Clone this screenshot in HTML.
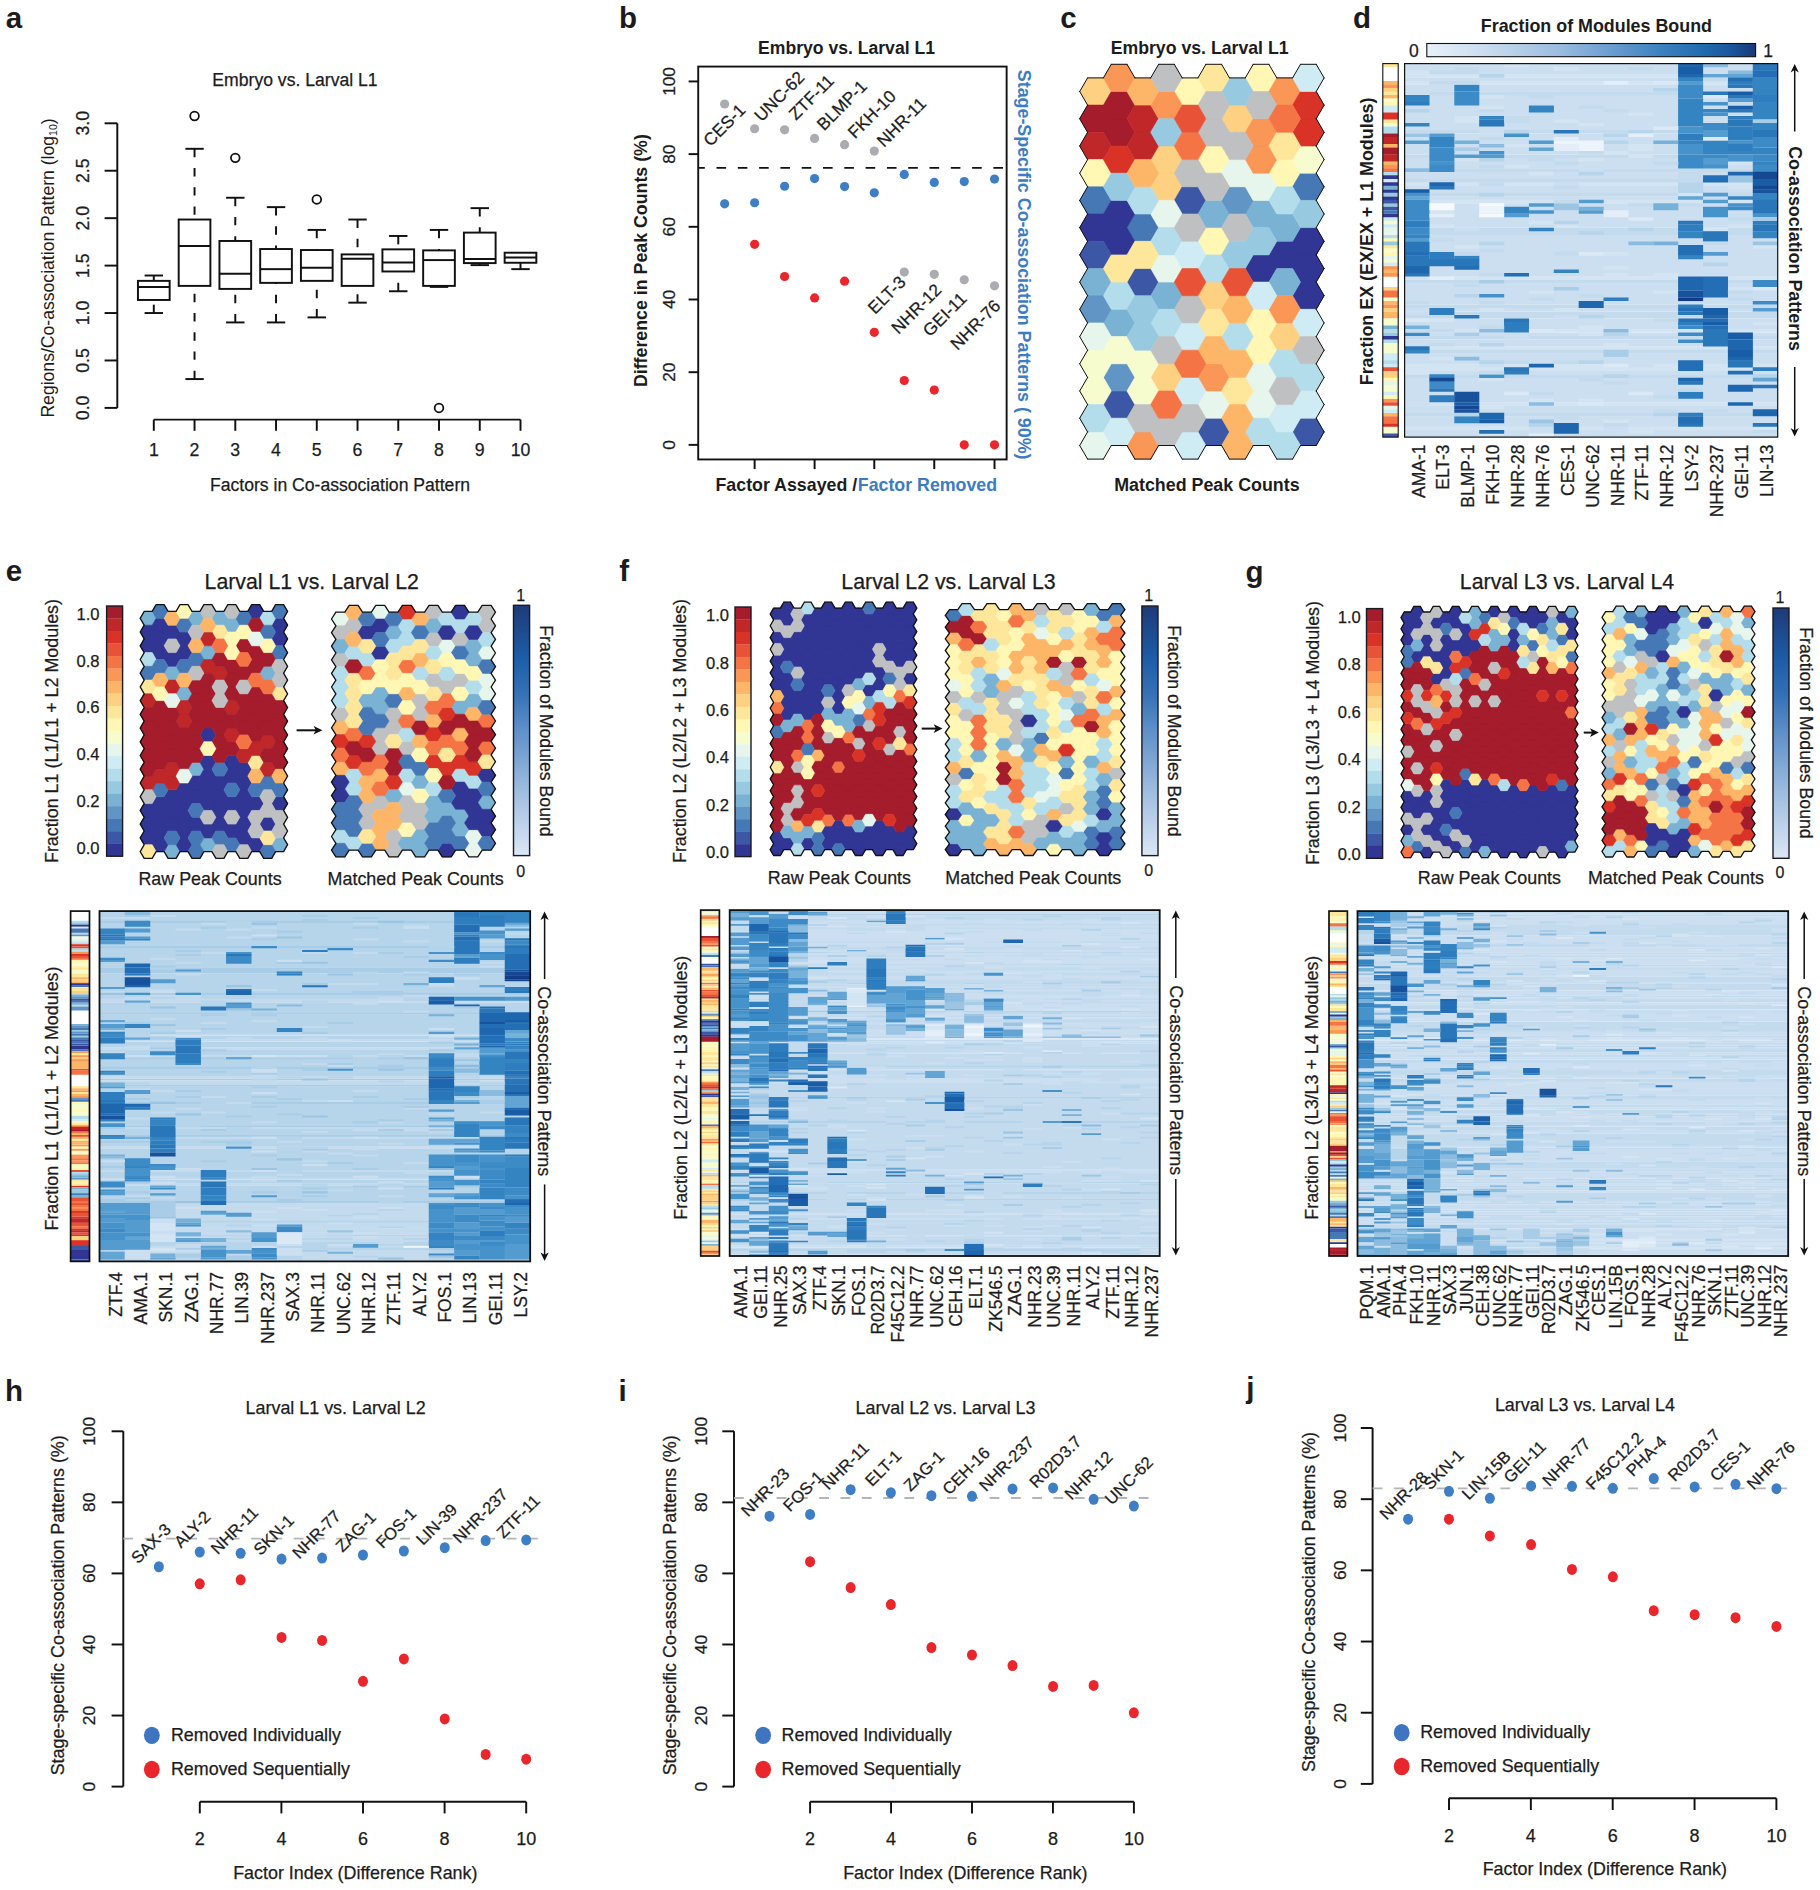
<!DOCTYPE html>
<html lang="en"><head><meta charset="utf-8"><title>Figure</title>
<style>html,body{margin:0;padding:0;background:#fff;}body{width:1820px;height:1890px;overflow:hidden;font-family:'Liberation Sans',Arial,Helvetica,sans-serif;}svg{display:block;}</style></head>
<body>
<svg width="1820" height="1890" viewBox="0 0 1820 1890" font-family="'Liberation Sans', Arial, Helvetica, sans-serif">
<rect x="0" y="0" width="1820" height="1890" fill="#ffffff"/>
<text x="5.80" y="28.00" font-size="29.5" text-anchor="start" font-weight="bold" fill="#1c1c1c">a</text>
<text x="295.00" y="85.50" font-size="17.6" text-anchor="middle" stroke="#1c1c1c" stroke-width="0.25" fill="#1c1c1c">Embryo vs. Larval L1</text>
<line x1="117.30" y1="123.30" x2="117.30" y2="407.90" stroke="#111" stroke-width="1.95"/>
<line x1="117.30" y1="407.90" x2="104.60" y2="407.90" stroke="#111" stroke-width="1.95"/>
<text x="88.80" y="407.90" font-size="17.7" text-anchor="middle" stroke="#1c1c1c" stroke-width="0.25" fill="#1c1c1c" transform="rotate(-90 88.80 407.90)">0.0</text>
<line x1="117.30" y1="360.47" x2="104.60" y2="360.47" stroke="#111" stroke-width="1.95"/>
<text x="88.80" y="360.47" font-size="17.7" text-anchor="middle" stroke="#1c1c1c" stroke-width="0.25" fill="#1c1c1c" transform="rotate(-90 88.80 360.47)">0.5</text>
<line x1="117.30" y1="313.03" x2="104.60" y2="313.03" stroke="#111" stroke-width="1.95"/>
<text x="88.80" y="313.03" font-size="17.7" text-anchor="middle" stroke="#1c1c1c" stroke-width="0.25" fill="#1c1c1c" transform="rotate(-90 88.80 313.03)">1.0</text>
<line x1="117.30" y1="265.60" x2="104.60" y2="265.60" stroke="#111" stroke-width="1.95"/>
<text x="88.80" y="265.60" font-size="17.7" text-anchor="middle" stroke="#1c1c1c" stroke-width="0.25" fill="#1c1c1c" transform="rotate(-90 88.80 265.60)">1.5</text>
<line x1="117.30" y1="218.17" x2="104.60" y2="218.17" stroke="#111" stroke-width="1.95"/>
<text x="88.80" y="218.17" font-size="17.7" text-anchor="middle" stroke="#1c1c1c" stroke-width="0.25" fill="#1c1c1c" transform="rotate(-90 88.80 218.17)">2.0</text>
<line x1="117.30" y1="170.73" x2="104.60" y2="170.73" stroke="#111" stroke-width="1.95"/>
<text x="88.80" y="170.73" font-size="17.7" text-anchor="middle" stroke="#1c1c1c" stroke-width="0.25" fill="#1c1c1c" transform="rotate(-90 88.80 170.73)">2.5</text>
<line x1="117.30" y1="123.30" x2="104.60" y2="123.30" stroke="#111" stroke-width="1.95"/>
<text x="88.80" y="123.30" font-size="17.7" text-anchor="middle" stroke="#1c1c1c" stroke-width="0.25" fill="#1c1c1c" transform="rotate(-90 88.80 123.30)">3.0</text>
<text x="53.6" y="268" font-size="17.6" text-anchor="middle" fill="#1c1c1c" transform="rotate(-90 53.6 268)">Regions/Co-association Pattern (log<tspan font-size="10.5" dy="3.5">10</tspan><tspan dy="-3.5">)</tspan></text>
<line x1="153.80" y1="419.60" x2="520.50" y2="419.60" stroke="#111" stroke-width="1.95"/>
<line x1="153.80" y1="419.60" x2="153.80" y2="430.80" stroke="#111" stroke-width="1.95"/>
<text x="153.80" y="455.80" font-size="17.7" text-anchor="middle" stroke="#1c1c1c" stroke-width="0.25" fill="#1c1c1c">1</text>
<line x1="194.54" y1="419.60" x2="194.54" y2="430.80" stroke="#111" stroke-width="1.95"/>
<text x="194.54" y="455.80" font-size="17.7" text-anchor="middle" stroke="#1c1c1c" stroke-width="0.25" fill="#1c1c1c">2</text>
<line x1="235.29" y1="419.60" x2="235.29" y2="430.80" stroke="#111" stroke-width="1.95"/>
<text x="235.29" y="455.80" font-size="17.7" text-anchor="middle" stroke="#1c1c1c" stroke-width="0.25" fill="#1c1c1c">3</text>
<line x1="276.03" y1="419.60" x2="276.03" y2="430.80" stroke="#111" stroke-width="1.95"/>
<text x="276.03" y="455.80" font-size="17.7" text-anchor="middle" stroke="#1c1c1c" stroke-width="0.25" fill="#1c1c1c">4</text>
<line x1="316.78" y1="419.60" x2="316.78" y2="430.80" stroke="#111" stroke-width="1.95"/>
<text x="316.78" y="455.80" font-size="17.7" text-anchor="middle" stroke="#1c1c1c" stroke-width="0.25" fill="#1c1c1c">5</text>
<line x1="357.52" y1="419.60" x2="357.52" y2="430.80" stroke="#111" stroke-width="1.95"/>
<text x="357.52" y="455.80" font-size="17.7" text-anchor="middle" stroke="#1c1c1c" stroke-width="0.25" fill="#1c1c1c">6</text>
<line x1="398.27" y1="419.60" x2="398.27" y2="430.80" stroke="#111" stroke-width="1.95"/>
<text x="398.27" y="455.80" font-size="17.7" text-anchor="middle" stroke="#1c1c1c" stroke-width="0.25" fill="#1c1c1c">7</text>
<line x1="439.01" y1="419.60" x2="439.01" y2="430.80" stroke="#111" stroke-width="1.95"/>
<text x="439.01" y="455.80" font-size="17.7" text-anchor="middle" stroke="#1c1c1c" stroke-width="0.25" fill="#1c1c1c">8</text>
<line x1="479.76" y1="419.60" x2="479.76" y2="430.80" stroke="#111" stroke-width="1.95"/>
<text x="479.76" y="455.80" font-size="17.7" text-anchor="middle" stroke="#1c1c1c" stroke-width="0.25" fill="#1c1c1c">9</text>
<line x1="520.50" y1="419.60" x2="520.50" y2="430.80" stroke="#111" stroke-width="1.95"/>
<text x="520.50" y="455.80" font-size="17.7" text-anchor="middle" stroke="#1c1c1c" stroke-width="0.25" fill="#1c1c1c">10</text>
<text x="340.00" y="491.00" font-size="17.6" text-anchor="middle" stroke="#1c1c1c" stroke-width="0.25" fill="#1c1c1c">Factors in Co-association Pattern</text>
<line x1="153.80" y1="275.51" x2="153.80" y2="280.87" stroke="#111" stroke-width="1.95" stroke-dasharray="8.4 10.8"/>
<line x1="153.80" y1="313.04" x2="153.80" y2="299.97" stroke="#111" stroke-width="1.95" stroke-dasharray="8.4 10.8"/>
<line x1="144.60" y1="275.51" x2="163.00" y2="275.51" stroke="#111" stroke-width="1.95"/>
<line x1="144.60" y1="313.04" x2="163.00" y2="313.04" stroke="#111" stroke-width="1.95"/>
<rect x="137.95" y="280.87" width="31.70" height="19.10" fill="#fff" stroke="#111" stroke-width="1.95"/>
<line x1="137.95" y1="286.90" x2="169.65" y2="286.90" stroke="#111" stroke-width="1.95"/>
<line x1="194.54" y1="148.81" x2="194.54" y2="219.53" stroke="#111" stroke-width="1.95" stroke-dasharray="8.4 10.8"/>
<line x1="194.54" y1="379.07" x2="194.54" y2="285.90" stroke="#111" stroke-width="1.95" stroke-dasharray="8.4 10.8"/>
<line x1="185.34" y1="148.81" x2="203.74" y2="148.81" stroke="#111" stroke-width="1.95"/>
<line x1="185.34" y1="379.07" x2="203.74" y2="379.07" stroke="#111" stroke-width="1.95"/>
<rect x="178.69" y="219.53" width="31.70" height="66.36" fill="#fff" stroke="#111" stroke-width="1.95"/>
<line x1="178.69" y1="246.01" x2="210.39" y2="246.01" stroke="#111" stroke-width="1.95"/>
<circle cx="194.54" cy="115.97" r="4.35" fill="none" stroke="#111" stroke-width="1.75"/>
<line x1="235.29" y1="197.75" x2="235.29" y2="240.98" stroke="#111" stroke-width="1.95" stroke-dasharray="8.4 10.8"/>
<line x1="235.29" y1="322.43" x2="235.29" y2="288.91" stroke="#111" stroke-width="1.95" stroke-dasharray="8.4 10.8"/>
<line x1="226.09" y1="197.75" x2="244.49" y2="197.75" stroke="#111" stroke-width="1.95"/>
<line x1="226.09" y1="322.43" x2="244.49" y2="322.43" stroke="#111" stroke-width="1.95"/>
<rect x="219.44" y="240.98" width="31.70" height="47.93" fill="#fff" stroke="#111" stroke-width="1.95"/>
<line x1="219.44" y1="273.83" x2="251.14" y2="273.83" stroke="#111" stroke-width="1.95"/>
<circle cx="235.29" cy="157.86" r="4.35" fill="none" stroke="#111" stroke-width="1.75"/>
<line x1="276.03" y1="207.13" x2="276.03" y2="249.03" stroke="#111" stroke-width="1.95" stroke-dasharray="8.4 10.8"/>
<line x1="276.03" y1="322.43" x2="276.03" y2="282.88" stroke="#111" stroke-width="1.95" stroke-dasharray="8.4 10.8"/>
<line x1="266.83" y1="207.13" x2="285.23" y2="207.13" stroke="#111" stroke-width="1.95"/>
<line x1="266.83" y1="322.43" x2="285.23" y2="322.43" stroke="#111" stroke-width="1.95"/>
<rect x="260.18" y="249.03" width="31.70" height="33.85" fill="#fff" stroke="#111" stroke-width="1.95"/>
<line x1="260.18" y1="269.14" x2="291.88" y2="269.14" stroke="#111" stroke-width="1.95"/>
<line x1="316.78" y1="229.92" x2="316.78" y2="250.03" stroke="#111" stroke-width="1.95" stroke-dasharray="8.4 10.8"/>
<line x1="316.78" y1="317.40" x2="316.78" y2="280.87" stroke="#111" stroke-width="1.95" stroke-dasharray="8.4 10.8"/>
<line x1="307.58" y1="229.92" x2="325.98" y2="229.92" stroke="#111" stroke-width="1.95"/>
<line x1="307.58" y1="317.40" x2="325.98" y2="317.40" stroke="#111" stroke-width="1.95"/>
<rect x="300.93" y="250.03" width="31.70" height="30.84" fill="#fff" stroke="#111" stroke-width="1.95"/>
<line x1="300.93" y1="267.80" x2="332.63" y2="267.80" stroke="#111" stroke-width="1.95"/>
<circle cx="316.78" cy="199.42" r="4.35" fill="none" stroke="#111" stroke-width="1.75"/>
<line x1="357.52" y1="219.53" x2="357.52" y2="254.39" stroke="#111" stroke-width="1.95" stroke-dasharray="8.4 10.8"/>
<line x1="357.52" y1="302.65" x2="357.52" y2="285.90" stroke="#111" stroke-width="1.95" stroke-dasharray="8.4 10.8"/>
<line x1="348.32" y1="219.53" x2="366.72" y2="219.53" stroke="#111" stroke-width="1.95"/>
<line x1="348.32" y1="302.65" x2="366.72" y2="302.65" stroke="#111" stroke-width="1.95"/>
<rect x="341.67" y="254.39" width="31.70" height="31.51" fill="#fff" stroke="#111" stroke-width="1.95"/>
<line x1="341.67" y1="258.75" x2="373.37" y2="258.75" stroke="#111" stroke-width="1.95"/>
<line x1="398.27" y1="235.96" x2="398.27" y2="249.36" stroke="#111" stroke-width="1.95" stroke-dasharray="8.4 10.8"/>
<line x1="398.27" y1="291.26" x2="398.27" y2="271.48" stroke="#111" stroke-width="1.95" stroke-dasharray="8.4 10.8"/>
<line x1="389.07" y1="235.96" x2="407.47" y2="235.96" stroke="#111" stroke-width="1.95"/>
<line x1="389.07" y1="291.26" x2="407.47" y2="291.26" stroke="#111" stroke-width="1.95"/>
<rect x="382.42" y="249.36" width="31.70" height="22.12" fill="#fff" stroke="#111" stroke-width="1.95"/>
<line x1="382.42" y1="262.43" x2="414.12" y2="262.43" stroke="#111" stroke-width="1.95"/>
<line x1="439.01" y1="229.92" x2="439.01" y2="250.37" stroke="#111" stroke-width="1.95" stroke-dasharray="8.4 10.8"/>
<line x1="439.01" y1="286.90" x2="439.01" y2="285.90" stroke="#111" stroke-width="1.95" stroke-dasharray="8.4 10.8"/>
<line x1="429.81" y1="229.92" x2="448.21" y2="229.92" stroke="#111" stroke-width="1.95"/>
<line x1="429.81" y1="286.90" x2="448.21" y2="286.90" stroke="#111" stroke-width="1.95"/>
<rect x="423.16" y="250.37" width="31.70" height="35.53" fill="#fff" stroke="#111" stroke-width="1.95"/>
<line x1="423.16" y1="260.09" x2="454.86" y2="260.09" stroke="#111" stroke-width="1.95"/>
<circle cx="439.01" cy="407.90" r="4.35" fill="none" stroke="#111" stroke-width="1.75"/>
<line x1="479.76" y1="208.14" x2="479.76" y2="232.60" stroke="#111" stroke-width="1.95" stroke-dasharray="8.4 10.8"/>
<line x1="479.76" y1="265.12" x2="479.76" y2="263.10" stroke="#111" stroke-width="1.95" stroke-dasharray="8.4 10.8"/>
<line x1="470.56" y1="208.14" x2="488.96" y2="208.14" stroke="#111" stroke-width="1.95"/>
<line x1="470.56" y1="265.12" x2="488.96" y2="265.12" stroke="#111" stroke-width="1.95"/>
<rect x="463.91" y="232.60" width="31.70" height="30.50" fill="#fff" stroke="#111" stroke-width="1.95"/>
<line x1="463.91" y1="259.08" x2="495.61" y2="259.08" stroke="#111" stroke-width="1.95"/>
<line x1="520.50" y1="269.14" x2="520.50" y2="262.77" stroke="#111" stroke-width="1.95" stroke-dasharray="8.4 10.8"/>
<line x1="511.30" y1="269.14" x2="529.70" y2="269.14" stroke="#111" stroke-width="1.95"/>
<rect x="504.65" y="252.71" width="31.70" height="10.05" fill="#fff" stroke="#111" stroke-width="1.95"/>
<line x1="504.65" y1="257.41" x2="536.35" y2="257.41" stroke="#111" stroke-width="1.95"/>
<text x="619.00" y="28.00" font-size="29.5" text-anchor="start" font-weight="bold" fill="#1c1c1c">b</text>
<text x="846.50" y="53.60" font-size="17.6" text-anchor="middle" font-weight="bold" fill="#1c1c1c">Embryo vs. Larval L1</text>
<line x1="698.22" y1="444.87" x2="688.60" y2="444.87" stroke="#111" stroke-width="1.95"/>
<text x="675.30" y="444.87" font-size="17.3" text-anchor="middle" stroke="#1c1c1c" stroke-width="0.25" fill="#1c1c1c" transform="rotate(-90 675.30 444.87)">0</text>
<line x1="698.22" y1="372.18" x2="688.60" y2="372.18" stroke="#111" stroke-width="1.95"/>
<text x="675.30" y="372.18" font-size="17.3" text-anchor="middle" stroke="#1c1c1c" stroke-width="0.25" fill="#1c1c1c" transform="rotate(-90 675.30 372.18)">20</text>
<line x1="698.22" y1="299.49" x2="688.60" y2="299.49" stroke="#111" stroke-width="1.95"/>
<text x="675.30" y="299.49" font-size="17.3" text-anchor="middle" stroke="#1c1c1c" stroke-width="0.25" fill="#1c1c1c" transform="rotate(-90 675.30 299.49)">40</text>
<line x1="698.22" y1="226.81" x2="688.60" y2="226.81" stroke="#111" stroke-width="1.95"/>
<text x="675.30" y="226.81" font-size="17.3" text-anchor="middle" stroke="#1c1c1c" stroke-width="0.25" fill="#1c1c1c" transform="rotate(-90 675.30 226.81)">60</text>
<line x1="698.22" y1="154.12" x2="688.60" y2="154.12" stroke="#111" stroke-width="1.95"/>
<text x="675.30" y="154.12" font-size="17.3" text-anchor="middle" stroke="#1c1c1c" stroke-width="0.25" fill="#1c1c1c" transform="rotate(-90 675.30 154.12)">80</text>
<line x1="698.22" y1="81.44" x2="688.60" y2="81.44" stroke="#111" stroke-width="1.95"/>
<text x="675.30" y="81.44" font-size="17.3" text-anchor="middle" stroke="#1c1c1c" stroke-width="0.25" fill="#1c1c1c" transform="rotate(-90 675.30 81.44)">100</text>
<line x1="754.62" y1="459.45" x2="754.62" y2="469.08" stroke="#111" stroke-width="1.95"/>
<line x1="814.59" y1="459.45" x2="814.59" y2="469.08" stroke="#111" stroke-width="1.95"/>
<line x1="874.29" y1="459.45" x2="874.29" y2="469.08" stroke="#111" stroke-width="1.95"/>
<line x1="934.27" y1="459.45" x2="934.27" y2="469.08" stroke="#111" stroke-width="1.95"/>
<line x1="994.52" y1="459.45" x2="994.52" y2="469.08" stroke="#111" stroke-width="1.95"/>
<line x1="698.22" y1="167.82" x2="1006.62" y2="167.82" stroke="#111" stroke-width="1.8" stroke-dasharray="9.6 11.7" stroke-dashoffset="3"/>
<rect x="698.22" y="66.58" width="308.41" height="392.87" fill="none" stroke="#111" stroke-width="1.9"/>
<text x="646.80" y="260.60" font-size="17.8" text-anchor="middle" font-weight="bold" fill="#1c1c1c" transform="rotate(-90 646.80 260.60)">Difference in Peak Counts (%)</text>
<text x="1017.60" y="264.70" font-size="17.85" text-anchor="middle" font-weight="bold" fill="#3b7cc2" transform="rotate(90 1017.60 264.70)">Stage-Specific Co-association Patterns ( 90%)</text>
<text x="715.50" y="491.00" font-size="17.8" text-anchor="start" font-weight="bold" fill="#1c1c1c">Factor Assayed /</text>
<text x="857.80" y="491.00" font-size="17.8" text-anchor="start" font-weight="bold" fill="#3b7cc2">Factor Removed</text>
<circle cx="724.63" cy="103.99" r="4.6" fill="#abacaf" stroke="none" stroke-width="1"/>
<circle cx="754.62" cy="128.76" r="4.6" fill="#abacaf" stroke="none" stroke-width="1"/>
<circle cx="784.60" cy="129.86" r="4.6" fill="#abacaf" stroke="none" stroke-width="1"/>
<circle cx="814.59" cy="138.38" r="4.6" fill="#abacaf" stroke="none" stroke-width="1"/>
<circle cx="844.58" cy="144.71" r="4.6" fill="#abacaf" stroke="none" stroke-width="1"/>
<circle cx="874.29" cy="151.04" r="4.6" fill="#abacaf" stroke="none" stroke-width="1"/>
<circle cx="904.28" cy="272.09" r="4.6" fill="#abacaf" stroke="none" stroke-width="1"/>
<circle cx="934.27" cy="274.29" r="4.6" fill="#abacaf" stroke="none" stroke-width="1"/>
<circle cx="964.26" cy="279.80" r="4.6" fill="#abacaf" stroke="none" stroke-width="1"/>
<circle cx="994.52" cy="285.85" r="4.6" fill="#abacaf" stroke="none" stroke-width="1"/>
<circle cx="724.63" cy="203.86" r="4.6" fill="#3e7ec4" stroke="none" stroke-width="1"/>
<circle cx="754.62" cy="202.76" r="4.6" fill="#3e7ec4" stroke="none" stroke-width="1"/>
<circle cx="784.60" cy="186.26" r="4.6" fill="#3e7ec4" stroke="none" stroke-width="1"/>
<circle cx="814.59" cy="178.55" r="4.6" fill="#3e7ec4" stroke="none" stroke-width="1"/>
<circle cx="844.58" cy="186.53" r="4.6" fill="#3e7ec4" stroke="none" stroke-width="1"/>
<circle cx="874.29" cy="192.86" r="4.6" fill="#3e7ec4" stroke="none" stroke-width="1"/>
<circle cx="904.28" cy="174.43" r="4.6" fill="#3e7ec4" stroke="none" stroke-width="1"/>
<circle cx="934.27" cy="182.40" r="4.6" fill="#3e7ec4" stroke="none" stroke-width="1"/>
<circle cx="964.26" cy="181.58" r="4.6" fill="#3e7ec4" stroke="none" stroke-width="1"/>
<circle cx="994.52" cy="179.10" r="4.6" fill="#3e7ec4" stroke="none" stroke-width="1"/>
<circle cx="754.62" cy="244.31" r="4.6" fill="#e8262c" stroke="none" stroke-width="1"/>
<circle cx="784.60" cy="276.49" r="4.6" fill="#e8262c" stroke="none" stroke-width="1"/>
<circle cx="814.59" cy="297.95" r="4.6" fill="#e8262c" stroke="none" stroke-width="1"/>
<circle cx="844.58" cy="281.17" r="4.6" fill="#e8262c" stroke="none" stroke-width="1"/>
<circle cx="874.29" cy="332.34" r="4.6" fill="#e8262c" stroke="none" stroke-width="1"/>
<circle cx="904.28" cy="380.49" r="4.6" fill="#e8262c" stroke="none" stroke-width="1"/>
<circle cx="934.27" cy="390.12" r="4.6" fill="#e8262c" stroke="none" stroke-width="1"/>
<circle cx="964.26" cy="444.87" r="4.6" fill="#e8262c" stroke="none" stroke-width="1"/>
<circle cx="994.52" cy="444.87" r="4.6" fill="#e8262c" stroke="none" stroke-width="1"/>
<text x="710.50" y="147.20" font-size="17.3" text-anchor="start" stroke="#1c1c1c" stroke-width="0.25" fill="#1c1c1c" transform="rotate(-45 710.50 147.20)">CES-1</text>
<text x="761.50" y="122.50" font-size="17.3" text-anchor="start" stroke="#1c1c1c" stroke-width="0.25" fill="#1c1c1c" transform="rotate(-45 761.50 122.50)">UNC-62</text>
<text x="796.00" y="121.00" font-size="17.3" text-anchor="start" stroke="#1c1c1c" stroke-width="0.25" fill="#1c1c1c" transform="rotate(-45 796.00 121.00)">ZTF-11</text>
<text x="824.00" y="131.50" font-size="17.3" text-anchor="start" stroke="#1c1c1c" stroke-width="0.25" fill="#1c1c1c" transform="rotate(-45 824.00 131.50)">BLMP-1</text>
<text x="855.00" y="139.50" font-size="17.3" text-anchor="start" stroke="#1c1c1c" stroke-width="0.25" fill="#1c1c1c" transform="rotate(-45 855.00 139.50)">FKH-10</text>
<text x="884.00" y="148.00" font-size="17.3" text-anchor="start" stroke="#1c1c1c" stroke-width="0.25" fill="#1c1c1c" transform="rotate(-45 884.00 148.00)">NHR-11</text>
<text x="875.00" y="315.00" font-size="17.3" text-anchor="start" stroke="#1c1c1c" stroke-width="0.25" fill="#1c1c1c" transform="rotate(-45 875.00 315.00)">ELT-3</text>
<text x="898.50" y="335.00" font-size="17.3" text-anchor="start" stroke="#1c1c1c" stroke-width="0.25" fill="#1c1c1c" transform="rotate(-45 898.50 335.00)">NHR-12</text>
<text x="930.00" y="337.50" font-size="17.3" text-anchor="start" stroke="#1c1c1c" stroke-width="0.25" fill="#1c1c1c" transform="rotate(-45 930.00 337.50)">GEI-11</text>
<text x="957.50" y="351.00" font-size="17.3" text-anchor="start" stroke="#1c1c1c" stroke-width="0.25" fill="#1c1c1c" transform="rotate(-45 957.50 351.00)">NHR-76</text>
<text x="1060.20" y="27.50" font-size="29.5" text-anchor="start" font-weight="bold" fill="#1c1c1c">c</text>
<text x="1199.60" y="53.70" font-size="17.7" text-anchor="middle" font-weight="bold" fill="#1c1c1c">Embryo vs. Larval L1</text>
<text x="1206.90" y="490.80" font-size="17.85" text-anchor="middle" font-weight="bold" fill="#1c1c1c">Matched Peak Counts</text>
<path d="M1079.7 91.5L1087.6 77.9L1103.4 77.9L1111.3 91.5L1103.4 105.1L1087.6 105.1ZM1150.7 159.6L1158.6 146.0L1174.3 146.0L1182.2 159.6L1174.3 173.2L1158.6 173.2ZM1150.7 186.8L1158.6 173.2L1174.3 173.2L1182.2 186.8L1174.3 200.4L1158.6 200.4ZM1150.7 377.4L1158.6 363.8L1174.3 363.8L1182.2 377.4L1174.3 391.0L1158.6 391.0ZM1198.0 295.7L1205.9 282.1L1221.6 282.1L1229.5 295.7L1221.6 309.3L1205.9 309.3ZM1221.6 118.7L1229.5 105.1L1245.3 105.1L1253.2 118.7L1245.3 132.3L1229.5 132.3ZM1268.9 336.6L1276.8 322.9L1292.6 322.9L1300.5 336.6L1292.6 350.2L1276.8 350.2Z" fill="#fed081" stroke="#fed081" stroke-width="0.6"/>
<path d="M1079.7 118.7L1087.6 105.1L1103.4 105.1L1111.3 118.7L1103.4 132.3L1087.6 132.3ZM1103.4 105.1L1111.3 91.5L1127.0 91.5L1134.9 105.1L1127.0 118.7L1111.3 118.7ZM1103.4 132.3L1111.3 118.7L1127.0 118.7L1134.9 132.3L1127.0 146.0L1111.3 146.0Z" fill="#a51c2c" stroke="#a51c2c" stroke-width="0.6"/>
<path d="M1079.7 146.0L1087.6 132.3L1103.4 132.3L1111.3 146.0L1103.4 159.6L1087.6 159.6ZM1127.0 118.7L1134.9 105.1L1150.7 105.1L1158.6 118.7L1150.7 132.3L1134.9 132.3ZM1127.0 146.0L1134.9 132.3L1150.7 132.3L1158.6 146.0L1150.7 159.6L1134.9 159.6Z" fill="#bf2729" stroke="#bf2729" stroke-width="0.6"/>
<path d="M1079.7 173.2L1087.6 159.6L1103.4 159.6L1111.3 173.2L1103.4 186.8L1087.6 186.8ZM1174.3 91.5L1182.2 77.9L1198.0 77.9L1205.9 91.5L1198.0 105.1L1182.2 105.1ZM1198.0 159.6L1205.9 146.0L1221.6 146.0L1229.5 159.6L1221.6 173.2L1205.9 173.2ZM1198.0 241.3L1205.9 227.6L1221.6 227.6L1229.5 241.3L1221.6 254.9L1205.9 254.9ZM1245.3 77.9L1253.2 64.3L1268.9 64.3L1276.8 77.9L1268.9 91.5L1253.2 91.5ZM1245.3 322.9L1253.2 309.3L1268.9 309.3L1276.8 322.9L1268.9 336.6L1253.2 336.6ZM1245.3 350.2L1253.2 336.6L1268.9 336.6L1276.8 350.2L1268.9 363.8L1253.2 363.8ZM1268.9 173.2L1276.8 159.6L1292.6 159.6L1300.5 173.2L1292.6 186.8L1276.8 186.8Z" fill="#fff7b3" stroke="#fff7b3" stroke-width="0.6"/>
<path d="M1079.7 200.4L1087.6 186.8L1103.4 186.8L1111.3 200.4L1103.4 214.0L1087.6 214.0ZM1127.0 227.6L1134.9 214.0L1150.7 214.0L1158.6 227.6L1150.7 241.3L1134.9 241.3ZM1292.6 186.8L1300.5 173.2L1316.2 173.2L1324.1 186.8L1316.2 200.4L1300.5 200.4Z" fill="#4778b6" stroke="#4778b6" stroke-width="0.6"/>
<path d="M1079.7 227.6L1087.6 214.0L1103.4 214.0L1111.3 227.6L1103.4 241.3L1087.6 241.3ZM1103.4 214.0L1111.3 200.4L1127.0 200.4L1134.9 214.0L1127.0 227.6L1111.3 227.6ZM1103.4 241.3L1111.3 227.6L1127.0 227.6L1134.9 241.3L1127.0 254.9L1111.3 254.9ZM1245.3 268.5L1253.2 254.9L1268.9 254.9L1276.8 268.5L1268.9 282.1L1253.2 282.1ZM1268.9 254.9L1276.8 241.3L1292.6 241.3L1300.5 254.9L1292.6 268.5L1276.8 268.5ZM1292.6 241.3L1300.5 227.6L1316.2 227.6L1324.1 241.3L1316.2 254.9L1300.5 254.9ZM1292.6 268.5L1300.5 254.9L1316.2 254.9L1324.1 268.5L1316.2 282.1L1300.5 282.1ZM1292.6 295.7L1300.5 282.1L1316.2 282.1L1324.1 295.7L1316.2 309.3L1300.5 309.3Z" fill="#313695" stroke="#313695" stroke-width="0.6"/>
<path d="M1079.7 254.9L1087.6 241.3L1103.4 241.3L1111.3 254.9L1103.4 268.5L1087.6 268.5ZM1103.4 404.6L1111.3 391.0L1127.0 391.0L1134.9 404.6L1127.0 418.2L1111.3 418.2ZM1127.0 282.1L1134.9 268.5L1150.7 268.5L1158.6 282.1L1150.7 295.7L1134.9 295.7ZM1174.3 200.4L1182.2 186.8L1198.0 186.8L1205.9 200.4L1198.0 214.0L1182.2 214.0ZM1198.0 431.9L1205.9 418.2L1221.6 418.2L1229.5 431.9L1221.6 445.5L1205.9 445.5ZM1292.6 431.9L1300.5 418.2L1316.2 418.2L1324.1 431.9L1316.2 445.5L1300.5 445.5Z" fill="#3c57a5" stroke="#3c57a5" stroke-width="0.6"/>
<path d="M1079.7 282.1L1087.6 268.5L1103.4 268.5L1111.3 282.1L1103.4 295.7L1087.6 295.7ZM1103.4 322.9L1111.3 309.3L1127.0 309.3L1134.9 322.9L1127.0 336.6L1111.3 336.6ZM1150.7 295.7L1158.6 282.1L1174.3 282.1L1182.2 295.7L1174.3 309.3L1158.6 309.3ZM1198.0 214.0L1205.9 200.4L1221.6 200.4L1229.5 214.0L1221.6 227.6L1205.9 227.6ZM1245.3 214.0L1253.2 200.4L1268.9 200.4L1276.8 214.0L1268.9 227.6L1253.2 227.6ZM1268.9 227.6L1276.8 214.0L1292.6 214.0L1300.5 227.6L1292.6 241.3L1276.8 241.3ZM1268.9 282.1L1276.8 268.5L1292.6 268.5L1300.5 282.1L1292.6 295.7L1276.8 295.7Z" fill="#7ab2d4" stroke="#7ab2d4" stroke-width="0.6"/>
<path d="M1079.7 309.3L1087.6 295.7L1103.4 295.7L1111.3 309.3L1103.4 322.9L1087.6 322.9ZM1103.4 377.4L1111.3 363.8L1127.0 363.8L1134.9 377.4L1127.0 391.0L1111.3 391.0ZM1221.6 200.4L1229.5 186.8L1245.3 186.8L1253.2 200.4L1245.3 214.0L1229.5 214.0Z" fill="#6095c5" stroke="#6095c5" stroke-width="0.6"/>
<path d="M1079.7 336.6L1087.6 322.9L1103.4 322.9L1111.3 336.6L1103.4 350.2L1087.6 350.2ZM1079.7 445.5L1087.6 431.9L1103.4 431.9L1111.3 445.5L1103.4 459.1L1087.6 459.1ZM1150.7 214.0L1158.6 200.4L1174.3 200.4L1182.2 214.0L1174.3 227.6L1158.6 227.6ZM1150.7 268.5L1158.6 254.9L1174.3 254.9L1182.2 268.5L1174.3 282.1L1158.6 282.1ZM1198.0 404.6L1205.9 391.0L1221.6 391.0L1229.5 404.6L1221.6 418.2L1205.9 418.2ZM1221.6 173.2L1229.5 159.6L1245.3 159.6L1253.2 173.2L1245.3 186.8L1229.5 186.8ZM1245.3 186.8L1253.2 173.2L1268.9 173.2L1276.8 186.8L1268.9 200.4L1253.2 200.4ZM1245.3 377.4L1253.2 363.8L1268.9 363.8L1276.8 377.4L1268.9 391.0L1253.2 391.0ZM1245.3 404.6L1253.2 391.0L1268.9 391.0L1276.8 404.6L1268.9 418.2L1253.2 418.2Z" fill="#e7f6ec" stroke="#e7f6ec" stroke-width="0.6"/>
<path d="M1079.7 363.8L1087.6 350.2L1103.4 350.2L1111.3 363.8L1103.4 377.4L1087.6 377.4ZM1079.7 391.0L1087.6 377.4L1103.4 377.4L1111.3 391.0L1103.4 404.6L1087.6 404.6ZM1103.4 350.2L1111.3 336.6L1127.0 336.6L1134.9 350.2L1127.0 363.8L1111.3 363.8ZM1127.0 363.8L1134.9 350.2L1150.7 350.2L1158.6 363.8L1150.7 377.4L1134.9 377.4ZM1127.0 391.0L1134.9 377.4L1150.7 377.4L1158.6 391.0L1150.7 404.6L1134.9 404.6ZM1292.6 159.6L1300.5 146.0L1316.2 146.0L1324.1 159.6L1316.2 173.2L1300.5 173.2Z" fill="#f7fcce" stroke="#f7fcce" stroke-width="0.6"/>
<path d="M1079.7 418.2L1087.6 404.6L1103.4 404.6L1111.3 418.2L1103.4 431.9L1087.6 431.9ZM1103.4 295.7L1111.3 282.1L1127.0 282.1L1134.9 295.7L1127.0 309.3L1111.3 309.3ZM1127.0 200.4L1134.9 186.8L1150.7 186.8L1158.6 200.4L1150.7 214.0L1134.9 214.0ZM1150.7 241.3L1158.6 227.6L1174.3 227.6L1182.2 241.3L1174.3 254.9L1158.6 254.9ZM1150.7 322.9L1158.6 309.3L1174.3 309.3L1182.2 322.9L1174.3 336.6L1158.6 336.6ZM1198.0 268.5L1205.9 254.9L1221.6 254.9L1229.5 268.5L1221.6 282.1L1205.9 282.1ZM1221.6 336.6L1229.5 322.9L1245.3 322.9L1253.2 336.6L1245.3 350.2L1229.5 350.2ZM1245.3 431.9L1253.2 418.2L1268.9 418.2L1276.8 431.9L1268.9 445.5L1253.2 445.5ZM1268.9 200.4L1276.8 186.8L1292.6 186.8L1300.5 200.4L1292.6 214.0L1276.8 214.0ZM1268.9 363.8L1276.8 350.2L1292.6 350.2L1300.5 363.8L1292.6 377.4L1276.8 377.4ZM1268.9 445.5L1276.8 431.9L1292.6 431.9L1300.5 445.5L1292.6 459.1L1276.8 459.1ZM1292.6 377.4L1300.5 363.8L1316.2 363.8L1324.1 377.4L1316.2 391.0L1300.5 391.0Z" fill="#b3ddeb" stroke="#b3ddeb" stroke-width="0.6"/>
<path d="M1103.4 77.9L1111.3 64.3L1127.0 64.3L1134.9 77.9L1127.0 91.5L1111.3 91.5ZM1127.0 445.5L1134.9 431.9L1150.7 431.9L1158.6 445.5L1150.7 459.1L1134.9 459.1ZM1150.7 105.1L1158.6 91.5L1174.3 91.5L1182.2 105.1L1174.3 118.7L1158.6 118.7ZM1198.0 377.4L1205.9 363.8L1221.6 363.8L1229.5 377.4L1221.6 391.0L1205.9 391.0ZM1245.3 132.3L1253.2 118.7L1268.9 118.7L1276.8 132.3L1268.9 146.0L1253.2 146.0ZM1245.3 159.6L1253.2 146.0L1268.9 146.0L1276.8 159.6L1268.9 173.2L1253.2 173.2ZM1268.9 91.5L1276.8 77.9L1292.6 77.9L1300.5 91.5L1292.6 105.1L1276.8 105.1ZM1268.9 309.3L1276.8 295.7L1292.6 295.7L1300.5 309.3L1292.6 322.9L1276.8 322.9Z" fill="#fa9656" stroke="#fa9656" stroke-width="0.6"/>
<path d="M1103.4 159.6L1111.3 146.0L1127.0 146.0L1134.9 159.6L1127.0 173.2L1111.3 173.2ZM1292.6 105.1L1300.5 91.5L1316.2 91.5L1324.1 105.1L1316.2 118.7L1300.5 118.7ZM1292.6 132.3L1300.5 118.7L1316.2 118.7L1324.1 132.3L1316.2 146.0L1300.5 146.0Z" fill="#d93328" stroke="#d93328" stroke-width="0.6"/>
<path d="M1103.4 186.8L1111.3 173.2L1127.0 173.2L1134.9 186.8L1127.0 200.4L1111.3 200.4ZM1127.0 309.3L1134.9 295.7L1150.7 295.7L1158.6 309.3L1150.7 322.9L1134.9 322.9ZM1127.0 336.6L1134.9 322.9L1150.7 322.9L1158.6 336.6L1150.7 350.2L1134.9 350.2ZM1150.7 132.3L1158.6 118.7L1174.3 118.7L1182.2 132.3L1174.3 146.0L1158.6 146.0ZM1221.6 91.5L1229.5 77.9L1245.3 77.9L1253.2 91.5L1245.3 105.1L1229.5 105.1ZM1221.6 254.9L1229.5 241.3L1245.3 241.3L1253.2 254.9L1245.3 268.5L1229.5 268.5ZM1245.3 241.3L1253.2 227.6L1268.9 227.6L1276.8 241.3L1268.9 254.9L1253.2 254.9ZM1292.6 214.0L1300.5 200.4L1316.2 200.4L1324.1 214.0L1316.2 227.6L1300.5 227.6Z" fill="#97c9e0" stroke="#97c9e0" stroke-width="0.6"/>
<path d="M1103.4 268.5L1111.3 254.9L1127.0 254.9L1134.9 268.5L1127.0 282.1L1111.3 282.1ZM1127.0 254.9L1134.9 241.3L1150.7 241.3L1158.6 254.9L1150.7 268.5L1134.9 268.5ZM1198.0 77.9L1205.9 64.3L1221.6 64.3L1229.5 77.9L1221.6 91.5L1205.9 91.5ZM1198.0 322.9L1205.9 309.3L1221.6 309.3L1229.5 322.9L1221.6 336.6L1205.9 336.6ZM1221.6 391.0L1229.5 377.4L1245.3 377.4L1253.2 391.0L1245.3 404.6L1229.5 404.6ZM1268.9 146.0L1276.8 132.3L1292.6 132.3L1300.5 146.0L1292.6 159.6L1276.8 159.6Z" fill="#fee79a" stroke="#fee79a" stroke-width="0.6"/>
<path d="M1103.4 431.9L1111.3 418.2L1127.0 418.2L1134.9 431.9L1127.0 445.5L1111.3 445.5ZM1174.3 254.9L1182.2 241.3L1198.0 241.3L1205.9 254.9L1198.0 268.5L1182.2 268.5ZM1174.3 336.6L1182.2 322.9L1198.0 322.9L1205.9 336.6L1198.0 350.2L1182.2 350.2ZM1174.3 391.0L1182.2 377.4L1198.0 377.4L1205.9 391.0L1198.0 404.6L1182.2 404.6ZM1174.3 445.5L1182.2 431.9L1198.0 431.9L1205.9 445.5L1198.0 459.1L1182.2 459.1ZM1245.3 295.7L1253.2 282.1L1268.9 282.1L1276.8 295.7L1268.9 309.3L1253.2 309.3ZM1268.9 418.2L1276.8 404.6L1292.6 404.6L1300.5 418.2L1292.6 431.9L1276.8 431.9ZM1292.6 77.9L1300.5 64.3L1316.2 64.3L1324.1 77.9L1316.2 91.5L1300.5 91.5ZM1292.6 322.9L1300.5 309.3L1316.2 309.3L1324.1 322.9L1316.2 336.6L1300.5 336.6ZM1292.6 404.6L1300.5 391.0L1316.2 391.0L1324.1 404.6L1316.2 418.2L1300.5 418.2Z" fill="#cfebf3" stroke="#cfebf3" stroke-width="0.6"/>
<path d="M1127.0 91.5L1134.9 77.9L1150.7 77.9L1158.6 91.5L1150.7 105.1L1134.9 105.1ZM1127.0 173.2L1134.9 159.6L1150.7 159.6L1158.6 173.2L1150.7 186.8L1134.9 186.8ZM1198.0 350.2L1205.9 336.6L1221.6 336.6L1229.5 350.2L1221.6 363.8L1205.9 363.8ZM1221.6 309.3L1229.5 295.7L1245.3 295.7L1253.2 309.3L1245.3 322.9L1229.5 322.9ZM1221.6 363.8L1229.5 350.2L1245.3 350.2L1253.2 363.8L1245.3 377.4L1229.5 377.4ZM1221.6 418.2L1229.5 404.6L1245.3 404.6L1253.2 418.2L1245.3 431.9L1229.5 431.9ZM1221.6 445.5L1229.5 431.9L1245.3 431.9L1253.2 445.5L1245.3 459.1L1229.5 459.1Z" fill="#fdb668" stroke="#fdb668" stroke-width="0.6"/>
<path d="M1127.0 418.2L1134.9 404.6L1150.7 404.6L1158.6 418.2L1150.7 431.9L1134.9 431.9ZM1150.7 77.9L1158.6 64.3L1174.3 64.3L1182.2 77.9L1174.3 91.5L1158.6 91.5ZM1150.7 350.2L1158.6 336.6L1174.3 336.6L1182.2 350.2L1174.3 363.8L1158.6 363.8ZM1150.7 431.9L1158.6 418.2L1174.3 418.2L1182.2 431.9L1174.3 445.5L1158.6 445.5ZM1174.3 173.2L1182.2 159.6L1198.0 159.6L1205.9 173.2L1198.0 186.8L1182.2 186.8ZM1174.3 227.6L1182.2 214.0L1198.0 214.0L1205.9 227.6L1198.0 241.3L1182.2 241.3ZM1174.3 309.3L1182.2 295.7L1198.0 295.7L1205.9 309.3L1198.0 322.9L1182.2 322.9ZM1174.3 418.2L1182.2 404.6L1198.0 404.6L1205.9 418.2L1198.0 431.9L1182.2 431.9ZM1198.0 105.1L1205.9 91.5L1221.6 91.5L1229.5 105.1L1221.6 118.7L1205.9 118.7ZM1198.0 132.3L1205.9 118.7L1221.6 118.7L1229.5 132.3L1221.6 146.0L1205.9 146.0ZM1198.0 186.8L1205.9 173.2L1221.6 173.2L1229.5 186.8L1221.6 200.4L1205.9 200.4ZM1221.6 146.0L1229.5 132.3L1245.3 132.3L1253.2 146.0L1245.3 159.6L1229.5 159.6ZM1221.6 227.6L1229.5 214.0L1245.3 214.0L1253.2 227.6L1245.3 241.3L1229.5 241.3ZM1245.3 105.1L1253.2 91.5L1268.9 91.5L1276.8 105.1L1268.9 118.7L1253.2 118.7ZM1268.9 391.0L1276.8 377.4L1292.6 377.4L1300.5 391.0L1292.6 404.6L1276.8 404.6ZM1292.6 350.2L1300.5 336.6L1316.2 336.6L1324.1 350.2L1316.2 363.8L1300.5 363.8Z" fill="#bfc0c2" stroke="#bfc0c2" stroke-width="0.6"/>
<path d="M1150.7 404.6L1158.6 391.0L1174.3 391.0L1182.2 404.6L1174.3 418.2L1158.6 418.2ZM1174.3 146.0L1182.2 132.3L1198.0 132.3L1205.9 146.0L1198.0 159.6L1182.2 159.6ZM1174.3 363.8L1182.2 350.2L1198.0 350.2L1205.9 363.8L1198.0 377.4L1182.2 377.4ZM1268.9 118.7L1276.8 105.1L1292.6 105.1L1300.5 118.7L1292.6 132.3L1276.8 132.3Z" fill="#f57446" stroke="#f57446" stroke-width="0.6"/>
<path d="M1174.3 118.7L1182.2 105.1L1198.0 105.1L1205.9 118.7L1198.0 132.3L1182.2 132.3ZM1174.3 282.1L1182.2 268.5L1198.0 268.5L1205.9 282.1L1198.0 295.7L1182.2 295.7ZM1221.6 282.1L1229.5 268.5L1245.3 268.5L1253.2 282.1L1245.3 295.7L1229.5 295.7Z" fill="#e85337" stroke="#e85337" stroke-width="0.6"/>
<path d="M1079.7 91.5L1087.6 77.9M1087.6 77.9L1103.4 77.9M1079.7 91.5L1087.6 105.1M1079.7 118.7L1087.6 105.1M1079.7 118.7L1087.6 132.3M1079.7 146.0L1087.6 132.3M1079.7 146.0L1087.6 159.6M1079.7 173.2L1087.6 159.6M1079.7 173.2L1087.6 186.8M1079.7 200.4L1087.6 186.8M1079.7 200.4L1087.6 214.0M1079.7 227.6L1087.6 214.0M1079.7 227.6L1087.6 241.3M1079.7 254.9L1087.6 241.3M1079.7 254.9L1087.6 268.5M1079.7 282.1L1087.6 268.5M1079.7 282.1L1087.6 295.7M1079.7 309.3L1087.6 295.7M1079.7 309.3L1087.6 322.9M1079.7 336.6L1087.6 322.9M1079.7 336.6L1087.6 350.2M1079.7 363.8L1087.6 350.2M1079.7 363.8L1087.6 377.4M1079.7 391.0L1087.6 377.4M1079.7 391.0L1087.6 404.6M1079.7 418.2L1087.6 404.6M1079.7 418.2L1087.6 431.9M1079.7 445.5L1087.6 431.9M1103.4 459.1L1111.3 445.5M1087.6 459.1L1103.4 459.1M1079.7 445.5L1087.6 459.1M1103.4 77.9L1111.3 64.3M1111.3 64.3L1127.0 64.3M1127.0 64.3L1134.9 77.9M1111.3 445.5L1127.0 445.5M1134.9 77.9L1150.7 77.9M1150.7 459.1L1158.6 445.5M1134.9 459.1L1150.7 459.1M1127.0 445.5L1134.9 459.1M1150.7 77.9L1158.6 64.3M1158.6 64.3L1174.3 64.3M1174.3 64.3L1182.2 77.9M1158.6 445.5L1174.3 445.5M1182.2 77.9L1198.0 77.9M1198.0 459.1L1205.9 445.5M1182.2 459.1L1198.0 459.1M1174.3 445.5L1182.2 459.1M1198.0 77.9L1205.9 64.3M1205.9 64.3L1221.6 64.3M1221.6 64.3L1229.5 77.9M1205.9 445.5L1221.6 445.5M1229.5 77.9L1245.3 77.9M1245.3 459.1L1253.2 445.5M1229.5 459.1L1245.3 459.1M1221.6 445.5L1229.5 459.1M1245.3 77.9L1253.2 64.3M1253.2 64.3L1268.9 64.3M1268.9 64.3L1276.8 77.9M1253.2 445.5L1268.9 445.5M1276.8 77.9L1292.6 77.9M1292.6 459.1L1300.5 445.5M1276.8 459.1L1292.6 459.1M1268.9 445.5L1276.8 459.1M1292.6 77.9L1300.5 64.3M1300.5 64.3L1316.2 64.3M1316.2 64.3L1324.1 77.9M1316.2 91.5L1324.1 77.9M1316.2 91.5L1324.1 105.1M1316.2 118.7L1324.1 105.1M1316.2 118.7L1324.1 132.3M1316.2 146.0L1324.1 132.3M1316.2 146.0L1324.1 159.6M1316.2 173.2L1324.1 159.6M1316.2 173.2L1324.1 186.8M1316.2 200.4L1324.1 186.8M1316.2 200.4L1324.1 214.0M1316.2 227.6L1324.1 214.0M1316.2 227.6L1324.1 241.3M1316.2 254.9L1324.1 241.3M1316.2 254.9L1324.1 268.5M1316.2 282.1L1324.1 268.5M1316.2 282.1L1324.1 295.7M1316.2 309.3L1324.1 295.7M1316.2 309.3L1324.1 322.9M1316.2 336.6L1324.1 322.9M1316.2 336.6L1324.1 350.2M1316.2 363.8L1324.1 350.2M1316.2 363.8L1324.1 377.4M1316.2 391.0L1324.1 377.4M1316.2 391.0L1324.1 404.6M1316.2 418.2L1324.1 404.6M1316.2 418.2L1324.1 431.9M1316.2 445.5L1324.1 431.9M1300.5 445.5L1316.2 445.5" fill="none" stroke="#111" stroke-width="1.0" stroke-linecap="round"/>
<text x="1353.00" y="28.00" font-size="29.5" text-anchor="start" font-weight="bold" fill="#1c1c1c">d</text>
<text x="1596.40" y="32.30" font-size="17.87" text-anchor="middle" font-weight="bold" fill="#1c1c1c">Fraction of Modules Bound</text>
<defs><linearGradient id="gb" x1="0" x2="1" y1="0" y2="0"><stop offset="0.0" stop-color="#e8f1fa"/><stop offset="0.2" stop-color="#c6daee"/><stop offset="0.4" stop-color="#9bbde0"/><stop offset="0.55" stop-color="#6e9fd1"/><stop offset="0.7" stop-color="#3f84c1"/><stop offset="0.85" stop-color="#1e69ae"/><stop offset="0.93" stop-color="#1a559c"/><stop offset="1.0" stop-color="#1b3877"/></linearGradient><linearGradient id="gbv" x1="0" x2="0" y1="1" y2="0"><stop offset="0.0" stop-color="#dbe7f5"/><stop offset="0.25" stop-color="#a1bee0"/><stop offset="0.5" stop-color="#5f90c9"/><stop offset="0.65" stop-color="#3471b6"/><stop offset="0.8" stop-color="#1c5ba6"/><stop offset="1.0" stop-color="#1f3a78"/></linearGradient></defs>
<rect x="1426.80" y="43.50" width="328.80" height="13.20" fill="url(#gb)" stroke="#111" stroke-width="1.1"/>
<text x="1413.80" y="56.60" font-size="17.5" text-anchor="middle" stroke="#1c1c1c" stroke-width="0.25" fill="#1c1c1c">0</text>
<text x="1768.00" y="56.60" font-size="17.5" text-anchor="middle" stroke="#1c1c1c" stroke-width="0.25" fill="#1c1c1c">1</text>
<path d="M1382.80 63.60h15.40v3.64h-15.40zM1382.80 91.53h15.40v3.64h-15.40zM1382.80 119.45h15.40v3.64h-15.40zM1382.80 245.11h15.40v3.64h-15.40z" fill="#fee79a"/>
<path d="M1382.80 67.09h15.40v3.64h-15.40zM1382.80 70.58h15.40v3.64h-15.40zM1382.80 74.07h15.40v3.64h-15.40zM1382.80 77.56h15.40v3.64h-15.40zM1382.80 276.53h15.40v3.64h-15.40zM1382.80 280.02h15.40v3.64h-15.40zM1382.80 283.51h15.40v3.64h-15.40z" fill="#ffffff"/>
<path d="M1382.80 81.05h15.40v3.64h-15.40zM1382.80 95.02h15.40v3.64h-15.40zM1382.80 143.89h15.40v3.64h-15.40zM1382.80 161.34h15.40v3.64h-15.40zM1382.80 269.55h15.40v3.64h-15.40zM1382.80 300.96h15.40v3.64h-15.40zM1382.80 311.44h15.40v3.64h-15.40zM1382.80 314.93h15.40v3.64h-15.40zM1382.80 412.67h15.40v3.64h-15.40z" fill="#fdb668"/>
<path d="M1382.80 84.54h15.40v3.64h-15.40zM1382.80 164.83h15.40v3.64h-15.40zM1382.80 266.06h15.40v3.64h-15.40zM1382.80 273.04h15.40v3.64h-15.40zM1382.80 304.46h15.40v3.64h-15.40zM1382.80 398.70h15.40v3.64h-15.40z" fill="#fa9656"/>
<path d="M1382.80 88.03h15.40v3.64h-15.40zM1382.80 287.00h15.40v3.64h-15.40zM1382.80 307.95h15.40v3.64h-15.40zM1382.80 370.78h15.40v3.64h-15.40zM1382.80 374.27h15.40v3.64h-15.40z" fill="#fed081"/>
<path d="M1382.80 98.51h15.40v3.64h-15.40zM1382.80 122.94h15.40v3.64h-15.40zM1382.80 220.68h15.40v3.64h-15.40zM1382.80 248.60h15.40v3.64h-15.40zM1382.80 259.08h15.40v3.64h-15.40zM1382.80 297.47h15.40v3.64h-15.40zM1382.80 318.42h15.40v3.64h-15.40zM1382.80 321.91h15.40v3.64h-15.40zM1382.80 342.85h15.40v3.64h-15.40zM1382.80 346.34h15.40v3.64h-15.40zM1382.80 349.83h15.40v3.64h-15.40zM1382.80 384.74h15.40v3.64h-15.40zM1382.80 388.23h15.40v3.64h-15.40zM1382.80 426.63h15.40v3.64h-15.40zM1382.80 430.12h15.40v3.64h-15.40z" fill="#f7fcce"/>
<path d="M1382.80 102.00h15.40v3.64h-15.40zM1382.80 238.13h15.40v3.64h-15.40zM1382.80 252.10h15.40v3.64h-15.40zM1382.80 377.76h15.40v3.64h-15.40zM1382.80 395.21h15.40v3.64h-15.40z" fill="#fff7b3"/>
<path d="M1382.80 105.49h15.40v3.64h-15.40zM1382.80 108.98h15.40v3.64h-15.40zM1382.80 178.79h15.40v3.64h-15.40zM1382.80 217.19h15.40v3.64h-15.40zM1382.80 224.17h15.40v3.64h-15.40zM1382.80 262.57h15.40v3.64h-15.40zM1382.80 353.32h15.40v3.64h-15.40zM1382.80 356.81h15.40v3.64h-15.40zM1382.80 363.80h15.40v3.64h-15.40zM1382.80 391.72h15.40v3.64h-15.40zM1382.80 409.17h15.40v3.64h-15.40z" fill="#cfebf3"/>
<path d="M1382.80 112.47h15.40v3.64h-15.40zM1382.80 115.96h15.40v3.64h-15.40zM1382.80 423.14h15.40v3.64h-15.40z" fill="#d93328"/>
<path d="M1382.80 126.43h15.40v3.64h-15.40zM1382.80 129.92h15.40v3.64h-15.40zM1382.80 171.81h15.40v3.64h-15.40zM1382.80 234.64h15.40v3.64h-15.40zM1382.80 328.89h15.40v3.64h-15.40zM1382.80 339.36h15.40v3.64h-15.40zM1382.80 360.31h15.40v3.64h-15.40z" fill="#b3ddeb"/>
<path d="M1382.80 133.41h15.40v3.64h-15.40zM1382.80 147.38h15.40v3.64h-15.40zM1382.80 150.87h15.40v3.64h-15.40z" fill="#a51c2c"/>
<path d="M1382.80 136.90h15.40v3.64h-15.40zM1382.80 140.39h15.40v3.64h-15.40zM1382.80 154.36h15.40v3.64h-15.40zM1382.80 157.85h15.40v3.64h-15.40z" fill="#bf2729"/>
<path d="M1382.80 168.32h15.40v3.64h-15.40zM1382.80 290.49h15.40v3.64h-15.40zM1382.80 293.98h15.40v3.64h-15.40zM1382.80 416.16h15.40v3.64h-15.40zM1382.80 419.65h15.40v3.64h-15.40z" fill="#f57446"/>
<path d="M1382.80 175.30h15.40v3.64h-15.40zM1382.80 182.28h15.40v3.64h-15.40zM1382.80 189.26h15.40v3.64h-15.40zM1382.80 196.24h15.40v3.64h-15.40zM1382.80 213.70h15.40v3.64h-15.40zM1382.80 335.87h15.40v3.64h-15.40z" fill="#313695"/>
<path d="M1382.80 185.77h15.40v3.64h-15.40zM1382.80 325.40h15.40v3.64h-15.40z" fill="#7ab2d4"/>
<path d="M1382.80 192.75h15.40v3.64h-15.40zM1382.80 203.23h15.40v3.64h-15.40zM1382.80 241.62h15.40v3.64h-15.40zM1382.80 332.38h15.40v3.64h-15.40z" fill="#97c9e0"/>
<path d="M1382.80 199.74h15.40v3.64h-15.40zM1382.80 206.72h15.40v3.64h-15.40zM1382.80 433.61h15.40v3.64h-15.40z" fill="#3c57a5"/>
<path d="M1382.80 210.21h15.40v3.64h-15.40z" fill="#4778b6"/>
<path d="M1382.80 227.66h15.40v3.64h-15.40zM1382.80 231.15h15.40v3.64h-15.40zM1382.80 255.59h15.40v3.64h-15.40zM1382.80 381.25h15.40v3.64h-15.40zM1382.80 405.68h15.40v3.64h-15.40z" fill="#e7f6ec"/>
<path d="M1382.80 367.29h15.40v3.64h-15.40zM1382.80 402.19h15.40v3.64h-15.40z" fill="#e85337"/>
<rect x="1382.80" y="63.60" width="15.40" height="373.50" fill="none" stroke="#111" stroke-width="1.1"/>
<path d="M1404.6 63.6h373.1v10.7h-373.1zM1404.6 77.6h373.1v3.7h-373.1zM1404.6 84.5h373.1v7.2h-373.1zM1404.6 95.0h373.1v35.1h-373.1zM1404.6 133.4h373.1v21.1h-373.1zM1404.6 157.8h373.1v10.7h-373.1zM1404.6 171.8h373.1v7.2h-373.1zM1404.6 185.8h373.1v7.2h-373.1zM1404.6 196.2h373.1v3.7h-373.1zM1404.6 203.2h373.1v24.6h-373.1zM1404.6 234.6h373.1v42.1h-373.1zM1404.6 283.5h373.1v21.1h-373.1zM1404.6 307.9h373.1v3.7h-373.1zM1404.6 318.4h373.1v10.7h-373.1zM1404.6 332.4h373.1v3.7h-373.1zM1404.6 339.4h373.1v7.2h-373.1zM1404.6 353.3h373.1v10.7h-373.1zM1404.6 370.8h373.1v3.7h-373.1zM1404.6 377.8h373.1v24.6h-373.1zM1404.6 405.7h373.1v7.2h-373.1zM1404.6 416.2h373.1v10.7h-373.1zM1404.6 430.1h373.1v7.2h-373.1z" fill="#ccdff1"/>
<path d="M1404.6 74.1h373.1v3.7h-373.1zM1404.6 81.1h373.1v3.7h-373.1zM1404.6 182.3h373.1v3.7h-373.1zM1404.6 199.7h373.1v3.7h-373.1zM1404.6 276.5h373.1v3.7h-373.1zM1404.6 328.9h373.1v3.7h-373.1zM1404.6 346.3h373.1v3.7h-373.1zM1404.6 363.8h373.1v7.2h-373.1zM1404.6 402.2h373.1v3.7h-373.1zM1404.6 426.6h373.1v3.7h-373.1z" fill="#d3e4f3"/>
<path d="M1404.6 91.5h373.1v3.7h-373.1zM1404.6 129.9h373.1v3.7h-373.1zM1404.6 154.4h373.1v3.7h-373.1zM1404.6 168.3h373.1v3.7h-373.1zM1404.6 178.8h373.1v3.7h-373.1zM1404.6 192.8h373.1v3.7h-373.1zM1404.6 227.7h373.1v7.2h-373.1zM1404.6 280.0h373.1v3.7h-373.1zM1404.6 304.5h373.1v3.7h-373.1zM1404.6 311.4h373.1v7.2h-373.1zM1404.6 335.9h373.1v3.7h-373.1zM1404.6 349.8h373.1v3.7h-373.1zM1404.6 374.3h373.1v3.7h-373.1zM1404.6 412.7h373.1v3.7h-373.1z" fill="#c4dbee"/>
<path d="M1417.0 70.6v3.6M1417.0 370.8v3.6M1441.9 210.2v3.6M1441.9 224.2v3.6M1441.9 318.4v3.6M1441.9 356.8v3.6M1466.8 116.0v7.1M1466.8 157.8v3.6M1466.8 245.1v3.6M1491.7 95.0v3.6M1491.7 105.5v3.6M1491.7 307.9v3.6M1491.7 377.8v3.6M1491.7 405.7v3.6M1491.7 433.6v3.6M1516.5 63.6v3.6M1516.5 143.9v3.6M1516.5 164.8v3.6M1541.4 171.8v3.6M1541.4 220.7v3.6M1541.4 290.5v3.6M1541.4 398.7v3.6M1566.3 67.1v3.6M1566.3 119.5v3.6M1566.3 224.2v3.6M1566.3 307.9v3.6M1591.2 122.9v3.6M1591.2 157.8v3.6M1591.2 325.4v3.6M1591.2 332.4v3.6M1591.2 398.7v3.6M1616.0 150.9v3.6M1616.0 252.1v3.6M1616.0 266.1v3.6M1616.0 273.0v3.6M1616.0 342.9v3.6M1616.0 419.6v3.6M1640.9 112.5v3.6M1640.9 143.9v7.1M1640.9 154.4v3.6M1640.9 430.1v3.6M1665.8 273.0v3.6M1665.8 290.5v3.6M1690.6 192.8v3.6M1715.5 227.7v3.6M1740.4 161.3v3.6M1740.4 185.8v3.6M1740.4 224.2v3.6M1740.4 287.0v3.6M1765.3 245.1v3.6M1765.3 321.9v3.6" stroke="#d3e4f3" stroke-width="25.02" fill="none"/>
<path d="M1417.0 91.5v3.6M1417.0 311.4v3.6M1417.0 402.2v3.6M1466.8 227.7v3.6M1491.7 129.9v3.6M1491.7 363.8v3.6M1516.5 335.9v3.6M1541.4 426.6v3.6M1566.3 182.3v3.6M1566.3 314.9v3.6M1591.2 168.3v3.6M1616.0 426.6v3.6M1640.9 363.8v3.6" stroke="#ccdff1" stroke-width="25.02" fill="none"/>
<path d="M1417.0 95.0v7.1M1417.0 122.9v3.6M1417.0 234.6v3.6M1417.0 349.8v3.6M1441.9 136.9v10.6M1441.9 374.3v3.6M1466.8 84.5v7.1M1466.8 255.6v3.6M1466.8 416.2v7.1M1491.7 116.0v3.6M1516.5 206.7v7.1M1541.4 105.5v7.1M1541.4 227.7v3.6M1566.3 269.5v3.6M1690.6 77.6v3.6M1690.6 98.5v28.1M1690.6 140.4v3.6M1690.6 231.2v7.1M1690.6 255.6v3.6M1715.5 109.0v3.6M1715.5 140.4v14.1M1740.4 150.9v3.6M1740.4 196.2v3.6M1765.3 77.6v17.6M1765.3 102.0v17.6M1765.3 122.9v7.1M1765.3 147.4v7.1M1765.3 161.3v3.6M1765.3 192.8v7.1M1765.3 231.2v7.1" stroke="#3584c2" stroke-width="25.02" fill="none"/>
<path d="M1417.0 102.0v3.6M1417.0 220.7v7.1M1441.9 252.1v7.1M1441.9 307.9v7.1M1441.9 395.2v7.1M1516.5 321.9v10.6M1516.5 370.8v3.6M1616.0 297.5v3.6M1690.6 133.4v7.1M1690.6 224.2v7.1M1690.6 304.5v3.6M1690.6 321.9v3.6M1690.6 391.7v7.1M1690.6 412.7v3.6M1740.4 81.1v3.6M1740.4 116.0v3.6M1740.4 126.4v14.1M1740.4 143.9v7.1M1765.3 95.0v7.1M1765.3 220.7v3.6M1765.3 367.3v3.6" stroke="#2e7dbe" stroke-width="25.02" fill="none"/>
<path d="M1417.0 109.0v3.6M1466.8 294.0v3.6M1466.8 412.7v3.6M1491.7 74.1v3.6M1491.7 157.8v3.6M1491.7 192.8v3.6M1491.7 241.6v3.6M1491.7 342.9v3.6M1491.7 360.3v3.6M1516.5 129.9v3.6M1541.4 423.1v3.6M1566.3 220.7v3.6M1591.2 171.8v3.6M1591.2 231.2v3.6M1591.2 314.9v3.6M1591.2 360.3v3.6M1616.0 133.4v3.6M1616.0 140.4v3.6M1616.0 332.4v3.6M1616.0 374.3v3.6M1640.9 129.9v3.6M1640.9 227.7v3.6M1665.8 88.0v3.6M1665.8 412.7v3.6M1690.6 182.3v10.6M1715.5 262.6v3.6M1765.3 374.3v3.6" stroke="#b6d4ea" stroke-width="25.02" fill="none"/>
<path d="M1417.0 133.4v3.6M1541.4 419.6v3.6M1566.3 203.2v7.1M1740.4 175.3v7.1M1765.3 241.6v3.6" stroke="#9bc5e3" stroke-width="25.02" fill="none"/>
<path d="M1417.0 140.4v3.6M1417.0 238.1v3.6M1441.9 133.4v3.6M1466.8 154.4v3.6M1491.7 154.4v3.6M1516.5 213.7v3.6M1541.4 140.4v3.6M1541.4 203.2v3.6M1591.2 199.7v3.6M1591.2 210.2v3.6M1690.6 81.1v3.6M1715.5 129.9v7.1M1715.5 157.8v7.1M1715.5 192.8v3.6M1715.5 199.7v3.6M1715.5 252.1v3.6M1740.4 98.5v3.6M1765.3 307.9v3.6" stroke="#549ccf" stroke-width="25.02" fill="none"/>
<path d="M1417.0 168.3v3.6M1466.8 356.8v3.6M1491.7 143.9v3.6M1491.7 328.9v3.6M1541.4 402.2v3.6M1616.0 328.9v3.6M1640.9 241.6v3.6M1715.5 63.6v3.6M1740.4 70.6v3.6" stroke="#8bbcdf" stroke-width="25.02" fill="none"/>
<path d="M1417.0 189.3v3.6M1466.8 402.2v3.6M1491.7 419.6v3.6M1690.6 67.1v7.1M1715.5 307.9v7.1M1715.5 321.9v3.6M1740.4 91.5v3.6M1740.4 105.5v3.6M1740.4 332.4v7.1M1740.4 349.8v7.1M1765.3 178.8v7.1" stroke="#1a5da7" stroke-width="25.02" fill="none"/>
<path d="M1417.0 192.8v3.6M1441.9 161.3v3.6M1491.7 150.9v3.6M1491.7 294.0v3.6M1491.7 374.3v3.6M1516.5 133.4v3.6M1541.4 210.2v3.6M1690.6 126.4v7.1M1690.6 143.9v10.6M1715.5 102.0v3.6M1715.5 112.5v3.6M1715.5 164.8v3.6M1715.5 206.7v10.6M1740.4 140.4v3.6M1740.4 154.4v7.1M1740.4 203.2v3.6M1765.3 213.7v3.6" stroke="#4693cb" stroke-width="25.02" fill="none"/>
<path d="M1417.0 196.2v3.6M1541.4 147.4v3.6M1690.6 196.2v3.6M1715.5 74.1v3.6M1740.4 74.1v3.6M1765.3 377.8v3.6" stroke="#62a5d4" stroke-width="25.02" fill="none"/>
<path d="M1417.0 199.7v21.1M1417.0 227.7v7.1M1417.0 332.4v3.6M1441.9 147.4v14.1M1441.9 164.8v7.1M1441.9 381.2v7.1M1466.8 91.5v14.1M1690.6 84.5v14.1M1690.6 154.4v14.1M1690.6 325.4v3.6M1690.6 332.4v3.6M1690.6 339.4v3.6M1715.5 122.9v7.1M1715.5 154.4v3.6M1740.4 206.7v3.6M1765.3 136.9v10.6M1765.3 154.4v7.1M1765.3 164.8v7.1M1765.3 280.0v7.1M1765.3 301.0v3.6" stroke="#3c8bc6" stroke-width="25.02" fill="none"/>
<path d="M1417.0 241.6v10.6M1417.0 255.6v10.6M1417.0 273.0v3.6M1417.0 346.3v3.6M1441.9 185.8v3.6M1441.9 259.1v7.1M1441.9 388.2v3.6M1466.8 259.1v7.1M1466.8 314.9v3.6M1491.7 119.5v7.1M1516.5 318.4v3.6M1516.5 367.3v3.6M1566.3 129.9v3.6M1690.6 220.7v3.6M1690.6 311.4v3.6M1690.6 381.2v3.6M1690.6 423.1v3.6M1715.5 91.5v3.6M1715.5 231.2v10.6M1715.5 328.9v17.6M1740.4 84.5v3.6M1740.4 95.0v3.6M1740.4 109.0v3.6M1740.4 119.5v7.1M1740.4 360.3v7.1M1765.3 63.6v7.1M1765.3 129.9v7.1M1765.3 199.7v14.1M1765.3 224.2v7.1M1765.3 384.7v3.6M1765.3 423.1v3.6" stroke="#2976b9" stroke-width="25.02" fill="none"/>
<path d="M1417.0 252.1v3.6M1466.8 266.1v3.6M1491.7 430.1v3.6M1516.5 273.0v3.6M1690.6 245.1v10.6M1690.6 307.9v3.6M1690.6 318.4v3.6M1690.6 360.3v10.6M1690.6 416.2v7.1M1715.5 175.3v7.1M1715.5 276.5v21.1M1715.5 318.4v3.6M1715.5 325.4v3.6M1740.4 77.6v3.6M1740.4 370.8v3.6M1765.3 70.6v7.1" stroke="#236eb4" stroke-width="25.02" fill="none"/>
<path d="M1417.0 266.1v7.1M1441.9 182.3v3.6M1491.7 412.7v7.1M1541.4 363.8v3.6M1566.3 423.1v10.6M1591.2 301.0v7.1M1690.6 63.6v3.6M1690.6 74.1v3.6M1690.6 276.5v14.1M1690.6 377.8v3.6M1715.5 314.9v3.6M1740.4 171.8v3.6M1740.4 339.4v10.6M1740.4 356.8v3.6M1740.4 384.7v7.1M1740.4 402.2v3.6M1765.3 409.2v7.1" stroke="#1e67af" stroke-width="25.02" fill="none"/>
<path d="M1417.0 301.0v3.6M1417.0 328.9v3.6M1441.9 70.6v3.6M1441.9 81.1v3.6M1441.9 238.1v3.6M1441.9 328.9v3.6M1441.9 342.9v3.6M1466.8 67.1v7.1M1466.8 81.1v3.6M1466.8 252.1v3.6M1466.8 283.5v3.6M1491.7 109.0v3.6M1491.7 136.9v3.6M1491.7 164.8v3.6M1491.7 182.3v3.6M1491.7 248.6v3.6M1491.7 273.0v3.6M1491.7 301.0v3.6M1491.7 325.4v3.6M1491.7 370.8v3.6M1516.5 116.0v7.1M1516.5 360.3v3.6M1541.4 95.0v3.6M1541.4 157.8v3.6M1541.4 297.5v3.6M1541.4 391.7v3.6M1566.3 161.3v3.6M1566.3 185.8v3.6M1566.3 199.7v3.6M1566.3 252.1v3.6M1566.3 360.3v3.6M1566.3 416.2v3.6M1591.2 105.5v3.6M1591.2 150.9v3.6M1591.2 294.0v3.6M1591.2 377.8v3.6M1616.0 109.0v3.6M1616.0 381.2v3.6M1616.0 423.1v3.6M1640.9 67.1v3.6M1640.9 203.2v3.6M1665.8 161.3v3.6M1665.8 318.4v3.6M1665.8 395.2v3.6M1665.8 409.2v3.6M1690.6 171.8v7.1M1690.6 203.2v3.6M1690.6 388.2v3.6M1715.5 77.6v3.6M1715.5 241.6v3.6M1715.5 409.2v3.6M1740.4 102.0v3.6M1740.4 217.2v3.6M1740.4 290.5v3.6M1740.4 297.5v3.6M1765.3 430.1v3.6" stroke="#c4dbee" stroke-width="25.02" fill="none"/>
<path d="M1417.0 318.4v3.6M1516.5 391.7v3.6M1541.4 328.9v3.6M1591.2 252.1v3.6M1591.2 402.2v3.6M1616.0 363.8v3.6M1640.9 217.2v3.6M1640.9 391.7v3.6M1665.8 81.1v3.6M1665.8 126.4v3.6M1715.5 95.0v3.6M1715.5 136.9v3.6M1765.3 287.0v3.6" stroke="#dbe8f6" stroke-width="25.02" fill="none"/>
<path d="M1417.0 325.4v3.6M1466.8 140.4v3.6M1591.2 206.7v3.6M1665.8 140.4v3.6M1665.8 203.2v7.1M1665.8 241.6v3.6" stroke="#76b1d9" stroke-width="25.02" fill="none"/>
<path d="M1441.9 203.2v7.1M1491.7 203.2v3.6M1491.7 213.7v3.6" stroke="#f6fafe" stroke-width="25.02" fill="none"/>
<path d="M1441.9 213.7v3.6M1441.9 276.5v3.6M1541.4 433.6v3.6M1566.3 136.9v3.6M1566.3 143.9v7.1M1616.0 81.1v3.6M1616.0 210.2v7.1M1640.9 133.4v3.6" stroke="#e4eef8" stroke-width="25.02" fill="none"/>
<path d="M1441.9 377.8v3.6M1466.8 405.7v3.6M1765.3 171.8v7.1M1765.3 185.8v3.6" stroke="#154792" stroke-width="25.02" fill="none"/>
<path d="M1466.8 147.4v3.6M1466.8 332.4v3.6M1491.7 280.0v3.6M1566.3 287.0v3.6M1616.0 349.8v7.1M1765.3 119.5v3.6M1765.3 217.2v3.6" stroke="#a9cde7" stroke-width="25.02" fill="none"/>
<path d="M1466.8 391.7v10.6M1466.8 409.2v3.6M1690.6 290.5v7.1M1765.3 189.3v3.6" stroke="#18529d" stroke-width="25.02" fill="none"/>
<path d="M1491.7 206.7v7.1M1566.3 140.4v3.6M1591.2 140.4v10.6" stroke="#edf4fb" stroke-width="25.02" fill="none"/>
<path d="M1690.6 297.5v3.6" stroke="#123c88" stroke-width="25.02" fill="none"/>
<rect x="1404.60" y="63.60" width="373.10" height="373.50" fill="none" stroke="#111" stroke-width="1.2"/>
<text x="1372.90" y="241.40" font-size="17.9" text-anchor="middle" font-weight="bold" fill="#1c1c1c" transform="rotate(-90 1372.90 241.40)">Fraction EX (EX/EX + L1 Modules)</text>
<line x1="1794.70" y1="67.00" x2="1794.70" y2="131.50" stroke="#111" stroke-width="1.5"/>
<path d="M1790.60 72.40L1794.70 64.00L1798.80 72.40L1794.70 70.05Z" fill="#111"/>
<line x1="1794.70" y1="433.50" x2="1794.70" y2="367.00" stroke="#111" stroke-width="1.5"/>
<path d="M1790.60 428.10L1794.70 436.50L1798.80 428.10L1794.70 430.45Z" fill="#111"/>
<text x="1788.50" y="248.60" font-size="17.9" text-anchor="middle" font-weight="bold" fill="#1c1c1c" transform="rotate(90 1788.50 248.60)">Co-association Patterns</text>
<text x="1424.54" y="444.40" font-size="17.5" text-anchor="end" stroke="#1c1c1c" stroke-width="0.25" fill="#1c1c1c" transform="rotate(-90 1424.54 444.40)">AMA-1</text>
<text x="1449.41" y="444.40" font-size="17.5" text-anchor="end" stroke="#1c1c1c" stroke-width="0.25" fill="#1c1c1c" transform="rotate(-90 1449.41 444.40)">ELT-3</text>
<text x="1474.28" y="444.40" font-size="17.5" text-anchor="end" stroke="#1c1c1c" stroke-width="0.25" fill="#1c1c1c" transform="rotate(-90 1474.28 444.40)">BLMP-1</text>
<text x="1499.16" y="444.40" font-size="17.5" text-anchor="end" stroke="#1c1c1c" stroke-width="0.25" fill="#1c1c1c" transform="rotate(-90 1499.16 444.40)">FKH-10</text>
<text x="1524.03" y="444.40" font-size="17.5" text-anchor="end" stroke="#1c1c1c" stroke-width="0.25" fill="#1c1c1c" transform="rotate(-90 1524.03 444.40)">NHR-28</text>
<text x="1548.90" y="444.40" font-size="17.5" text-anchor="end" stroke="#1c1c1c" stroke-width="0.25" fill="#1c1c1c" transform="rotate(-90 1548.90 444.40)">NHR-76</text>
<text x="1573.78" y="444.40" font-size="17.5" text-anchor="end" stroke="#1c1c1c" stroke-width="0.25" fill="#1c1c1c" transform="rotate(-90 1573.78 444.40)">CES-1</text>
<text x="1598.65" y="444.40" font-size="17.5" text-anchor="end" stroke="#1c1c1c" stroke-width="0.25" fill="#1c1c1c" transform="rotate(-90 1598.65 444.40)">UNC-62</text>
<text x="1623.52" y="444.40" font-size="17.5" text-anchor="end" stroke="#1c1c1c" stroke-width="0.25" fill="#1c1c1c" transform="rotate(-90 1623.52 444.40)">NHR-11</text>
<text x="1648.40" y="444.40" font-size="17.5" text-anchor="end" stroke="#1c1c1c" stroke-width="0.25" fill="#1c1c1c" transform="rotate(-90 1648.40 444.40)">ZTF-11</text>
<text x="1673.27" y="444.40" font-size="17.5" text-anchor="end" stroke="#1c1c1c" stroke-width="0.25" fill="#1c1c1c" transform="rotate(-90 1673.27 444.40)">NHR-12</text>
<text x="1698.14" y="444.40" font-size="17.5" text-anchor="end" stroke="#1c1c1c" stroke-width="0.25" fill="#1c1c1c" transform="rotate(-90 1698.14 444.40)">LSY-2</text>
<text x="1723.02" y="444.40" font-size="17.5" text-anchor="end" stroke="#1c1c1c" stroke-width="0.25" fill="#1c1c1c" transform="rotate(-90 1723.02 444.40)">NHR-237</text>
<text x="1747.89" y="444.40" font-size="17.5" text-anchor="end" stroke="#1c1c1c" stroke-width="0.25" fill="#1c1c1c" transform="rotate(-90 1747.89 444.40)">GEI-11</text>
<text x="1772.76" y="444.40" font-size="17.5" text-anchor="end" stroke="#1c1c1c" stroke-width="0.25" fill="#1c1c1c" transform="rotate(-90 1772.76 444.40)">LIN-13</text>
<text x="5.80" y="581.00" font-size="29.5" text-anchor="start" font-weight="bold" fill="#1c1c1c">e</text>
<text x="311.70" y="588.50" font-size="21.3" text-anchor="middle" stroke="#1c1c1c" stroke-width="0.25" fill="#1c1c1c">Larval L1 vs. Larval L2</text>
<text x="57.60" y="731.00" font-size="17.9" text-anchor="middle" stroke="#1c1c1c" stroke-width="0.25" fill="#1c1c1c" transform="rotate(-90 57.60 731.00)">Fraction L1 (L1/L1 + L2 Modules)</text>
<rect x="106.60" y="606.00" width="16.00" height="12.71" fill="#a51c2c" stroke="none" stroke-width="1"/>
<rect x="106.60" y="618.51" width="16.00" height="12.71" fill="#bf2729" stroke="none" stroke-width="1"/>
<rect x="106.60" y="631.02" width="16.00" height="12.71" fill="#d93328" stroke="none" stroke-width="1"/>
<rect x="106.60" y="643.53" width="16.00" height="12.71" fill="#e85337" stroke="none" stroke-width="1"/>
<rect x="106.60" y="656.04" width="16.00" height="12.71" fill="#f57446" stroke="none" stroke-width="1"/>
<rect x="106.60" y="668.55" width="16.00" height="12.71" fill="#fa9656" stroke="none" stroke-width="1"/>
<rect x="106.60" y="681.06" width="16.00" height="12.71" fill="#fdb668" stroke="none" stroke-width="1"/>
<rect x="106.60" y="693.57" width="16.00" height="12.71" fill="#fed081" stroke="none" stroke-width="1"/>
<rect x="106.60" y="706.08" width="16.00" height="12.71" fill="#fee79a" stroke="none" stroke-width="1"/>
<rect x="106.60" y="718.59" width="16.00" height="12.71" fill="#fff7b3" stroke="none" stroke-width="1"/>
<rect x="106.60" y="731.10" width="16.00" height="12.71" fill="#f7fcce" stroke="none" stroke-width="1"/>
<rect x="106.60" y="743.61" width="16.00" height="12.71" fill="#e7f6ec" stroke="none" stroke-width="1"/>
<rect x="106.60" y="756.12" width="16.00" height="12.71" fill="#cfebf3" stroke="none" stroke-width="1"/>
<rect x="106.60" y="768.63" width="16.00" height="12.71" fill="#b3ddeb" stroke="none" stroke-width="1"/>
<rect x="106.60" y="781.14" width="16.00" height="12.71" fill="#97c9e0" stroke="none" stroke-width="1"/>
<rect x="106.60" y="793.65" width="16.00" height="12.71" fill="#7ab2d4" stroke="none" stroke-width="1"/>
<rect x="106.60" y="806.16" width="16.00" height="12.71" fill="#6095c5" stroke="none" stroke-width="1"/>
<rect x="106.60" y="818.67" width="16.00" height="12.71" fill="#4778b6" stroke="none" stroke-width="1"/>
<rect x="106.60" y="831.18" width="16.00" height="12.71" fill="#3c57a5" stroke="none" stroke-width="1"/>
<rect x="106.60" y="843.69" width="16.00" height="12.71" fill="#313695" stroke="none" stroke-width="1"/>
<rect x="106.60" y="606.00" width="16.00" height="250.20" fill="none" stroke="#1a1a22" stroke-width="1.4"/>
<text x="99.50" y="854.00" font-size="16.6" text-anchor="end" stroke="#1c1c1c" stroke-width="0.25" fill="#1c1c1c">0.0</text>
<text x="99.50" y="807.16" font-size="16.6" text-anchor="end" stroke="#1c1c1c" stroke-width="0.25" fill="#1c1c1c">0.2</text>
<text x="99.50" y="760.32" font-size="16.6" text-anchor="end" stroke="#1c1c1c" stroke-width="0.25" fill="#1c1c1c">0.4</text>
<text x="99.50" y="713.48" font-size="16.6" text-anchor="end" stroke="#1c1c1c" stroke-width="0.25" fill="#1c1c1c">0.6</text>
<text x="99.50" y="666.64" font-size="16.6" text-anchor="end" stroke="#1c1c1c" stroke-width="0.25" fill="#1c1c1c">0.8</text>
<text x="99.50" y="619.80" font-size="16.6" text-anchor="end" stroke="#1c1c1c" stroke-width="0.25" fill="#1c1c1c">1.0</text>
<path d="M140.2 618.3L144.2 611.4L152.2 611.4L156.1 618.3L152.2 625.2L144.2 625.2ZM164.1 673.2L168.1 666.3L176.1 666.3L180.0 673.2L176.1 680.1L168.1 680.1ZM164.1 851.6L168.1 844.7L176.1 844.7L180.0 851.6L176.1 858.4L168.1 858.4ZM176.1 693.8L180.0 686.9L188.0 686.9L192.0 693.8L188.0 700.6L180.0 700.6ZM188.0 618.3L192.0 611.4L200.0 611.4L203.9 618.3L200.0 625.2L192.0 625.2ZM188.0 769.2L192.0 762.4L200.0 762.4L203.9 769.2L200.0 776.1L192.0 776.1ZM200.0 652.6L203.9 645.8L211.9 645.8L215.9 652.6L211.9 659.5L203.9 659.5ZM200.0 844.7L203.9 837.9L211.9 837.9L215.9 844.7L211.9 851.6L203.9 851.6ZM211.9 618.3L215.9 611.4L223.9 611.4L227.8 618.3L223.9 625.2L215.9 625.2ZM223.9 625.2L227.8 618.3L235.8 618.3L239.8 625.2L235.8 632.0L227.8 632.0ZM259.7 673.2L263.7 666.3L271.7 666.3L275.6 673.2L271.7 680.1L263.7 680.1ZM271.7 844.7L275.6 837.9L283.6 837.9L287.6 844.7L283.6 851.6L275.6 851.6Z" fill="#7ab2d4" stroke="#7ab2d4" stroke-width="0.6"/>
<path d="M140.2 632.0L144.2 625.2L152.2 625.2L156.1 632.0L152.2 638.9L144.2 638.9ZM140.2 645.8L144.2 638.9L152.2 638.9L156.1 645.8L152.2 652.6L144.2 652.6ZM140.2 810.4L144.2 803.6L152.2 803.6L156.1 810.4L152.2 817.3L144.2 817.3ZM140.2 824.1L144.2 817.3L152.2 817.3L156.1 824.1L152.2 831.0L144.2 831.0ZM140.2 837.9L144.2 831.0L152.2 831.0L156.1 837.9L152.2 844.7L144.2 844.7ZM152.2 625.2L156.1 618.3L164.1 618.3L168.1 625.2L164.1 632.0L156.1 632.0ZM152.2 638.9L156.1 632.0L164.1 632.0L168.1 638.9L164.1 645.8L156.1 645.8ZM152.2 652.6L156.1 645.8L164.1 645.8L168.1 652.6L164.1 659.5L156.1 659.5ZM152.2 803.6L156.1 796.7L164.1 796.7L168.1 803.6L164.1 810.4L156.1 810.4ZM152.2 817.3L156.1 810.4L164.1 810.4L168.1 817.3L164.1 824.1L156.1 824.1ZM152.2 831.0L156.1 824.1L164.1 824.1L168.1 831.0L164.1 837.9L156.1 837.9ZM152.2 844.7L156.1 837.9L164.1 837.9L168.1 844.7L164.1 851.6L156.1 851.6ZM164.1 632.0L168.1 625.2L176.1 625.2L180.0 632.0L176.1 638.9L168.1 638.9ZM164.1 659.5L168.1 652.6L176.1 652.6L180.0 659.5L176.1 666.3L168.1 666.3ZM164.1 796.7L168.1 789.8L176.1 789.8L180.0 796.7L176.1 803.6L168.1 803.6ZM164.1 810.4L168.1 803.6L176.1 803.6L180.0 810.4L176.1 817.3L168.1 817.3ZM164.1 824.1L168.1 817.3L176.1 817.3L180.0 824.1L176.1 831.0L168.1 831.0ZM176.1 638.9L180.0 632.0L188.0 632.0L192.0 638.9L188.0 645.8L180.0 645.8ZM176.1 652.6L180.0 645.8L188.0 645.8L192.0 652.6L188.0 659.5L180.0 659.5ZM176.1 789.8L180.0 783.0L188.0 783.0L192.0 789.8L188.0 796.7L180.0 796.7ZM176.1 803.6L180.0 796.7L188.0 796.7L192.0 803.6L188.0 810.4L180.0 810.4ZM176.1 817.3L180.0 810.4L188.0 810.4L192.0 817.3L188.0 824.1L180.0 824.1ZM176.1 831.0L180.0 824.1L188.0 824.1L192.0 831.0L188.0 837.9L180.0 837.9ZM176.1 844.7L180.0 837.9L188.0 837.9L192.0 844.7L188.0 851.6L180.0 851.6ZM188.0 783.0L192.0 776.1L200.0 776.1L203.9 783.0L200.0 789.8L192.0 789.8ZM188.0 796.7L192.0 789.8L200.0 789.8L203.9 796.7L200.0 803.6L192.0 803.6ZM188.0 824.1L192.0 817.3L200.0 817.3L203.9 824.1L200.0 831.0L192.0 831.0ZM200.0 734.9L203.9 728.1L211.9 728.1L215.9 734.9L211.9 741.8L203.9 741.8ZM200.0 762.4L203.9 755.5L211.9 755.5L215.9 762.4L211.9 769.2L203.9 769.2ZM200.0 776.1L203.9 769.2L211.9 769.2L215.9 776.1L211.9 783.0L203.9 783.0ZM200.0 789.8L203.9 783.0L211.9 783.0L215.9 789.8L211.9 796.7L203.9 796.7ZM200.0 803.6L203.9 796.7L211.9 796.7L215.9 803.6L211.9 810.4L203.9 810.4ZM200.0 831.0L203.9 824.1L211.9 824.1L215.9 831.0L211.9 837.9L203.9 837.9ZM211.9 783.0L215.9 776.1L223.9 776.1L227.8 783.0L223.9 789.8L215.9 789.8ZM211.9 796.7L215.9 789.8L223.9 789.8L227.8 796.7L223.9 803.6L215.9 803.6ZM211.9 810.4L215.9 803.6L223.9 803.6L227.8 810.4L223.9 817.3L215.9 817.3ZM211.9 824.1L215.9 817.3L223.9 817.3L227.8 824.1L223.9 831.0L215.9 831.0ZM223.9 762.4L227.8 755.5L235.8 755.5L239.8 762.4L235.8 769.2L227.8 769.2ZM223.9 776.1L227.8 769.2L235.8 769.2L239.8 776.1L235.8 783.0L227.8 783.0ZM223.9 803.6L227.8 796.7L235.8 796.7L239.8 803.6L235.8 810.4L227.8 810.4ZM223.9 831.0L227.8 824.1L235.8 824.1L239.8 831.0L235.8 837.9L227.8 837.9ZM235.8 769.2L239.8 762.4L247.8 762.4L251.7 769.2L247.8 776.1L239.8 776.1ZM235.8 783.0L239.8 776.1L247.8 776.1L251.7 783.0L247.8 789.8L239.8 789.8ZM235.8 796.7L239.8 789.8L247.8 789.8L251.7 796.7L247.8 803.6L239.8 803.6ZM235.8 810.4L239.8 803.6L247.8 803.6L251.7 810.4L247.8 817.3L239.8 817.3ZM235.8 824.1L239.8 817.3L247.8 817.3L251.7 824.1L247.8 831.0L239.8 831.0ZM235.8 837.9L239.8 831.0L247.8 831.0L251.7 837.9L247.8 844.7L239.8 844.7ZM247.8 611.4L251.7 604.6L259.7 604.6L263.7 611.4L259.7 618.3L251.7 618.3ZM247.8 803.6L251.7 796.7L259.7 796.7L263.7 803.6L259.7 810.4L251.7 810.4ZM247.8 844.7L251.7 837.9L259.7 837.9L263.7 844.7L259.7 851.6L251.7 851.6ZM259.7 824.1L263.7 817.3L271.7 817.3L275.6 824.1L271.7 831.0L263.7 831.0ZM271.7 625.2L275.6 618.3L283.6 618.3L287.6 625.2L283.6 632.0L275.6 632.0ZM271.7 638.9L275.6 632.0L283.6 632.0L287.6 638.9L283.6 645.8L275.6 645.8ZM271.7 803.6L275.6 796.7L283.6 796.7L287.6 803.6L283.6 810.4L275.6 810.4Z" fill="#313695" stroke="#313695" stroke-width="0.6"/>
<path d="M140.2 659.5L144.2 652.6L152.2 652.6L156.1 659.5L152.2 666.3L144.2 666.3ZM259.7 618.3L263.7 611.4L271.7 611.4L275.6 618.3L271.7 625.2L263.7 625.2Z" fill="#b3ddeb" stroke="#b3ddeb" stroke-width="0.6"/>
<path d="M140.2 673.2L144.2 666.3L152.2 666.3L156.1 673.2L152.2 680.1L144.2 680.1ZM152.2 611.4L156.1 604.6L164.1 604.6L168.1 611.4L164.1 618.3L156.1 618.3ZM152.2 666.3L156.1 659.5L164.1 659.5L168.1 666.3L164.1 673.2L156.1 673.2ZM152.2 789.8L156.1 783.0L164.1 783.0L168.1 789.8L164.1 796.7L156.1 796.7ZM164.1 837.9L168.1 831.0L176.1 831.0L180.0 837.9L176.1 844.7L168.1 844.7ZM176.1 625.2L180.0 618.3L188.0 618.3L192.0 625.2L188.0 632.0L180.0 632.0ZM176.1 666.3L180.0 659.5L188.0 659.5L192.0 666.3L188.0 673.2L180.0 673.2ZM188.0 659.5L192.0 652.6L200.0 652.6L203.9 659.5L200.0 666.3L192.0 666.3ZM188.0 810.4L192.0 803.6L200.0 803.6L203.9 810.4L200.0 817.3L192.0 817.3ZM188.0 837.9L192.0 831.0L200.0 831.0L203.9 837.9L200.0 844.7L192.0 844.7ZM188.0 851.6L192.0 844.7L200.0 844.7L203.9 851.6L200.0 858.4L192.0 858.4ZM211.9 769.2L215.9 762.4L223.9 762.4L227.8 769.2L223.9 776.1L215.9 776.1ZM211.9 837.9L215.9 831.0L223.9 831.0L227.8 837.9L223.9 844.7L215.9 844.7ZM223.9 789.8L227.8 783.0L235.8 783.0L239.8 789.8L235.8 796.7L227.8 796.7ZM223.9 844.7L227.8 837.9L235.8 837.9L239.8 844.7L235.8 851.6L227.8 851.6ZM235.8 618.3L239.8 611.4L247.8 611.4L251.7 618.3L247.8 625.2L239.8 625.2ZM247.8 789.8L251.7 783.0L259.7 783.0L263.7 789.8L259.7 796.7L251.7 796.7ZM259.7 632.0L263.7 625.2L271.7 625.2L275.6 632.0L271.7 638.9L263.7 638.9ZM259.7 783.0L263.7 776.1L271.7 776.1L275.6 783.0L271.7 789.8L263.7 789.8ZM259.7 851.6L263.7 844.7L271.7 844.7L275.6 851.6L271.7 858.4L263.7 858.4ZM271.7 611.4L275.6 604.6L283.6 604.6L287.6 611.4L283.6 618.3L275.6 618.3ZM271.7 652.6L275.6 645.8L283.6 645.8L287.6 652.6L283.6 659.5L275.6 659.5ZM271.7 789.8L275.6 783.0L283.6 783.0L287.6 789.8L283.6 796.7L275.6 796.7Z" fill="#4778b6" stroke="#4778b6" stroke-width="0.6"/>
<path d="M140.2 686.9L144.2 680.1L152.2 680.1L156.1 686.9L152.2 693.8L144.2 693.8ZM140.2 851.6L144.2 844.7L152.2 844.7L156.1 851.6L152.2 858.4L144.2 858.4ZM211.9 632.0L215.9 625.2L223.9 625.2L227.8 632.0L223.9 638.9L215.9 638.9ZM247.8 762.4L251.7 755.5L259.7 755.5L263.7 762.4L259.7 769.2L251.7 769.2ZM259.7 837.9L263.7 831.0L271.7 831.0L275.6 837.9L271.7 844.7L263.7 844.7ZM271.7 693.8L275.6 686.9L283.6 686.9L287.6 693.8L283.6 700.6L275.6 700.6Z" fill="#fee79a" stroke="#fee79a" stroke-width="0.6"/>
<path d="M140.2 700.6L144.2 693.8L152.2 693.8L156.1 700.6L152.2 707.5L144.2 707.5ZM140.2 783.0L144.2 776.1L152.2 776.1L156.1 783.0L152.2 789.8L144.2 789.8ZM152.2 776.1L156.1 769.2L164.1 769.2L168.1 776.1L164.1 783.0L156.1 783.0ZM164.1 686.9L168.1 680.1L176.1 680.1L180.0 686.9L176.1 693.8L168.1 693.8ZM164.1 769.2L168.1 762.4L176.1 762.4L180.0 769.2L176.1 776.1L168.1 776.1ZM164.1 783.0L168.1 776.1L176.1 776.1L180.0 783.0L176.1 789.8L168.1 789.8ZM176.1 707.5L180.0 700.6L188.0 700.6L192.0 707.5L188.0 714.4L180.0 714.4ZM176.1 721.2L180.0 714.4L188.0 714.4L192.0 721.2L188.0 728.1L180.0 728.1ZM200.0 638.9L203.9 632.0L211.9 632.0L215.9 638.9L211.9 645.8L203.9 645.8ZM200.0 666.3L203.9 659.5L211.9 659.5L215.9 666.3L211.9 673.2L203.9 673.2ZM211.9 673.2L215.9 666.3L223.9 666.3L227.8 673.2L223.9 680.1L215.9 680.1ZM223.9 707.5L227.8 700.6L235.8 700.6L239.8 707.5L235.8 714.4L227.8 714.4ZM223.9 734.9L227.8 728.1L235.8 728.1L239.8 734.9L235.8 741.8L227.8 741.8ZM235.8 755.5L239.8 748.7L247.8 748.7L251.7 755.5L247.8 762.4L239.8 762.4ZM247.8 748.7L251.7 741.8L259.7 741.8L263.7 748.7L259.7 755.5L251.7 755.5ZM259.7 741.8L263.7 734.9L271.7 734.9L275.6 741.8L271.7 748.7L263.7 748.7ZM259.7 769.2L263.7 762.4L271.7 762.4L275.6 769.2L271.7 776.1L263.7 776.1Z" fill="#bf2729" stroke="#bf2729" stroke-width="0.6"/>
<path d="M140.2 714.4L144.2 707.5L152.2 707.5L156.1 714.4L152.2 721.2L144.2 721.2ZM140.2 728.1L144.2 721.2L152.2 721.2L156.1 728.1L152.2 734.9L144.2 734.9ZM140.2 741.8L144.2 734.9L152.2 734.9L156.1 741.8L152.2 748.7L144.2 748.7ZM140.2 755.5L144.2 748.7L152.2 748.7L156.1 755.5L152.2 762.4L144.2 762.4ZM140.2 769.2L144.2 762.4L152.2 762.4L156.1 769.2L152.2 776.1L144.2 776.1ZM152.2 707.5L156.1 700.6L164.1 700.6L168.1 707.5L164.1 714.4L156.1 714.4ZM152.2 721.2L156.1 714.4L164.1 714.4L168.1 721.2L164.1 728.1L156.1 728.1ZM152.2 734.9L156.1 728.1L164.1 728.1L168.1 734.9L164.1 741.8L156.1 741.8ZM152.2 748.7L156.1 741.8L164.1 741.8L168.1 748.7L164.1 755.5L156.1 755.5ZM152.2 762.4L156.1 755.5L164.1 755.5L168.1 762.4L164.1 769.2L156.1 769.2ZM164.1 714.4L168.1 707.5L176.1 707.5L180.0 714.4L176.1 721.2L168.1 721.2ZM164.1 728.1L168.1 721.2L176.1 721.2L180.0 728.1L176.1 734.9L168.1 734.9ZM164.1 741.8L168.1 734.9L176.1 734.9L180.0 741.8L176.1 748.7L168.1 748.7ZM164.1 755.5L168.1 748.7L176.1 748.7L180.0 755.5L176.1 762.4L168.1 762.4ZM176.1 734.9L180.0 728.1L188.0 728.1L192.0 734.9L188.0 741.8L180.0 741.8ZM176.1 748.7L180.0 741.8L188.0 741.8L192.0 748.7L188.0 755.5L180.0 755.5ZM176.1 762.4L180.0 755.5L188.0 755.5L192.0 762.4L188.0 769.2L180.0 769.2ZM188.0 686.9L192.0 680.1L200.0 680.1L203.9 686.9L200.0 693.8L192.0 693.8ZM188.0 700.6L192.0 693.8L200.0 693.8L203.9 700.6L200.0 707.5L192.0 707.5ZM188.0 714.4L192.0 707.5L200.0 707.5L203.9 714.4L200.0 721.2L192.0 721.2ZM188.0 728.1L192.0 721.2L200.0 721.2L203.9 728.1L200.0 734.9L192.0 734.9ZM188.0 741.8L192.0 734.9L200.0 734.9L203.9 741.8L200.0 748.7L192.0 748.7ZM188.0 755.5L192.0 748.7L200.0 748.7L203.9 755.5L200.0 762.4L192.0 762.4ZM200.0 680.1L203.9 673.2L211.9 673.2L215.9 680.1L211.9 686.9L203.9 686.9ZM200.0 693.8L203.9 686.9L211.9 686.9L215.9 693.8L211.9 700.6L203.9 700.6ZM200.0 707.5L203.9 700.6L211.9 700.6L215.9 707.5L211.9 714.4L203.9 714.4ZM200.0 721.2L203.9 714.4L211.9 714.4L215.9 721.2L211.9 728.1L203.9 728.1ZM211.9 659.5L215.9 652.6L223.9 652.6L227.8 659.5L223.9 666.3L215.9 666.3ZM211.9 714.4L215.9 707.5L223.9 707.5L227.8 714.4L223.9 721.2L215.9 721.2ZM211.9 728.1L215.9 721.2L223.9 721.2L227.8 728.1L223.9 734.9L215.9 734.9ZM211.9 741.8L215.9 734.9L223.9 734.9L227.8 741.8L223.9 748.7L215.9 748.7ZM211.9 755.5L215.9 748.7L223.9 748.7L227.8 755.5L223.9 762.4L215.9 762.4ZM223.9 666.3L227.8 659.5L235.8 659.5L239.8 666.3L235.8 673.2L227.8 673.2ZM223.9 680.1L227.8 673.2L235.8 673.2L239.8 680.1L235.8 686.9L227.8 686.9ZM223.9 693.8L227.8 686.9L235.8 686.9L239.8 693.8L235.8 700.6L227.8 700.6ZM223.9 721.2L227.8 714.4L235.8 714.4L239.8 721.2L235.8 728.1L227.8 728.1ZM223.9 748.7L227.8 741.8L235.8 741.8L239.8 748.7L235.8 755.5L227.8 755.5ZM235.8 645.8L239.8 638.9L247.8 638.9L251.7 645.8L247.8 652.6L239.8 652.6ZM235.8 673.2L239.8 666.3L247.8 666.3L251.7 673.2L247.8 680.1L239.8 680.1ZM235.8 700.6L239.8 693.8L247.8 693.8L251.7 700.6L247.8 707.5L239.8 707.5ZM235.8 714.4L239.8 707.5L247.8 707.5L251.7 714.4L247.8 721.2L239.8 721.2ZM235.8 728.1L239.8 721.2L247.8 721.2L251.7 728.1L247.8 734.9L239.8 734.9ZM247.8 625.2L251.7 618.3L259.7 618.3L263.7 625.2L259.7 632.0L251.7 632.0ZM247.8 652.6L251.7 645.8L259.7 645.8L263.7 652.6L259.7 659.5L251.7 659.5ZM247.8 666.3L251.7 659.5L259.7 659.5L263.7 666.3L259.7 673.2L251.7 673.2ZM247.8 693.8L251.7 686.9L259.7 686.9L263.7 693.8L259.7 700.6L251.7 700.6ZM247.8 707.5L251.7 700.6L259.7 700.6L263.7 707.5L259.7 714.4L251.7 714.4ZM247.8 721.2L251.7 714.4L259.7 714.4L263.7 721.2L259.7 728.1L251.7 728.1ZM247.8 734.9L251.7 728.1L259.7 728.1L263.7 734.9L259.7 741.8L251.7 741.8ZM259.7 659.5L263.7 652.6L271.7 652.6L275.6 659.5L271.7 666.3L263.7 666.3ZM259.7 700.6L263.7 693.8L271.7 693.8L275.6 700.6L271.7 707.5L263.7 707.5ZM259.7 714.4L263.7 707.5L271.7 707.5L275.6 714.4L271.7 721.2L263.7 721.2ZM259.7 728.1L263.7 721.2L271.7 721.2L275.6 728.1L271.7 734.9L263.7 734.9ZM259.7 755.5L263.7 748.7L271.7 748.7L275.6 755.5L271.7 762.4L263.7 762.4ZM271.7 707.5L275.6 700.6L283.6 700.6L287.6 707.5L283.6 714.4L275.6 714.4ZM271.7 721.2L275.6 714.4L283.6 714.4L287.6 721.2L283.6 728.1L275.6 728.1ZM271.7 734.9L275.6 728.1L283.6 728.1L287.6 734.9L283.6 741.8L275.6 741.8ZM271.7 748.7L275.6 741.8L283.6 741.8L287.6 748.7L283.6 755.5L275.6 755.5ZM271.7 762.4L275.6 755.5L283.6 755.5L287.6 762.4L283.6 769.2L275.6 769.2Z" fill="#a51c2c" stroke="#a51c2c" stroke-width="0.6"/>
<path d="M140.2 796.7L144.2 789.8L152.2 789.8L156.1 796.7L152.2 803.6L144.2 803.6ZM164.1 645.8L168.1 638.9L176.1 638.9L180.0 645.8L176.1 652.6L168.1 652.6ZM188.0 632.0L192.0 625.2L200.0 625.2L203.9 632.0L200.0 638.9L192.0 638.9ZM188.0 673.2L192.0 666.3L200.0 666.3L203.9 673.2L200.0 680.1L192.0 680.1ZM200.0 611.4L203.9 604.6L211.9 604.6L215.9 611.4L211.9 618.3L203.9 618.3ZM200.0 817.3L203.9 810.4L211.9 810.4L215.9 817.3L211.9 824.1L203.9 824.1ZM211.9 686.9L215.9 680.1L223.9 680.1L227.8 686.9L223.9 693.8L215.9 693.8ZM211.9 700.6L215.9 693.8L223.9 693.8L227.8 700.6L223.9 707.5L215.9 707.5ZM211.9 851.6L215.9 844.7L223.9 844.7L227.8 851.6L223.9 858.4L215.9 858.4ZM223.9 611.4L227.8 604.6L235.8 604.6L239.8 611.4L235.8 618.3L227.8 618.3ZM223.9 817.3L227.8 810.4L235.8 810.4L239.8 817.3L235.8 824.1L227.8 824.1ZM235.8 686.9L239.8 680.1L247.8 680.1L251.7 686.9L247.8 693.8L239.8 693.8ZM235.8 851.6L239.8 844.7L247.8 844.7L251.7 851.6L247.8 858.4L239.8 858.4ZM247.8 817.3L251.7 810.4L259.7 810.4L263.7 817.3L259.7 824.1L251.7 824.1ZM247.8 831.0L251.7 824.1L259.7 824.1L263.7 831.0L259.7 837.9L251.7 837.9ZM259.7 796.7L263.7 789.8L271.7 789.8L275.6 796.7L271.7 803.6L263.7 803.6ZM259.7 810.4L263.7 803.6L271.7 803.6L275.6 810.4L271.7 817.3L263.7 817.3ZM271.7 666.3L275.6 659.5L283.6 659.5L287.6 666.3L283.6 673.2L275.6 673.2ZM271.7 680.1L275.6 673.2L283.6 673.2L287.6 680.1L283.6 686.9L275.6 686.9ZM271.7 817.3L275.6 810.4L283.6 810.4L287.6 817.3L283.6 824.1L275.6 824.1ZM271.7 831.0L275.6 824.1L283.6 824.1L287.6 831.0L283.6 837.9L275.6 837.9Z" fill="#bfc0c2" stroke="#bfc0c2" stroke-width="0.6"/>
<path d="M152.2 680.1L156.1 673.2L164.1 673.2L168.1 680.1L164.1 686.9L156.1 686.9ZM164.1 618.3L168.1 611.4L176.1 611.4L180.0 618.3L176.1 625.2L168.1 625.2ZM176.1 680.1L180.0 673.2L188.0 673.2L192.0 680.1L188.0 686.9L180.0 686.9ZM188.0 645.8L192.0 638.9L200.0 638.9L203.9 645.8L200.0 652.6L192.0 652.6ZM200.0 625.2L203.9 618.3L211.9 618.3L215.9 625.2L211.9 632.0L203.9 632.0ZM247.8 776.1L251.7 769.2L259.7 769.2L263.7 776.1L259.7 783.0L251.7 783.0ZM271.7 776.1L275.6 769.2L283.6 769.2L287.6 776.1L283.6 783.0L275.6 783.0Z" fill="#fdb668" stroke="#fdb668" stroke-width="0.6"/>
<path d="M152.2 693.8L156.1 686.9L164.1 686.9L168.1 693.8L164.1 700.6L156.1 700.6ZM176.1 611.4L180.0 604.6L188.0 604.6L192.0 611.4L188.0 618.3L180.0 618.3ZM200.0 748.7L203.9 741.8L211.9 741.8L215.9 748.7L211.9 755.5L203.9 755.5ZM223.9 638.9L227.8 632.0L235.8 632.0L239.8 638.9L235.8 645.8L227.8 645.8ZM223.9 652.6L227.8 645.8L235.8 645.8L239.8 652.6L235.8 659.5L227.8 659.5ZM235.8 632.0L239.8 625.2L247.8 625.2L251.7 632.0L247.8 638.9L239.8 638.9ZM259.7 645.8L263.7 638.9L271.7 638.9L275.6 645.8L271.7 652.6L263.7 652.6Z" fill="#fff7b3" stroke="#fff7b3" stroke-width="0.6"/>
<path d="M164.1 700.6L168.1 693.8L176.1 693.8L180.0 700.6L176.1 707.5L168.1 707.5ZM176.1 776.1L180.0 769.2L188.0 769.2L192.0 776.1L188.0 783.0L180.0 783.0ZM247.8 638.9L251.7 632.0L259.7 632.0L263.7 638.9L259.7 645.8L251.7 645.8Z" fill="#e7f6ec" stroke="#e7f6ec" stroke-width="0.6"/>
<path d="M211.9 645.8L215.9 638.9L223.9 638.9L227.8 645.8L223.9 652.6L215.9 652.6ZM235.8 659.5L239.8 652.6L247.8 652.6L251.7 659.5L247.8 666.3L239.8 666.3ZM235.8 741.8L239.8 734.9L247.8 734.9L251.7 741.8L247.8 748.7L239.8 748.7ZM247.8 680.1L251.7 673.2L259.7 673.2L263.7 680.1L259.7 686.9L251.7 686.9ZM259.7 686.9L263.7 680.1L271.7 680.1L275.6 686.9L271.7 693.8L263.7 693.8Z" fill="#f57446" stroke="#f57446" stroke-width="0.6"/>
<path d="M140.2 618.3L144.2 611.4M144.2 611.4L152.2 611.4M140.2 618.3L144.2 625.2M140.2 632.0L144.2 625.2M140.2 632.0L144.2 638.9M140.2 645.8L144.2 638.9M140.2 645.8L144.2 652.6M140.2 659.5L144.2 652.6M140.2 659.5L144.2 666.3M140.2 673.2L144.2 666.3M140.2 673.2L144.2 680.1M140.2 686.9L144.2 680.1M140.2 686.9L144.2 693.8M140.2 700.6L144.2 693.8M140.2 700.6L144.2 707.5M140.2 714.4L144.2 707.5M140.2 714.4L144.2 721.2M140.2 728.1L144.2 721.2M140.2 728.1L144.2 734.9M140.2 741.8L144.2 734.9M140.2 741.8L144.2 748.7M140.2 755.5L144.2 748.7M140.2 755.5L144.2 762.4M140.2 769.2L144.2 762.4M140.2 769.2L144.2 776.1M140.2 783.0L144.2 776.1M140.2 783.0L144.2 789.8M140.2 796.7L144.2 789.8M140.2 796.7L144.2 803.6M140.2 810.4L144.2 803.6M140.2 810.4L144.2 817.3M140.2 824.1L144.2 817.3M140.2 824.1L144.2 831.0M140.2 837.9L144.2 831.0M140.2 837.9L144.2 844.7M140.2 851.6L144.2 844.7M152.2 858.4L156.1 851.6M144.2 858.4L152.2 858.4M140.2 851.6L144.2 858.4M152.2 611.4L156.1 604.6M156.1 604.6L164.1 604.6M164.1 604.6L168.1 611.4M156.1 851.6L164.1 851.6M168.1 611.4L176.1 611.4M176.1 858.4L180.0 851.6M168.1 858.4L176.1 858.4M164.1 851.6L168.1 858.4M176.1 611.4L180.0 604.6M180.0 604.6L188.0 604.6M188.0 604.6L192.0 611.4M180.0 851.6L188.0 851.6M192.0 611.4L200.0 611.4M200.0 858.4L203.9 851.6M192.0 858.4L200.0 858.4M188.0 851.6L192.0 858.4M200.0 611.4L203.9 604.6M203.9 604.6L211.9 604.6M211.9 604.6L215.9 611.4M203.9 851.6L211.9 851.6M215.9 611.4L223.9 611.4M223.9 858.4L227.8 851.6M215.9 858.4L223.9 858.4M211.9 851.6L215.9 858.4M223.9 611.4L227.8 604.6M227.8 604.6L235.8 604.6M235.8 604.6L239.8 611.4M227.8 851.6L235.8 851.6M239.8 611.4L247.8 611.4M247.8 858.4L251.7 851.6M239.8 858.4L247.8 858.4M235.8 851.6L239.8 858.4M247.8 611.4L251.7 604.6M251.7 604.6L259.7 604.6M259.7 604.6L263.7 611.4M251.7 851.6L259.7 851.6M263.7 611.4L271.7 611.4M271.7 858.4L275.6 851.6M263.7 858.4L271.7 858.4M259.7 851.6L263.7 858.4M271.7 611.4L275.6 604.6M275.6 604.6L283.6 604.6M283.6 604.6L287.6 611.4M283.6 618.3L287.6 611.4M283.6 618.3L287.6 625.2M283.6 632.0L287.6 625.2M283.6 632.0L287.6 638.9M283.6 645.8L287.6 638.9M283.6 645.8L287.6 652.6M283.6 659.5L287.6 652.6M283.6 659.5L287.6 666.3M283.6 673.2L287.6 666.3M283.6 673.2L287.6 680.1M283.6 686.9L287.6 680.1M283.6 686.9L287.6 693.8M283.6 700.6L287.6 693.8M283.6 700.6L287.6 707.5M283.6 714.4L287.6 707.5M283.6 714.4L287.6 721.2M283.6 728.1L287.6 721.2M283.6 728.1L287.6 734.9M283.6 741.8L287.6 734.9M283.6 741.8L287.6 748.7M283.6 755.5L287.6 748.7M283.6 755.5L287.6 762.4M283.6 769.2L287.6 762.4M283.6 769.2L287.6 776.1M283.6 783.0L287.6 776.1M283.6 783.0L287.6 789.8M283.6 796.7L287.6 789.8M283.6 796.7L287.6 803.6M283.6 810.4L287.6 803.6M283.6 810.4L287.6 817.3M283.6 824.1L287.6 817.3M283.6 824.1L287.6 831.0M283.6 837.9L287.6 831.0M283.6 837.9L287.6 844.7M283.6 851.6L287.6 844.7M275.6 851.6L283.6 851.6" fill="none" stroke="#111" stroke-width="1.3" stroke-linecap="round"/>
<path d="M331.5 619.0L335.9 612.2L344.8 612.2L349.2 619.0L344.8 625.8L335.9 625.8ZM371.4 612.2L375.8 605.4L384.7 605.4L389.1 612.2L384.7 619.0L375.8 619.0ZM398.0 788.9L402.4 782.1L411.3 782.1L415.7 788.9L411.3 795.7L402.4 795.7ZM437.9 646.2L442.3 639.4L451.2 639.4L455.6 646.2L451.2 653.0L442.3 653.0ZM464.5 836.5L468.9 829.7L477.8 829.7L482.2 836.5L477.8 843.3L468.9 843.3ZM464.5 850.1L468.9 843.3L477.8 843.3L482.2 850.1L477.8 856.9L468.9 856.9ZM477.8 653.0L482.2 646.2L491.1 646.2L495.5 653.0L491.1 659.8L482.2 659.8ZM477.8 680.2L482.2 673.4L491.1 673.4L495.5 680.2L491.1 687.0L482.2 687.0ZM477.8 693.8L482.2 687.0L491.1 687.0L495.5 693.8L491.1 700.6L482.2 700.6Z" fill="#e7f6ec" stroke="#e7f6ec" stroke-width="0.6"/>
<path d="M331.5 632.6L335.9 625.8L344.8 625.8L349.2 632.6L344.8 639.4L335.9 639.4ZM331.5 659.8L335.9 653.0L344.8 653.0L349.2 659.8L344.8 666.6L335.9 666.6ZM331.5 714.2L335.9 707.4L344.8 707.4L349.2 714.2L344.8 721.0L335.9 721.0ZM344.8 625.8L349.2 619.0L358.1 619.0L362.5 625.8L358.1 632.6L349.2 632.6ZM358.1 809.3L362.5 802.5L371.4 802.5L375.8 809.3L371.4 816.1L362.5 816.1ZM358.1 822.9L362.5 816.1L371.4 816.1L375.8 822.9L371.4 829.7L362.5 829.7ZM371.4 734.6L375.8 727.8L384.7 727.8L389.1 734.6L384.7 741.4L375.8 741.4ZM371.4 748.1L375.8 741.4L384.7 741.4L389.1 748.1L384.7 754.9L375.8 754.9ZM371.4 802.5L375.8 795.7L384.7 795.7L389.1 802.5L384.7 809.3L375.8 809.3ZM384.7 714.2L389.1 707.4L398.0 707.4L402.4 714.2L398.0 721.0L389.1 721.0ZM384.7 727.8L389.1 721.0L398.0 721.0L402.4 727.8L398.0 734.6L389.1 734.6ZM384.7 836.5L389.1 829.7L398.0 829.7L402.4 836.5L398.0 843.3L389.1 843.3ZM384.7 850.1L389.1 843.3L398.0 843.3L402.4 850.1L398.0 856.9L389.1 856.9ZM398.0 748.1L402.4 741.4L411.3 741.4L415.7 748.1L411.3 754.9L402.4 754.9ZM398.0 802.5L402.4 795.7L411.3 795.7L415.7 802.5L411.3 809.3L402.4 809.3ZM398.0 816.1L402.4 809.3L411.3 809.3L415.7 816.1L411.3 822.9L402.4 822.9ZM411.3 700.6L415.7 693.8L424.6 693.8L429.0 700.6L424.6 707.4L415.7 707.4ZM411.3 714.2L415.7 707.4L424.6 707.4L429.0 714.2L424.6 721.0L415.7 721.0ZM411.3 809.3L415.7 802.5L424.6 802.5L429.0 809.3L424.6 816.1L415.7 816.1ZM411.3 822.9L415.7 816.1L424.6 816.1L429.0 822.9L424.6 829.7L415.7 829.7ZM424.6 612.2L429.0 605.4L437.9 605.4L442.3 612.2L437.9 619.0L429.0 619.0ZM424.6 639.4L429.0 632.6L437.9 632.6L442.3 639.4L437.9 646.2L429.0 646.2ZM424.6 680.2L429.0 673.4L437.9 673.4L442.3 680.2L437.9 687.0L429.0 687.0ZM437.9 687.0L442.3 680.2L451.2 680.2L455.6 687.0L451.2 693.8L442.3 693.8ZM451.2 639.4L455.6 632.6L464.5 632.6L468.9 639.4L464.5 646.2L455.6 646.2ZM451.2 680.2L455.6 673.4L464.5 673.4L468.9 680.2L464.5 687.0L455.6 687.0ZM477.8 612.2L482.2 605.4L491.1 605.4L495.5 612.2L491.1 619.0L482.2 619.0ZM477.8 625.8L482.2 619.0L491.1 619.0L495.5 625.8L491.1 632.6L482.2 632.6Z" fill="#bfc0c2" stroke="#bfc0c2" stroke-width="0.6"/>
<path d="M331.5 646.2L335.9 639.4L344.8 639.4L349.2 646.2L344.8 653.0L335.9 653.0ZM358.1 700.6L362.5 693.8L371.4 693.8L375.8 700.6L371.4 707.4L362.5 707.4ZM371.4 693.8L375.8 687.0L384.7 687.0L389.1 693.8L384.7 700.6L375.8 700.6ZM371.4 707.4L375.8 700.6L384.7 700.6L389.1 707.4L384.7 714.2L375.8 714.2ZM384.7 632.6L389.1 625.8L398.0 625.8L402.4 632.6L398.0 639.4L389.1 639.4ZM384.7 795.7L389.1 788.9L398.0 788.9L402.4 795.7L398.0 802.5L389.1 802.5ZM398.0 843.3L402.4 836.5L411.3 836.5L415.7 843.3L411.3 850.1L402.4 850.1ZM411.3 782.1L415.7 775.3L424.6 775.3L429.0 782.1L424.6 788.9L415.7 788.9ZM411.3 836.5L415.7 829.7L424.6 829.7L429.0 836.5L424.6 843.3L415.7 843.3ZM411.3 850.1L415.7 843.3L424.6 843.3L429.0 850.1L424.6 856.9L415.7 856.9ZM424.6 625.8L429.0 619.0L437.9 619.0L442.3 625.8L437.9 632.6L429.0 632.6ZM424.6 802.5L429.0 795.7L437.9 795.7L442.3 802.5L437.9 809.3L429.0 809.3ZM424.6 816.1L429.0 809.3L437.9 809.3L442.3 816.1L437.9 822.9L429.0 822.9ZM437.9 809.3L442.3 802.5L451.2 802.5L455.6 809.3L451.2 816.1L442.3 816.1ZM451.2 707.4L455.6 700.6L464.5 700.6L468.9 707.4L464.5 714.2L455.6 714.2ZM451.2 816.1L455.6 809.3L464.5 809.3L468.9 816.1L464.5 822.9L455.6 822.9ZM451.2 829.7L455.6 822.9L464.5 822.9L468.9 829.7L464.5 836.5L455.6 836.5ZM464.5 646.2L468.9 639.4L477.8 639.4L482.2 646.2L477.8 653.0L468.9 653.0ZM464.5 659.8L468.9 653.0L477.8 653.0L482.2 659.8L477.8 666.6L468.9 666.6ZM464.5 700.6L468.9 693.8L477.8 693.8L482.2 700.6L477.8 707.4L468.9 707.4ZM477.8 802.5L482.2 795.7L491.1 795.7L495.5 802.5L491.1 809.3L482.2 809.3Z" fill="#7ab2d4" stroke="#7ab2d4" stroke-width="0.6"/>
<path d="M331.5 673.4L335.9 666.6L344.8 666.6L349.2 673.4L344.8 680.2L335.9 680.2ZM331.5 687.0L335.9 680.2L344.8 680.2L349.2 687.0L344.8 693.8L335.9 693.8ZM331.5 700.6L335.9 693.8L344.8 693.8L349.2 700.6L344.8 707.4L335.9 707.4ZM331.5 836.5L335.9 829.7L344.8 829.7L349.2 836.5L344.8 843.3L335.9 843.3ZM344.8 653.0L349.2 646.2L358.1 646.2L362.5 653.0L358.1 659.8L349.2 659.8ZM344.8 775.3L349.2 768.5L358.1 768.5L362.5 775.3L358.1 782.1L349.2 782.1ZM344.8 788.9L349.2 782.1L358.1 782.1L362.5 788.9L358.1 795.7L349.2 795.7ZM344.8 843.3L349.2 836.5L358.1 836.5L362.5 843.3L358.1 850.1L349.2 850.1ZM358.1 659.8L362.5 653.0L371.4 653.0L375.8 659.8L371.4 666.6L362.5 666.6ZM384.7 646.2L389.1 639.4L398.0 639.4L402.4 646.2L398.0 653.0L389.1 653.0ZM398.0 625.8L402.4 619.0L411.3 619.0L415.7 625.8L411.3 632.6L402.4 632.6ZM398.0 639.4L402.4 632.6L411.3 632.6L415.7 639.4L411.3 646.2L402.4 646.2ZM398.0 734.6L402.4 727.8L411.3 727.8L415.7 734.6L411.3 741.4L402.4 741.4ZM398.0 775.3L402.4 768.5L411.3 768.5L415.7 775.3L411.3 782.1L402.4 782.1ZM411.3 673.4L415.7 666.6L424.6 666.6L429.0 673.4L424.6 680.2L415.7 680.2ZM424.6 653.0L429.0 646.2L437.9 646.2L442.3 653.0L437.9 659.8L429.0 659.8ZM424.6 788.9L429.0 782.1L437.9 782.1L442.3 788.9L437.9 795.7L429.0 795.7ZM437.9 619.0L442.3 612.2L451.2 612.2L455.6 619.0L451.2 625.8L442.3 625.8ZM437.9 673.4L442.3 666.6L451.2 666.6L455.6 673.4L451.2 680.2L442.3 680.2ZM451.2 625.8L455.6 619.0L464.5 619.0L468.9 625.8L464.5 632.6L455.6 632.6ZM451.2 775.3L455.6 768.5L464.5 768.5L468.9 775.3L464.5 782.1L455.6 782.1ZM464.5 619.0L468.9 612.2L477.8 612.2L482.2 619.0L477.8 625.8L468.9 625.8ZM464.5 687.0L468.9 680.2L477.8 680.2L482.2 687.0L477.8 693.8L468.9 693.8ZM464.5 782.1L468.9 775.3L477.8 775.3L482.2 782.1L477.8 788.9L468.9 788.9ZM477.8 639.4L482.2 632.6L491.1 632.6L495.5 639.4L491.1 646.2L482.2 646.2Z" fill="#b3ddeb" stroke="#b3ddeb" stroke-width="0.6"/>
<path d="M331.5 727.8L335.9 721.0L344.8 721.0L349.2 727.8L344.8 734.6L335.9 734.6ZM331.5 768.5L335.9 761.7L344.8 761.7L349.2 768.5L344.8 775.3L335.9 775.3ZM344.8 612.2L349.2 605.4L358.1 605.4L362.5 612.2L358.1 619.0L349.2 619.0ZM344.8 639.4L349.2 632.6L358.1 632.6L362.5 639.4L358.1 646.2L349.2 646.2ZM358.1 782.1L362.5 775.3L371.4 775.3L375.8 782.1L371.4 788.9L362.5 788.9ZM358.1 795.7L362.5 788.9L371.4 788.9L375.8 795.7L371.4 802.5L362.5 802.5ZM371.4 775.3L375.8 768.5L384.7 768.5L389.1 775.3L384.7 782.1L375.8 782.1ZM371.4 816.1L375.8 809.3L384.7 809.3L389.1 816.1L384.7 822.9L375.8 822.9ZM371.4 829.7L375.8 822.9L384.7 822.9L389.1 829.7L384.7 836.5L375.8 836.5ZM371.4 843.3L375.8 836.5L384.7 836.5L389.1 843.3L384.7 850.1L375.8 850.1ZM384.7 809.3L389.1 802.5L398.0 802.5L402.4 809.3L398.0 816.1L389.1 816.1ZM384.7 822.9L389.1 816.1L398.0 816.1L402.4 822.9L398.0 829.7L389.1 829.7ZM398.0 693.8L402.4 687.0L411.3 687.0L415.7 693.8L411.3 700.6L402.4 700.6ZM411.3 619.0L415.7 612.2L424.6 612.2L429.0 619.0L424.6 625.8L415.7 625.8ZM411.3 659.8L415.7 653.0L424.6 653.0L429.0 659.8L424.6 666.6L415.7 666.6ZM411.3 741.4L415.7 734.6L424.6 734.6L429.0 741.4L424.6 748.1L415.7 748.1ZM424.6 721.0L429.0 714.2L437.9 714.2L442.3 721.0L437.9 727.8L429.0 727.8ZM451.2 734.6L455.6 727.8L464.5 727.8L468.9 734.6L464.5 741.4L455.6 741.4ZM464.5 714.2L468.9 707.4L477.8 707.4L482.2 714.2L477.8 721.0L468.9 721.0Z" fill="#fdb668" stroke="#fdb668" stroke-width="0.6"/>
<path d="M331.5 741.4L335.9 734.6L344.8 734.6L349.2 741.4L344.8 748.1L335.9 748.1ZM344.8 761.7L349.2 754.9L358.1 754.9L362.5 761.7L358.1 768.5L349.2 768.5ZM358.1 741.4L362.5 734.6L371.4 734.6L375.8 741.4L371.4 748.1L362.5 748.1ZM384.7 782.1L389.1 775.3L398.0 775.3L402.4 782.1L398.0 788.9L389.1 788.9ZM398.0 612.2L402.4 605.4L411.3 605.4L415.7 612.2L411.3 619.0L402.4 619.0ZM424.6 734.6L429.0 727.8L437.9 727.8L442.3 734.6L437.9 741.4L429.0 741.4ZM424.6 761.7L429.0 754.9L437.9 754.9L442.3 761.7L437.9 768.5L429.0 768.5ZM437.9 714.2L442.3 707.4L451.2 707.4L455.6 714.2L451.2 721.0L442.3 721.0ZM437.9 768.5L442.3 761.7L451.2 761.7L455.6 768.5L451.2 775.3L442.3 775.3ZM451.2 761.7L455.6 754.9L464.5 754.9L468.9 761.7L464.5 768.5L455.6 768.5ZM464.5 768.5L468.9 761.7L477.8 761.7L482.2 768.5L477.8 775.3L468.9 775.3Z" fill="#d93328" stroke="#d93328" stroke-width="0.6"/>
<path d="M331.5 754.9L335.9 748.1L344.8 748.1L349.2 754.9L344.8 761.7L335.9 761.7ZM344.8 734.6L349.2 727.8L358.1 727.8L362.5 734.6L358.1 741.4L349.2 741.4ZM358.1 673.4L362.5 666.6L371.4 666.6L375.8 673.4L371.4 680.2L362.5 680.2ZM358.1 768.5L362.5 761.7L371.4 761.7L375.8 768.5L371.4 775.3L362.5 775.3ZM371.4 761.7L375.8 754.9L384.7 754.9L389.1 761.7L384.7 768.5L375.8 768.5ZM371.4 788.9L375.8 782.1L384.7 782.1L389.1 788.9L384.7 795.7L375.8 795.7ZM398.0 666.6L402.4 659.8L411.3 659.8L415.7 666.6L411.3 673.4L402.4 673.4ZM398.0 721.0L402.4 714.2L411.3 714.2L415.7 721.0L411.3 727.8L402.4 727.8ZM424.6 707.4L429.0 700.6L437.9 700.6L442.3 707.4L437.9 714.2L429.0 714.2ZM424.6 748.1L429.0 741.4L437.9 741.4L442.3 748.1L437.9 754.9L429.0 754.9ZM437.9 700.6L442.3 693.8L451.2 693.8L455.6 700.6L451.2 707.4L442.3 707.4ZM437.9 741.4L442.3 734.6L451.2 734.6L455.6 741.4L451.2 748.1L442.3 748.1ZM451.2 748.1L455.6 741.4L464.5 741.4L468.9 748.1L464.5 754.9L455.6 754.9ZM477.8 721.0L482.2 714.2L491.1 714.2L495.5 721.0L491.1 727.8L482.2 727.8ZM477.8 748.1L482.2 741.4L491.1 741.4L495.5 748.1L491.1 754.9L482.2 754.9Z" fill="#f57446" stroke="#f57446" stroke-width="0.6"/>
<path d="M331.5 782.1L335.9 775.3L344.8 775.3L349.2 782.1L344.8 788.9L335.9 788.9ZM331.5 795.7L335.9 788.9L344.8 788.9L349.2 795.7L344.8 802.5L335.9 802.5ZM358.1 632.6L362.5 625.8L371.4 625.8L375.8 632.6L371.4 639.4L362.5 639.4ZM371.4 625.8L375.8 619.0L384.7 619.0L389.1 625.8L384.7 632.6L375.8 632.6ZM371.4 653.0L375.8 646.2L384.7 646.2L389.1 653.0L384.7 659.8L375.8 659.8ZM437.9 632.6L442.3 625.8L451.2 625.8L455.6 632.6L451.2 639.4L442.3 639.4ZM437.9 850.1L442.3 843.3L451.2 843.3L455.6 850.1L451.2 856.9L442.3 856.9ZM451.2 612.2L455.6 605.4L464.5 605.4L468.9 612.2L464.5 619.0L455.6 619.0ZM451.2 788.9L455.6 782.1L464.5 782.1L468.9 788.9L464.5 795.7L455.6 795.7ZM451.2 802.5L455.6 795.7L464.5 795.7L468.9 802.5L464.5 809.3L455.6 809.3ZM464.5 632.6L468.9 625.8L477.8 625.8L482.2 632.6L477.8 639.4L468.9 639.4ZM464.5 795.7L468.9 788.9L477.8 788.9L482.2 795.7L477.8 802.5L468.9 802.5ZM464.5 809.3L468.9 802.5L477.8 802.5L482.2 809.3L477.8 816.1L468.9 816.1ZM464.5 822.9L468.9 816.1L477.8 816.1L482.2 822.9L477.8 829.7L468.9 829.7ZM477.8 775.3L482.2 768.5L491.1 768.5L495.5 775.3L491.1 782.1L482.2 782.1ZM477.8 816.1L482.2 809.3L491.1 809.3L495.5 816.1L491.1 822.9L482.2 822.9ZM477.8 829.7L482.2 822.9L491.1 822.9L495.5 829.7L491.1 836.5L482.2 836.5Z" fill="#313695" stroke="#313695" stroke-width="0.6"/>
<path d="M331.5 809.3L335.9 802.5L344.8 802.5L349.2 809.3L344.8 816.1L335.9 816.1ZM331.5 822.9L335.9 816.1L344.8 816.1L349.2 822.9L344.8 829.7L335.9 829.7ZM331.5 850.1L335.9 843.3L344.8 843.3L349.2 850.1L344.8 856.9L335.9 856.9ZM344.8 802.5L349.2 795.7L358.1 795.7L362.5 802.5L358.1 809.3L349.2 809.3ZM344.8 816.1L349.2 809.3L358.1 809.3L362.5 816.1L358.1 822.9L349.2 822.9ZM344.8 829.7L349.2 822.9L358.1 822.9L362.5 829.7L358.1 836.5L349.2 836.5ZM358.1 619.0L362.5 612.2L371.4 612.2L375.8 619.0L371.4 625.8L362.5 625.8ZM358.1 714.2L362.5 707.4L371.4 707.4L375.8 714.2L371.4 721.0L362.5 721.0ZM358.1 727.8L362.5 721.0L371.4 721.0L375.8 727.8L371.4 734.6L362.5 734.6ZM358.1 850.1L362.5 843.3L371.4 843.3L375.8 850.1L371.4 856.9L362.5 856.9ZM371.4 639.4L375.8 632.6L384.7 632.6L389.1 639.4L384.7 646.2L375.8 646.2ZM371.4 721.0L375.8 714.2L384.7 714.2L389.1 721.0L384.7 727.8L375.8 727.8ZM384.7 619.0L389.1 612.2L398.0 612.2L402.4 619.0L398.0 625.8L389.1 625.8ZM384.7 700.6L389.1 693.8L398.0 693.8L402.4 700.6L398.0 707.4L389.1 707.4ZM398.0 761.7L402.4 754.9L411.3 754.9L415.7 761.7L411.3 768.5L402.4 768.5ZM411.3 632.6L415.7 625.8L424.6 625.8L429.0 632.6L424.6 639.4L415.7 639.4ZM411.3 768.5L415.7 761.7L424.6 761.7L429.0 768.5L424.6 775.3L415.7 775.3ZM424.6 829.7L429.0 822.9L437.9 822.9L442.3 829.7L437.9 836.5L429.0 836.5ZM424.6 843.3L429.0 836.5L437.9 836.5L442.3 843.3L437.9 850.1L429.0 850.1ZM437.9 795.7L442.3 788.9L451.2 788.9L455.6 795.7L451.2 802.5L442.3 802.5ZM437.9 822.9L442.3 816.1L451.2 816.1L455.6 822.9L451.2 829.7L442.3 829.7ZM437.9 836.5L442.3 829.7L451.2 829.7L455.6 836.5L451.2 843.3L442.3 843.3ZM451.2 653.0L455.6 646.2L464.5 646.2L468.9 653.0L464.5 659.8L455.6 659.8ZM451.2 843.3L455.6 836.5L464.5 836.5L468.9 843.3L464.5 850.1L455.6 850.1ZM477.8 666.6L482.2 659.8L491.1 659.8L495.5 666.6L491.1 673.4L482.2 673.4ZM477.8 707.4L482.2 700.6L491.1 700.6L495.5 707.4L491.1 714.2L482.2 714.2ZM477.8 788.9L482.2 782.1L491.1 782.1L495.5 788.9L491.1 795.7L482.2 795.7ZM477.8 843.3L482.2 836.5L491.1 836.5L495.5 843.3L491.1 850.1L482.2 850.1Z" fill="#4778b6" stroke="#4778b6" stroke-width="0.6"/>
<path d="M344.8 666.6L349.2 659.8L358.1 659.8L362.5 666.6L358.1 673.4L349.2 673.4ZM344.8 748.1L349.2 741.4L358.1 741.4L362.5 748.1L358.1 754.9L349.2 754.9ZM358.1 754.9L362.5 748.1L371.4 748.1L375.8 754.9L371.4 761.7L362.5 761.7ZM384.7 754.9L389.1 748.1L398.0 748.1L402.4 754.9L398.0 761.7L389.1 761.7ZM384.7 768.5L389.1 761.7L398.0 761.7L402.4 768.5L398.0 775.3L389.1 775.3ZM411.3 727.8L415.7 721.0L424.6 721.0L429.0 727.8L424.6 734.6L415.7 734.6ZM437.9 727.8L442.3 721.0L451.2 721.0L455.6 727.8L451.2 734.6L442.3 734.6ZM437.9 782.1L442.3 775.3L451.2 775.3L455.6 782.1L451.2 788.9L442.3 788.9ZM451.2 721.0L455.6 714.2L464.5 714.2L468.9 721.0L464.5 727.8L455.6 727.8ZM464.5 727.8L468.9 721.0L477.8 721.0L482.2 727.8L477.8 734.6L468.9 734.6ZM464.5 741.4L468.9 734.6L477.8 734.6L482.2 741.4L477.8 748.1L468.9 748.1ZM464.5 754.9L468.9 748.1L477.8 748.1L482.2 754.9L477.8 761.7L468.9 761.7ZM477.8 734.6L482.2 727.8L491.1 727.8L495.5 734.6L491.1 741.4L482.2 741.4Z" fill="#a51c2c" stroke="#a51c2c" stroke-width="0.6"/>
<path d="M344.8 680.2L349.2 673.4L358.1 673.4L362.5 680.2L358.1 687.0L349.2 687.0ZM344.8 693.8L349.2 687.0L358.1 687.0L362.5 693.8L358.1 700.6L349.2 700.6ZM344.8 707.4L349.2 700.6L358.1 700.6L362.5 707.4L358.1 714.2L349.2 714.2ZM344.8 721.0L349.2 714.2L358.1 714.2L362.5 721.0L358.1 727.8L349.2 727.8ZM358.1 646.2L362.5 639.4L371.4 639.4L375.8 646.2L371.4 653.0L362.5 653.0ZM358.1 836.5L362.5 829.7L371.4 829.7L375.8 836.5L371.4 843.3L362.5 843.3ZM384.7 659.8L389.1 653.0L398.0 653.0L402.4 659.8L398.0 666.6L389.1 666.6ZM384.7 673.4L389.1 666.6L398.0 666.6L402.4 673.4L398.0 680.2L389.1 680.2ZM384.7 741.4L389.1 734.6L398.0 734.6L402.4 741.4L398.0 748.1L389.1 748.1ZM398.0 653.0L402.4 646.2L411.3 646.2L415.7 653.0L411.3 659.8L402.4 659.8ZM411.3 646.2L415.7 639.4L424.6 639.4L429.0 646.2L424.6 653.0L415.7 653.0ZM424.6 666.6L429.0 659.8L437.9 659.8L442.3 666.6L437.9 673.4L429.0 673.4ZM424.6 693.8L429.0 687.0L437.9 687.0L442.3 693.8L437.9 700.6L429.0 700.6ZM437.9 754.9L442.3 748.1L451.2 748.1L455.6 754.9L451.2 761.7L442.3 761.7ZM477.8 761.7L482.2 754.9L491.1 754.9L495.5 761.7L491.1 768.5L482.2 768.5Z" fill="#fee79a" stroke="#fee79a" stroke-width="0.6"/>
<path d="M358.1 687.0L362.5 680.2L371.4 680.2L375.8 687.0L371.4 693.8L362.5 693.8ZM371.4 666.6L375.8 659.8L384.7 659.8L389.1 666.6L384.7 673.4L375.8 673.4ZM371.4 680.2L375.8 673.4L384.7 673.4L389.1 680.2L384.7 687.0L375.8 687.0ZM384.7 687.0L389.1 680.2L398.0 680.2L402.4 687.0L398.0 693.8L389.1 693.8ZM398.0 680.2L402.4 673.4L411.3 673.4L415.7 680.2L411.3 687.0L402.4 687.0ZM398.0 707.4L402.4 700.6L411.3 700.6L415.7 707.4L411.3 714.2L402.4 714.2ZM398.0 829.7L402.4 822.9L411.3 822.9L415.7 829.7L411.3 836.5L402.4 836.5ZM411.3 687.0L415.7 680.2L424.6 680.2L429.0 687.0L424.6 693.8L415.7 693.8ZM411.3 754.9L415.7 748.1L424.6 748.1L429.0 754.9L424.6 761.7L415.7 761.7ZM411.3 795.7L415.7 788.9L424.6 788.9L429.0 795.7L424.6 802.5L415.7 802.5ZM424.6 775.3L429.0 768.5L437.9 768.5L442.3 775.3L437.9 782.1L429.0 782.1ZM437.9 659.8L442.3 653.0L451.2 653.0L455.6 659.8L451.2 666.6L442.3 666.6ZM451.2 666.6L455.6 659.8L464.5 659.8L468.9 666.6L464.5 673.4L455.6 673.4ZM451.2 693.8L455.6 687.0L464.5 687.0L468.9 693.8L464.5 700.6L455.6 700.6ZM464.5 673.4L468.9 666.6L477.8 666.6L482.2 673.4L477.8 680.2L468.9 680.2Z" fill="#fff7b3" stroke="#fff7b3" stroke-width="0.6"/>
<path d="M331.5 619.0L335.9 612.2M335.9 612.2L344.8 612.2M331.5 619.0L335.9 625.8M331.5 632.6L335.9 625.8M331.5 632.6L335.9 639.4M331.5 646.2L335.9 639.4M331.5 646.2L335.9 653.0M331.5 659.8L335.9 653.0M331.5 659.8L335.9 666.6M331.5 673.4L335.9 666.6M331.5 673.4L335.9 680.2M331.5 687.0L335.9 680.2M331.5 687.0L335.9 693.8M331.5 700.6L335.9 693.8M331.5 700.6L335.9 707.4M331.5 714.2L335.9 707.4M331.5 714.2L335.9 721.0M331.5 727.8L335.9 721.0M331.5 727.8L335.9 734.6M331.5 741.4L335.9 734.6M331.5 741.4L335.9 748.1M331.5 754.9L335.9 748.1M331.5 754.9L335.9 761.7M331.5 768.5L335.9 761.7M331.5 768.5L335.9 775.3M331.5 782.1L335.9 775.3M331.5 782.1L335.9 788.9M331.5 795.7L335.9 788.9M331.5 795.7L335.9 802.5M331.5 809.3L335.9 802.5M331.5 809.3L335.9 816.1M331.5 822.9L335.9 816.1M331.5 822.9L335.9 829.7M331.5 836.5L335.9 829.7M331.5 836.5L335.9 843.3M331.5 850.1L335.9 843.3M344.8 856.9L349.2 850.1M335.9 856.9L344.8 856.9M331.5 850.1L335.9 856.9M344.8 612.2L349.2 605.4M349.2 605.4L358.1 605.4M358.1 605.4L362.5 612.2M349.2 850.1L358.1 850.1M362.5 612.2L371.4 612.2M371.4 856.9L375.8 850.1M362.5 856.9L371.4 856.9M358.1 850.1L362.5 856.9M371.4 612.2L375.8 605.4M375.8 605.4L384.7 605.4M384.7 605.4L389.1 612.2M375.8 850.1L384.7 850.1M389.1 612.2L398.0 612.2M398.0 856.9L402.4 850.1M389.1 856.9L398.0 856.9M384.7 850.1L389.1 856.9M398.0 612.2L402.4 605.4M402.4 605.4L411.3 605.4M411.3 605.4L415.7 612.2M402.4 850.1L411.3 850.1M415.7 612.2L424.6 612.2M424.6 856.9L429.0 850.1M415.7 856.9L424.6 856.9M411.3 850.1L415.7 856.9M424.6 612.2L429.0 605.4M429.0 605.4L437.9 605.4M437.9 605.4L442.3 612.2M429.0 850.1L437.9 850.1M442.3 612.2L451.2 612.2M451.2 856.9L455.6 850.1M442.3 856.9L451.2 856.9M437.9 850.1L442.3 856.9M451.2 612.2L455.6 605.4M455.6 605.4L464.5 605.4M464.5 605.4L468.9 612.2M455.6 850.1L464.5 850.1M468.9 612.2L477.8 612.2M477.8 856.9L482.2 850.1M468.9 856.9L477.8 856.9M464.5 850.1L468.9 856.9M477.8 612.2L482.2 605.4M482.2 605.4L491.1 605.4M491.1 605.4L495.5 612.2M491.1 619.0L495.5 612.2M491.1 619.0L495.5 625.8M491.1 632.6L495.5 625.8M491.1 632.6L495.5 639.4M491.1 646.2L495.5 639.4M491.1 646.2L495.5 653.0M491.1 659.8L495.5 653.0M491.1 659.8L495.5 666.6M491.1 673.4L495.5 666.6M491.1 673.4L495.5 680.2M491.1 687.0L495.5 680.2M491.1 687.0L495.5 693.8M491.1 700.6L495.5 693.8M491.1 700.6L495.5 707.4M491.1 714.2L495.5 707.4M491.1 714.2L495.5 721.0M491.1 727.8L495.5 721.0M491.1 727.8L495.5 734.6M491.1 741.4L495.5 734.6M491.1 741.4L495.5 748.1M491.1 754.9L495.5 748.1M491.1 754.9L495.5 761.7M491.1 768.5L495.5 761.7M491.1 768.5L495.5 775.3M491.1 782.1L495.5 775.3M491.1 782.1L495.5 788.9M491.1 795.7L495.5 788.9M491.1 795.7L495.5 802.5M491.1 809.3L495.5 802.5M491.1 809.3L495.5 816.1M491.1 822.9L495.5 816.1M491.1 822.9L495.5 829.7M491.1 836.5L495.5 829.7M491.1 836.5L495.5 843.3M491.1 850.1L495.5 843.3M482.2 850.1L491.1 850.1" fill="none" stroke="#111" stroke-width="1.3" stroke-linecap="round"/>
<line x1="296.60" y1="730.30" x2="319.40" y2="730.30" stroke="#111" stroke-width="2.0"/>
<path d="M313.60 726.00L322.40 730.30L313.60 734.60L315.80 730.30Z" fill="#111"/>
<rect x="513.50" y="605.30" width="16.10" height="250.30" fill="url(#gbv)" stroke="#1a1a22" stroke-width="1.4"/>
<text x="520.80" y="600.50" font-size="16" text-anchor="middle" stroke="#1c1c1c" stroke-width="0.25" fill="#1c1c1c">1</text>
<text x="520.80" y="876.80" font-size="16" text-anchor="middle" stroke="#1c1c1c" stroke-width="0.25" fill="#1c1c1c">0</text>
<text x="539.50" y="731.00" font-size="17.7" text-anchor="middle" stroke="#1c1c1c" stroke-width="0.25" fill="#1c1c1c" transform="rotate(90 539.50 731.00)">Fraction of Modules Bound</text>
<text x="210.00" y="885.00" font-size="17.9" text-anchor="middle" stroke="#1c1c1c" stroke-width="0.25" fill="#1c1c1c">Raw Peak Counts</text>
<text x="415.60" y="885.00" font-size="17.9" text-anchor="middle" stroke="#1c1c1c" stroke-width="0.25" fill="#1c1c1c">Matched Peak Counts</text>
<text x="619.20" y="581.00" font-size="29.5" text-anchor="start" font-weight="bold" fill="#1c1c1c">f</text>
<text x="948.50" y="588.50" font-size="21.3" text-anchor="middle" stroke="#1c1c1c" stroke-width="0.25" fill="#1c1c1c">Larval L2 vs. Larval L3</text>
<text x="686.40" y="731.00" font-size="17.9" text-anchor="middle" stroke="#1c1c1c" stroke-width="0.25" fill="#1c1c1c" transform="rotate(-90 686.40 731.00)">Fraction L2 (L2/L2 + L3 Modules)</text>
<rect x="735.00" y="607.00" width="16.00" height="12.68" fill="#a51c2c" stroke="none" stroke-width="1"/>
<rect x="735.00" y="619.48" width="16.00" height="12.68" fill="#bf2729" stroke="none" stroke-width="1"/>
<rect x="735.00" y="631.96" width="16.00" height="12.68" fill="#d93328" stroke="none" stroke-width="1"/>
<rect x="735.00" y="644.44" width="16.00" height="12.68" fill="#e85337" stroke="none" stroke-width="1"/>
<rect x="735.00" y="656.92" width="16.00" height="12.68" fill="#f57446" stroke="none" stroke-width="1"/>
<rect x="735.00" y="669.40" width="16.00" height="12.68" fill="#fa9656" stroke="none" stroke-width="1"/>
<rect x="735.00" y="681.88" width="16.00" height="12.68" fill="#fdb668" stroke="none" stroke-width="1"/>
<rect x="735.00" y="694.36" width="16.00" height="12.68" fill="#fed081" stroke="none" stroke-width="1"/>
<rect x="735.00" y="706.84" width="16.00" height="12.68" fill="#fee79a" stroke="none" stroke-width="1"/>
<rect x="735.00" y="719.32" width="16.00" height="12.68" fill="#fff7b3" stroke="none" stroke-width="1"/>
<rect x="735.00" y="731.80" width="16.00" height="12.68" fill="#f7fcce" stroke="none" stroke-width="1"/>
<rect x="735.00" y="744.28" width="16.00" height="12.68" fill="#e7f6ec" stroke="none" stroke-width="1"/>
<rect x="735.00" y="756.76" width="16.00" height="12.68" fill="#cfebf3" stroke="none" stroke-width="1"/>
<rect x="735.00" y="769.24" width="16.00" height="12.68" fill="#b3ddeb" stroke="none" stroke-width="1"/>
<rect x="735.00" y="781.72" width="16.00" height="12.68" fill="#97c9e0" stroke="none" stroke-width="1"/>
<rect x="735.00" y="794.20" width="16.00" height="12.68" fill="#7ab2d4" stroke="none" stroke-width="1"/>
<rect x="735.00" y="806.68" width="16.00" height="12.68" fill="#6095c5" stroke="none" stroke-width="1"/>
<rect x="735.00" y="819.16" width="16.00" height="12.68" fill="#4778b6" stroke="none" stroke-width="1"/>
<rect x="735.00" y="831.64" width="16.00" height="12.68" fill="#3c57a5" stroke="none" stroke-width="1"/>
<rect x="735.00" y="844.12" width="16.00" height="12.68" fill="#313695" stroke="none" stroke-width="1"/>
<rect x="735.00" y="607.00" width="16.00" height="249.60" fill="none" stroke="#1a1a22" stroke-width="1.4"/>
<text x="729.00" y="858.20" font-size="16.6" text-anchor="end" stroke="#1c1c1c" stroke-width="0.25" fill="#1c1c1c">0.0</text>
<text x="729.00" y="810.80" font-size="16.6" text-anchor="end" stroke="#1c1c1c" stroke-width="0.25" fill="#1c1c1c">0.2</text>
<text x="729.00" y="763.40" font-size="16.6" text-anchor="end" stroke="#1c1c1c" stroke-width="0.25" fill="#1c1c1c">0.4</text>
<text x="729.00" y="716.00" font-size="16.6" text-anchor="end" stroke="#1c1c1c" stroke-width="0.25" fill="#1c1c1c">0.6</text>
<text x="729.00" y="668.60" font-size="16.6" text-anchor="end" stroke="#1c1c1c" stroke-width="0.25" fill="#1c1c1c">0.8</text>
<text x="729.00" y="621.20" font-size="16.6" text-anchor="end" stroke="#1c1c1c" stroke-width="0.25" fill="#1c1c1c">1.0</text>
<path d="M770.2 614.0L773.6 608.1L780.4 608.1L783.8 614.0L780.4 619.9L773.6 619.9ZM770.2 637.6L773.6 631.7L780.4 631.7L783.8 637.6L780.4 643.4L773.6 643.4ZM770.2 661.1L773.6 655.2L780.4 655.2L783.8 661.1L780.4 667.0L773.6 667.0ZM770.2 672.9L773.6 667.0L780.4 667.0L783.8 672.9L780.4 678.8L773.6 678.8ZM770.2 684.7L773.6 678.8L780.4 678.8L783.8 684.7L780.4 690.6L773.6 690.6ZM770.2 837.9L773.6 832.0L780.4 832.0L783.8 837.9L780.4 843.7L773.6 843.7ZM770.2 849.6L773.6 843.7L780.4 843.7L783.8 849.6L780.4 855.5L773.6 855.5ZM780.4 608.1L783.8 602.2L790.6 602.2L794.0 608.1L790.6 614.0L783.8 614.0ZM780.4 619.9L783.8 614.0L790.6 614.0L794.0 619.9L790.6 625.8L783.8 625.8ZM780.4 643.4L783.8 637.6L790.6 637.6L794.0 643.4L790.6 649.3L783.8 649.3ZM780.4 655.2L783.8 649.3L790.6 649.3L794.0 655.2L790.6 661.1L783.8 661.1ZM780.4 678.8L783.8 672.9L790.6 672.9L794.0 678.8L790.6 684.7L783.8 684.7ZM780.4 690.6L783.8 684.7L790.6 684.7L794.0 690.6L790.6 696.5L783.8 696.5ZM780.4 702.4L783.8 696.5L790.6 696.5L794.0 702.4L790.6 708.2L783.8 708.2ZM780.4 714.1L783.8 708.2L790.6 708.2L794.0 714.1L790.6 720.0L783.8 720.0ZM780.4 843.7L783.8 837.9L790.6 837.9L794.0 843.7L790.6 849.6L783.8 849.6ZM790.6 637.6L794.0 631.7L800.9 631.7L804.3 637.6L800.9 643.4L794.0 643.4ZM790.6 649.3L794.0 643.4L800.9 643.4L804.3 649.3L800.9 655.2L794.0 655.2ZM790.6 661.1L794.0 655.2L800.9 655.2L804.3 661.1L800.9 667.0L794.0 667.0ZM790.6 696.5L794.0 690.6L800.9 690.6L804.3 696.5L800.9 702.4L794.0 702.4ZM790.6 708.2L794.0 702.4L800.9 702.4L804.3 708.2L800.9 714.1L794.0 714.1ZM800.9 619.9L804.3 614.0L811.1 614.0L814.5 619.9L811.1 625.8L804.3 625.8ZM800.9 631.7L804.3 625.8L811.1 625.8L814.5 631.7L811.1 637.6L804.3 637.6ZM800.9 643.4L804.3 637.6L811.1 637.6L814.5 643.4L811.1 649.3L804.3 649.3ZM800.9 655.2L804.3 649.3L811.1 649.3L814.5 655.2L811.1 661.1L804.3 661.1ZM800.9 667.0L804.3 661.1L811.1 661.1L814.5 667.0L811.1 672.9L804.3 672.9ZM800.9 678.8L804.3 672.9L811.1 672.9L814.5 678.8L811.1 684.7L804.3 684.7ZM800.9 690.6L804.3 684.7L811.1 684.7L814.5 690.6L811.1 696.5L804.3 696.5ZM800.9 702.4L804.3 696.5L811.1 696.5L814.5 702.4L811.1 708.2L804.3 708.2ZM800.9 714.1L804.3 708.2L811.1 708.2L814.5 714.1L811.1 720.0L804.3 720.0ZM800.9 843.7L804.3 837.9L811.1 837.9L814.5 843.7L811.1 849.6L804.3 849.6ZM811.1 614.0L814.5 608.1L821.3 608.1L824.7 614.0L821.3 619.9L814.5 619.9ZM811.1 625.8L814.5 619.9L821.3 619.9L824.7 625.8L821.3 631.7L814.5 631.7ZM811.1 637.6L814.5 631.7L821.3 631.7L824.7 637.6L821.3 643.4L814.5 643.4ZM811.1 649.3L814.5 643.4L821.3 643.4L824.7 649.3L821.3 655.2L814.5 655.2ZM811.1 661.1L814.5 655.2L821.3 655.2L824.7 661.1L821.3 667.0L814.5 667.0ZM811.1 672.9L814.5 667.0L821.3 667.0L824.7 672.9L821.3 678.8L814.5 678.8ZM811.1 684.7L814.5 678.8L821.3 678.8L824.7 684.7L821.3 690.6L814.5 690.6ZM811.1 696.5L814.5 690.6L821.3 690.6L824.7 696.5L821.3 702.4L814.5 702.4ZM811.1 708.2L814.5 702.4L821.3 702.4L824.7 708.2L821.3 714.1L814.5 714.1ZM821.3 608.1L824.7 602.2L831.5 602.2L835.0 608.1L831.5 614.0L824.7 614.0ZM821.3 619.9L824.7 614.0L831.5 614.0L835.0 619.9L831.5 625.8L824.7 625.8ZM821.3 631.7L824.7 625.8L831.5 625.8L835.0 631.7L831.5 637.6L824.7 637.6ZM821.3 643.4L824.7 637.6L831.5 637.6L835.0 643.4L831.5 649.3L824.7 649.3ZM821.3 655.2L824.7 649.3L831.5 649.3L835.0 655.2L831.5 661.1L824.7 661.1ZM821.3 667.0L824.7 661.1L831.5 661.1L835.0 667.0L831.5 672.9L824.7 672.9ZM821.3 678.8L824.7 672.9L831.5 672.9L835.0 678.8L831.5 684.7L824.7 684.7ZM821.3 832.0L824.7 826.1L831.5 826.1L835.0 832.0L831.5 837.9L824.7 837.9ZM821.3 843.7L824.7 837.9L831.5 837.9L835.0 843.7L831.5 849.6L824.7 849.6ZM831.5 614.0L835.0 608.1L841.8 608.1L845.2 614.0L841.8 619.9L835.0 619.9ZM831.5 625.8L835.0 619.9L841.8 619.9L845.2 625.8L841.8 631.7L835.0 631.7ZM831.5 637.6L835.0 631.7L841.8 631.7L845.2 637.6L841.8 643.4L835.0 643.4ZM831.5 649.3L835.0 643.4L841.8 643.4L845.2 649.3L841.8 655.2L835.0 655.2ZM831.5 661.1L835.0 655.2L841.8 655.2L845.2 661.1L841.8 667.0L835.0 667.0ZM831.5 672.9L835.0 667.0L841.8 667.0L845.2 672.9L841.8 678.8L835.0 678.8ZM831.5 684.7L835.0 678.8L841.8 678.8L845.2 684.7L841.8 690.6L835.0 690.6ZM831.5 696.5L835.0 690.6L841.8 690.6L845.2 696.5L841.8 702.4L835.0 702.4ZM831.5 708.2L835.0 702.4L841.8 702.4L845.2 708.2L841.8 714.1L835.0 714.1ZM831.5 826.1L835.0 820.2L841.8 820.2L845.2 826.1L841.8 832.0L835.0 832.0ZM831.5 837.9L835.0 832.0L841.8 832.0L845.2 837.9L841.8 843.7L835.0 843.7ZM841.8 608.1L845.2 602.2L852.0 602.2L855.4 608.1L852.0 614.0L845.2 614.0ZM841.8 619.9L845.2 614.0L852.0 614.0L855.4 619.9L852.0 625.8L845.2 625.8ZM841.8 631.7L845.2 625.8L852.0 625.8L855.4 631.7L852.0 637.6L845.2 637.6ZM841.8 643.4L845.2 637.6L852.0 637.6L855.4 643.4L852.0 649.3L845.2 649.3ZM841.8 655.2L845.2 649.3L852.0 649.3L855.4 655.2L852.0 661.1L845.2 661.1ZM841.8 667.0L845.2 661.1L852.0 661.1L855.4 667.0L852.0 672.9L845.2 672.9ZM841.8 678.8L845.2 672.9L852.0 672.9L855.4 678.8L852.0 684.7L845.2 684.7ZM841.8 832.0L845.2 826.1L852.0 826.1L855.4 832.0L852.0 837.9L845.2 837.9ZM841.8 843.7L845.2 837.9L852.0 837.9L855.4 843.7L852.0 849.6L845.2 849.6ZM852.0 614.0L855.4 608.1L862.2 608.1L865.6 614.0L862.2 619.9L855.4 619.9ZM852.0 625.8L855.4 619.9L862.2 619.9L865.6 625.8L862.2 631.7L855.4 631.7ZM852.0 637.6L855.4 631.7L862.2 631.7L865.6 637.6L862.2 643.4L855.4 643.4ZM852.0 649.3L855.4 643.4L862.2 643.4L865.6 649.3L862.2 655.2L855.4 655.2ZM852.0 661.1L855.4 655.2L862.2 655.2L865.6 661.1L862.2 667.0L855.4 667.0ZM852.0 672.9L855.4 667.0L862.2 667.0L865.6 672.9L862.2 678.8L855.4 678.8ZM852.0 837.9L855.4 832.0L862.2 832.0L865.6 837.9L862.2 843.7L855.4 843.7ZM852.0 849.6L855.4 843.7L862.2 843.7L865.6 849.6L862.2 855.5L855.4 855.5ZM862.2 619.9L865.6 614.0L872.4 614.0L875.9 619.9L872.4 625.8L865.6 625.8ZM862.2 631.7L865.6 625.8L872.4 625.8L875.9 631.7L872.4 637.6L865.6 637.6ZM862.2 643.4L865.6 637.6L872.4 637.6L875.9 643.4L872.4 649.3L865.6 649.3ZM862.2 655.2L865.6 649.3L872.4 649.3L875.9 655.2L872.4 661.1L865.6 661.1ZM862.2 667.0L865.6 661.1L872.4 661.1L875.9 667.0L872.4 672.9L865.6 672.9ZM862.2 690.6L865.6 684.7L872.4 684.7L875.9 690.6L872.4 696.5L865.6 696.5ZM862.2 832.0L865.6 826.1L872.4 826.1L875.9 832.0L872.4 837.9L865.6 837.9ZM862.2 843.7L865.6 837.9L872.4 837.9L875.9 843.7L872.4 849.6L865.6 849.6ZM872.4 614.0L875.9 608.1L882.7 608.1L886.1 614.0L882.7 619.9L875.9 619.9ZM872.4 625.8L875.9 619.9L882.7 619.9L886.1 625.8L882.7 631.7L875.9 631.7ZM872.4 637.6L875.9 631.7L882.7 631.7L886.1 637.6L882.7 643.4L875.9 643.4ZM872.4 672.9L875.9 667.0L882.7 667.0L886.1 672.9L882.7 678.8L875.9 678.8ZM872.4 684.7L875.9 678.8L882.7 678.8L886.1 684.7L882.7 690.6L875.9 690.6ZM872.4 826.1L875.9 820.2L882.7 820.2L886.1 826.1L882.7 832.0L875.9 832.0ZM872.4 837.9L875.9 832.0L882.7 832.0L886.1 837.9L882.7 843.7L875.9 843.7ZM872.4 849.6L875.9 843.7L882.7 843.7L886.1 849.6L882.7 855.5L875.9 855.5ZM882.7 608.1L886.1 602.2L892.9 602.2L896.3 608.1L892.9 614.0L886.1 614.0ZM882.7 619.9L886.1 614.0L892.9 614.0L896.3 619.9L892.9 625.8L886.1 625.8ZM882.7 631.7L886.1 625.8L892.9 625.8L896.3 631.7L892.9 637.6L886.1 637.6ZM882.7 643.4L886.1 637.6L892.9 637.6L896.3 643.4L892.9 649.3L886.1 649.3ZM882.7 655.2L886.1 649.3L892.9 649.3L896.3 655.2L892.9 661.1L886.1 661.1ZM882.7 832.0L886.1 826.1L892.9 826.1L896.3 832.0L892.9 837.9L886.1 837.9ZM882.7 843.7L886.1 837.9L892.9 837.9L896.3 843.7L892.9 849.6L886.1 849.6ZM892.9 614.0L896.3 608.1L903.1 608.1L906.5 614.0L903.1 619.9L896.3 619.9ZM892.9 625.8L896.3 619.9L903.1 619.9L906.5 625.8L903.1 631.7L896.3 631.7ZM892.9 637.6L896.3 631.7L903.1 631.7L906.5 637.6L903.1 643.4L896.3 643.4ZM892.9 649.3L896.3 643.4L903.1 643.4L906.5 649.3L903.1 655.2L896.3 655.2ZM892.9 661.1L896.3 655.2L903.1 655.2L906.5 661.1L903.1 667.0L896.3 667.0ZM892.9 837.9L896.3 832.0L903.1 832.0L906.5 837.9L903.1 843.7L896.3 843.7ZM892.9 849.6L896.3 843.7L903.1 843.7L906.5 849.6L903.1 855.5L896.3 855.5ZM903.1 608.1L906.5 602.2L913.3 602.2L916.8 608.1L913.3 614.0L906.5 614.0ZM903.1 619.9L906.5 614.0L913.3 614.0L916.8 619.9L913.3 625.8L906.5 625.8ZM903.1 631.7L906.5 625.8L913.3 625.8L916.8 631.7L913.3 637.6L906.5 637.6ZM903.1 643.4L906.5 637.6L913.3 637.6L916.8 643.4L913.3 649.3L906.5 649.3ZM903.1 655.2L906.5 649.3L913.3 649.3L916.8 655.2L913.3 661.1L906.5 661.1ZM903.1 678.8L906.5 672.9L913.3 672.9L916.8 678.8L913.3 684.7L906.5 684.7ZM903.1 832.0L906.5 826.1L913.3 826.1L916.8 832.0L913.3 837.9L906.5 837.9ZM903.1 843.7L906.5 837.9L913.3 837.9L916.8 843.7L913.3 849.6L906.5 849.6Z" fill="#313695" stroke="#313695" stroke-width="0.6"/>
<path d="M770.2 625.8L773.6 619.9L780.4 619.9L783.8 625.8L780.4 631.7L773.6 631.7ZM770.2 649.3L773.6 643.4L780.4 643.4L783.8 649.3L780.4 655.2L773.6 655.2ZM780.4 631.7L783.8 625.8L790.6 625.8L794.0 631.7L790.6 637.6L783.8 637.6ZM780.4 808.4L783.8 802.5L790.6 802.5L794.0 808.4L790.6 814.3L783.8 814.3ZM780.4 820.2L783.8 814.3L790.6 814.3L794.0 820.2L790.6 826.1L783.8 826.1ZM790.6 614.0L794.0 608.1L800.9 608.1L804.3 614.0L800.9 619.9L794.0 619.9ZM790.6 625.8L794.0 619.9L800.9 619.9L804.3 625.8L800.9 631.7L794.0 631.7ZM790.6 672.9L794.0 667.0L800.9 667.0L804.3 672.9L800.9 678.8L794.0 678.8ZM790.6 767.2L794.0 761.3L800.9 761.3L804.3 767.2L800.9 773.1L794.0 773.1ZM790.6 790.7L794.0 784.8L800.9 784.8L804.3 790.7L800.9 796.6L794.0 796.6ZM790.6 802.5L794.0 796.6L800.9 796.6L804.3 802.5L800.9 808.4L794.0 808.4ZM821.3 702.4L824.7 696.5L831.5 696.5L835.0 702.4L831.5 708.2L824.7 708.2ZM821.3 737.7L824.7 731.8L831.5 731.8L835.0 737.7L831.5 743.6L824.7 743.6ZM841.8 690.6L845.2 684.7L852.0 684.7L855.4 690.6L852.0 696.5L845.2 696.5ZM852.0 743.6L855.4 737.7L862.2 737.7L865.6 743.6L862.2 749.5L855.4 749.5ZM862.2 725.9L865.6 720.0L872.4 720.0L875.9 725.9L872.4 731.8L865.6 731.8ZM872.4 649.3L875.9 643.4L882.7 643.4L886.1 649.3L882.7 655.2L875.9 655.2ZM872.4 661.1L875.9 655.2L882.7 655.2L886.1 661.1L882.7 667.0L875.9 667.0ZM882.7 667.0L886.1 661.1L892.9 661.1L896.3 667.0L892.9 672.9L886.1 672.9ZM882.7 749.5L886.1 743.6L892.9 743.6L896.3 749.5L892.9 755.4L886.1 755.4ZM892.9 672.9L896.3 667.0L903.1 667.0L906.5 672.9L903.1 678.8L896.3 678.8ZM892.9 684.7L896.3 678.8L903.1 678.8L906.5 684.7L903.1 690.6L896.3 690.6ZM892.9 731.8L896.3 725.9L903.1 725.9L906.5 731.8L903.1 737.7L896.3 737.7ZM903.1 667.0L906.5 661.1L913.3 661.1L916.8 667.0L913.3 672.9L906.5 672.9Z" fill="#bfc0c2" stroke="#bfc0c2" stroke-width="0.6"/>
<path d="M770.2 696.5L773.6 690.6L780.4 690.6L783.8 696.5L780.4 702.4L773.6 702.4ZM790.6 826.1L794.0 820.2L800.9 820.2L804.3 826.1L800.9 832.0L794.0 832.0ZM811.1 755.4L814.5 749.5L821.3 749.5L824.7 755.4L821.3 761.3L814.5 761.3Z" fill="#fdb668" stroke="#fdb668" stroke-width="0.6"/>
<path d="M770.2 708.2L773.6 702.4L780.4 702.4L783.8 708.2L780.4 714.1L773.6 714.1ZM790.6 755.4L794.0 749.5L800.9 749.5L804.3 755.4L800.9 761.3L794.0 761.3ZM800.9 725.9L804.3 720.0L811.1 720.0L814.5 725.9L811.1 731.8L804.3 731.8ZM800.9 737.7L804.3 731.8L811.1 731.8L814.5 737.7L811.1 743.6L804.3 743.6ZM821.3 820.2L824.7 814.3L831.5 814.3L835.0 820.2L831.5 826.1L824.7 826.1ZM831.5 767.2L835.0 761.3L841.8 761.3L845.2 767.2L841.8 773.1L835.0 773.1ZM841.8 737.7L845.2 731.8L852.0 731.8L855.4 737.7L852.0 743.6L845.2 743.6ZM841.8 820.2L845.2 814.3L852.0 814.3L855.4 820.2L852.0 826.1L845.2 826.1ZM862.2 714.1L865.6 708.2L872.4 708.2L875.9 714.1L872.4 720.0L865.6 720.0ZM892.9 696.5L896.3 690.6L903.1 690.6L906.5 696.5L903.1 702.4L896.3 702.4ZM903.1 749.5L906.5 743.6L913.3 743.6L916.8 749.5L913.3 755.4L906.5 755.4Z" fill="#f57446" stroke="#f57446" stroke-width="0.6"/>
<path d="M770.2 720.0L773.6 714.1L780.4 714.1L783.8 720.0L780.4 725.9L773.6 725.9ZM770.2 743.6L773.6 737.7L780.4 737.7L783.8 743.6L780.4 749.5L773.6 749.5ZM770.2 755.4L773.6 749.5L780.4 749.5L783.8 755.4L780.4 761.3L773.6 761.3ZM770.2 778.9L773.6 773.1L780.4 773.1L783.8 778.9L780.4 784.8L773.6 784.8ZM770.2 790.7L773.6 784.8L780.4 784.8L783.8 790.7L780.4 796.6L773.6 796.6ZM770.2 802.5L773.6 796.6L780.4 796.6L783.8 802.5L780.4 808.4L773.6 808.4ZM770.2 814.3L773.6 808.4L780.4 808.4L783.8 814.3L780.4 820.2L773.6 820.2ZM770.2 826.1L773.6 820.2L780.4 820.2L783.8 826.1L780.4 832.0L773.6 832.0ZM780.4 737.7L783.8 731.8L790.6 731.8L794.0 737.7L790.6 743.6L783.8 743.6ZM780.4 749.5L783.8 743.6L790.6 743.6L794.0 749.5L790.6 755.4L783.8 755.4ZM780.4 761.3L783.8 755.4L790.6 755.4L794.0 761.3L790.6 767.2L783.8 767.2ZM780.4 773.1L783.8 767.2L790.6 767.2L794.0 773.1L790.6 778.9L783.8 778.9ZM780.4 784.8L783.8 778.9L790.6 778.9L794.0 784.8L790.6 790.7L783.8 790.7ZM780.4 796.6L783.8 790.7L790.6 790.7L794.0 796.6L790.6 802.5L783.8 802.5ZM790.6 731.8L794.0 725.9L800.9 725.9L804.3 731.8L800.9 737.7L794.0 737.7ZM790.6 743.6L794.0 737.7L800.9 737.7L804.3 743.6L800.9 749.5L794.0 749.5ZM790.6 778.9L794.0 773.1L800.9 773.1L804.3 778.9L800.9 784.8L794.0 784.8ZM790.6 814.3L794.0 808.4L800.9 808.4L804.3 814.3L800.9 820.2L794.0 820.2ZM800.9 784.8L804.3 778.9L811.1 778.9L814.5 784.8L811.1 790.7L804.3 790.7ZM800.9 796.6L804.3 790.7L811.1 790.7L814.5 796.6L811.1 802.5L804.3 802.5ZM800.9 808.4L804.3 802.5L811.1 802.5L814.5 808.4L811.1 814.3L804.3 814.3ZM811.1 720.0L814.5 714.1L821.3 714.1L824.7 720.0L821.3 725.9L814.5 725.9ZM811.1 731.8L814.5 725.9L821.3 725.9L824.7 731.8L821.3 737.7L814.5 737.7ZM811.1 743.6L814.5 737.7L821.3 737.7L824.7 743.6L821.3 749.5L814.5 749.5ZM811.1 767.2L814.5 761.3L821.3 761.3L824.7 767.2L821.3 773.1L814.5 773.1ZM811.1 778.9L814.5 773.1L821.3 773.1L824.7 778.9L821.3 784.8L814.5 784.8ZM811.1 802.5L814.5 796.6L821.3 796.6L824.7 802.5L821.3 808.4L814.5 808.4ZM821.3 749.5L824.7 743.6L831.5 743.6L835.0 749.5L831.5 755.4L824.7 755.4ZM821.3 761.3L824.7 755.4L831.5 755.4L835.0 761.3L831.5 767.2L824.7 767.2ZM821.3 773.1L824.7 767.2L831.5 767.2L835.0 773.1L831.5 778.9L824.7 778.9ZM821.3 784.8L824.7 778.9L831.5 778.9L835.0 784.8L831.5 790.7L824.7 790.7ZM821.3 796.6L824.7 790.7L831.5 790.7L835.0 796.6L831.5 802.5L824.7 802.5ZM821.3 808.4L824.7 802.5L831.5 802.5L835.0 808.4L831.5 814.3L824.7 814.3ZM831.5 743.6L835.0 737.7L841.8 737.7L845.2 743.6L841.8 749.5L835.0 749.5ZM831.5 755.4L835.0 749.5L841.8 749.5L845.2 755.4L841.8 761.3L835.0 761.3ZM831.5 778.9L835.0 773.1L841.8 773.1L845.2 778.9L841.8 784.8L835.0 784.8ZM831.5 790.7L835.0 784.8L841.8 784.8L845.2 790.7L841.8 796.6L835.0 796.6ZM831.5 802.5L835.0 796.6L841.8 796.6L845.2 802.5L841.8 808.4L835.0 808.4ZM831.5 814.3L835.0 808.4L841.8 808.4L845.2 814.3L841.8 820.2L835.0 820.2ZM841.8 749.5L845.2 743.6L852.0 743.6L855.4 749.5L852.0 755.4L845.2 755.4ZM841.8 761.3L845.2 755.4L852.0 755.4L855.4 761.3L852.0 767.2L845.2 767.2ZM841.8 773.1L845.2 767.2L852.0 767.2L855.4 773.1L852.0 778.9L845.2 778.9ZM841.8 784.8L845.2 778.9L852.0 778.9L855.4 784.8L852.0 790.7L845.2 790.7ZM841.8 796.6L845.2 790.7L852.0 790.7L855.4 796.6L852.0 802.5L845.2 802.5ZM841.8 808.4L845.2 802.5L852.0 802.5L855.4 808.4L852.0 814.3L845.2 814.3ZM852.0 731.8L855.4 725.9L862.2 725.9L865.6 731.8L862.2 737.7L855.4 737.7ZM852.0 767.2L855.4 761.3L862.2 761.3L865.6 767.2L862.2 773.1L855.4 773.1ZM852.0 778.9L855.4 773.1L862.2 773.1L865.6 778.9L862.2 784.8L855.4 784.8ZM852.0 790.7L855.4 784.8L862.2 784.8L865.6 790.7L862.2 796.6L855.4 796.6ZM852.0 802.5L855.4 796.6L862.2 796.6L865.6 802.5L862.2 808.4L855.4 808.4ZM852.0 814.3L855.4 808.4L862.2 808.4L865.6 814.3L862.2 820.2L855.4 820.2ZM862.2 737.7L865.6 731.8L872.4 731.8L875.9 737.7L872.4 743.6L865.6 743.6ZM862.2 749.5L865.6 743.6L872.4 743.6L875.9 749.5L872.4 755.4L865.6 755.4ZM862.2 761.3L865.6 755.4L872.4 755.4L875.9 761.3L872.4 767.2L865.6 767.2ZM862.2 773.1L865.6 767.2L872.4 767.2L875.9 773.1L872.4 778.9L865.6 778.9ZM862.2 784.8L865.6 778.9L872.4 778.9L875.9 784.8L872.4 790.7L865.6 790.7ZM862.2 796.6L865.6 790.7L872.4 790.7L875.9 796.6L872.4 802.5L865.6 802.5ZM862.2 808.4L865.6 802.5L872.4 802.5L875.9 808.4L872.4 814.3L865.6 814.3ZM872.4 731.8L875.9 725.9L882.7 725.9L886.1 731.8L882.7 737.7L875.9 737.7ZM872.4 755.4L875.9 749.5L882.7 749.5L886.1 755.4L882.7 761.3L875.9 761.3ZM872.4 767.2L875.9 761.3L882.7 761.3L886.1 767.2L882.7 773.1L875.9 773.1ZM872.4 778.9L875.9 773.1L882.7 773.1L886.1 778.9L882.7 784.8L875.9 784.8ZM872.4 790.7L875.9 784.8L882.7 784.8L886.1 790.7L882.7 796.6L875.9 796.6ZM872.4 802.5L875.9 796.6L882.7 796.6L886.1 802.5L882.7 808.4L875.9 808.4ZM872.4 814.3L875.9 808.4L882.7 808.4L886.1 814.3L882.7 820.2L875.9 820.2ZM882.7 714.1L886.1 708.2L892.9 708.2L896.3 714.1L892.9 720.0L886.1 720.0ZM882.7 725.9L886.1 720.0L892.9 720.0L896.3 725.9L892.9 731.8L886.1 731.8ZM882.7 737.7L886.1 731.8L892.9 731.8L896.3 737.7L892.9 743.6L886.1 743.6ZM882.7 761.3L886.1 755.4L892.9 755.4L896.3 761.3L892.9 767.2L886.1 767.2ZM882.7 773.1L886.1 767.2L892.9 767.2L896.3 773.1L892.9 778.9L886.1 778.9ZM882.7 784.8L886.1 778.9L892.9 778.9L896.3 784.8L892.9 790.7L886.1 790.7ZM882.7 796.6L886.1 790.7L892.9 790.7L896.3 796.6L892.9 802.5L886.1 802.5ZM882.7 808.4L886.1 802.5L892.9 802.5L896.3 808.4L892.9 814.3L886.1 814.3ZM892.9 708.2L896.3 702.4L903.1 702.4L906.5 708.2L903.1 714.1L896.3 714.1ZM892.9 720.0L896.3 714.1L903.1 714.1L906.5 720.0L903.1 725.9L896.3 725.9ZM892.9 755.4L896.3 749.5L903.1 749.5L906.5 755.4L903.1 761.3L896.3 761.3ZM892.9 767.2L896.3 761.3L903.1 761.3L906.5 767.2L903.1 773.1L896.3 773.1ZM892.9 778.9L896.3 773.1L903.1 773.1L906.5 778.9L903.1 784.8L896.3 784.8ZM892.9 790.7L896.3 784.8L903.1 784.8L906.5 790.7L903.1 796.6L896.3 796.6ZM892.9 802.5L896.3 796.6L903.1 796.6L906.5 802.5L903.1 808.4L896.3 808.4ZM892.9 814.3L896.3 808.4L903.1 808.4L906.5 814.3L903.1 820.2L896.3 820.2ZM892.9 826.1L896.3 820.2L903.1 820.2L906.5 826.1L903.1 832.0L896.3 832.0ZM903.1 714.1L906.5 708.2L913.3 708.2L916.8 714.1L913.3 720.0L906.5 720.0ZM903.1 725.9L906.5 720.0L913.3 720.0L916.8 725.9L913.3 731.8L906.5 731.8ZM903.1 737.7L906.5 731.8L913.3 731.8L916.8 737.7L913.3 743.6L906.5 743.6ZM903.1 761.3L906.5 755.4L913.3 755.4L916.8 761.3L913.3 767.2L906.5 767.2ZM903.1 773.1L906.5 767.2L913.3 767.2L916.8 773.1L913.3 778.9L906.5 778.9ZM903.1 784.8L906.5 778.9L913.3 778.9L916.8 784.8L913.3 790.7L906.5 790.7ZM903.1 796.6L906.5 790.7L913.3 790.7L916.8 796.6L913.3 802.5L906.5 802.5ZM903.1 808.4L906.5 802.5L913.3 802.5L916.8 808.4L913.3 814.3L906.5 814.3ZM903.1 820.2L906.5 814.3L913.3 814.3L916.8 820.2L913.3 826.1L906.5 826.1Z" fill="#a51c2c" stroke="#a51c2c" stroke-width="0.6"/>
<path d="M770.2 731.8L773.6 725.9L780.4 725.9L783.8 731.8L780.4 737.7L773.6 737.7ZM780.4 667.0L783.8 661.1L790.6 661.1L794.0 667.0L790.6 672.9L783.8 672.9ZM790.6 684.7L794.0 678.8L800.9 678.8L804.3 684.7L800.9 690.6L794.0 690.6ZM800.9 749.5L804.3 743.6L811.1 743.6L814.5 749.5L811.1 755.4L804.3 755.4ZM811.1 837.9L814.5 832.0L821.3 832.0L824.7 837.9L821.3 843.7L814.5 843.7ZM811.1 849.6L814.5 843.7L821.3 843.7L824.7 849.6L821.3 855.5L814.5 855.5ZM821.3 690.6L824.7 684.7L831.5 684.7L835.0 690.6L831.5 696.5L824.7 696.5ZM831.5 849.6L835.0 843.7L841.8 843.7L845.2 849.6L841.8 855.5L835.0 855.5ZM852.0 720.0L855.4 714.1L862.2 714.1L865.6 720.0L862.2 725.9L855.4 725.9ZM862.2 608.1L865.6 602.2L872.4 602.2L875.9 608.1L872.4 614.0L865.6 614.0ZM882.7 678.8L886.1 672.9L892.9 672.9L896.3 678.8L892.9 684.7L886.1 684.7Z" fill="#4778b6" stroke="#4778b6" stroke-width="0.6"/>
<path d="M770.2 767.2L773.6 761.3L780.4 761.3L783.8 767.2L780.4 773.1L773.6 773.1ZM811.1 826.1L814.5 820.2L821.3 820.2L824.7 826.1L821.3 832.0L814.5 832.0ZM892.9 743.6L896.3 737.7L903.1 737.7L906.5 743.6L903.1 749.5L896.3 749.5ZM903.1 690.6L906.5 684.7L913.3 684.7L916.8 690.6L913.3 696.5L906.5 696.5Z" fill="#fee79a" stroke="#fee79a" stroke-width="0.6"/>
<path d="M780.4 725.9L783.8 720.0L790.6 720.0L794.0 725.9L790.6 731.8L783.8 731.8ZM780.4 832.0L783.8 826.1L790.6 826.1L794.0 832.0L790.6 837.9L783.8 837.9ZM790.6 720.0L794.0 714.1L800.9 714.1L804.3 720.0L800.9 725.9L794.0 725.9ZM790.6 837.9L794.0 832.0L800.9 832.0L804.3 837.9L800.9 843.7L794.0 843.7ZM800.9 832.0L804.3 826.1L811.1 826.1L814.5 832.0L811.1 837.9L804.3 837.9ZM821.3 714.1L824.7 708.2L831.5 708.2L835.0 714.1L831.5 720.0L824.7 720.0ZM831.5 720.0L835.0 714.1L841.8 714.1L845.2 720.0L841.8 725.9L835.0 725.9ZM841.8 714.1L845.2 708.2L852.0 708.2L855.4 714.1L852.0 720.0L845.2 720.0ZM841.8 725.9L845.2 720.0L852.0 720.0L855.4 725.9L852.0 731.8L845.2 731.8ZM852.0 684.7L855.4 678.8L862.2 678.8L865.6 684.7L862.2 690.6L855.4 690.6ZM852.0 826.1L855.4 820.2L862.2 820.2L865.6 826.1L862.2 832.0L855.4 832.0ZM862.2 702.4L865.6 696.5L872.4 696.5L875.9 702.4L872.4 708.2L865.6 708.2Z" fill="#7ab2d4" stroke="#7ab2d4" stroke-width="0.6"/>
<path d="M790.6 849.6L794.0 843.7L800.9 843.7L804.3 849.6L800.9 855.5L794.0 855.5ZM800.9 608.1L804.3 602.2L811.1 602.2L814.5 608.1L811.1 614.0L804.3 614.0ZM862.2 678.8L865.6 672.9L872.4 672.9L875.9 678.8L872.4 684.7L865.6 684.7ZM872.4 696.5L875.9 690.6L882.7 690.6L886.1 696.5L882.7 702.4L875.9 702.4ZM882.7 702.4L886.1 696.5L892.9 696.5L896.3 702.4L892.9 708.2L886.1 708.2Z" fill="#b3ddeb" stroke="#b3ddeb" stroke-width="0.6"/>
<path d="M800.9 761.3L804.3 755.4L811.1 755.4L814.5 761.3L811.1 767.2L804.3 767.2ZM800.9 773.1L804.3 767.2L811.1 767.2L814.5 773.1L811.1 778.9L804.3 778.9ZM821.3 725.9L824.7 720.0L831.5 720.0L835.0 725.9L831.5 731.8L824.7 731.8ZM831.5 731.8L835.0 725.9L841.8 725.9L845.2 731.8L841.8 737.7L835.0 737.7ZM841.8 702.4L845.2 696.5L852.0 696.5L855.4 702.4L852.0 708.2L845.2 708.2ZM852.0 696.5L855.4 690.6L862.2 690.6L865.6 696.5L862.2 702.4L855.4 702.4ZM882.7 690.6L886.1 684.7L892.9 684.7L896.3 690.6L892.9 696.5L886.1 696.5Z" fill="#fff7b3" stroke="#fff7b3" stroke-width="0.6"/>
<path d="M800.9 820.2L804.3 814.3L811.1 814.3L814.5 820.2L811.1 826.1L804.3 826.1ZM811.1 790.7L814.5 784.8L821.3 784.8L824.7 790.7L821.3 796.6L814.5 796.6ZM811.1 814.3L814.5 808.4L821.3 808.4L824.7 814.3L821.3 820.2L814.5 820.2ZM852.0 755.4L855.4 749.5L862.2 749.5L865.6 755.4L862.2 761.3L855.4 761.3ZM872.4 708.2L875.9 702.4L882.7 702.4L886.1 708.2L882.7 714.1L875.9 714.1ZM872.4 720.0L875.9 714.1L882.7 714.1L886.1 720.0L882.7 725.9L875.9 725.9ZM872.4 743.6L875.9 737.7L882.7 737.7L886.1 743.6L882.7 749.5L875.9 749.5ZM882.7 820.2L886.1 814.3L892.9 814.3L896.3 820.2L892.9 826.1L886.1 826.1ZM903.1 702.4L906.5 696.5L913.3 696.5L916.8 702.4L913.3 708.2L906.5 708.2Z" fill="#d93328" stroke="#d93328" stroke-width="0.6"/>
<path d="M852.0 708.2L855.4 702.4L862.2 702.4L865.6 708.2L862.2 714.1L855.4 714.1ZM862.2 820.2L865.6 814.3L872.4 814.3L875.9 820.2L872.4 826.1L865.6 826.1Z" fill="#e7f6ec" stroke="#e7f6ec" stroke-width="0.6"/>
<path d="M770.2 614.0L773.6 608.1M773.6 608.1L780.4 608.1M770.2 614.0L773.6 619.9M770.2 625.8L773.6 619.9M770.2 625.8L773.6 631.7M770.2 637.6L773.6 631.7M770.2 637.6L773.6 643.4M770.2 649.3L773.6 643.4M770.2 649.3L773.6 655.2M770.2 661.1L773.6 655.2M770.2 661.1L773.6 667.0M770.2 672.9L773.6 667.0M770.2 672.9L773.6 678.8M770.2 684.7L773.6 678.8M770.2 684.7L773.6 690.6M770.2 696.5L773.6 690.6M770.2 696.5L773.6 702.4M770.2 708.2L773.6 702.4M770.2 708.2L773.6 714.1M770.2 720.0L773.6 714.1M770.2 720.0L773.6 725.9M770.2 731.8L773.6 725.9M770.2 731.8L773.6 737.7M770.2 743.6L773.6 737.7M770.2 743.6L773.6 749.5M770.2 755.4L773.6 749.5M770.2 755.4L773.6 761.3M770.2 767.2L773.6 761.3M770.2 767.2L773.6 773.1M770.2 778.9L773.6 773.1M770.2 778.9L773.6 784.8M770.2 790.7L773.6 784.8M770.2 790.7L773.6 796.6M770.2 802.5L773.6 796.6M770.2 802.5L773.6 808.4M770.2 814.3L773.6 808.4M770.2 814.3L773.6 820.2M770.2 826.1L773.6 820.2M770.2 826.1L773.6 832.0M770.2 837.9L773.6 832.0M770.2 837.9L773.6 843.7M770.2 849.6L773.6 843.7M780.4 855.5L783.8 849.6M773.6 855.5L780.4 855.5M770.2 849.6L773.6 855.5M780.4 608.1L783.8 602.2M783.8 602.2L790.6 602.2M790.6 602.2L794.0 608.1M783.8 849.6L790.6 849.6M794.0 608.1L800.9 608.1M800.9 855.5L804.3 849.6M794.0 855.5L800.9 855.5M790.6 849.6L794.0 855.5M800.9 608.1L804.3 602.2M804.3 602.2L811.1 602.2M811.1 602.2L814.5 608.1M804.3 849.6L811.1 849.6M814.5 608.1L821.3 608.1M821.3 855.5L824.7 849.6M814.5 855.5L821.3 855.5M811.1 849.6L814.5 855.5M821.3 608.1L824.7 602.2M824.7 602.2L831.5 602.2M831.5 602.2L835.0 608.1M824.7 849.6L831.5 849.6M835.0 608.1L841.8 608.1M841.8 855.5L845.2 849.6M835.0 855.5L841.8 855.5M831.5 849.6L835.0 855.5M841.8 608.1L845.2 602.2M845.2 602.2L852.0 602.2M852.0 602.2L855.4 608.1M845.2 849.6L852.0 849.6M855.4 608.1L862.2 608.1M862.2 855.5L865.6 849.6M855.4 855.5L862.2 855.5M852.0 849.6L855.4 855.5M862.2 608.1L865.6 602.2M865.6 602.2L872.4 602.2M872.4 602.2L875.9 608.1M865.6 849.6L872.4 849.6M875.9 608.1L882.7 608.1M882.7 855.5L886.1 849.6M875.9 855.5L882.7 855.5M872.4 849.6L875.9 855.5M882.7 608.1L886.1 602.2M886.1 602.2L892.9 602.2M892.9 602.2L896.3 608.1M886.1 849.6L892.9 849.6M896.3 608.1L903.1 608.1M903.1 855.5L906.5 849.6M896.3 855.5L903.1 855.5M892.9 849.6L896.3 855.5M903.1 608.1L906.5 602.2M906.5 602.2L913.3 602.2M913.3 602.2L916.8 608.1M913.3 614.0L916.8 608.1M913.3 614.0L916.8 619.9M913.3 625.8L916.8 619.9M913.3 625.8L916.8 631.7M913.3 637.6L916.8 631.7M913.3 637.6L916.8 643.4M913.3 649.3L916.8 643.4M913.3 649.3L916.8 655.2M913.3 661.1L916.8 655.2M913.3 661.1L916.8 667.0M913.3 672.9L916.8 667.0M913.3 672.9L916.8 678.8M913.3 684.7L916.8 678.8M913.3 684.7L916.8 690.6M913.3 696.5L916.8 690.6M913.3 696.5L916.8 702.4M913.3 708.2L916.8 702.4M913.3 708.2L916.8 714.1M913.3 720.0L916.8 714.1M913.3 720.0L916.8 725.9M913.3 731.8L916.8 725.9M913.3 731.8L916.8 737.7M913.3 743.6L916.8 737.7M913.3 743.6L916.8 749.5M913.3 755.4L916.8 749.5M913.3 755.4L916.8 761.3M913.3 767.2L916.8 761.3M913.3 767.2L916.8 773.1M913.3 778.9L916.8 773.1M913.3 778.9L916.8 784.8M913.3 790.7L916.8 784.8M913.3 790.7L916.8 796.6M913.3 802.5L916.8 796.6M913.3 802.5L916.8 808.4M913.3 814.3L916.8 808.4M913.3 814.3L916.8 820.2M913.3 826.1L916.8 820.2M913.3 826.1L916.8 832.0M913.3 837.9L916.8 832.0M913.3 837.9L916.8 843.7M913.3 849.6L916.8 843.7M906.5 849.6L913.3 849.6" fill="none" stroke="#111" stroke-width="1.3" stroke-linecap="round"/>
<path d="M945.3 615.4L949.5 609.6L957.8 609.6L962.0 615.4L957.8 621.3L949.5 621.3ZM957.8 773.5L962.0 767.7L970.3 767.7L974.5 773.5L970.3 779.4L962.0 779.4ZM1033.0 738.4L1037.2 732.5L1045.5 732.5L1049.7 738.4L1045.5 744.2L1037.2 744.2ZM1058.0 773.5L1062.2 767.7L1070.6 767.7L1074.8 773.5L1070.6 779.4L1062.2 779.4ZM1083.1 832.1L1087.3 826.2L1095.6 826.2L1099.8 832.1L1095.6 837.9L1087.3 837.9ZM1083.1 843.8L1087.3 837.9L1095.6 837.9L1099.8 843.8L1095.6 849.7L1087.3 849.7ZM1095.6 615.4L1099.8 609.6L1108.2 609.6L1112.3 615.4L1108.2 621.3L1099.8 621.3ZM1095.6 791.1L1099.8 785.2L1108.2 785.2L1112.3 791.1L1108.2 797.0L1099.8 797.0ZM1095.6 802.8L1099.8 797.0L1108.2 797.0L1112.3 802.8L1108.2 808.7L1099.8 808.7ZM1108.2 609.6L1112.3 603.7L1120.7 603.7L1124.9 609.6L1120.7 615.4L1112.3 615.4ZM1108.2 832.1L1112.3 826.2L1120.7 826.2L1124.9 832.1L1120.7 837.9L1112.3 837.9ZM1108.2 843.8L1112.3 837.9L1120.7 837.9L1124.9 843.8L1120.7 849.7L1112.3 849.7Z" fill="#4778b6" stroke="#4778b6" stroke-width="0.6"/>
<path d="M945.3 627.1L949.5 621.3L957.8 621.3L962.0 627.1L957.8 633.0L949.5 633.0ZM957.8 621.3L962.0 615.4L970.3 615.4L974.5 621.3L970.3 627.1L962.0 627.1ZM957.8 633.0L962.0 627.1L970.3 627.1L974.5 633.0L970.3 638.8L962.0 638.8ZM970.3 638.8L974.5 633.0L982.9 633.0L987.0 638.8L982.9 644.7L974.5 644.7ZM995.4 767.7L999.6 761.8L1007.9 761.8L1012.1 767.7L1007.9 773.5L999.6 773.5ZM995.4 779.4L999.6 773.5L1007.9 773.5L1012.1 779.4L1007.9 785.2L999.6 785.2ZM1045.5 662.3L1049.7 656.4L1058.0 656.4L1062.2 662.3L1058.0 668.1L1049.7 668.1ZM1070.6 662.3L1074.8 656.4L1083.1 656.4L1087.3 662.3L1083.1 668.1L1074.8 668.1ZM1083.1 726.7L1087.3 720.8L1095.6 720.8L1099.8 726.7L1095.6 732.5L1087.3 732.5Z" fill="#a51c2c" stroke="#a51c2c" stroke-width="0.6"/>
<path d="M945.3 638.8L949.5 633.0L957.8 633.0L962.0 638.8L957.8 644.7L949.5 644.7ZM945.3 767.7L949.5 761.8L957.8 761.8L962.0 767.7L957.8 773.5L949.5 773.5ZM970.3 662.3L974.5 656.4L982.9 656.4L987.0 662.3L982.9 668.1L974.5 668.1ZM982.9 843.8L987.0 837.9L995.4 837.9L999.6 843.8L995.4 849.7L987.0 849.7ZM995.4 685.7L999.6 679.8L1007.9 679.8L1012.1 685.7L1007.9 691.5L999.6 691.5ZM995.4 756.0L999.6 750.1L1007.9 750.1L1012.1 756.0L1007.9 761.8L999.6 761.8ZM995.4 849.7L999.6 843.8L1007.9 843.8L1012.1 849.7L1007.9 855.5L999.6 855.5ZM1007.9 609.6L1012.1 603.7L1020.5 603.7L1024.6 609.6L1020.5 615.4L1012.1 615.4ZM1007.9 656.4L1012.1 650.5L1020.5 650.5L1024.6 656.4L1020.5 662.3L1012.1 662.3ZM1007.9 668.1L1012.1 662.3L1020.5 662.3L1024.6 668.1L1020.5 674.0L1012.1 674.0ZM1007.9 761.8L1012.1 756.0L1020.5 756.0L1024.6 761.8L1020.5 767.7L1012.1 767.7ZM1007.9 773.5L1012.1 767.7L1020.5 767.7L1024.6 773.5L1020.5 779.4L1012.1 779.4ZM1007.9 843.8L1012.1 837.9L1020.5 837.9L1024.6 843.8L1020.5 849.7L1012.1 849.7ZM1020.5 615.4L1024.6 609.6L1033.0 609.6L1037.2 615.4L1033.0 621.3L1024.6 621.3ZM1020.5 638.8L1024.6 633.0L1033.0 633.0L1037.2 638.8L1033.0 644.7L1024.6 644.7ZM1020.5 650.5L1024.6 644.7L1033.0 644.7L1037.2 650.5L1033.0 656.4L1024.6 656.4ZM1020.5 849.7L1024.6 843.8L1033.0 843.8L1037.2 849.7L1033.0 855.5L1024.6 855.5ZM1033.0 644.7L1037.2 638.8L1045.5 638.8L1049.7 644.7L1045.5 650.5L1037.2 650.5ZM1033.0 656.4L1037.2 650.5L1045.5 650.5L1049.7 656.4L1045.5 662.3L1037.2 662.3ZM1033.0 668.1L1037.2 662.3L1045.5 662.3L1049.7 668.1L1045.5 674.0L1037.2 674.0ZM1033.0 750.1L1037.2 744.2L1045.5 744.2L1049.7 750.1L1045.5 756.0L1037.2 756.0ZM1045.5 650.5L1049.7 644.7L1058.0 644.7L1062.2 650.5L1058.0 656.4L1049.7 656.4ZM1045.5 685.7L1049.7 679.8L1058.0 679.8L1062.2 685.7L1058.0 691.5L1049.7 691.5ZM1045.5 756.0L1049.7 750.1L1058.0 750.1L1062.2 756.0L1058.0 761.8L1049.7 761.8ZM1045.5 814.5L1049.7 808.7L1058.0 808.7L1062.2 814.5L1058.0 820.4L1049.7 820.4ZM1058.0 644.7L1062.2 638.8L1070.6 638.8L1074.8 644.7L1070.6 650.5L1062.2 650.5ZM1058.0 691.5L1062.2 685.7L1070.6 685.7L1074.8 691.5L1070.6 697.4L1062.2 697.4ZM1083.1 633.0L1087.3 627.1L1095.6 627.1L1099.8 633.0L1095.6 638.8L1087.3 638.8ZM1083.1 644.7L1087.3 638.8L1095.6 638.8L1099.8 644.7L1095.6 650.5L1087.3 650.5ZM1095.6 650.5L1099.8 644.7L1108.2 644.7L1112.3 650.5L1108.2 656.4L1099.8 656.4ZM1095.6 662.3L1099.8 656.4L1108.2 656.4L1112.3 662.3L1108.2 668.1L1099.8 668.1ZM1095.6 720.8L1099.8 715.0L1108.2 715.0L1112.3 720.8L1108.2 726.7L1099.8 726.7ZM1095.6 732.5L1099.8 726.7L1108.2 726.7L1112.3 732.5L1108.2 738.4L1099.8 738.4ZM1095.6 767.7L1099.8 761.8L1108.2 761.8L1112.3 767.7L1108.2 773.5L1099.8 773.5ZM1108.2 621.3L1112.3 615.4L1120.7 615.4L1124.9 621.3L1120.7 627.1L1112.3 627.1ZM1108.2 691.5L1112.3 685.7L1120.7 685.7L1124.9 691.5L1120.7 697.4L1112.3 697.4ZM1108.2 715.0L1112.3 709.1L1120.7 709.1L1124.9 715.0L1120.7 720.8L1112.3 720.8Z" fill="#fdb668" stroke="#fdb668" stroke-width="0.6"/>
<path d="M945.3 650.5L949.5 644.7L957.8 644.7L962.0 650.5L957.8 656.4L949.5 656.4ZM945.3 662.3L949.5 656.4L957.8 656.4L962.0 662.3L957.8 668.1L949.5 668.1ZM945.3 674.0L949.5 668.1L957.8 668.1L962.0 674.0L957.8 679.8L949.5 679.8ZM945.3 720.8L949.5 715.0L957.8 715.0L962.0 720.8L957.8 726.7L949.5 726.7ZM945.3 732.5L949.5 726.7L957.8 726.7L962.0 732.5L957.8 738.4L949.5 738.4ZM957.8 679.8L962.0 674.0L970.3 674.0L974.5 679.8L970.3 685.7L962.0 685.7ZM957.8 691.5L962.0 685.7L970.3 685.7L974.5 691.5L970.3 697.4L962.0 697.4ZM957.8 726.7L962.0 720.8L970.3 720.8L974.5 726.7L970.3 732.5L962.0 732.5ZM957.8 738.4L962.0 732.5L970.3 732.5L974.5 738.4L970.3 744.2L962.0 744.2ZM957.8 750.1L962.0 744.2L970.3 744.2L974.5 750.1L970.3 756.0L962.0 756.0ZM957.8 785.2L962.0 779.4L970.3 779.4L974.5 785.2L970.3 791.1L962.0 791.1ZM957.8 820.4L962.0 814.5L970.3 814.5L974.5 820.4L970.3 826.2L962.0 826.2ZM970.3 767.7L974.5 761.8L982.9 761.8L987.0 767.7L982.9 773.5L974.5 773.5ZM970.3 802.8L974.5 797.0L982.9 797.0L987.0 802.8L982.9 808.7L974.5 808.7ZM982.9 738.4L987.0 732.5L995.4 732.5L999.6 738.4L995.4 744.2L987.0 744.2ZM982.9 750.1L987.0 744.2L995.4 744.2L999.6 750.1L995.4 756.0L987.0 756.0ZM982.9 761.8L987.0 756.0L995.4 756.0L999.6 761.8L995.4 767.7L987.0 767.7ZM982.9 773.5L987.0 767.7L995.4 767.7L999.6 773.5L995.4 779.4L987.0 779.4ZM982.9 785.2L987.0 779.4L995.4 779.4L999.6 785.2L995.4 791.1L987.0 791.1ZM995.4 615.4L999.6 609.6L1007.9 609.6L1012.1 615.4L1007.9 621.3L999.6 621.3ZM995.4 650.5L999.6 644.7L1007.9 644.7L1012.1 650.5L1007.9 656.4L999.6 656.4ZM995.4 662.3L999.6 656.4L1007.9 656.4L1012.1 662.3L1007.9 668.1L999.6 668.1ZM1007.9 633.0L1012.1 627.1L1020.5 627.1L1024.6 633.0L1020.5 638.8L1012.1 638.8ZM1007.9 644.7L1012.1 638.8L1020.5 638.8L1024.6 644.7L1020.5 650.5L1012.1 650.5ZM1020.5 685.7L1024.6 679.8L1033.0 679.8L1037.2 685.7L1033.0 691.5L1024.6 691.5ZM1020.5 814.5L1024.6 808.7L1033.0 808.7L1037.2 814.5L1033.0 820.4L1024.6 820.4ZM1045.5 638.8L1049.7 633.0L1058.0 633.0L1062.2 638.8L1058.0 644.7L1049.7 644.7ZM1045.5 697.4L1049.7 691.5L1058.0 691.5L1062.2 697.4L1058.0 703.3L1049.7 703.3ZM1045.5 709.1L1049.7 703.3L1058.0 703.3L1062.2 709.1L1058.0 715.0L1049.7 715.0ZM1045.5 720.8L1049.7 715.0L1058.0 715.0L1062.2 720.8L1058.0 726.7L1049.7 726.7ZM1045.5 744.2L1049.7 738.4L1058.0 738.4L1062.2 744.2L1058.0 750.1L1049.7 750.1ZM1045.5 767.7L1049.7 761.8L1058.0 761.8L1062.2 767.7L1058.0 773.5L1049.7 773.5ZM1045.5 849.7L1049.7 843.8L1058.0 843.8L1062.2 849.7L1058.0 855.5L1049.7 855.5ZM1058.0 656.4L1062.2 650.5L1070.6 650.5L1074.8 656.4L1070.6 662.3L1062.2 662.3ZM1058.0 738.4L1062.2 732.5L1070.6 732.5L1074.8 738.4L1070.6 744.2L1062.2 744.2ZM1058.0 785.2L1062.2 779.4L1070.6 779.4L1074.8 785.2L1070.6 791.1L1062.2 791.1ZM1070.6 615.4L1074.8 609.6L1083.1 609.6L1087.3 615.4L1083.1 621.3L1074.8 621.3ZM1070.6 627.1L1074.8 621.3L1083.1 621.3L1087.3 627.1L1083.1 633.0L1074.8 633.0ZM1070.6 685.7L1074.8 679.8L1083.1 679.8L1087.3 685.7L1083.1 691.5L1074.8 691.5ZM1070.6 732.5L1074.8 726.7L1083.1 726.7L1087.3 732.5L1083.1 738.4L1074.8 738.4ZM1070.6 744.2L1074.8 738.4L1083.1 738.4L1087.3 744.2L1083.1 750.1L1074.8 750.1ZM1070.6 756.0L1074.8 750.1L1083.1 750.1L1087.3 756.0L1083.1 761.8L1074.8 761.8ZM1070.6 767.7L1074.8 761.8L1083.1 761.8L1087.3 767.7L1083.1 773.5L1074.8 773.5ZM1070.6 779.4L1074.8 773.5L1083.1 773.5L1087.3 779.4L1083.1 785.2L1074.8 785.2ZM1083.1 621.3L1087.3 615.4L1095.6 615.4L1099.8 621.3L1095.6 627.1L1087.3 627.1ZM1083.1 738.4L1087.3 732.5L1095.6 732.5L1099.8 738.4L1095.6 744.2L1087.3 744.2ZM1083.1 750.1L1087.3 744.2L1095.6 744.2L1099.8 750.1L1095.6 756.0L1087.3 756.0ZM1095.6 674.0L1099.8 668.1L1108.2 668.1L1112.3 674.0L1108.2 679.8L1099.8 679.8ZM1108.2 656.4L1112.3 650.5L1120.7 650.5L1124.9 656.4L1120.7 662.3L1112.3 662.3ZM1108.2 668.1L1112.3 662.3L1120.7 662.3L1124.9 668.1L1120.7 674.0L1112.3 674.0ZM1108.2 679.8L1112.3 674.0L1120.7 674.0L1124.9 679.8L1120.7 685.7L1112.3 685.7ZM1108.2 703.3L1112.3 697.4L1120.7 697.4L1124.9 703.3L1120.7 709.1L1112.3 709.1ZM1108.2 726.7L1112.3 720.8L1120.7 720.8L1124.9 726.7L1120.7 732.5L1112.3 732.5ZM1108.2 738.4L1112.3 732.5L1120.7 732.5L1124.9 738.4L1120.7 744.2L1112.3 744.2ZM1108.2 750.1L1112.3 744.2L1120.7 744.2L1124.9 750.1L1120.7 756.0L1112.3 756.0ZM1108.2 797.0L1112.3 791.1L1120.7 791.1L1124.9 797.0L1120.7 802.8L1112.3 802.8Z" fill="#fff7b3" stroke="#fff7b3" stroke-width="0.6"/>
<path d="M945.3 685.7L949.5 679.8L957.8 679.8L962.0 685.7L957.8 691.5L949.5 691.5ZM995.4 674.0L999.6 668.1L1007.9 668.1L1012.1 674.0L1007.9 679.8L999.6 679.8ZM1007.9 703.3L1012.1 697.4L1020.5 697.4L1024.6 703.3L1020.5 709.1L1012.1 709.1ZM1007.9 750.1L1012.1 744.2L1020.5 744.2L1024.6 750.1L1020.5 756.0L1012.1 756.0ZM1033.0 633.0L1037.2 627.1L1045.5 627.1L1049.7 633.0L1045.5 638.8L1037.2 638.8ZM1033.0 797.0L1037.2 791.1L1045.5 791.1L1049.7 797.0L1045.5 802.8L1037.2 802.8ZM1045.5 779.4L1049.7 773.5L1058.0 773.5L1062.2 779.4L1058.0 785.2L1049.7 785.2ZM1045.5 791.1L1049.7 785.2L1058.0 785.2L1062.2 791.1L1058.0 797.0L1049.7 797.0ZM1058.0 715.0L1062.2 709.1L1070.6 709.1L1074.8 715.0L1070.6 720.8L1062.2 720.8ZM1070.6 826.2L1074.8 820.4L1083.1 820.4L1087.3 826.2L1083.1 832.1L1074.8 832.1ZM1095.6 685.7L1099.8 679.8L1108.2 679.8L1112.3 685.7L1108.2 691.5L1099.8 691.5Z" fill="#e7f6ec" stroke="#e7f6ec" stroke-width="0.6"/>
<path d="M945.3 697.4L949.5 691.5L957.8 691.5L962.0 697.4L957.8 703.3L949.5 703.3ZM945.3 779.4L949.5 773.5L957.8 773.5L962.0 779.4L957.8 785.2L949.5 785.2ZM957.8 715.0L962.0 709.1L970.3 709.1L974.5 715.0L970.3 720.8L962.0 720.8ZM970.3 697.4L974.5 691.5L982.9 691.5L987.0 697.4L982.9 703.3L974.5 703.3ZM995.4 697.4L999.6 691.5L1007.9 691.5L1012.1 697.4L1007.9 703.3L999.6 703.3ZM995.4 709.1L999.6 703.3L1007.9 703.3L1012.1 709.1L1007.9 715.0L999.6 715.0ZM1007.9 691.5L1012.1 685.7L1020.5 685.7L1024.6 691.5L1020.5 697.4L1012.1 697.4ZM1007.9 715.0L1012.1 709.1L1020.5 709.1L1024.6 715.0L1020.5 720.8L1012.1 720.8ZM1007.9 726.7L1012.1 720.8L1020.5 720.8L1024.6 726.7L1020.5 732.5L1012.1 732.5ZM1007.9 738.4L1012.1 732.5L1020.5 732.5L1024.6 738.4L1020.5 744.2L1012.1 744.2ZM1020.5 826.2L1024.6 820.4L1033.0 820.4L1037.2 826.2L1033.0 832.1L1024.6 832.1ZM1020.5 837.9L1024.6 832.1L1033.0 832.1L1037.2 837.9L1033.0 843.8L1024.6 843.8ZM1033.0 609.6L1037.2 603.7L1045.5 603.7L1049.7 609.6L1045.5 615.4L1037.2 615.4ZM1033.0 820.4L1037.2 814.5L1045.5 814.5L1049.7 820.4L1045.5 826.2L1037.2 826.2ZM1033.0 832.1L1037.2 826.2L1045.5 826.2L1049.7 832.1L1045.5 837.9L1037.2 837.9ZM1058.0 609.6L1062.2 603.7L1070.6 603.7L1074.8 609.6L1070.6 615.4L1062.2 615.4ZM1058.0 668.1L1062.2 662.3L1070.6 662.3L1074.8 668.1L1070.6 674.0L1062.2 674.0ZM1058.0 679.8L1062.2 674.0L1070.6 674.0L1074.8 679.8L1070.6 685.7L1062.2 685.7ZM1058.0 808.7L1062.2 802.8L1070.6 802.8L1074.8 808.7L1070.6 814.5L1062.2 814.5ZM1070.6 697.4L1074.8 691.5L1083.1 691.5L1087.3 697.4L1083.1 703.3L1074.8 703.3ZM1108.2 773.5L1112.3 767.7L1120.7 767.7L1124.9 773.5L1120.7 779.4L1112.3 779.4Z" fill="#bfc0c2" stroke="#bfc0c2" stroke-width="0.6"/>
<path d="M945.3 709.1L949.5 703.3L957.8 703.3L962.0 709.1L957.8 715.0L949.5 715.0ZM957.8 656.4L962.0 650.5L970.3 650.5L974.5 656.4L970.3 662.3L962.0 662.3ZM957.8 668.1L962.0 662.3L970.3 662.3L974.5 668.1L970.3 674.0L962.0 674.0ZM957.8 761.8L962.0 756.0L970.3 756.0L974.5 761.8L970.3 767.7L962.0 767.7ZM957.8 797.0L962.0 791.1L970.3 791.1L974.5 797.0L970.3 802.8L962.0 802.8ZM970.3 615.4L974.5 609.6L982.9 609.6L987.0 615.4L982.9 621.3L974.5 621.3ZM970.3 650.5L974.5 644.7L982.9 644.7L987.0 650.5L982.9 656.4L974.5 656.4ZM970.3 779.4L974.5 773.5L982.9 773.5L987.0 779.4L982.9 785.2L974.5 785.2ZM970.3 791.1L974.5 785.2L982.9 785.2L987.0 791.1L982.9 797.0L974.5 797.0ZM982.9 609.6L987.0 603.7L995.4 603.7L999.6 609.6L995.4 615.4L987.0 615.4ZM982.9 621.3L987.0 615.4L995.4 615.4L999.6 621.3L995.4 627.1L987.0 627.1ZM982.9 633.0L987.0 627.1L995.4 627.1L999.6 633.0L995.4 638.8L987.0 638.8ZM982.9 656.4L987.0 650.5L995.4 650.5L999.6 656.4L995.4 662.3L987.0 662.3ZM982.9 668.1L987.0 662.3L995.4 662.3L999.6 668.1L995.4 674.0L987.0 674.0ZM982.9 703.3L987.0 697.4L995.4 697.4L999.6 703.3L995.4 709.1L987.0 709.1ZM982.9 715.0L987.0 709.1L995.4 709.1L999.6 715.0L995.4 720.8L987.0 720.8ZM982.9 726.7L987.0 720.8L995.4 720.8L999.6 726.7L995.4 732.5L987.0 732.5ZM982.9 808.7L987.0 802.8L995.4 802.8L999.6 808.7L995.4 814.5L987.0 814.5ZM982.9 832.1L987.0 826.2L995.4 826.2L999.6 832.1L995.4 837.9L987.0 837.9ZM995.4 627.1L999.6 621.3L1007.9 621.3L1012.1 627.1L1007.9 633.0L999.6 633.0ZM995.4 638.8L999.6 633.0L1007.9 633.0L1012.1 638.8L1007.9 644.7L999.6 644.7ZM995.4 720.8L999.6 715.0L1007.9 715.0L1012.1 720.8L1007.9 726.7L999.6 726.7ZM995.4 732.5L999.6 726.7L1007.9 726.7L1012.1 732.5L1007.9 738.4L999.6 738.4ZM995.4 814.5L999.6 808.7L1007.9 808.7L1012.1 814.5L1007.9 820.4L999.6 820.4ZM995.4 826.2L999.6 820.4L1007.9 820.4L1012.1 826.2L1007.9 832.1L999.6 832.1ZM995.4 837.9L999.6 832.1L1007.9 832.1L1012.1 837.9L1007.9 843.8L999.6 843.8ZM1007.9 679.8L1012.1 674.0L1020.5 674.0L1024.6 679.8L1020.5 685.7L1012.1 685.7ZM1020.5 627.1L1024.6 621.3L1033.0 621.3L1037.2 627.1L1033.0 633.0L1024.6 633.0ZM1020.5 662.3L1024.6 656.4L1033.0 656.4L1037.2 662.3L1033.0 668.1L1024.6 668.1ZM1020.5 674.0L1024.6 668.1L1033.0 668.1L1037.2 674.0L1033.0 679.8L1024.6 679.8ZM1020.5 802.8L1024.6 797.0L1033.0 797.0L1037.2 802.8L1033.0 808.7L1024.6 808.7ZM1033.0 679.8L1037.2 674.0L1045.5 674.0L1049.7 679.8L1045.5 685.7L1037.2 685.7ZM1033.0 691.5L1037.2 685.7L1045.5 685.7L1049.7 691.5L1045.5 697.4L1037.2 697.4ZM1033.0 703.3L1037.2 697.4L1045.5 697.4L1049.7 703.3L1045.5 709.1L1037.2 709.1ZM1033.0 761.8L1037.2 756.0L1045.5 756.0L1049.7 761.8L1045.5 767.7L1037.2 767.7ZM1045.5 615.4L1049.7 609.6L1058.0 609.6L1062.2 615.4L1058.0 621.3L1049.7 621.3ZM1045.5 627.1L1049.7 621.3L1058.0 621.3L1062.2 627.1L1058.0 633.0L1049.7 633.0ZM1045.5 732.5L1049.7 726.7L1058.0 726.7L1062.2 732.5L1058.0 738.4L1049.7 738.4ZM1058.0 621.3L1062.2 615.4L1070.6 615.4L1074.8 621.3L1070.6 627.1L1062.2 627.1ZM1058.0 797.0L1062.2 791.1L1070.6 791.1L1074.8 797.0L1070.6 802.8L1062.2 802.8ZM1058.0 820.4L1062.2 814.5L1070.6 814.5L1074.8 820.4L1070.6 826.2L1062.2 826.2ZM1070.6 638.8L1074.8 633.0L1083.1 633.0L1087.3 638.8L1083.1 644.7L1074.8 644.7ZM1070.6 650.5L1074.8 644.7L1083.1 644.7L1087.3 650.5L1083.1 656.4L1074.8 656.4ZM1070.6 791.1L1074.8 785.2L1083.1 785.2L1087.3 791.1L1083.1 797.0L1074.8 797.0ZM1070.6 802.8L1074.8 797.0L1083.1 797.0L1087.3 802.8L1083.1 808.7L1074.8 808.7ZM1070.6 814.5L1074.8 808.7L1083.1 808.7L1087.3 814.5L1083.1 820.4L1074.8 820.4ZM1083.1 656.4L1087.3 650.5L1095.6 650.5L1099.8 656.4L1095.6 662.3L1087.3 662.3ZM1083.1 668.1L1087.3 662.3L1095.6 662.3L1099.8 668.1L1095.6 674.0L1087.3 674.0ZM1083.1 691.5L1087.3 685.7L1095.6 685.7L1099.8 691.5L1095.6 697.4L1087.3 697.4ZM1083.1 703.3L1087.3 697.4L1095.6 697.4L1099.8 703.3L1095.6 709.1L1087.3 709.1ZM1108.2 761.8L1112.3 756.0L1120.7 756.0L1124.9 761.8L1120.7 767.7L1112.3 767.7ZM1108.2 785.2L1112.3 779.4L1120.7 779.4L1124.9 785.2L1120.7 791.1L1112.3 791.1Z" fill="#fee79a" stroke="#fee79a" stroke-width="0.6"/>
<path d="M945.3 744.2L949.5 738.4L957.8 738.4L962.0 744.2L957.8 750.1L949.5 750.1ZM945.3 756.0L949.5 750.1L957.8 750.1L962.0 756.0L957.8 761.8L949.5 761.8ZM945.3 791.1L949.5 785.2L957.8 785.2L962.0 791.1L957.8 797.0L949.5 797.0ZM945.3 802.8L949.5 797.0L957.8 797.0L962.0 802.8L957.8 808.7L949.5 808.7ZM957.8 609.6L962.0 603.7L970.3 603.7L974.5 609.6L970.3 615.4L962.0 615.4ZM957.8 703.3L962.0 697.4L970.3 697.4L974.5 703.3L970.3 709.1L962.0 709.1ZM970.3 674.0L974.5 668.1L982.9 668.1L987.0 674.0L982.9 679.8L974.5 679.8ZM970.3 685.7L974.5 679.8L982.9 679.8L987.0 685.7L982.9 691.5L974.5 691.5ZM970.3 709.1L974.5 703.3L982.9 703.3L987.0 709.1L982.9 715.0L974.5 715.0ZM982.9 644.7L987.0 638.8L995.4 638.8L999.6 644.7L995.4 650.5L987.0 650.5ZM982.9 797.0L987.0 791.1L995.4 791.1L999.6 797.0L995.4 802.8L987.0 802.8ZM995.4 791.1L999.6 785.2L1007.9 785.2L1012.1 791.1L1007.9 797.0L999.6 797.0ZM995.4 802.8L999.6 797.0L1007.9 797.0L1012.1 802.8L1007.9 808.7L999.6 808.7ZM1007.9 808.7L1012.1 802.8L1020.5 802.8L1024.6 808.7L1020.5 814.5L1012.1 814.5ZM1007.9 820.4L1012.1 814.5L1020.5 814.5L1024.6 820.4L1020.5 826.2L1012.1 826.2ZM1020.5 697.4L1024.6 691.5L1033.0 691.5L1037.2 697.4L1033.0 703.3L1024.6 703.3ZM1020.5 709.1L1024.6 703.3L1033.0 703.3L1037.2 709.1L1033.0 715.0L1024.6 715.0ZM1020.5 732.5L1024.6 726.7L1033.0 726.7L1037.2 732.5L1033.0 738.4L1024.6 738.4ZM1020.5 767.7L1024.6 761.8L1033.0 761.8L1037.2 767.7L1033.0 773.5L1024.6 773.5ZM1020.5 779.4L1024.6 773.5L1033.0 773.5L1037.2 779.4L1033.0 785.2L1024.6 785.2ZM1020.5 791.1L1024.6 785.2L1033.0 785.2L1037.2 791.1L1033.0 797.0L1024.6 797.0ZM1033.0 621.3L1037.2 615.4L1045.5 615.4L1049.7 621.3L1045.5 627.1L1037.2 627.1ZM1033.0 715.0L1037.2 709.1L1045.5 709.1L1049.7 715.0L1045.5 720.8L1037.2 720.8ZM1033.0 726.7L1037.2 720.8L1045.5 720.8L1049.7 726.7L1045.5 732.5L1037.2 732.5ZM1033.0 773.5L1037.2 767.7L1045.5 767.7L1049.7 773.5L1045.5 779.4L1037.2 779.4ZM1033.0 785.2L1037.2 779.4L1045.5 779.4L1049.7 785.2L1045.5 791.1L1037.2 791.1ZM1033.0 808.7L1037.2 802.8L1045.5 802.8L1049.7 808.7L1045.5 814.5L1037.2 814.5ZM1045.5 674.0L1049.7 668.1L1058.0 668.1L1062.2 674.0L1058.0 679.8L1049.7 679.8ZM1045.5 802.8L1049.7 797.0L1058.0 797.0L1062.2 802.8L1058.0 808.7L1049.7 808.7ZM1058.0 633.0L1062.2 627.1L1070.6 627.1L1074.8 633.0L1070.6 638.8L1062.2 638.8ZM1058.0 703.3L1062.2 697.4L1070.6 697.4L1074.8 703.3L1070.6 709.1L1062.2 709.1ZM1058.0 726.7L1062.2 720.8L1070.6 720.8L1074.8 726.7L1070.6 732.5L1062.2 732.5ZM1058.0 832.1L1062.2 826.2L1070.6 826.2L1074.8 832.1L1070.6 837.9L1062.2 837.9ZM1083.1 679.8L1087.3 674.0L1095.6 674.0L1099.8 679.8L1095.6 685.7L1087.3 685.7ZM1083.1 773.5L1087.3 767.7L1095.6 767.7L1099.8 773.5L1095.6 779.4L1087.3 779.4ZM1083.1 785.2L1087.3 779.4L1095.6 779.4L1099.8 785.2L1095.6 791.1L1087.3 791.1ZM1083.1 820.4L1087.3 814.5L1095.6 814.5L1099.8 820.4L1095.6 826.2L1087.3 826.2ZM1095.6 627.1L1099.8 621.3L1108.2 621.3L1112.3 627.1L1108.2 633.0L1099.8 633.0ZM1095.6 709.1L1099.8 703.3L1108.2 703.3L1112.3 709.1L1108.2 715.0L1099.8 715.0ZM1095.6 744.2L1099.8 738.4L1108.2 738.4L1112.3 744.2L1108.2 750.1L1099.8 750.1ZM1095.6 756.0L1099.8 750.1L1108.2 750.1L1112.3 756.0L1108.2 761.8L1099.8 761.8Z" fill="#b3ddeb" stroke="#b3ddeb" stroke-width="0.6"/>
<path d="M945.3 814.5L949.5 808.7L957.8 808.7L962.0 814.5L957.8 820.4L949.5 820.4ZM945.3 849.7L949.5 843.8L957.8 843.8L962.0 849.7L957.8 855.5L949.5 855.5ZM1020.5 720.8L1024.6 715.0L1033.0 715.0L1037.2 720.8L1033.0 726.7L1024.6 726.7ZM1045.5 826.2L1049.7 820.4L1058.0 820.4L1062.2 826.2L1058.0 832.1L1049.7 832.1ZM1095.6 814.5L1099.8 808.7L1108.2 808.7L1112.3 814.5L1108.2 820.4L1099.8 820.4ZM1095.6 837.9L1099.8 832.1L1108.2 832.1L1112.3 837.9L1108.2 843.8L1099.8 843.8ZM1095.6 849.7L1099.8 843.8L1108.2 843.8L1112.3 849.7L1108.2 855.5L1099.8 855.5Z" fill="#313695" stroke="#313695" stroke-width="0.6"/>
<path d="M945.3 826.2L949.5 820.4L957.8 820.4L962.0 826.2L957.8 832.1L949.5 832.1ZM945.3 837.9L949.5 832.1L957.8 832.1L962.0 837.9L957.8 843.8L949.5 843.8ZM957.8 808.7L962.0 802.8L970.3 802.8L974.5 808.7L970.3 814.5L962.0 814.5ZM957.8 832.1L962.0 826.2L970.3 826.2L974.5 832.1L970.3 837.9L962.0 837.9ZM957.8 843.8L962.0 837.9L970.3 837.9L974.5 843.8L970.3 849.7L962.0 849.7ZM970.3 756.0L974.5 750.1L982.9 750.1L987.0 756.0L982.9 761.8L974.5 761.8ZM970.3 814.5L974.5 808.7L982.9 808.7L987.0 814.5L982.9 820.4L974.5 820.4ZM970.3 826.2L974.5 820.4L982.9 820.4L987.0 826.2L982.9 832.1L974.5 832.1ZM970.3 837.9L974.5 832.1L982.9 832.1L987.0 837.9L982.9 843.8L974.5 843.8ZM970.3 849.7L974.5 843.8L982.9 843.8L987.0 849.7L982.9 855.5L974.5 855.5ZM982.9 679.8L987.0 674.0L995.4 674.0L999.6 679.8L995.4 685.7L987.0 685.7ZM982.9 691.5L987.0 685.7L995.4 685.7L999.6 691.5L995.4 697.4L987.0 697.4ZM982.9 820.4L987.0 814.5L995.4 814.5L999.6 820.4L995.4 826.2L987.0 826.2ZM995.4 744.2L999.6 738.4L1007.9 738.4L1012.1 744.2L1007.9 750.1L999.6 750.1ZM1020.5 744.2L1024.6 738.4L1033.0 738.4L1037.2 744.2L1033.0 750.1L1024.6 750.1ZM1020.5 756.0L1024.6 750.1L1033.0 750.1L1037.2 756.0L1033.0 761.8L1024.6 761.8ZM1033.0 843.8L1037.2 837.9L1045.5 837.9L1049.7 843.8L1045.5 849.7L1037.2 849.7ZM1045.5 837.9L1049.7 832.1L1058.0 832.1L1062.2 837.9L1058.0 843.8L1049.7 843.8ZM1058.0 761.8L1062.2 756.0L1070.6 756.0L1074.8 761.8L1070.6 767.7L1062.2 767.7ZM1058.0 843.8L1062.2 837.9L1070.6 837.9L1074.8 843.8L1070.6 849.7L1062.2 849.7ZM1070.6 709.1L1074.8 703.3L1083.1 703.3L1087.3 709.1L1083.1 715.0L1074.8 715.0ZM1070.6 837.9L1074.8 832.1L1083.1 832.1L1087.3 837.9L1083.1 843.8L1074.8 843.8ZM1070.6 849.7L1074.8 843.8L1083.1 843.8L1087.3 849.7L1083.1 855.5L1074.8 855.5ZM1083.1 609.6L1087.3 603.7L1095.6 603.7L1099.8 609.6L1095.6 615.4L1087.3 615.4ZM1083.1 761.8L1087.3 756.0L1095.6 756.0L1099.8 761.8L1095.6 767.7L1087.3 767.7ZM1083.1 797.0L1087.3 791.1L1095.6 791.1L1099.8 797.0L1095.6 802.8L1087.3 802.8ZM1083.1 808.7L1087.3 802.8L1095.6 802.8L1099.8 808.7L1095.6 814.5L1087.3 814.5ZM1095.6 779.4L1099.8 773.5L1108.2 773.5L1112.3 779.4L1108.2 785.2L1099.8 785.2ZM1095.6 826.2L1099.8 820.4L1108.2 820.4L1112.3 826.2L1108.2 832.1L1099.8 832.1ZM1108.2 808.7L1112.3 802.8L1120.7 802.8L1124.9 808.7L1120.7 814.5L1112.3 814.5ZM1108.2 820.4L1112.3 814.5L1120.7 814.5L1124.9 820.4L1120.7 826.2L1112.3 826.2Z" fill="#7ab2d4" stroke="#7ab2d4" stroke-width="0.6"/>
<path d="M957.8 644.7L962.0 638.8L970.3 638.8L974.5 644.7L970.3 650.5L962.0 650.5ZM970.3 627.1L974.5 621.3L982.9 621.3L987.0 627.1L982.9 633.0L974.5 633.0ZM970.3 720.8L974.5 715.0L982.9 715.0L987.0 720.8L982.9 726.7L974.5 726.7ZM970.3 732.5L974.5 726.7L982.9 726.7L987.0 732.5L982.9 738.4L974.5 738.4ZM970.3 744.2L974.5 738.4L982.9 738.4L987.0 744.2L982.9 750.1L974.5 750.1ZM1007.9 621.3L1012.1 615.4L1020.5 615.4L1024.6 621.3L1020.5 627.1L1012.1 627.1ZM1007.9 785.2L1012.1 779.4L1020.5 779.4L1024.6 785.2L1020.5 791.1L1012.1 791.1ZM1007.9 797.0L1012.1 791.1L1020.5 791.1L1024.6 797.0L1020.5 802.8L1012.1 802.8ZM1007.9 832.1L1012.1 826.2L1020.5 826.2L1024.6 832.1L1020.5 837.9L1012.1 837.9ZM1070.6 674.0L1074.8 668.1L1083.1 668.1L1087.3 674.0L1083.1 679.8L1074.8 679.8ZM1070.6 720.8L1074.8 715.0L1083.1 715.0L1087.3 720.8L1083.1 726.7L1074.8 726.7ZM1083.1 715.0L1087.3 709.1L1095.6 709.1L1099.8 715.0L1095.6 720.8L1087.3 720.8ZM1095.6 638.8L1099.8 633.0L1108.2 633.0L1112.3 638.8L1108.2 644.7L1099.8 644.7ZM1095.6 697.4L1099.8 691.5L1108.2 691.5L1112.3 697.4L1108.2 703.3L1099.8 703.3ZM1108.2 633.0L1112.3 627.1L1120.7 627.1L1124.9 633.0L1120.7 638.8L1112.3 638.8ZM1108.2 644.7L1112.3 638.8L1120.7 638.8L1124.9 644.7L1120.7 650.5L1112.3 650.5Z" fill="#f57446" stroke="#f57446" stroke-width="0.6"/>
<path d="M1058.0 750.1L1062.2 744.2L1070.6 744.2L1074.8 750.1L1070.6 756.0L1062.2 756.0Z" fill="#d93328" stroke="#d93328" stroke-width="0.6"/>
<path d="M945.3 615.4L949.5 609.6M949.5 609.6L957.8 609.6M945.3 615.4L949.5 621.3M945.3 627.1L949.5 621.3M945.3 627.1L949.5 633.0M945.3 638.8L949.5 633.0M945.3 638.8L949.5 644.7M945.3 650.5L949.5 644.7M945.3 650.5L949.5 656.4M945.3 662.3L949.5 656.4M945.3 662.3L949.5 668.1M945.3 674.0L949.5 668.1M945.3 674.0L949.5 679.8M945.3 685.7L949.5 679.8M945.3 685.7L949.5 691.5M945.3 697.4L949.5 691.5M945.3 697.4L949.5 703.3M945.3 709.1L949.5 703.3M945.3 709.1L949.5 715.0M945.3 720.8L949.5 715.0M945.3 720.8L949.5 726.7M945.3 732.5L949.5 726.7M945.3 732.5L949.5 738.4M945.3 744.2L949.5 738.4M945.3 744.2L949.5 750.1M945.3 756.0L949.5 750.1M945.3 756.0L949.5 761.8M945.3 767.7L949.5 761.8M945.3 767.7L949.5 773.5M945.3 779.4L949.5 773.5M945.3 779.4L949.5 785.2M945.3 791.1L949.5 785.2M945.3 791.1L949.5 797.0M945.3 802.8L949.5 797.0M945.3 802.8L949.5 808.7M945.3 814.5L949.5 808.7M945.3 814.5L949.5 820.4M945.3 826.2L949.5 820.4M945.3 826.2L949.5 832.1M945.3 837.9L949.5 832.1M945.3 837.9L949.5 843.8M945.3 849.7L949.5 843.8M957.8 855.5L962.0 849.7M949.5 855.5L957.8 855.5M945.3 849.7L949.5 855.5M957.8 609.6L962.0 603.7M962.0 603.7L970.3 603.7M970.3 603.7L974.5 609.6M962.0 849.7L970.3 849.7M974.5 609.6L982.9 609.6M982.9 855.5L987.0 849.7M974.5 855.5L982.9 855.5M970.3 849.7L974.5 855.5M982.9 609.6L987.0 603.7M987.0 603.7L995.4 603.7M995.4 603.7L999.6 609.6M987.0 849.7L995.4 849.7M999.6 609.6L1007.9 609.6M1007.9 855.5L1012.1 849.7M999.6 855.5L1007.9 855.5M995.4 849.7L999.6 855.5M1007.9 609.6L1012.1 603.7M1012.1 603.7L1020.5 603.7M1020.5 603.7L1024.6 609.6M1012.1 849.7L1020.5 849.7M1024.6 609.6L1033.0 609.6M1033.0 855.5L1037.2 849.7M1024.6 855.5L1033.0 855.5M1020.5 849.7L1024.6 855.5M1033.0 609.6L1037.2 603.7M1037.2 603.7L1045.5 603.7M1045.5 603.7L1049.7 609.6M1037.2 849.7L1045.5 849.7M1049.7 609.6L1058.0 609.6M1058.0 855.5L1062.2 849.7M1049.7 855.5L1058.0 855.5M1045.5 849.7L1049.7 855.5M1058.0 609.6L1062.2 603.7M1062.2 603.7L1070.6 603.7M1070.6 603.7L1074.8 609.6M1062.2 849.7L1070.6 849.7M1074.8 609.6L1083.1 609.6M1083.1 855.5L1087.3 849.7M1074.8 855.5L1083.1 855.5M1070.6 849.7L1074.8 855.5M1083.1 609.6L1087.3 603.7M1087.3 603.7L1095.6 603.7M1095.6 603.7L1099.8 609.6M1087.3 849.7L1095.6 849.7M1099.8 609.6L1108.2 609.6M1108.2 855.5L1112.3 849.7M1099.8 855.5L1108.2 855.5M1095.6 849.7L1099.8 855.5M1108.2 609.6L1112.3 603.7M1112.3 603.7L1120.7 603.7M1120.7 603.7L1124.9 609.6M1120.7 615.4L1124.9 609.6M1120.7 615.4L1124.9 621.3M1120.7 627.1L1124.9 621.3M1120.7 627.1L1124.9 633.0M1120.7 638.8L1124.9 633.0M1120.7 638.8L1124.9 644.7M1120.7 650.5L1124.9 644.7M1120.7 650.5L1124.9 656.4M1120.7 662.3L1124.9 656.4M1120.7 662.3L1124.9 668.1M1120.7 674.0L1124.9 668.1M1120.7 674.0L1124.9 679.8M1120.7 685.7L1124.9 679.8M1120.7 685.7L1124.9 691.5M1120.7 697.4L1124.9 691.5M1120.7 697.4L1124.9 703.3M1120.7 709.1L1124.9 703.3M1120.7 709.1L1124.9 715.0M1120.7 720.8L1124.9 715.0M1120.7 720.8L1124.9 726.7M1120.7 732.5L1124.9 726.7M1120.7 732.5L1124.9 738.4M1120.7 744.2L1124.9 738.4M1120.7 744.2L1124.9 750.1M1120.7 756.0L1124.9 750.1M1120.7 756.0L1124.9 761.8M1120.7 767.7L1124.9 761.8M1120.7 767.7L1124.9 773.5M1120.7 779.4L1124.9 773.5M1120.7 779.4L1124.9 785.2M1120.7 791.1L1124.9 785.2M1120.7 791.1L1124.9 797.0M1120.7 802.8L1124.9 797.0M1120.7 802.8L1124.9 808.7M1120.7 814.5L1124.9 808.7M1120.7 814.5L1124.9 820.4M1120.7 826.2L1124.9 820.4M1120.7 826.2L1124.9 832.1M1120.7 837.9L1124.9 832.1M1120.7 837.9L1124.9 843.8M1120.7 849.7L1124.9 843.8M1112.3 849.7L1120.7 849.7" fill="none" stroke="#111" stroke-width="1.3" stroke-linecap="round"/>
<line x1="921.70" y1="728.60" x2="939.50" y2="728.60" stroke="#111" stroke-width="2.0"/>
<path d="M933.70 724.30L942.50 728.60L933.70 732.90L935.90 728.60Z" fill="#111"/>
<rect x="1141.90" y="606.00" width="16.10" height="249.60" fill="url(#gbv)" stroke="#1a1a22" stroke-width="1.4"/>
<text x="1148.80" y="600.70" font-size="16" text-anchor="middle" stroke="#1c1c1c" stroke-width="0.25" fill="#1c1c1c">1</text>
<text x="1148.80" y="876.00" font-size="16" text-anchor="middle" stroke="#1c1c1c" stroke-width="0.25" fill="#1c1c1c">0</text>
<text x="1167.90" y="731.00" font-size="17.7" text-anchor="middle" stroke="#1c1c1c" stroke-width="0.25" fill="#1c1c1c" transform="rotate(90 1167.90 731.00)">Fraction of Modules Bound</text>
<text x="839.40" y="883.50" font-size="17.9" text-anchor="middle" stroke="#1c1c1c" stroke-width="0.25" fill="#1c1c1c">Raw Peak Counts</text>
<text x="1033.30" y="883.50" font-size="17.9" text-anchor="middle" stroke="#1c1c1c" stroke-width="0.25" fill="#1c1c1c">Matched Peak Counts</text>
<text x="1245.60" y="581.50" font-size="29.5" text-anchor="start" font-weight="bold" fill="#1c1c1c">g</text>
<text x="1567.00" y="588.50" font-size="21.3" text-anchor="middle" stroke="#1c1c1c" stroke-width="0.25" fill="#1c1c1c">Larval L3 vs. Larval L4</text>
<text x="1318.90" y="733.00" font-size="17.9" text-anchor="middle" stroke="#1c1c1c" stroke-width="0.25" fill="#1c1c1c" transform="rotate(-90 1318.90 733.00)">Fraction L3 (L3/L3 + L4 Modules)</text>
<rect x="1366.50" y="608.60" width="16.10" height="12.68" fill="#a51c2c" stroke="none" stroke-width="1"/>
<rect x="1366.50" y="621.09" width="16.10" height="12.68" fill="#bf2729" stroke="none" stroke-width="1"/>
<rect x="1366.50" y="633.57" width="16.10" height="12.68" fill="#d93328" stroke="none" stroke-width="1"/>
<rect x="1366.50" y="646.06" width="16.10" height="12.68" fill="#e85337" stroke="none" stroke-width="1"/>
<rect x="1366.50" y="658.54" width="16.10" height="12.68" fill="#f57446" stroke="none" stroke-width="1"/>
<rect x="1366.50" y="671.02" width="16.10" height="12.68" fill="#fa9656" stroke="none" stroke-width="1"/>
<rect x="1366.50" y="683.51" width="16.10" height="12.68" fill="#fdb668" stroke="none" stroke-width="1"/>
<rect x="1366.50" y="696.00" width="16.10" height="12.68" fill="#fed081" stroke="none" stroke-width="1"/>
<rect x="1366.50" y="708.48" width="16.10" height="12.68" fill="#fee79a" stroke="none" stroke-width="1"/>
<rect x="1366.50" y="720.97" width="16.10" height="12.68" fill="#fff7b3" stroke="none" stroke-width="1"/>
<rect x="1366.50" y="733.45" width="16.10" height="12.68" fill="#f7fcce" stroke="none" stroke-width="1"/>
<rect x="1366.50" y="745.93" width="16.10" height="12.68" fill="#e7f6ec" stroke="none" stroke-width="1"/>
<rect x="1366.50" y="758.42" width="16.10" height="12.68" fill="#cfebf3" stroke="none" stroke-width="1"/>
<rect x="1366.50" y="770.90" width="16.10" height="12.68" fill="#b3ddeb" stroke="none" stroke-width="1"/>
<rect x="1366.50" y="783.39" width="16.10" height="12.68" fill="#97c9e0" stroke="none" stroke-width="1"/>
<rect x="1366.50" y="795.88" width="16.10" height="12.68" fill="#7ab2d4" stroke="none" stroke-width="1"/>
<rect x="1366.50" y="808.36" width="16.10" height="12.68" fill="#6095c5" stroke="none" stroke-width="1"/>
<rect x="1366.50" y="820.84" width="16.10" height="12.68" fill="#4778b6" stroke="none" stroke-width="1"/>
<rect x="1366.50" y="833.33" width="16.10" height="12.68" fill="#3c57a5" stroke="none" stroke-width="1"/>
<rect x="1366.50" y="845.81" width="16.10" height="12.68" fill="#313695" stroke="none" stroke-width="1"/>
<rect x="1366.50" y="608.60" width="16.10" height="249.70" fill="none" stroke="#1a1a22" stroke-width="1.4"/>
<text x="1360.80" y="860.20" font-size="16.6" text-anchor="end" stroke="#1c1c1c" stroke-width="0.25" fill="#1c1c1c">0.0</text>
<text x="1360.80" y="812.74" font-size="16.6" text-anchor="end" stroke="#1c1c1c" stroke-width="0.25" fill="#1c1c1c">0.2</text>
<text x="1360.80" y="765.28" font-size="16.6" text-anchor="end" stroke="#1c1c1c" stroke-width="0.25" fill="#1c1c1c">0.4</text>
<text x="1360.80" y="717.82" font-size="16.6" text-anchor="end" stroke="#1c1c1c" stroke-width="0.25" fill="#1c1c1c">0.6</text>
<text x="1360.80" y="670.36" font-size="16.6" text-anchor="end" stroke="#1c1c1c" stroke-width="0.25" fill="#1c1c1c">0.8</text>
<text x="1360.80" y="622.90" font-size="16.6" text-anchor="end" stroke="#1c1c1c" stroke-width="0.25" fill="#1c1c1c">1.0</text>
<path d="M1401.0 617.6L1404.2 612.0L1410.7 612.0L1413.9 617.6L1410.7 623.2L1404.2 623.2ZM1401.0 628.8L1404.2 623.2L1410.7 623.2L1413.9 628.8L1410.7 634.4L1404.2 634.4ZM1401.0 639.9L1404.2 634.4L1410.7 634.4L1413.9 639.9L1410.7 645.5L1404.2 645.5ZM1401.0 796.3L1404.2 790.7L1410.7 790.7L1413.9 796.3L1410.7 801.8L1404.2 801.8ZM1401.0 807.4L1404.2 801.8L1410.7 801.8L1413.9 807.4L1410.7 813.0L1404.2 813.0ZM1401.0 829.7L1404.2 824.2L1410.7 824.2L1413.9 829.7L1410.7 835.3L1404.2 835.3ZM1410.7 612.0L1413.9 606.4L1420.3 606.4L1423.5 612.0L1420.3 617.6L1413.9 617.6ZM1410.7 623.2L1413.9 617.6L1420.3 617.6L1423.5 623.2L1420.3 628.8L1413.9 628.8ZM1410.7 656.7L1413.9 651.1L1420.3 651.1L1423.5 656.7L1420.3 662.3L1413.9 662.3ZM1410.7 801.8L1413.9 796.3L1420.3 796.3L1423.5 801.8L1420.3 807.4L1413.9 807.4ZM1410.7 813.0L1413.9 807.4L1420.3 807.4L1423.5 813.0L1420.3 818.6L1413.9 818.6ZM1420.3 639.9L1423.5 634.4L1430.0 634.4L1433.2 639.9L1430.0 645.5L1423.5 645.5ZM1420.3 651.1L1423.5 645.5L1430.0 645.5L1433.2 651.1L1430.0 656.7L1423.5 656.7ZM1420.3 796.3L1423.5 790.7L1430.0 790.7L1433.2 796.3L1430.0 801.8L1423.5 801.8ZM1420.3 807.4L1423.5 801.8L1430.0 801.8L1433.2 807.4L1430.0 813.0L1423.5 813.0ZM1420.3 829.7L1423.5 824.2L1430.0 824.2L1433.2 829.7L1430.0 835.3L1423.5 835.3ZM1420.3 852.1L1423.5 846.5L1430.0 846.5L1433.2 852.1L1430.0 857.7L1423.5 857.7ZM1430.0 623.2L1433.2 617.6L1439.6 617.6L1442.8 623.2L1439.6 628.8L1433.2 628.8ZM1430.0 656.7L1433.2 651.1L1439.6 651.1L1442.8 656.7L1439.6 662.3L1433.2 662.3ZM1430.0 679.0L1433.2 673.4L1439.6 673.4L1442.8 679.0L1439.6 684.6L1433.2 684.6ZM1430.0 813.0L1433.2 807.4L1439.6 807.4L1442.8 813.0L1439.6 818.6L1433.2 818.6ZM1430.0 824.2L1433.2 818.6L1439.6 818.6L1442.8 824.2L1439.6 829.7L1433.2 829.7ZM1430.0 835.3L1433.2 829.7L1439.6 829.7L1442.8 835.3L1439.6 840.9L1433.2 840.9ZM1439.6 617.6L1442.8 612.0L1449.3 612.0L1452.5 617.6L1449.3 623.2L1442.8 623.2ZM1439.6 639.9L1442.8 634.4L1449.3 634.4L1452.5 639.9L1449.3 645.5L1442.8 645.5ZM1439.6 651.1L1442.8 645.5L1449.3 645.5L1452.5 651.1L1449.3 656.7L1442.8 656.7ZM1439.6 662.3L1442.8 656.7L1449.3 656.7L1452.5 662.3L1449.3 667.9L1442.8 667.9ZM1439.6 673.4L1442.8 667.9L1449.3 667.9L1452.5 673.4L1449.3 679.0L1442.8 679.0ZM1439.6 785.1L1442.8 779.5L1449.3 779.5L1452.5 785.1L1449.3 790.7L1442.8 790.7ZM1439.6 796.3L1442.8 790.7L1449.3 790.7L1452.5 796.3L1449.3 801.8L1442.8 801.8ZM1439.6 807.4L1442.8 801.8L1449.3 801.8L1452.5 807.4L1449.3 813.0L1442.8 813.0ZM1439.6 818.6L1442.8 813.0L1449.3 813.0L1452.5 818.6L1449.3 824.2L1442.8 824.2ZM1439.6 840.9L1442.8 835.3L1449.3 835.3L1452.5 840.9L1449.3 846.5L1442.8 846.5ZM1449.3 612.0L1452.5 606.4L1458.9 606.4L1462.2 612.0L1458.9 617.6L1452.5 617.6ZM1449.3 623.2L1452.5 617.6L1458.9 617.6L1462.2 623.2L1458.9 628.8L1452.5 628.8ZM1449.3 645.5L1452.5 639.9L1458.9 639.9L1462.2 645.5L1458.9 651.1L1452.5 651.1ZM1449.3 790.7L1452.5 785.1L1458.9 785.1L1462.2 790.7L1458.9 796.3L1452.5 796.3ZM1449.3 801.8L1452.5 796.3L1458.9 796.3L1462.2 801.8L1458.9 807.4L1452.5 807.4ZM1449.3 824.2L1452.5 818.6L1458.9 818.6L1462.2 824.2L1458.9 829.7L1452.5 829.7ZM1449.3 846.5L1452.5 840.9L1458.9 840.9L1462.2 846.5L1458.9 852.1L1452.5 852.1ZM1458.9 628.8L1462.2 623.2L1468.6 623.2L1471.8 628.8L1468.6 634.4L1462.2 634.4ZM1458.9 639.9L1462.2 634.4L1468.6 634.4L1471.8 639.9L1468.6 645.5L1462.2 645.5ZM1458.9 651.1L1462.2 645.5L1468.6 645.5L1471.8 651.1L1468.6 656.7L1462.2 656.7ZM1458.9 785.1L1462.2 779.5L1468.6 779.5L1471.8 785.1L1468.6 790.7L1462.2 790.7ZM1458.9 796.3L1462.2 790.7L1468.6 790.7L1471.8 796.3L1468.6 801.8L1462.2 801.8ZM1458.9 807.4L1462.2 801.8L1468.6 801.8L1471.8 807.4L1468.6 813.0L1462.2 813.0ZM1458.9 818.6L1462.2 813.0L1468.6 813.0L1471.8 818.6L1468.6 824.2L1462.2 824.2ZM1458.9 829.7L1462.2 824.2L1468.6 824.2L1471.8 829.7L1468.6 835.3L1462.2 835.3ZM1468.6 645.5L1471.8 639.9L1478.2 639.9L1481.5 645.5L1478.2 651.1L1471.8 651.1ZM1468.6 790.7L1471.8 785.1L1478.2 785.1L1481.5 790.7L1478.2 796.3L1471.8 796.3ZM1468.6 801.8L1471.8 796.3L1478.2 796.3L1481.5 801.8L1478.2 807.4L1471.8 807.4ZM1468.6 813.0L1471.8 807.4L1478.2 807.4L1481.5 813.0L1478.2 818.6L1471.8 818.6ZM1468.6 824.2L1471.8 818.6L1478.2 818.6L1481.5 824.2L1478.2 829.7L1471.8 829.7ZM1468.6 835.3L1471.8 829.7L1478.2 829.7L1481.5 835.3L1478.2 840.9L1471.8 840.9ZM1468.6 846.5L1471.8 840.9L1478.2 840.9L1481.5 846.5L1478.2 852.1L1471.8 852.1ZM1478.2 785.1L1481.5 779.5L1487.9 779.5L1491.1 785.1L1487.9 790.7L1481.5 790.7ZM1478.2 796.3L1481.5 790.7L1487.9 790.7L1491.1 796.3L1487.9 801.8L1481.5 801.8ZM1478.2 807.4L1481.5 801.8L1487.9 801.8L1491.1 807.4L1487.9 813.0L1481.5 813.0ZM1478.2 818.6L1481.5 813.0L1487.9 813.0L1491.1 818.6L1487.9 824.2L1481.5 824.2ZM1478.2 829.7L1481.5 824.2L1487.9 824.2L1491.1 829.7L1487.9 835.3L1481.5 835.3ZM1478.2 840.9L1481.5 835.3L1487.9 835.3L1491.1 840.9L1487.9 846.5L1481.5 846.5ZM1487.9 612.0L1491.1 606.4L1497.5 606.4L1500.8 612.0L1497.5 617.6L1491.1 617.6ZM1487.9 790.7L1491.1 785.1L1497.5 785.1L1500.8 790.7L1497.5 796.3L1491.1 796.3ZM1487.9 801.8L1491.1 796.3L1497.5 796.3L1500.8 801.8L1497.5 807.4L1491.1 807.4ZM1487.9 813.0L1491.1 807.4L1497.5 807.4L1500.8 813.0L1497.5 818.6L1491.1 818.6ZM1487.9 824.2L1491.1 818.6L1497.5 818.6L1500.8 824.2L1497.5 829.7L1491.1 829.7ZM1487.9 835.3L1491.1 829.7L1497.5 829.7L1500.8 835.3L1497.5 840.9L1491.1 840.9ZM1487.9 846.5L1491.1 840.9L1497.5 840.9L1500.8 846.5L1497.5 852.1L1491.1 852.1ZM1497.5 796.3L1500.8 790.7L1507.2 790.7L1510.4 796.3L1507.2 801.8L1500.8 801.8ZM1497.5 807.4L1500.8 801.8L1507.2 801.8L1510.4 807.4L1507.2 813.0L1500.8 813.0ZM1497.5 818.6L1500.8 813.0L1507.2 813.0L1510.4 818.6L1507.2 824.2L1500.8 824.2ZM1497.5 829.7L1500.8 824.2L1507.2 824.2L1510.4 829.7L1507.2 835.3L1500.8 835.3ZM1497.5 840.9L1500.8 835.3L1507.2 835.3L1510.4 840.9L1507.2 846.5L1500.8 846.5ZM1497.5 852.1L1500.8 846.5L1507.2 846.5L1510.4 852.1L1507.2 857.7L1500.8 857.7ZM1507.2 612.0L1510.4 606.4L1516.8 606.4L1520.1 612.0L1516.8 617.6L1510.4 617.6ZM1507.2 634.4L1510.4 628.8L1516.8 628.8L1520.1 634.4L1516.8 639.9L1510.4 639.9ZM1507.2 645.5L1510.4 639.9L1516.8 639.9L1520.1 645.5L1516.8 651.1L1510.4 651.1ZM1507.2 790.7L1510.4 785.1L1516.8 785.1L1520.1 790.7L1516.8 796.3L1510.4 796.3ZM1507.2 801.8L1510.4 796.3L1516.8 796.3L1520.1 801.8L1516.8 807.4L1510.4 807.4ZM1507.2 813.0L1510.4 807.4L1516.8 807.4L1520.1 813.0L1516.8 818.6L1510.4 818.6ZM1507.2 824.2L1510.4 818.6L1516.8 818.6L1520.1 824.2L1516.8 829.7L1510.4 829.7ZM1507.2 835.3L1510.4 829.7L1516.8 829.7L1520.1 835.3L1516.8 840.9L1510.4 840.9ZM1507.2 846.5L1510.4 840.9L1516.8 840.9L1520.1 846.5L1516.8 852.1L1510.4 852.1ZM1516.8 617.6L1520.1 612.0L1526.5 612.0L1529.7 617.6L1526.5 623.2L1520.1 623.2ZM1516.8 796.3L1520.1 790.7L1526.5 790.7L1529.7 796.3L1526.5 801.8L1520.1 801.8ZM1516.8 807.4L1520.1 801.8L1526.5 801.8L1529.7 807.4L1526.5 813.0L1520.1 813.0ZM1516.8 818.6L1520.1 813.0L1526.5 813.0L1529.7 818.6L1526.5 824.2L1520.1 824.2ZM1516.8 829.7L1520.1 824.2L1526.5 824.2L1529.7 829.7L1526.5 835.3L1520.1 835.3ZM1516.8 840.9L1520.1 835.3L1526.5 835.3L1529.7 840.9L1526.5 846.5L1520.1 846.5ZM1516.8 852.1L1520.1 846.5L1526.5 846.5L1529.7 852.1L1526.5 857.7L1520.1 857.7ZM1526.5 612.0L1529.7 606.4L1536.1 606.4L1539.4 612.0L1536.1 617.6L1529.7 617.6ZM1526.5 623.2L1529.7 617.6L1536.1 617.6L1539.4 623.2L1536.1 628.8L1529.7 628.8ZM1526.5 790.7L1529.7 785.1L1536.1 785.1L1539.4 790.7L1536.1 796.3L1529.7 796.3ZM1526.5 801.8L1529.7 796.3L1536.1 796.3L1539.4 801.8L1536.1 807.4L1529.7 807.4ZM1526.5 813.0L1529.7 807.4L1536.1 807.4L1539.4 813.0L1536.1 818.6L1529.7 818.6ZM1526.5 824.2L1529.7 818.6L1536.1 818.6L1539.4 824.2L1536.1 829.7L1529.7 829.7ZM1526.5 835.3L1529.7 829.7L1536.1 829.7L1539.4 835.3L1536.1 840.9L1529.7 840.9ZM1526.5 846.5L1529.7 840.9L1536.1 840.9L1539.4 846.5L1536.1 852.1L1529.7 852.1ZM1536.1 617.6L1539.4 612.0L1545.8 612.0L1549.0 617.6L1545.8 623.2L1539.4 623.2ZM1536.1 796.3L1539.4 790.7L1545.8 790.7L1549.0 796.3L1545.8 801.8L1539.4 801.8ZM1536.1 807.4L1539.4 801.8L1545.8 801.8L1549.0 807.4L1545.8 813.0L1539.4 813.0ZM1536.1 818.6L1539.4 813.0L1545.8 813.0L1549.0 818.6L1545.8 824.2L1539.4 824.2ZM1536.1 829.7L1539.4 824.2L1545.8 824.2L1549.0 829.7L1545.8 835.3L1539.4 835.3ZM1536.1 840.9L1539.4 835.3L1545.8 835.3L1549.0 840.9L1545.8 846.5L1539.4 846.5ZM1545.8 790.7L1549.0 785.1L1555.5 785.1L1558.7 790.7L1555.5 796.3L1549.0 796.3ZM1545.8 801.8L1549.0 796.3L1555.5 796.3L1558.7 801.8L1555.5 807.4L1549.0 807.4ZM1545.8 813.0L1549.0 807.4L1555.5 807.4L1558.7 813.0L1555.5 818.6L1549.0 818.6ZM1545.8 824.2L1549.0 818.6L1555.5 818.6L1558.7 824.2L1555.5 829.7L1549.0 829.7ZM1545.8 835.3L1549.0 829.7L1555.5 829.7L1558.7 835.3L1555.5 840.9L1549.0 840.9ZM1545.8 846.5L1549.0 840.9L1555.5 840.9L1558.7 846.5L1555.5 852.1L1549.0 852.1ZM1555.5 617.6L1558.7 612.0L1565.1 612.0L1568.3 617.6L1565.1 623.2L1558.7 623.2ZM1555.5 796.3L1558.7 790.7L1565.1 790.7L1568.3 796.3L1565.1 801.8L1558.7 801.8ZM1555.5 807.4L1558.7 801.8L1565.1 801.8L1568.3 807.4L1565.1 813.0L1558.7 813.0ZM1555.5 818.6L1558.7 813.0L1565.1 813.0L1568.3 818.6L1565.1 824.2L1558.7 824.2ZM1555.5 829.7L1558.7 824.2L1565.1 824.2L1568.3 829.7L1565.1 835.3L1558.7 835.3ZM1555.5 840.9L1558.7 835.3L1565.1 835.3L1568.3 840.9L1565.1 846.5L1558.7 846.5ZM1555.5 852.1L1558.7 846.5L1565.1 846.5L1568.3 852.1L1565.1 857.7L1558.7 857.7ZM1565.1 623.2L1568.3 617.6L1574.8 617.6L1578.0 623.2L1574.8 628.8L1568.3 628.8ZM1565.1 634.4L1568.3 628.8L1574.8 628.8L1578.0 634.4L1574.8 639.9L1568.3 639.9ZM1565.1 790.7L1568.3 785.1L1574.8 785.1L1578.0 790.7L1574.8 796.3L1568.3 796.3ZM1565.1 801.8L1568.3 796.3L1574.8 796.3L1578.0 801.8L1574.8 807.4L1568.3 807.4ZM1565.1 813.0L1568.3 807.4L1574.8 807.4L1578.0 813.0L1574.8 818.6L1568.3 818.6ZM1565.1 824.2L1568.3 818.6L1574.8 818.6L1578.0 824.2L1574.8 829.7L1568.3 829.7ZM1565.1 835.3L1568.3 829.7L1574.8 829.7L1578.0 835.3L1574.8 840.9L1568.3 840.9Z" fill="#313695" stroke="#313695" stroke-width="0.6"/>
<path d="M1401.0 651.1L1404.2 645.5L1410.7 645.5L1413.9 651.1L1410.7 656.7L1404.2 656.7ZM1401.0 662.3L1404.2 656.7L1410.7 656.7L1413.9 662.3L1410.7 667.9L1404.2 667.9ZM1410.7 846.5L1413.9 840.9L1420.3 840.9L1423.5 846.5L1420.3 852.1L1413.9 852.1ZM1439.6 628.8L1442.8 623.2L1449.3 623.2L1452.5 628.8L1449.3 634.4L1442.8 634.4ZM1439.6 829.7L1442.8 824.2L1449.3 824.2L1452.5 829.7L1449.3 835.3L1442.8 835.3ZM1449.3 813.0L1452.5 807.4L1458.9 807.4L1462.2 813.0L1458.9 818.6L1452.5 818.6ZM1458.9 673.4L1462.2 667.9L1468.6 667.9L1471.8 673.4L1468.6 679.0L1462.2 679.0ZM1458.9 773.9L1462.2 768.3L1468.6 768.3L1471.8 773.9L1468.6 779.5L1462.2 779.5ZM1458.9 852.1L1462.2 846.5L1468.6 846.5L1471.8 852.1L1468.6 857.7L1462.2 857.7ZM1478.2 617.6L1481.5 612.0L1487.9 612.0L1491.1 617.6L1487.9 623.2L1481.5 623.2ZM1507.2 623.2L1510.4 617.6L1516.8 617.6L1520.1 623.2L1516.8 628.8L1510.4 628.8ZM1526.5 645.5L1529.7 639.9L1536.1 639.9L1539.4 645.5L1536.1 651.1L1529.7 651.1ZM1536.1 628.8L1539.4 623.2L1545.8 623.2L1549.0 628.8L1545.8 634.4L1539.4 634.4ZM1555.5 639.9L1558.7 634.4L1565.1 634.4L1568.3 639.9L1565.1 645.5L1558.7 645.5ZM1555.5 785.1L1558.7 779.5L1565.1 779.5L1568.3 785.1L1565.1 790.7L1558.7 790.7ZM1565.1 656.7L1568.3 651.1L1574.8 651.1L1578.0 656.7L1574.8 662.3L1568.3 662.3Z" fill="#4778b6" stroke="#4778b6" stroke-width="0.6"/>
<path d="M1401.0 673.4L1404.2 667.9L1410.7 667.9L1413.9 673.4L1410.7 679.0L1404.2 679.0ZM1401.0 684.6L1404.2 679.0L1410.7 679.0L1413.9 684.6L1410.7 690.2L1404.2 690.2ZM1401.0 706.9L1404.2 701.3L1410.7 701.3L1413.9 706.9L1410.7 712.5L1404.2 712.5ZM1401.0 729.3L1404.2 723.7L1410.7 723.7L1413.9 729.3L1410.7 734.8L1404.2 734.8ZM1401.0 740.4L1404.2 734.8L1410.7 734.8L1413.9 740.4L1410.7 746.0L1404.2 746.0ZM1401.0 762.8L1404.2 757.2L1410.7 757.2L1413.9 762.8L1410.7 768.3L1404.2 768.3ZM1401.0 773.9L1404.2 768.3L1410.7 768.3L1413.9 773.9L1410.7 779.5L1404.2 779.5ZM1410.7 667.9L1413.9 662.3L1420.3 662.3L1423.5 667.9L1420.3 673.4L1413.9 673.4ZM1410.7 679.0L1413.9 673.4L1420.3 673.4L1423.5 679.0L1420.3 684.6L1413.9 684.6ZM1410.7 712.5L1413.9 706.9L1420.3 706.9L1423.5 712.5L1420.3 718.1L1413.9 718.1ZM1410.7 734.8L1413.9 729.3L1420.3 729.3L1423.5 734.8L1420.3 740.4L1413.9 740.4ZM1410.7 746.0L1413.9 740.4L1420.3 740.4L1423.5 746.0L1420.3 751.6L1413.9 751.6ZM1410.7 757.2L1413.9 751.6L1420.3 751.6L1423.5 757.2L1420.3 762.8L1413.9 762.8ZM1410.7 779.5L1413.9 773.9L1420.3 773.9L1423.5 779.5L1420.3 785.1L1413.9 785.1ZM1420.3 673.4L1423.5 667.9L1430.0 667.9L1433.2 673.4L1430.0 679.0L1423.5 679.0ZM1420.3 684.6L1423.5 679.0L1430.0 679.0L1433.2 684.6L1430.0 690.2L1423.5 690.2ZM1420.3 718.1L1423.5 712.5L1430.0 712.5L1433.2 718.1L1430.0 723.7L1423.5 723.7ZM1420.3 740.4L1423.5 734.8L1430.0 734.8L1433.2 740.4L1430.0 746.0L1423.5 746.0ZM1420.3 751.6L1423.5 746.0L1430.0 746.0L1433.2 751.6L1430.0 757.2L1423.5 757.2ZM1420.3 762.8L1423.5 757.2L1430.0 757.2L1433.2 762.8L1430.0 768.3L1423.5 768.3ZM1420.3 773.9L1423.5 768.3L1430.0 768.3L1433.2 773.9L1430.0 779.5L1423.5 779.5ZM1420.3 785.1L1423.5 779.5L1430.0 779.5L1433.2 785.1L1430.0 790.7L1423.5 790.7ZM1430.0 734.8L1433.2 729.3L1439.6 729.3L1442.8 734.8L1439.6 740.4L1433.2 740.4ZM1430.0 757.2L1433.2 751.6L1439.6 751.6L1442.8 757.2L1439.6 762.8L1433.2 762.8ZM1439.6 706.9L1442.8 701.3L1449.3 701.3L1452.5 706.9L1449.3 712.5L1442.8 712.5ZM1439.6 729.3L1442.8 723.7L1449.3 723.7L1452.5 729.3L1449.3 734.8L1442.8 734.8ZM1439.6 740.4L1442.8 734.8L1449.3 734.8L1452.5 740.4L1449.3 746.0L1442.8 746.0ZM1439.6 751.6L1442.8 746.0L1449.3 746.0L1452.5 751.6L1449.3 757.2L1442.8 757.2ZM1439.6 762.8L1442.8 757.2L1449.3 757.2L1452.5 762.8L1449.3 768.3L1442.8 768.3ZM1439.6 773.9L1442.8 768.3L1449.3 768.3L1452.5 773.9L1449.3 779.5L1442.8 779.5ZM1449.3 723.7L1452.5 718.1L1458.9 718.1L1462.2 723.7L1458.9 729.3L1452.5 729.3ZM1449.3 746.0L1452.5 740.4L1458.9 740.4L1462.2 746.0L1458.9 751.6L1452.5 751.6ZM1449.3 757.2L1452.5 751.6L1458.9 751.6L1462.2 757.2L1458.9 762.8L1452.5 762.8ZM1449.3 768.3L1452.5 762.8L1458.9 762.8L1462.2 768.3L1458.9 773.9L1452.5 773.9ZM1449.3 779.5L1452.5 773.9L1458.9 773.9L1462.2 779.5L1458.9 785.1L1452.5 785.1ZM1458.9 684.6L1462.2 679.0L1468.6 679.0L1471.8 684.6L1468.6 690.2L1462.2 690.2ZM1458.9 695.8L1462.2 690.2L1468.6 690.2L1471.8 695.8L1468.6 701.3L1462.2 701.3ZM1458.9 706.9L1462.2 701.3L1468.6 701.3L1471.8 706.9L1468.6 712.5L1462.2 712.5ZM1458.9 718.1L1462.2 712.5L1468.6 712.5L1471.8 718.1L1468.6 723.7L1462.2 723.7ZM1458.9 729.3L1462.2 723.7L1468.6 723.7L1471.8 729.3L1468.6 734.8L1462.2 734.8ZM1458.9 740.4L1462.2 734.8L1468.6 734.8L1471.8 740.4L1468.6 746.0L1462.2 746.0ZM1458.9 751.6L1462.2 746.0L1468.6 746.0L1471.8 751.6L1468.6 757.2L1462.2 757.2ZM1458.9 762.8L1462.2 757.2L1468.6 757.2L1471.8 762.8L1468.6 768.3L1462.2 768.3ZM1468.6 656.7L1471.8 651.1L1478.2 651.1L1481.5 656.7L1478.2 662.3L1471.8 662.3ZM1468.6 667.9L1471.8 662.3L1478.2 662.3L1481.5 667.9L1478.2 673.4L1471.8 673.4ZM1468.6 690.2L1471.8 684.6L1478.2 684.6L1481.5 690.2L1478.2 695.8L1471.8 695.8ZM1468.6 712.5L1471.8 706.9L1478.2 706.9L1481.5 712.5L1478.2 718.1L1471.8 718.1ZM1468.6 723.7L1471.8 718.1L1478.2 718.1L1481.5 723.7L1478.2 729.3L1471.8 729.3ZM1468.6 734.8L1471.8 729.3L1478.2 729.3L1481.5 734.8L1478.2 740.4L1471.8 740.4ZM1468.6 746.0L1471.8 740.4L1478.2 740.4L1481.5 746.0L1478.2 751.6L1471.8 751.6ZM1468.6 757.2L1471.8 751.6L1478.2 751.6L1481.5 757.2L1478.2 762.8L1471.8 762.8ZM1468.6 768.3L1471.8 762.8L1478.2 762.8L1481.5 768.3L1478.2 773.9L1471.8 773.9ZM1478.2 651.1L1481.5 645.5L1487.9 645.5L1491.1 651.1L1487.9 656.7L1481.5 656.7ZM1478.2 662.3L1481.5 656.7L1487.9 656.7L1491.1 662.3L1487.9 667.9L1481.5 667.9ZM1478.2 673.4L1481.5 667.9L1487.9 667.9L1491.1 673.4L1487.9 679.0L1481.5 679.0ZM1478.2 695.8L1481.5 690.2L1487.9 690.2L1491.1 695.8L1487.9 701.3L1481.5 701.3ZM1478.2 706.9L1481.5 701.3L1487.9 701.3L1491.1 706.9L1487.9 712.5L1481.5 712.5ZM1478.2 718.1L1481.5 712.5L1487.9 712.5L1491.1 718.1L1487.9 723.7L1481.5 723.7ZM1478.2 729.3L1481.5 723.7L1487.9 723.7L1491.1 729.3L1487.9 734.8L1481.5 734.8ZM1478.2 740.4L1481.5 734.8L1487.9 734.8L1491.1 740.4L1487.9 746.0L1481.5 746.0ZM1478.2 751.6L1481.5 746.0L1487.9 746.0L1491.1 751.6L1487.9 757.2L1481.5 757.2ZM1478.2 762.8L1481.5 757.2L1487.9 757.2L1491.1 762.8L1487.9 768.3L1481.5 768.3ZM1478.2 773.9L1481.5 768.3L1487.9 768.3L1491.1 773.9L1487.9 779.5L1481.5 779.5ZM1487.9 656.7L1491.1 651.1L1497.5 651.1L1500.8 656.7L1497.5 662.3L1491.1 662.3ZM1487.9 679.0L1491.1 673.4L1497.5 673.4L1500.8 679.0L1497.5 684.6L1491.1 684.6ZM1487.9 690.2L1491.1 684.6L1497.5 684.6L1500.8 690.2L1497.5 695.8L1491.1 695.8ZM1487.9 712.5L1491.1 706.9L1497.5 706.9L1500.8 712.5L1497.5 718.1L1491.1 718.1ZM1487.9 723.7L1491.1 718.1L1497.5 718.1L1500.8 723.7L1497.5 729.3L1491.1 729.3ZM1487.9 734.8L1491.1 729.3L1497.5 729.3L1500.8 734.8L1497.5 740.4L1491.1 740.4ZM1487.9 746.0L1491.1 740.4L1497.5 740.4L1500.8 746.0L1497.5 751.6L1491.1 751.6ZM1487.9 757.2L1491.1 751.6L1497.5 751.6L1500.8 757.2L1497.5 762.8L1491.1 762.8ZM1487.9 768.3L1491.1 762.8L1497.5 762.8L1500.8 768.3L1497.5 773.9L1491.1 773.9ZM1497.5 651.1L1500.8 645.5L1507.2 645.5L1510.4 651.1L1507.2 656.7L1500.8 656.7ZM1497.5 662.3L1500.8 656.7L1507.2 656.7L1510.4 662.3L1507.2 667.9L1500.8 667.9ZM1497.5 684.6L1500.8 679.0L1507.2 679.0L1510.4 684.6L1507.2 690.2L1500.8 690.2ZM1497.5 695.8L1500.8 690.2L1507.2 690.2L1510.4 695.8L1507.2 701.3L1500.8 701.3ZM1497.5 706.9L1500.8 701.3L1507.2 701.3L1510.4 706.9L1507.2 712.5L1500.8 712.5ZM1497.5 718.1L1500.8 712.5L1507.2 712.5L1510.4 718.1L1507.2 723.7L1500.8 723.7ZM1497.5 729.3L1500.8 723.7L1507.2 723.7L1510.4 729.3L1507.2 734.8L1500.8 734.8ZM1497.5 740.4L1500.8 734.8L1507.2 734.8L1510.4 740.4L1507.2 746.0L1500.8 746.0ZM1497.5 751.6L1500.8 746.0L1507.2 746.0L1510.4 751.6L1507.2 757.2L1500.8 757.2ZM1497.5 762.8L1500.8 757.2L1507.2 757.2L1510.4 762.8L1507.2 768.3L1500.8 768.3ZM1497.5 773.9L1500.8 768.3L1507.2 768.3L1510.4 773.9L1507.2 779.5L1500.8 779.5ZM1507.2 656.7L1510.4 651.1L1516.8 651.1L1520.1 656.7L1516.8 662.3L1510.4 662.3ZM1507.2 667.9L1510.4 662.3L1516.8 662.3L1520.1 667.9L1516.8 673.4L1510.4 673.4ZM1507.2 679.0L1510.4 673.4L1516.8 673.4L1520.1 679.0L1516.8 684.6L1510.4 684.6ZM1507.2 690.2L1510.4 684.6L1516.8 684.6L1520.1 690.2L1516.8 695.8L1510.4 695.8ZM1507.2 701.3L1510.4 695.8L1516.8 695.8L1520.1 701.3L1516.8 706.9L1510.4 706.9ZM1507.2 712.5L1510.4 706.9L1516.8 706.9L1520.1 712.5L1516.8 718.1L1510.4 718.1ZM1507.2 723.7L1510.4 718.1L1516.8 718.1L1520.1 723.7L1516.8 729.3L1510.4 729.3ZM1507.2 734.8L1510.4 729.3L1516.8 729.3L1520.1 734.8L1516.8 740.4L1510.4 740.4ZM1507.2 746.0L1510.4 740.4L1516.8 740.4L1520.1 746.0L1516.8 751.6L1510.4 751.6ZM1507.2 757.2L1510.4 751.6L1516.8 751.6L1520.1 757.2L1516.8 762.8L1510.4 762.8ZM1507.2 768.3L1510.4 762.8L1516.8 762.8L1520.1 768.3L1516.8 773.9L1510.4 773.9ZM1507.2 779.5L1510.4 773.9L1516.8 773.9L1520.1 779.5L1516.8 785.1L1510.4 785.1ZM1516.8 673.4L1520.1 667.9L1526.5 667.9L1529.7 673.4L1526.5 679.0L1520.1 679.0ZM1516.8 684.6L1520.1 679.0L1526.5 679.0L1529.7 684.6L1526.5 690.2L1520.1 690.2ZM1516.8 695.8L1520.1 690.2L1526.5 690.2L1529.7 695.8L1526.5 701.3L1520.1 701.3ZM1516.8 706.9L1520.1 701.3L1526.5 701.3L1529.7 706.9L1526.5 712.5L1520.1 712.5ZM1516.8 718.1L1520.1 712.5L1526.5 712.5L1529.7 718.1L1526.5 723.7L1520.1 723.7ZM1516.8 729.3L1520.1 723.7L1526.5 723.7L1529.7 729.3L1526.5 734.8L1520.1 734.8ZM1516.8 740.4L1520.1 734.8L1526.5 734.8L1529.7 740.4L1526.5 746.0L1520.1 746.0ZM1516.8 751.6L1520.1 746.0L1526.5 746.0L1529.7 751.6L1526.5 757.2L1520.1 757.2ZM1516.8 762.8L1520.1 757.2L1526.5 757.2L1529.7 762.8L1526.5 768.3L1520.1 768.3ZM1516.8 773.9L1520.1 768.3L1526.5 768.3L1529.7 773.9L1526.5 779.5L1520.1 779.5ZM1526.5 679.0L1529.7 673.4L1536.1 673.4L1539.4 679.0L1536.1 684.6L1529.7 684.6ZM1526.5 690.2L1529.7 684.6L1536.1 684.6L1539.4 690.2L1536.1 695.8L1529.7 695.8ZM1526.5 701.3L1529.7 695.8L1536.1 695.8L1539.4 701.3L1536.1 706.9L1529.7 706.9ZM1526.5 712.5L1529.7 706.9L1536.1 706.9L1539.4 712.5L1536.1 718.1L1529.7 718.1ZM1526.5 723.7L1529.7 718.1L1536.1 718.1L1539.4 723.7L1536.1 729.3L1529.7 729.3ZM1526.5 734.8L1529.7 729.3L1536.1 729.3L1539.4 734.8L1536.1 740.4L1529.7 740.4ZM1526.5 746.0L1529.7 740.4L1536.1 740.4L1539.4 746.0L1536.1 751.6L1529.7 751.6ZM1526.5 757.2L1529.7 751.6L1536.1 751.6L1539.4 757.2L1536.1 762.8L1529.7 762.8ZM1526.5 768.3L1529.7 762.8L1536.1 762.8L1539.4 768.3L1536.1 773.9L1529.7 773.9ZM1526.5 779.5L1529.7 773.9L1536.1 773.9L1539.4 779.5L1536.1 785.1L1529.7 785.1ZM1536.1 662.3L1539.4 656.7L1545.8 656.7L1549.0 662.3L1545.8 667.9L1539.4 667.9ZM1536.1 673.4L1539.4 667.9L1545.8 667.9L1549.0 673.4L1545.8 679.0L1539.4 679.0ZM1536.1 684.6L1539.4 679.0L1545.8 679.0L1549.0 684.6L1545.8 690.2L1539.4 690.2ZM1536.1 706.9L1539.4 701.3L1545.8 701.3L1549.0 706.9L1545.8 712.5L1539.4 712.5ZM1536.1 718.1L1539.4 712.5L1545.8 712.5L1549.0 718.1L1545.8 723.7L1539.4 723.7ZM1536.1 729.3L1539.4 723.7L1545.8 723.7L1549.0 729.3L1545.8 734.8L1539.4 734.8ZM1536.1 740.4L1539.4 734.8L1545.8 734.8L1549.0 740.4L1545.8 746.0L1539.4 746.0ZM1536.1 751.6L1539.4 746.0L1545.8 746.0L1549.0 751.6L1545.8 757.2L1539.4 757.2ZM1536.1 762.8L1539.4 757.2L1545.8 757.2L1549.0 762.8L1545.8 768.3L1539.4 768.3ZM1536.1 773.9L1539.4 768.3L1545.8 768.3L1549.0 773.9L1545.8 779.5L1539.4 779.5ZM1536.1 785.1L1539.4 779.5L1545.8 779.5L1549.0 785.1L1545.8 790.7L1539.4 790.7ZM1545.8 679.0L1549.0 673.4L1555.5 673.4L1558.7 679.0L1555.5 684.6L1549.0 684.6ZM1545.8 690.2L1549.0 684.6L1555.5 684.6L1558.7 690.2L1555.5 695.8L1549.0 695.8ZM1545.8 701.3L1549.0 695.8L1555.5 695.8L1558.7 701.3L1555.5 706.9L1549.0 706.9ZM1545.8 712.5L1549.0 706.9L1555.5 706.9L1558.7 712.5L1555.5 718.1L1549.0 718.1ZM1545.8 723.7L1549.0 718.1L1555.5 718.1L1558.7 723.7L1555.5 729.3L1549.0 729.3ZM1545.8 734.8L1549.0 729.3L1555.5 729.3L1558.7 734.8L1555.5 740.4L1549.0 740.4ZM1545.8 746.0L1549.0 740.4L1555.5 740.4L1558.7 746.0L1555.5 751.6L1549.0 751.6ZM1545.8 757.2L1549.0 751.6L1555.5 751.6L1558.7 757.2L1555.5 762.8L1549.0 762.8ZM1545.8 768.3L1549.0 762.8L1555.5 762.8L1558.7 768.3L1555.5 773.9L1549.0 773.9ZM1555.5 673.4L1558.7 667.9L1565.1 667.9L1568.3 673.4L1565.1 679.0L1558.7 679.0ZM1555.5 684.6L1558.7 679.0L1565.1 679.0L1568.3 684.6L1565.1 690.2L1558.7 690.2ZM1555.5 706.9L1558.7 701.3L1565.1 701.3L1568.3 706.9L1565.1 712.5L1558.7 712.5ZM1555.5 718.1L1558.7 712.5L1565.1 712.5L1568.3 718.1L1565.1 723.7L1558.7 723.7ZM1555.5 729.3L1558.7 723.7L1565.1 723.7L1568.3 729.3L1565.1 734.8L1558.7 734.8ZM1555.5 740.4L1558.7 734.8L1565.1 734.8L1568.3 740.4L1565.1 746.0L1558.7 746.0ZM1555.5 751.6L1558.7 746.0L1565.1 746.0L1568.3 751.6L1565.1 757.2L1558.7 757.2ZM1555.5 762.8L1558.7 757.2L1565.1 757.2L1568.3 762.8L1565.1 768.3L1558.7 768.3ZM1555.5 773.9L1558.7 768.3L1565.1 768.3L1568.3 773.9L1565.1 779.5L1558.7 779.5ZM1565.1 679.0L1568.3 673.4L1574.8 673.4L1578.0 679.0L1574.8 684.6L1568.3 684.6ZM1565.1 690.2L1568.3 684.6L1574.8 684.6L1578.0 690.2L1574.8 695.8L1568.3 695.8ZM1565.1 701.3L1568.3 695.8L1574.8 695.8L1578.0 701.3L1574.8 706.9L1568.3 706.9ZM1565.1 723.7L1568.3 718.1L1574.8 718.1L1578.0 723.7L1574.8 729.3L1568.3 729.3ZM1565.1 734.8L1568.3 729.3L1574.8 729.3L1578.0 734.8L1574.8 740.4L1568.3 740.4ZM1565.1 746.0L1568.3 740.4L1574.8 740.4L1578.0 746.0L1574.8 751.6L1568.3 751.6ZM1565.1 757.2L1568.3 751.6L1574.8 751.6L1578.0 757.2L1574.8 762.8L1568.3 762.8ZM1565.1 768.3L1568.3 762.8L1574.8 762.8L1578.0 768.3L1574.8 773.9L1568.3 773.9ZM1565.1 779.5L1568.3 773.9L1574.8 773.9L1578.0 779.5L1574.8 785.1L1568.3 785.1Z" fill="#a51c2c" stroke="#a51c2c" stroke-width="0.6"/>
<path d="M1401.0 695.8L1404.2 690.2L1410.7 690.2L1413.9 695.8L1410.7 701.3L1404.2 701.3ZM1401.0 718.1L1404.2 712.5L1410.7 712.5L1413.9 718.1L1410.7 723.7L1404.2 723.7ZM1420.3 695.8L1423.5 690.2L1430.0 690.2L1433.2 695.8L1430.0 701.3L1423.5 701.3ZM1430.0 723.7L1433.2 718.1L1439.6 718.1L1442.8 723.7L1439.6 729.3L1433.2 729.3ZM1430.0 768.3L1433.2 762.8L1439.6 762.8L1442.8 768.3L1439.6 773.9L1433.2 773.9ZM1439.6 695.8L1442.8 690.2L1449.3 690.2L1452.5 695.8L1449.3 701.3L1442.8 701.3ZM1439.6 718.1L1442.8 712.5L1449.3 712.5L1452.5 718.1L1449.3 723.7L1442.8 723.7ZM1449.3 667.9L1452.5 662.3L1458.9 662.3L1462.2 667.9L1458.9 673.4L1452.5 673.4ZM1449.3 712.5L1452.5 706.9L1458.9 706.9L1462.2 712.5L1458.9 718.1L1452.5 718.1ZM1458.9 662.3L1462.2 656.7L1468.6 656.7L1471.8 662.3L1468.6 667.9L1462.2 667.9ZM1468.6 634.4L1471.8 628.8L1478.2 628.8L1481.5 634.4L1478.2 639.9L1471.8 639.9ZM1478.2 628.8L1481.5 623.2L1487.9 623.2L1491.1 628.8L1487.9 634.4L1481.5 634.4ZM1497.5 673.4L1500.8 667.9L1507.2 667.9L1510.4 673.4L1507.2 679.0L1500.8 679.0ZM1536.1 695.8L1539.4 690.2L1545.8 690.2L1549.0 695.8L1545.8 701.3L1539.4 701.3ZM1545.8 779.5L1549.0 773.9L1555.5 773.9L1558.7 779.5L1555.5 785.1L1549.0 785.1ZM1555.5 695.8L1558.7 690.2L1565.1 690.2L1568.3 695.8L1565.1 701.3L1558.7 701.3Z" fill="#d93328" stroke="#d93328" stroke-width="0.6"/>
<path d="M1401.0 751.6L1404.2 746.0L1410.7 746.0L1413.9 751.6L1410.7 757.2L1404.2 757.2ZM1401.0 818.6L1404.2 813.0L1410.7 813.0L1413.9 818.6L1410.7 824.2L1404.2 824.2ZM1410.7 634.4L1413.9 628.8L1420.3 628.8L1423.5 634.4L1420.3 639.9L1413.9 639.9ZM1410.7 690.2L1413.9 684.6L1420.3 684.6L1423.5 690.2L1420.3 695.8L1413.9 695.8ZM1410.7 701.3L1413.9 695.8L1420.3 695.8L1423.5 701.3L1420.3 706.9L1413.9 706.9ZM1410.7 768.3L1413.9 762.8L1420.3 762.8L1423.5 768.3L1420.3 773.9L1413.9 773.9ZM1410.7 790.7L1413.9 785.1L1420.3 785.1L1423.5 790.7L1420.3 796.3L1413.9 796.3ZM1410.7 824.2L1413.9 818.6L1420.3 818.6L1423.5 824.2L1420.3 829.7L1413.9 829.7ZM1410.7 835.3L1413.9 829.7L1420.3 829.7L1423.5 835.3L1420.3 840.9L1413.9 840.9ZM1420.3 617.6L1423.5 612.0L1430.0 612.0L1433.2 617.6L1430.0 623.2L1423.5 623.2ZM1420.3 628.8L1423.5 623.2L1430.0 623.2L1433.2 628.8L1430.0 634.4L1423.5 634.4ZM1420.3 706.9L1423.5 701.3L1430.0 701.3L1433.2 706.9L1430.0 712.5L1423.5 712.5ZM1420.3 729.3L1423.5 723.7L1430.0 723.7L1433.2 729.3L1430.0 734.8L1423.5 734.8ZM1420.3 818.6L1423.5 813.0L1430.0 813.0L1433.2 818.6L1430.0 824.2L1423.5 824.2ZM1420.3 840.9L1423.5 835.3L1430.0 835.3L1433.2 840.9L1430.0 846.5L1423.5 846.5ZM1430.0 612.0L1433.2 606.4L1439.6 606.4L1442.8 612.0L1439.6 617.6L1433.2 617.6ZM1430.0 634.4L1433.2 628.8L1439.6 628.8L1442.8 634.4L1439.6 639.9L1433.2 639.9ZM1430.0 645.5L1433.2 639.9L1439.6 639.9L1442.8 645.5L1439.6 651.1L1433.2 651.1ZM1430.0 712.5L1433.2 706.9L1439.6 706.9L1442.8 712.5L1439.6 718.1L1433.2 718.1ZM1430.0 746.0L1433.2 740.4L1439.6 740.4L1442.8 746.0L1439.6 751.6L1433.2 751.6ZM1430.0 790.7L1433.2 785.1L1439.6 785.1L1442.8 790.7L1439.6 796.3L1433.2 796.3ZM1430.0 801.8L1433.2 796.3L1439.6 796.3L1442.8 801.8L1439.6 807.4L1433.2 807.4ZM1430.0 846.5L1433.2 840.9L1439.6 840.9L1442.8 846.5L1439.6 852.1L1433.2 852.1ZM1439.6 684.6L1442.8 679.0L1449.3 679.0L1452.5 684.6L1449.3 690.2L1442.8 690.2ZM1439.6 852.1L1442.8 846.5L1449.3 846.5L1452.5 852.1L1449.3 857.7L1442.8 857.7ZM1449.3 634.4L1452.5 628.8L1458.9 628.8L1462.2 634.4L1458.9 639.9L1452.5 639.9ZM1449.3 690.2L1452.5 684.6L1458.9 684.6L1462.2 690.2L1458.9 695.8L1452.5 695.8ZM1449.3 701.3L1452.5 695.8L1458.9 695.8L1462.2 701.3L1458.9 706.9L1452.5 706.9ZM1449.3 734.8L1452.5 729.3L1458.9 729.3L1462.2 734.8L1458.9 740.4L1452.5 740.4ZM1449.3 835.3L1452.5 829.7L1458.9 829.7L1462.2 835.3L1458.9 840.9L1452.5 840.9ZM1458.9 840.9L1462.2 835.3L1468.6 835.3L1471.8 840.9L1468.6 846.5L1462.2 846.5ZM1468.6 701.3L1471.8 695.8L1478.2 695.8L1481.5 701.3L1478.2 706.9L1471.8 706.9ZM1478.2 684.6L1481.5 679.0L1487.9 679.0L1491.1 684.6L1487.9 690.2L1481.5 690.2ZM1487.9 667.9L1491.1 662.3L1497.5 662.3L1500.8 667.9L1497.5 673.4L1491.1 673.4ZM1487.9 701.3L1491.1 695.8L1497.5 695.8L1500.8 701.3L1497.5 706.9L1491.1 706.9ZM1497.5 617.6L1500.8 612.0L1507.2 612.0L1510.4 617.6L1507.2 623.2L1500.8 623.2ZM1526.5 656.7L1529.7 651.1L1536.1 651.1L1539.4 656.7L1536.1 662.3L1529.7 662.3ZM1536.1 852.1L1539.4 846.5L1545.8 846.5L1549.0 852.1L1545.8 857.7L1539.4 857.7ZM1545.8 612.0L1549.0 606.4L1555.5 606.4L1558.7 612.0L1555.5 617.6L1549.0 617.6Z" fill="#bfc0c2" stroke="#bfc0c2" stroke-width="0.6"/>
<path d="M1401.0 785.1L1404.2 779.5L1410.7 779.5L1413.9 785.1L1410.7 790.7L1404.2 790.7Z" fill="#e7f6ec" stroke="#e7f6ec" stroke-width="0.6"/>
<path d="M1401.0 840.9L1404.2 835.3L1410.7 835.3L1413.9 840.9L1410.7 846.5L1404.2 846.5ZM1410.7 645.5L1413.9 639.9L1420.3 639.9L1423.5 645.5L1420.3 651.1L1413.9 651.1ZM1468.6 612.0L1471.8 606.4L1478.2 606.4L1481.5 612.0L1478.2 617.6L1471.8 617.6ZM1468.6 623.2L1471.8 617.6L1478.2 617.6L1481.5 623.2L1478.2 628.8L1471.8 628.8ZM1478.2 852.1L1481.5 846.5L1487.9 846.5L1491.1 852.1L1487.9 857.7L1481.5 857.7ZM1487.9 634.4L1491.1 628.8L1497.5 628.8L1500.8 634.4L1497.5 639.9L1491.1 639.9ZM1487.9 645.5L1491.1 639.9L1497.5 639.9L1500.8 645.5L1497.5 651.1L1491.1 651.1ZM1497.5 639.9L1500.8 634.4L1507.2 634.4L1510.4 639.9L1507.2 645.5L1500.8 645.5ZM1516.8 639.9L1520.1 634.4L1526.5 634.4L1529.7 639.9L1526.5 645.5L1520.1 645.5ZM1545.8 623.2L1549.0 617.6L1555.5 617.6L1558.7 623.2L1555.5 628.8L1549.0 628.8ZM1545.8 634.4L1549.0 628.8L1555.5 628.8L1558.7 634.4L1555.5 639.9L1549.0 639.9ZM1565.1 612.0L1568.3 606.4L1574.8 606.4L1578.0 612.0L1574.8 617.6L1568.3 617.6ZM1565.1 846.5L1568.3 840.9L1574.8 840.9L1578.0 846.5L1574.8 852.1L1568.3 852.1Z" fill="#7ab2d4" stroke="#7ab2d4" stroke-width="0.6"/>
<path d="M1401.0 852.1L1404.2 846.5L1410.7 846.5L1413.9 852.1L1410.7 857.7L1404.2 857.7ZM1410.7 723.7L1413.9 718.1L1420.3 718.1L1423.5 723.7L1420.3 729.3L1413.9 729.3ZM1430.0 690.2L1433.2 684.6L1439.6 684.6L1442.8 690.2L1439.6 695.8L1433.2 695.8ZM1449.3 656.7L1452.5 651.1L1458.9 651.1L1462.2 656.7L1458.9 662.3L1452.5 662.3ZM1468.6 679.0L1471.8 673.4L1478.2 673.4L1481.5 679.0L1478.2 684.6L1471.8 684.6ZM1487.9 779.5L1491.1 773.9L1497.5 773.9L1500.8 779.5L1497.5 785.1L1491.1 785.1ZM1516.8 785.1L1520.1 779.5L1526.5 779.5L1529.7 785.1L1526.5 790.7L1520.1 790.7ZM1565.1 667.9L1568.3 662.3L1574.8 662.3L1578.0 667.9L1574.8 673.4L1568.3 673.4ZM1565.1 712.5L1568.3 706.9L1574.8 706.9L1578.0 712.5L1574.8 718.1L1568.3 718.1Z" fill="#f57446" stroke="#f57446" stroke-width="0.6"/>
<path d="M1420.3 662.3L1423.5 656.7L1430.0 656.7L1433.2 662.3L1430.0 667.9L1423.5 667.9ZM1430.0 667.9L1433.2 662.3L1439.6 662.3L1442.8 667.9L1439.6 673.4L1433.2 673.4ZM1468.6 779.5L1471.8 773.9L1478.2 773.9L1481.5 779.5L1478.2 785.1L1471.8 785.1ZM1487.9 623.2L1491.1 617.6L1497.5 617.6L1500.8 623.2L1497.5 628.8L1491.1 628.8ZM1516.8 651.1L1520.1 645.5L1526.5 645.5L1529.7 651.1L1526.5 656.7L1520.1 656.7ZM1526.5 667.9L1529.7 662.3L1536.1 662.3L1539.4 667.9L1536.1 673.4L1529.7 673.4ZM1536.1 639.9L1539.4 634.4L1545.8 634.4L1549.0 639.9L1545.8 645.5L1539.4 645.5ZM1545.8 656.7L1549.0 651.1L1555.5 651.1L1558.7 656.7L1555.5 662.3L1549.0 662.3ZM1555.5 628.8L1558.7 623.2L1565.1 623.2L1568.3 628.8L1565.1 634.4L1558.7 634.4ZM1555.5 651.1L1558.7 645.5L1565.1 645.5L1568.3 651.1L1565.1 656.7L1558.7 656.7ZM1565.1 645.5L1568.3 639.9L1574.8 639.9L1578.0 645.5L1574.8 651.1L1568.3 651.1Z" fill="#fee79a" stroke="#fee79a" stroke-width="0.6"/>
<path d="M1430.0 701.3L1433.2 695.8L1439.6 695.8L1442.8 701.3L1439.6 706.9L1433.2 706.9ZM1545.8 667.9L1549.0 662.3L1555.5 662.3L1558.7 667.9L1555.5 673.4L1549.0 673.4Z" fill="#fdb668" stroke="#fdb668" stroke-width="0.6"/>
<path d="M1430.0 779.5L1433.2 773.9L1439.6 773.9L1442.8 779.5L1439.6 785.1L1433.2 785.1ZM1497.5 628.8L1500.8 623.2L1507.2 623.2L1510.4 628.8L1507.2 634.4L1500.8 634.4ZM1526.5 634.4L1529.7 628.8L1536.1 628.8L1539.4 634.4L1536.1 639.9L1529.7 639.9ZM1536.1 651.1L1539.4 645.5L1545.8 645.5L1549.0 651.1L1545.8 656.7L1539.4 656.7ZM1555.5 662.3L1558.7 656.7L1565.1 656.7L1568.3 662.3L1565.1 667.9L1558.7 667.9Z" fill="#fff7b3" stroke="#fff7b3" stroke-width="0.6"/>
<path d="M1449.3 679.0L1452.5 673.4L1458.9 673.4L1462.2 679.0L1458.9 684.6L1452.5 684.6ZM1458.9 617.6L1462.2 612.0L1468.6 612.0L1471.8 617.6L1468.6 623.2L1462.2 623.2ZM1478.2 639.9L1481.5 634.4L1487.9 634.4L1491.1 639.9L1487.9 645.5L1481.5 645.5ZM1497.5 785.1L1500.8 779.5L1507.2 779.5L1510.4 785.1L1507.2 790.7L1500.8 790.7ZM1516.8 628.8L1520.1 623.2L1526.5 623.2L1529.7 628.8L1526.5 634.4L1520.1 634.4ZM1516.8 662.3L1520.1 656.7L1526.5 656.7L1529.7 662.3L1526.5 667.9L1520.1 667.9ZM1545.8 645.5L1549.0 639.9L1555.5 639.9L1558.7 645.5L1555.5 651.1L1549.0 651.1Z" fill="#b3ddeb" stroke="#b3ddeb" stroke-width="0.6"/>
<path d="M1401.0 617.6L1404.2 612.0M1404.2 612.0L1410.7 612.0M1401.0 617.6L1404.2 623.2M1401.0 628.8L1404.2 623.2M1401.0 628.8L1404.2 634.4M1401.0 639.9L1404.2 634.4M1401.0 639.9L1404.2 645.5M1401.0 651.1L1404.2 645.5M1401.0 651.1L1404.2 656.7M1401.0 662.3L1404.2 656.7M1401.0 662.3L1404.2 667.9M1401.0 673.4L1404.2 667.9M1401.0 673.4L1404.2 679.0M1401.0 684.6L1404.2 679.0M1401.0 684.6L1404.2 690.2M1401.0 695.8L1404.2 690.2M1401.0 695.8L1404.2 701.3M1401.0 706.9L1404.2 701.3M1401.0 706.9L1404.2 712.5M1401.0 718.1L1404.2 712.5M1401.0 718.1L1404.2 723.7M1401.0 729.3L1404.2 723.7M1401.0 729.3L1404.2 734.8M1401.0 740.4L1404.2 734.8M1401.0 740.4L1404.2 746.0M1401.0 751.6L1404.2 746.0M1401.0 751.6L1404.2 757.2M1401.0 762.8L1404.2 757.2M1401.0 762.8L1404.2 768.3M1401.0 773.9L1404.2 768.3M1401.0 773.9L1404.2 779.5M1401.0 785.1L1404.2 779.5M1401.0 785.1L1404.2 790.7M1401.0 796.3L1404.2 790.7M1401.0 796.3L1404.2 801.8M1401.0 807.4L1404.2 801.8M1401.0 807.4L1404.2 813.0M1401.0 818.6L1404.2 813.0M1401.0 818.6L1404.2 824.2M1401.0 829.7L1404.2 824.2M1401.0 829.7L1404.2 835.3M1401.0 840.9L1404.2 835.3M1401.0 840.9L1404.2 846.5M1401.0 852.1L1404.2 846.5M1410.7 857.7L1413.9 852.1M1404.2 857.7L1410.7 857.7M1401.0 852.1L1404.2 857.7M1410.7 612.0L1413.9 606.4M1413.9 606.4L1420.3 606.4M1420.3 606.4L1423.5 612.0M1413.9 852.1L1420.3 852.1M1423.5 612.0L1430.0 612.0M1430.0 857.7L1433.2 852.1M1423.5 857.7L1430.0 857.7M1420.3 852.1L1423.5 857.7M1430.0 612.0L1433.2 606.4M1433.2 606.4L1439.6 606.4M1439.6 606.4L1442.8 612.0M1433.2 852.1L1439.6 852.1M1442.8 612.0L1449.3 612.0M1449.3 857.7L1452.5 852.1M1442.8 857.7L1449.3 857.7M1439.6 852.1L1442.8 857.7M1449.3 612.0L1452.5 606.4M1452.5 606.4L1458.9 606.4M1458.9 606.4L1462.2 612.0M1452.5 852.1L1458.9 852.1M1462.2 612.0L1468.6 612.0M1468.6 857.7L1471.8 852.1M1462.2 857.7L1468.6 857.7M1458.9 852.1L1462.2 857.7M1468.6 612.0L1471.8 606.4M1471.8 606.4L1478.2 606.4M1478.2 606.4L1481.5 612.0M1471.8 852.1L1478.2 852.1M1481.5 612.0L1487.9 612.0M1487.9 857.7L1491.1 852.1M1481.5 857.7L1487.9 857.7M1478.2 852.1L1481.5 857.7M1487.9 612.0L1491.1 606.4M1491.1 606.4L1497.5 606.4M1497.5 606.4L1500.8 612.0M1491.1 852.1L1497.5 852.1M1500.8 612.0L1507.2 612.0M1507.2 857.7L1510.4 852.1M1500.8 857.7L1507.2 857.7M1497.5 852.1L1500.8 857.7M1507.2 612.0L1510.4 606.4M1510.4 606.4L1516.8 606.4M1516.8 606.4L1520.1 612.0M1510.4 852.1L1516.8 852.1M1520.1 612.0L1526.5 612.0M1526.5 857.7L1529.7 852.1M1520.1 857.7L1526.5 857.7M1516.8 852.1L1520.1 857.7M1526.5 612.0L1529.7 606.4M1529.7 606.4L1536.1 606.4M1536.1 606.4L1539.4 612.0M1529.7 852.1L1536.1 852.1M1539.4 612.0L1545.8 612.0M1545.8 857.7L1549.0 852.1M1539.4 857.7L1545.8 857.7M1536.1 852.1L1539.4 857.7M1545.8 612.0L1549.0 606.4M1549.0 606.4L1555.5 606.4M1555.5 606.4L1558.7 612.0M1549.0 852.1L1555.5 852.1M1558.7 612.0L1565.1 612.0M1565.1 857.7L1568.3 852.1M1558.7 857.7L1565.1 857.7M1555.5 852.1L1558.7 857.7M1565.1 612.0L1568.3 606.4M1568.3 606.4L1574.8 606.4M1574.8 606.4L1578.0 612.0M1574.8 617.6L1578.0 612.0M1574.8 617.6L1578.0 623.2M1574.8 628.8L1578.0 623.2M1574.8 628.8L1578.0 634.4M1574.8 639.9L1578.0 634.4M1574.8 639.9L1578.0 645.5M1574.8 651.1L1578.0 645.5M1574.8 651.1L1578.0 656.7M1574.8 662.3L1578.0 656.7M1574.8 662.3L1578.0 667.9M1574.8 673.4L1578.0 667.9M1574.8 673.4L1578.0 679.0M1574.8 684.6L1578.0 679.0M1574.8 684.6L1578.0 690.2M1574.8 695.8L1578.0 690.2M1574.8 695.8L1578.0 701.3M1574.8 706.9L1578.0 701.3M1574.8 706.9L1578.0 712.5M1574.8 718.1L1578.0 712.5M1574.8 718.1L1578.0 723.7M1574.8 729.3L1578.0 723.7M1574.8 729.3L1578.0 734.8M1574.8 740.4L1578.0 734.8M1574.8 740.4L1578.0 746.0M1574.8 751.6L1578.0 746.0M1574.8 751.6L1578.0 757.2M1574.8 762.8L1578.0 757.2M1574.8 762.8L1578.0 768.3M1574.8 773.9L1578.0 768.3M1574.8 773.9L1578.0 779.5M1574.8 785.1L1578.0 779.5M1574.8 785.1L1578.0 790.7M1574.8 796.3L1578.0 790.7M1574.8 796.3L1578.0 801.8M1574.8 807.4L1578.0 801.8M1574.8 807.4L1578.0 813.0M1574.8 818.6L1578.0 813.0M1574.8 818.6L1578.0 824.2M1574.8 829.7L1578.0 824.2M1574.8 829.7L1578.0 835.3M1574.8 840.9L1578.0 835.3M1574.8 840.9L1578.0 846.5M1574.8 852.1L1578.0 846.5M1568.3 852.1L1574.8 852.1" fill="none" stroke="#111" stroke-width="1.3" stroke-linecap="round"/>
<path d="M1602.0 617.3L1605.6 611.7L1612.7 611.7L1616.2 617.3L1612.7 622.9L1605.6 622.9ZM1602.0 639.6L1605.6 634.0L1612.7 634.0L1616.2 639.6L1612.7 645.2L1605.6 645.2ZM1602.0 650.8L1605.6 645.2L1612.7 645.2L1616.2 650.8L1612.7 656.3L1605.6 656.3ZM1602.0 661.9L1605.6 656.3L1612.7 656.3L1616.2 661.9L1612.7 667.5L1605.6 667.5ZM1602.0 684.2L1605.6 678.6L1612.7 678.6L1616.2 684.2L1612.7 689.8L1605.6 689.8ZM1602.0 695.3L1605.6 689.8L1612.7 689.8L1616.2 695.3L1612.7 700.9L1605.6 700.9ZM1612.7 645.2L1616.2 639.6L1623.3 639.6L1626.9 645.2L1623.3 650.8L1616.2 650.8ZM1623.3 628.5L1626.9 622.9L1634.0 622.9L1637.6 628.5L1634.0 634.0L1626.9 634.0ZM1623.3 751.1L1626.9 745.5L1634.0 745.5L1637.6 751.1L1634.0 756.7L1626.9 756.7ZM1623.3 784.5L1626.9 779.0L1634.0 779.0L1637.6 784.5L1634.0 790.1L1626.9 790.1ZM1623.3 795.7L1626.9 790.1L1634.0 790.1L1637.6 795.7L1634.0 801.2L1626.9 801.2ZM1634.0 790.1L1637.6 784.5L1644.7 784.5L1648.3 790.1L1644.7 795.7L1637.6 795.7ZM1634.0 845.8L1637.6 840.3L1644.7 840.3L1648.3 845.8L1644.7 851.4L1637.6 851.4ZM1644.7 739.9L1648.3 734.4L1655.4 734.4L1658.9 739.9L1655.4 745.5L1648.3 745.5ZM1644.7 773.4L1648.3 767.8L1655.4 767.8L1658.9 773.4L1655.4 779.0L1648.3 779.0ZM1655.4 745.5L1658.9 739.9L1666.0 739.9L1669.6 745.5L1666.0 751.1L1658.9 751.1ZM1655.4 812.4L1658.9 806.8L1666.0 806.8L1669.6 812.4L1666.0 818.0L1658.9 818.0ZM1666.0 728.8L1669.6 723.2L1676.7 723.2L1680.3 728.8L1676.7 734.4L1669.6 734.4ZM1676.7 656.3L1680.3 650.8L1687.4 650.8L1690.9 656.3L1687.4 661.9L1680.3 661.9ZM1676.7 756.7L1680.3 751.1L1687.4 751.1L1690.9 756.7L1687.4 762.2L1680.3 762.2ZM1687.4 617.3L1690.9 611.7L1698.1 611.7L1701.6 617.3L1698.1 622.9L1690.9 622.9ZM1687.4 650.8L1690.9 645.2L1698.1 645.2L1701.6 650.8L1698.1 656.3L1690.9 656.3ZM1687.4 661.9L1690.9 656.3L1698.1 656.3L1701.6 661.9L1698.1 667.5L1690.9 667.5ZM1687.4 751.1L1690.9 745.5L1698.1 745.5L1701.6 751.1L1698.1 756.7L1690.9 756.7ZM1687.4 773.4L1690.9 767.8L1698.1 767.8L1701.6 773.4L1698.1 779.0L1690.9 779.0ZM1698.1 634.0L1701.6 628.5L1708.7 628.5L1712.3 634.0L1708.7 639.6L1701.6 639.6ZM1698.1 667.5L1701.6 661.9L1708.7 661.9L1712.3 667.5L1708.7 673.0L1701.6 673.0ZM1698.1 767.8L1701.6 762.2L1708.7 762.2L1712.3 767.8L1708.7 773.4L1701.6 773.4ZM1708.7 673.0L1712.3 667.5L1719.4 667.5L1723.0 673.0L1719.4 678.6L1712.3 678.6ZM1708.7 728.8L1712.3 723.2L1719.4 723.2L1723.0 728.8L1719.4 734.4L1712.3 734.4ZM1708.7 751.1L1712.3 745.5L1719.4 745.5L1723.0 751.1L1719.4 756.7L1712.3 756.7ZM1708.7 762.2L1712.3 756.7L1719.4 756.7L1723.0 762.2L1719.4 767.8L1712.3 767.8ZM1719.4 700.9L1723.0 695.3L1730.1 695.3L1733.6 700.9L1730.1 706.5L1723.0 706.5ZM1719.4 745.5L1723.0 739.9L1730.1 739.9L1733.6 745.5L1730.1 751.1L1723.0 751.1ZM1719.4 756.7L1723.0 751.1L1730.1 751.1L1733.6 756.7L1730.1 762.2L1723.0 762.2ZM1730.1 673.0L1733.6 667.5L1740.7 667.5L1744.3 673.0L1740.7 678.6L1733.6 678.6ZM1730.1 695.3L1733.6 689.8L1740.7 689.8L1744.3 695.3L1740.7 700.9L1733.6 700.9ZM1730.1 717.6L1733.6 712.1L1740.7 712.1L1744.3 717.6L1740.7 723.2L1733.6 723.2ZM1730.1 751.1L1733.6 745.5L1740.7 745.5L1744.3 751.1L1740.7 756.7L1733.6 756.7ZM1730.1 784.5L1733.6 779.0L1740.7 779.0L1744.3 784.5L1740.7 790.1L1733.6 790.1ZM1740.7 667.5L1744.3 661.9L1751.4 661.9L1755.0 667.5L1751.4 673.0L1744.3 673.0ZM1740.7 700.9L1744.3 695.3L1751.4 695.3L1755.0 700.9L1751.4 706.5L1744.3 706.5Z" fill="#fff7b3" stroke="#fff7b3" stroke-width="0.6"/>
<path d="M1602.0 628.5L1605.6 622.9L1612.7 622.9L1616.2 628.5L1612.7 634.0L1605.6 634.0ZM1602.0 728.8L1605.6 723.2L1612.7 723.2L1616.2 728.8L1612.7 734.4L1605.6 734.4ZM1602.0 751.1L1605.6 745.5L1612.7 745.5L1616.2 751.1L1612.7 756.7L1605.6 756.7ZM1602.0 851.4L1605.6 845.8L1612.7 845.8L1616.2 851.4L1612.7 857.0L1605.6 857.0ZM1612.7 611.7L1616.2 606.2L1623.3 606.2L1626.9 611.7L1623.3 617.3L1616.2 617.3ZM1612.7 622.9L1616.2 617.3L1623.3 617.3L1626.9 622.9L1623.3 628.5L1616.2 628.5ZM1612.7 656.3L1616.2 650.8L1623.3 650.8L1626.9 656.3L1623.3 661.9L1616.2 661.9ZM1612.7 723.2L1616.2 717.6L1623.3 717.6L1626.9 723.2L1623.3 728.8L1616.2 728.8ZM1612.7 845.8L1616.2 840.3L1623.3 840.3L1626.9 845.8L1623.3 851.4L1616.2 851.4ZM1634.0 678.6L1637.6 673.0L1644.7 673.0L1648.3 678.6L1644.7 684.2L1637.6 684.2ZM1634.0 689.8L1637.6 684.2L1644.7 684.2L1648.3 689.8L1644.7 695.3L1637.6 695.3ZM1634.0 745.5L1637.6 739.9L1644.7 739.9L1648.3 745.5L1644.7 751.1L1637.6 751.1ZM1634.0 756.7L1637.6 751.1L1644.7 751.1L1648.3 756.7L1644.7 762.2L1637.6 762.2ZM1634.0 767.8L1637.6 762.2L1644.7 762.2L1648.3 767.8L1644.7 773.4L1637.6 773.4ZM1644.7 684.2L1648.3 678.6L1655.4 678.6L1658.9 684.2L1655.4 689.8L1648.3 689.8ZM1644.7 762.2L1648.3 756.7L1655.4 756.7L1658.9 762.2L1655.4 767.8L1648.3 767.8ZM1655.4 667.5L1658.9 661.9L1666.0 661.9L1669.6 667.5L1666.0 673.0L1658.9 673.0ZM1655.4 678.6L1658.9 673.0L1666.0 673.0L1669.6 678.6L1666.0 684.2L1658.9 684.2ZM1655.4 790.1L1658.9 784.5L1666.0 784.5L1669.6 790.1L1666.0 795.7L1658.9 795.7ZM1655.4 801.2L1658.9 795.7L1666.0 795.7L1669.6 801.2L1666.0 806.8L1658.9 806.8ZM1666.0 806.8L1669.6 801.2L1676.7 801.2L1680.3 806.8L1676.7 812.4L1669.6 812.4ZM1666.0 818.0L1669.6 812.4L1676.7 812.4L1680.3 818.0L1676.7 823.5L1669.6 823.5ZM1676.7 622.9L1680.3 617.3L1687.4 617.3L1690.9 622.9L1687.4 628.5L1680.3 628.5ZM1676.7 634.0L1680.3 628.5L1687.4 628.5L1690.9 634.0L1687.4 639.6L1680.3 639.6ZM1676.7 678.6L1680.3 673.0L1687.4 673.0L1690.9 678.6L1687.4 684.2L1680.3 684.2ZM1676.7 700.9L1680.3 695.3L1687.4 695.3L1690.9 700.9L1687.4 706.5L1680.3 706.5ZM1676.7 767.8L1680.3 762.2L1687.4 762.2L1690.9 767.8L1687.4 773.4L1680.3 773.4ZM1676.7 779.0L1680.3 773.4L1687.4 773.4L1690.9 779.0L1687.4 784.5L1680.3 784.5ZM1687.4 628.5L1690.9 622.9L1698.1 622.9L1701.6 628.5L1698.1 634.0L1690.9 634.0ZM1687.4 695.3L1690.9 689.8L1698.1 689.8L1701.6 695.3L1698.1 700.9L1690.9 700.9ZM1698.1 656.3L1701.6 650.8L1708.7 650.8L1712.3 656.3L1708.7 661.9L1701.6 661.9ZM1708.7 617.3L1712.3 611.7L1719.4 611.7L1723.0 617.3L1719.4 622.9L1712.3 622.9ZM1708.7 639.6L1712.3 634.0L1719.4 634.0L1723.0 639.6L1719.4 645.2L1712.3 645.2ZM1719.4 622.9L1723.0 617.3L1730.1 617.3L1733.6 622.9L1730.1 628.5L1723.0 628.5ZM1730.1 639.6L1733.6 634.0L1740.7 634.0L1744.3 639.6L1740.7 645.2L1733.6 645.2ZM1730.1 684.2L1733.6 678.6L1740.7 678.6L1744.3 684.2L1740.7 689.8L1733.6 689.8ZM1730.1 773.4L1733.6 767.8L1740.7 767.8L1744.3 773.4L1740.7 779.0L1733.6 779.0ZM1740.7 645.2L1744.3 639.6L1751.4 639.6L1755.0 645.2L1751.4 650.8L1744.3 650.8ZM1740.7 656.3L1744.3 650.8L1751.4 650.8L1755.0 656.3L1751.4 661.9L1744.3 661.9Z" fill="#b3ddeb" stroke="#b3ddeb" stroke-width="0.6"/>
<path d="M1602.0 673.0L1605.6 667.5L1612.7 667.5L1616.2 673.0L1612.7 678.6L1605.6 678.6ZM1602.0 739.9L1605.6 734.4L1612.7 734.4L1616.2 739.9L1612.7 745.5L1605.6 745.5ZM1612.7 634.0L1616.2 628.5L1623.3 628.5L1626.9 634.0L1623.3 639.6L1616.2 639.6ZM1612.7 756.7L1616.2 751.1L1623.3 751.1L1626.9 756.7L1623.3 762.2L1616.2 762.2ZM1612.7 767.8L1616.2 762.2L1623.3 762.2L1626.9 767.8L1623.3 773.4L1616.2 773.4ZM1612.7 834.7L1616.2 829.1L1623.3 829.1L1626.9 834.7L1623.3 840.3L1616.2 840.3ZM1623.3 739.9L1626.9 734.4L1634.0 734.4L1637.6 739.9L1634.0 745.5L1626.9 745.5ZM1623.3 773.4L1626.9 767.8L1634.0 767.8L1637.6 773.4L1634.0 779.0L1626.9 779.0ZM1623.3 851.4L1626.9 845.8L1634.0 845.8L1637.6 851.4L1634.0 857.0L1626.9 857.0ZM1634.0 667.5L1637.6 661.9L1644.7 661.9L1648.3 667.5L1644.7 673.0L1637.6 673.0ZM1634.0 712.1L1637.6 706.5L1644.7 706.5L1648.3 712.1L1644.7 717.6L1637.6 717.6ZM1634.0 723.2L1637.6 717.6L1644.7 717.6L1648.3 723.2L1644.7 728.8L1637.6 728.8ZM1634.0 734.4L1637.6 728.8L1644.7 728.8L1648.3 734.4L1644.7 739.9L1637.6 739.9ZM1644.7 751.1L1648.3 745.5L1655.4 745.5L1658.9 751.1L1655.4 756.7L1648.3 756.7ZM1655.4 756.7L1658.9 751.1L1666.0 751.1L1669.6 756.7L1666.0 762.2L1658.9 762.2ZM1666.0 661.9L1669.6 656.3L1676.7 656.3L1680.3 661.9L1676.7 667.5L1669.6 667.5ZM1666.0 751.1L1669.6 745.5L1676.7 745.5L1680.3 751.1L1676.7 756.7L1669.6 756.7ZM1687.4 795.7L1690.9 790.1L1698.1 790.1L1701.6 795.7L1698.1 801.2L1690.9 801.2ZM1687.4 806.8L1690.9 801.2L1698.1 801.2L1701.6 806.8L1698.1 812.4L1690.9 812.4ZM1687.4 818.0L1690.9 812.4L1698.1 812.4L1701.6 818.0L1698.1 823.5L1690.9 823.5ZM1687.4 840.3L1690.9 834.7L1698.1 834.7L1701.6 840.3L1698.1 845.8L1690.9 845.8ZM1698.1 712.1L1701.6 706.5L1708.7 706.5L1712.3 712.1L1708.7 717.6L1701.6 717.6ZM1698.1 723.2L1701.6 717.6L1708.7 717.6L1712.3 723.2L1708.7 728.8L1701.6 728.8ZM1698.1 734.4L1701.6 728.8L1708.7 728.8L1712.3 734.4L1708.7 739.9L1701.6 739.9ZM1698.1 812.4L1701.6 806.8L1708.7 806.8L1712.3 812.4L1708.7 818.0L1701.6 818.0ZM1698.1 823.5L1701.6 818.0L1708.7 818.0L1712.3 823.5L1708.7 829.1L1701.6 829.1ZM1708.7 717.6L1712.3 712.1L1719.4 712.1L1723.0 717.6L1719.4 723.2L1712.3 723.2ZM1708.7 773.4L1712.3 767.8L1719.4 767.8L1723.0 773.4L1719.4 779.0L1712.3 779.0ZM1719.4 611.7L1723.0 606.2L1730.1 606.2L1733.6 611.7L1730.1 617.3L1723.0 617.3ZM1719.4 634.0L1723.0 628.5L1730.1 628.5L1733.6 634.0L1730.1 639.6L1723.0 639.6ZM1719.4 645.2L1723.0 639.6L1730.1 639.6L1733.6 645.2L1730.1 650.8L1723.0 650.8ZM1719.4 779.0L1723.0 773.4L1730.1 773.4L1733.6 779.0L1730.1 784.5L1723.0 784.5ZM1719.4 790.1L1723.0 784.5L1730.1 784.5L1733.6 790.1L1730.1 795.7L1723.0 795.7ZM1719.4 845.8L1723.0 840.3L1730.1 840.3L1733.6 845.8L1730.1 851.4L1723.0 851.4ZM1730.1 650.8L1733.6 645.2L1740.7 645.2L1744.3 650.8L1740.7 656.3L1733.6 656.3ZM1730.1 661.9L1733.6 656.3L1740.7 656.3L1744.3 661.9L1740.7 667.5L1733.6 667.5ZM1730.1 795.7L1733.6 790.1L1740.7 790.1L1744.3 795.7L1740.7 801.2L1733.6 801.2ZM1740.7 790.1L1744.3 784.5L1751.4 784.5L1755.0 790.1L1751.4 795.7L1744.3 795.7Z" fill="#fdb668" stroke="#fdb668" stroke-width="0.6"/>
<path d="M1602.0 706.5L1605.6 700.9L1612.7 700.9L1616.2 706.5L1612.7 712.1L1605.6 712.1ZM1602.0 762.2L1605.6 756.7L1612.7 756.7L1616.2 762.2L1612.7 767.8L1605.6 767.8ZM1612.7 667.5L1616.2 661.9L1623.3 661.9L1626.9 667.5L1623.3 673.0L1616.2 673.0ZM1612.7 700.9L1616.2 695.3L1623.3 695.3L1626.9 700.9L1623.3 706.5L1616.2 706.5ZM1612.7 712.1L1616.2 706.5L1623.3 706.5L1626.9 712.1L1623.3 717.6L1616.2 717.6ZM1612.7 745.5L1616.2 739.9L1623.3 739.9L1626.9 745.5L1623.3 751.1L1616.2 751.1ZM1623.3 684.2L1626.9 678.6L1634.0 678.6L1637.6 684.2L1634.0 689.8L1626.9 689.8ZM1623.3 695.3L1626.9 689.8L1634.0 689.8L1637.6 695.3L1634.0 700.9L1626.9 700.9ZM1623.3 706.5L1626.9 700.9L1634.0 700.9L1637.6 706.5L1634.0 712.1L1626.9 712.1ZM1634.0 656.3L1637.6 650.8L1644.7 650.8L1648.3 656.3L1644.7 661.9L1637.6 661.9ZM1644.7 661.9L1648.3 656.3L1655.4 656.3L1658.9 661.9L1655.4 667.5L1648.3 667.5ZM1644.7 795.7L1648.3 790.1L1655.4 790.1L1658.9 795.7L1655.4 801.2L1648.3 801.2ZM1655.4 779.0L1658.9 773.4L1666.0 773.4L1669.6 779.0L1666.0 784.5L1658.9 784.5ZM1666.0 739.9L1669.6 734.4L1676.7 734.4L1680.3 739.9L1676.7 745.5L1669.6 745.5ZM1666.0 795.7L1669.6 790.1L1676.7 790.1L1680.3 795.7L1676.7 801.2L1669.6 801.2ZM1687.4 684.2L1690.9 678.6L1698.1 678.6L1701.6 684.2L1698.1 689.8L1690.9 689.8ZM1698.1 645.2L1701.6 639.6L1708.7 639.6L1712.3 645.2L1708.7 650.8L1701.6 650.8ZM1698.1 745.5L1701.6 739.9L1708.7 739.9L1712.3 745.5L1708.7 751.1L1701.6 751.1ZM1708.7 706.5L1712.3 700.9L1719.4 700.9L1723.0 706.5L1719.4 712.1L1712.3 712.1ZM1719.4 723.2L1723.0 717.6L1730.1 717.6L1733.6 723.2L1730.1 728.8L1723.0 728.8ZM1730.1 762.2L1733.6 756.7L1740.7 756.7L1744.3 762.2L1740.7 767.8L1733.6 767.8ZM1740.7 756.7L1744.3 751.1L1751.4 751.1L1755.0 756.7L1751.4 762.2L1744.3 762.2Z" fill="#bfc0c2" stroke="#bfc0c2" stroke-width="0.6"/>
<path d="M1602.0 717.6L1605.6 712.1L1612.7 712.1L1616.2 717.6L1612.7 723.2L1605.6 723.2ZM1602.0 773.4L1605.6 767.8L1612.7 767.8L1616.2 773.4L1612.7 779.0L1605.6 779.0ZM1612.7 734.4L1616.2 728.8L1623.3 728.8L1626.9 734.4L1623.3 739.9L1616.2 739.9ZM1623.3 639.6L1626.9 634.0L1634.0 634.0L1637.6 639.6L1634.0 645.2L1626.9 645.2ZM1623.3 650.8L1626.9 645.2L1634.0 645.2L1637.6 650.8L1634.0 656.3L1626.9 656.3ZM1623.3 762.2L1626.9 756.7L1634.0 756.7L1637.6 762.2L1634.0 767.8L1626.9 767.8ZM1634.0 611.7L1637.6 606.2L1644.7 606.2L1648.3 611.7L1644.7 617.3L1637.6 617.3ZM1644.7 673.0L1648.3 667.5L1655.4 667.5L1658.9 673.0L1655.4 678.6L1648.3 678.6ZM1644.7 706.5L1648.3 700.9L1655.4 700.9L1658.9 706.5L1655.4 712.1L1648.3 712.1ZM1655.4 689.8L1658.9 684.2L1666.0 684.2L1669.6 689.8L1666.0 695.3L1658.9 695.3ZM1655.4 700.9L1658.9 695.3L1666.0 695.3L1669.6 700.9L1666.0 706.5L1658.9 706.5ZM1666.0 628.5L1669.6 622.9L1676.7 622.9L1680.3 628.5L1676.7 634.0L1669.6 634.0ZM1666.0 639.6L1669.6 634.0L1676.7 634.0L1680.3 639.6L1676.7 645.2L1669.6 645.2ZM1666.0 706.5L1669.6 700.9L1676.7 700.9L1680.3 706.5L1676.7 712.1L1669.6 712.1ZM1666.0 717.6L1669.6 712.1L1676.7 712.1L1680.3 717.6L1676.7 723.2L1669.6 723.2ZM1666.0 773.4L1669.6 767.8L1676.7 767.8L1680.3 773.4L1676.7 779.0L1669.6 779.0ZM1666.0 829.1L1669.6 823.5L1676.7 823.5L1680.3 829.1L1676.7 834.7L1669.6 834.7ZM1676.7 611.7L1680.3 606.2L1687.4 606.2L1690.9 611.7L1687.4 617.3L1680.3 617.3ZM1676.7 667.5L1680.3 661.9L1687.4 661.9L1690.9 667.5L1687.4 673.0L1680.3 673.0ZM1676.7 689.8L1680.3 684.2L1687.4 684.2L1690.9 689.8L1687.4 695.3L1680.3 695.3ZM1676.7 723.2L1680.3 717.6L1687.4 717.6L1690.9 723.2L1687.4 728.8L1680.3 728.8ZM1676.7 823.5L1680.3 818.0L1687.4 818.0L1690.9 823.5L1687.4 829.1L1680.3 829.1ZM1687.4 706.5L1690.9 700.9L1698.1 700.9L1701.6 706.5L1698.1 712.1L1690.9 712.1ZM1687.4 851.4L1690.9 845.8L1698.1 845.8L1701.6 851.4L1698.1 857.0L1690.9 857.0ZM1698.1 678.6L1701.6 673.0L1708.7 673.0L1712.3 678.6L1708.7 684.2L1701.6 684.2ZM1708.7 684.2L1712.3 678.6L1719.4 678.6L1723.0 684.2L1719.4 689.8L1712.3 689.8ZM1719.4 678.6L1723.0 673.0L1730.1 673.0L1733.6 678.6L1730.1 684.2L1723.0 684.2ZM1719.4 689.8L1723.0 684.2L1730.1 684.2L1733.6 689.8L1730.1 695.3L1723.0 695.3ZM1740.7 622.9L1744.3 617.3L1751.4 617.3L1755.0 622.9L1751.4 628.5L1744.3 628.5ZM1740.7 689.8L1744.3 684.2L1751.4 684.2L1755.0 689.8L1751.4 695.3L1744.3 695.3Z" fill="#7ab2d4" stroke="#7ab2d4" stroke-width="0.6"/>
<path d="M1602.0 784.5L1605.6 779.0L1612.7 779.0L1616.2 784.5L1612.7 790.1L1605.6 790.1ZM1623.3 840.3L1626.9 834.7L1634.0 834.7L1637.6 840.3L1634.0 845.8L1626.9 845.8ZM1634.0 779.0L1637.6 773.4L1644.7 773.4L1648.3 779.0L1644.7 784.5L1637.6 784.5ZM1634.0 801.2L1637.6 795.7L1644.7 795.7L1648.3 801.2L1644.7 806.8L1637.6 806.8ZM1655.4 767.8L1658.9 762.2L1666.0 762.2L1669.6 767.8L1666.0 773.4L1658.9 773.4ZM1666.0 762.2L1669.6 756.7L1676.7 756.7L1680.3 762.2L1676.7 767.8L1669.6 767.8ZM1676.7 812.4L1680.3 806.8L1687.4 806.8L1690.9 812.4L1687.4 818.0L1680.3 818.0ZM1698.1 779.0L1701.6 773.4L1708.7 773.4L1712.3 779.0L1708.7 784.5L1701.6 784.5ZM1698.1 801.2L1701.6 795.7L1708.7 795.7L1712.3 801.2L1708.7 806.8L1701.6 806.8ZM1698.1 834.7L1701.6 829.1L1708.7 829.1L1712.3 834.7L1708.7 840.3L1701.6 840.3ZM1708.7 784.5L1712.3 779.0L1719.4 779.0L1723.0 784.5L1719.4 790.1L1712.3 790.1ZM1708.7 795.7L1712.3 790.1L1719.4 790.1L1723.0 795.7L1719.4 801.2L1712.3 801.2ZM1708.7 818.0L1712.3 812.4L1719.4 812.4L1723.0 818.0L1719.4 823.5L1712.3 823.5ZM1708.7 829.1L1712.3 823.5L1719.4 823.5L1723.0 829.1L1719.4 834.7L1712.3 834.7ZM1708.7 840.3L1712.3 834.7L1719.4 834.7L1723.0 840.3L1719.4 845.8L1712.3 845.8ZM1719.4 801.2L1723.0 795.7L1730.1 795.7L1733.6 801.2L1730.1 806.8L1723.0 806.8ZM1719.4 812.4L1723.0 806.8L1730.1 806.8L1733.6 812.4L1730.1 818.0L1723.0 818.0ZM1719.4 823.5L1723.0 818.0L1730.1 818.0L1733.6 823.5L1730.1 829.1L1723.0 829.1ZM1719.4 834.7L1723.0 829.1L1730.1 829.1L1733.6 834.7L1730.1 840.3L1723.0 840.3ZM1730.1 818.0L1733.6 812.4L1740.7 812.4L1744.3 818.0L1740.7 823.5L1733.6 823.5ZM1730.1 829.1L1733.6 823.5L1740.7 823.5L1744.3 829.1L1740.7 834.7L1733.6 834.7ZM1740.7 611.7L1744.3 606.2L1751.4 606.2L1755.0 611.7L1751.4 617.3L1744.3 617.3Z" fill="#f57446" stroke="#f57446" stroke-width="0.6"/>
<path d="M1602.0 795.7L1605.6 790.1L1612.7 790.1L1616.2 795.7L1612.7 801.2L1605.6 801.2ZM1612.7 678.6L1616.2 673.0L1623.3 673.0L1626.9 678.6L1623.3 684.2L1616.2 684.2ZM1612.7 689.8L1616.2 684.2L1623.3 684.2L1626.9 689.8L1623.3 695.3L1616.2 695.3ZM1612.7 790.1L1616.2 784.5L1623.3 784.5L1626.9 790.1L1623.3 795.7L1616.2 795.7ZM1623.3 673.0L1626.9 667.5L1634.0 667.5L1637.6 673.0L1634.0 678.6L1626.9 678.6ZM1623.3 717.6L1626.9 712.1L1634.0 712.1L1637.6 717.6L1634.0 723.2L1626.9 723.2ZM1644.7 806.8L1648.3 801.2L1655.4 801.2L1658.9 806.8L1655.4 812.4L1648.3 812.4ZM1644.7 818.0L1648.3 812.4L1655.4 812.4L1658.9 818.0L1655.4 823.5L1648.3 823.5ZM1655.4 734.4L1658.9 728.8L1666.0 728.8L1669.6 734.4L1666.0 739.9L1658.9 739.9ZM1655.4 823.5L1658.9 818.0L1666.0 818.0L1669.6 823.5L1666.0 829.1L1658.9 829.1ZM1687.4 639.6L1690.9 634.0L1698.1 634.0L1701.6 639.6L1698.1 645.2L1690.9 645.2ZM1698.1 611.7L1701.6 606.2L1708.7 606.2L1712.3 611.7L1708.7 617.3L1701.6 617.3ZM1698.1 689.8L1701.6 684.2L1708.7 684.2L1712.3 689.8L1708.7 695.3L1701.6 695.3ZM1698.1 700.9L1701.6 695.3L1708.7 695.3L1712.3 700.9L1708.7 706.5L1701.6 706.5ZM1698.1 756.7L1701.6 751.1L1708.7 751.1L1712.3 756.7L1708.7 762.2L1701.6 762.2ZM1698.1 790.1L1701.6 784.5L1708.7 784.5L1712.3 790.1L1708.7 795.7L1701.6 795.7ZM1708.7 650.8L1712.3 645.2L1719.4 645.2L1723.0 650.8L1719.4 656.3L1712.3 656.3ZM1708.7 661.9L1712.3 656.3L1719.4 656.3L1723.0 661.9L1719.4 667.5L1712.3 667.5ZM1708.7 851.4L1712.3 845.8L1719.4 845.8L1723.0 851.4L1719.4 857.0L1712.3 857.0ZM1719.4 667.5L1723.0 661.9L1730.1 661.9L1733.6 667.5L1730.1 673.0L1723.0 673.0ZM1730.1 739.9L1733.6 734.4L1740.7 734.4L1744.3 739.9L1740.7 745.5L1733.6 745.5ZM1730.1 851.4L1733.6 845.8L1740.7 845.8L1744.3 851.4L1740.7 857.0L1733.6 857.0ZM1740.7 678.6L1744.3 673.0L1751.4 673.0L1755.0 678.6L1751.4 684.2L1744.3 684.2ZM1740.7 723.2L1744.3 717.6L1751.4 717.6L1755.0 723.2L1751.4 728.8L1744.3 728.8ZM1740.7 779.0L1744.3 773.4L1751.4 773.4L1755.0 779.0L1751.4 784.5L1744.3 784.5ZM1740.7 845.8L1744.3 840.3L1751.4 840.3L1755.0 845.8L1751.4 851.4L1744.3 851.4Z" fill="#fee79a" stroke="#fee79a" stroke-width="0.6"/>
<path d="M1602.0 806.8L1605.6 801.2L1612.7 801.2L1616.2 806.8L1612.7 812.4L1605.6 812.4ZM1602.0 840.3L1605.6 834.7L1612.7 834.7L1616.2 840.3L1612.7 845.8L1605.6 845.8ZM1612.7 779.0L1616.2 773.4L1623.3 773.4L1626.9 779.0L1623.3 784.5L1616.2 784.5ZM1644.7 728.8L1648.3 723.2L1655.4 723.2L1658.9 728.8L1655.4 734.4L1648.3 734.4ZM1687.4 784.5L1690.9 779.0L1698.1 779.0L1701.6 784.5L1698.1 790.1L1690.9 790.1ZM1687.4 829.1L1690.9 823.5L1698.1 823.5L1701.6 829.1L1698.1 834.7L1690.9 834.7ZM1708.7 739.9L1712.3 734.4L1719.4 734.4L1723.0 739.9L1719.4 745.5L1712.3 745.5ZM1730.1 806.8L1733.6 801.2L1740.7 801.2L1744.3 806.8L1740.7 812.4L1733.6 812.4ZM1730.1 840.3L1733.6 834.7L1740.7 834.7L1744.3 840.3L1740.7 845.8L1733.6 845.8ZM1740.7 801.2L1744.3 795.7L1751.4 795.7L1755.0 801.2L1751.4 806.8L1744.3 806.8ZM1740.7 834.7L1744.3 829.1L1751.4 829.1L1755.0 834.7L1751.4 840.3L1744.3 840.3Z" fill="#d93328" stroke="#d93328" stroke-width="0.6"/>
<path d="M1602.0 818.0L1605.6 812.4L1612.7 812.4L1616.2 818.0L1612.7 823.5L1605.6 823.5ZM1602.0 829.1L1605.6 823.5L1612.7 823.5L1616.2 829.1L1612.7 834.7L1605.6 834.7ZM1612.7 801.2L1616.2 795.7L1623.3 795.7L1626.9 801.2L1623.3 806.8L1616.2 806.8ZM1612.7 812.4L1616.2 806.8L1623.3 806.8L1626.9 812.4L1623.3 818.0L1616.2 818.0ZM1612.7 823.5L1616.2 818.0L1623.3 818.0L1626.9 823.5L1623.3 829.1L1616.2 829.1ZM1623.3 728.8L1626.9 723.2L1634.0 723.2L1637.6 728.8L1634.0 734.4L1626.9 734.4ZM1623.3 806.8L1626.9 801.2L1634.0 801.2L1637.6 806.8L1634.0 812.4L1626.9 812.4ZM1623.3 818.0L1626.9 812.4L1634.0 812.4L1637.6 818.0L1634.0 823.5L1626.9 823.5ZM1623.3 829.1L1626.9 823.5L1634.0 823.5L1637.6 829.1L1634.0 834.7L1626.9 834.7ZM1634.0 812.4L1637.6 806.8L1644.7 806.8L1648.3 812.4L1644.7 818.0L1637.6 818.0ZM1634.0 823.5L1637.6 818.0L1644.7 818.0L1648.3 823.5L1644.7 829.1L1637.6 829.1ZM1634.0 834.7L1637.6 829.1L1644.7 829.1L1648.3 834.7L1644.7 840.3L1637.6 840.3ZM1708.7 806.8L1712.3 801.2L1719.4 801.2L1723.0 806.8L1719.4 812.4L1712.3 812.4ZM1719.4 656.3L1723.0 650.8L1730.1 650.8L1733.6 656.3L1730.1 661.9L1723.0 661.9ZM1740.7 712.1L1744.3 706.5L1751.4 706.5L1755.0 712.1L1751.4 717.6L1744.3 717.6ZM1740.7 812.4L1744.3 806.8L1751.4 806.8L1755.0 812.4L1751.4 818.0L1744.3 818.0ZM1740.7 823.5L1744.3 818.0L1751.4 818.0L1755.0 823.5L1751.4 829.1L1744.3 829.1Z" fill="#a51c2c" stroke="#a51c2c" stroke-width="0.6"/>
<path d="M1623.3 617.3L1626.9 611.7L1634.0 611.7L1637.6 617.3L1634.0 622.9L1626.9 622.9ZM1634.0 622.9L1637.6 617.3L1644.7 617.3L1648.3 622.9L1644.7 628.5L1637.6 628.5ZM1634.0 645.2L1637.6 639.6L1644.7 639.6L1648.3 645.2L1644.7 650.8L1637.6 650.8ZM1644.7 639.6L1648.3 634.0L1655.4 634.0L1658.9 639.6L1655.4 645.2L1648.3 645.2ZM1644.7 650.8L1648.3 645.2L1655.4 645.2L1658.9 650.8L1655.4 656.3L1648.3 656.3ZM1644.7 717.6L1648.3 712.1L1655.4 712.1L1658.9 717.6L1655.4 723.2L1648.3 723.2ZM1644.7 784.5L1648.3 779.0L1655.4 779.0L1658.9 784.5L1655.4 790.1L1648.3 790.1ZM1644.7 851.4L1648.3 845.8L1655.4 845.8L1658.9 851.4L1655.4 857.0L1648.3 857.0ZM1655.4 634.0L1658.9 628.5L1666.0 628.5L1669.6 634.0L1666.0 639.6L1658.9 639.6ZM1655.4 645.2L1658.9 639.6L1666.0 639.6L1669.6 645.2L1666.0 650.8L1658.9 650.8ZM1655.4 712.1L1658.9 706.5L1666.0 706.5L1669.6 712.1L1666.0 717.6L1658.9 717.6ZM1655.4 723.2L1658.9 717.6L1666.0 717.6L1669.6 723.2L1666.0 728.8L1658.9 728.8ZM1655.4 845.8L1658.9 840.3L1666.0 840.3L1669.6 845.8L1666.0 851.4L1658.9 851.4ZM1666.0 673.0L1669.6 667.5L1676.7 667.5L1680.3 673.0L1676.7 678.6L1669.6 678.6ZM1666.0 684.2L1669.6 678.6L1676.7 678.6L1680.3 684.2L1676.7 689.8L1669.6 689.8ZM1666.0 784.5L1669.6 779.0L1676.7 779.0L1680.3 784.5L1676.7 790.1L1669.6 790.1ZM1676.7 801.2L1680.3 795.7L1687.4 795.7L1690.9 801.2L1687.4 806.8L1680.3 806.8ZM1687.4 762.2L1690.9 756.7L1698.1 756.7L1701.6 762.2L1698.1 767.8L1690.9 767.8ZM1719.4 767.8L1723.0 762.2L1730.1 762.2L1733.6 767.8L1730.1 773.4L1723.0 773.4ZM1740.7 767.8L1744.3 762.2L1751.4 762.2L1755.0 767.8L1751.4 773.4L1744.3 773.4Z" fill="#4778b6" stroke="#4778b6" stroke-width="0.6"/>
<path d="M1623.3 661.9L1626.9 656.3L1634.0 656.3L1637.6 661.9L1634.0 667.5L1626.9 667.5ZM1634.0 634.0L1637.6 628.5L1644.7 628.5L1648.3 634.0L1644.7 639.6L1637.6 639.6ZM1634.0 700.9L1637.6 695.3L1644.7 695.3L1648.3 700.9L1644.7 706.5L1637.6 706.5ZM1644.7 695.3L1648.3 689.8L1655.4 689.8L1658.9 695.3L1655.4 700.9L1648.3 700.9ZM1666.0 650.8L1669.6 645.2L1676.7 645.2L1680.3 650.8L1676.7 656.3L1669.6 656.3ZM1666.0 695.3L1669.6 689.8L1676.7 689.8L1680.3 695.3L1676.7 700.9L1669.6 700.9ZM1676.7 645.2L1680.3 639.6L1687.4 639.6L1690.9 645.2L1687.4 650.8L1680.3 650.8ZM1676.7 734.4L1680.3 728.8L1687.4 728.8L1690.9 734.4L1687.4 739.9L1680.3 739.9ZM1676.7 745.5L1680.3 739.9L1687.4 739.9L1690.9 745.5L1687.4 751.1L1680.3 751.1ZM1687.4 673.0L1690.9 667.5L1698.1 667.5L1701.6 673.0L1698.1 678.6L1690.9 678.6ZM1687.4 717.6L1690.9 712.1L1698.1 712.1L1701.6 717.6L1698.1 723.2L1690.9 723.2ZM1687.4 728.8L1690.9 723.2L1698.1 723.2L1701.6 728.8L1698.1 734.4L1690.9 734.4ZM1687.4 739.9L1690.9 734.4L1698.1 734.4L1701.6 739.9L1698.1 745.5L1690.9 745.5ZM1698.1 845.8L1701.6 840.3L1708.7 840.3L1712.3 845.8L1708.7 851.4L1701.6 851.4ZM1708.7 628.5L1712.3 622.9L1719.4 622.9L1723.0 628.5L1719.4 634.0L1712.3 634.0ZM1719.4 712.1L1723.0 706.5L1730.1 706.5L1733.6 712.1L1730.1 717.6L1723.0 717.6ZM1719.4 734.4L1723.0 728.8L1730.1 728.8L1733.6 734.4L1730.1 739.9L1723.0 739.9ZM1730.1 617.3L1733.6 611.7L1740.7 611.7L1744.3 617.3L1740.7 622.9L1733.6 622.9ZM1730.1 628.5L1733.6 622.9L1740.7 622.9L1744.3 628.5L1740.7 634.0L1733.6 634.0ZM1730.1 706.5L1733.6 700.9L1740.7 700.9L1744.3 706.5L1740.7 712.1L1733.6 712.1ZM1730.1 728.8L1733.6 723.2L1740.7 723.2L1744.3 728.8L1740.7 734.4L1733.6 734.4ZM1740.7 634.0L1744.3 628.5L1751.4 628.5L1755.0 634.0L1751.4 639.6L1744.3 639.6ZM1740.7 734.4L1744.3 728.8L1751.4 728.8L1755.0 734.4L1751.4 739.9L1744.3 739.9ZM1740.7 745.5L1744.3 739.9L1751.4 739.9L1755.0 745.5L1751.4 751.1L1744.3 751.1Z" fill="#e7f6ec" stroke="#e7f6ec" stroke-width="0.6"/>
<path d="M1644.7 617.3L1648.3 611.7L1655.4 611.7L1658.9 617.3L1655.4 622.9L1648.3 622.9ZM1644.7 628.5L1648.3 622.9L1655.4 622.9L1658.9 628.5L1655.4 634.0L1648.3 634.0ZM1644.7 829.1L1648.3 823.5L1655.4 823.5L1658.9 829.1L1655.4 834.7L1648.3 834.7ZM1644.7 840.3L1648.3 834.7L1655.4 834.7L1658.9 840.3L1655.4 845.8L1648.3 845.8ZM1655.4 611.7L1658.9 606.2L1666.0 606.2L1669.6 611.7L1666.0 617.3L1658.9 617.3ZM1655.4 622.9L1658.9 617.3L1666.0 617.3L1669.6 622.9L1666.0 628.5L1658.9 628.5ZM1655.4 656.3L1658.9 650.8L1666.0 650.8L1669.6 656.3L1666.0 661.9L1658.9 661.9ZM1655.4 834.7L1658.9 829.1L1666.0 829.1L1669.6 834.7L1666.0 840.3L1658.9 840.3ZM1666.0 617.3L1669.6 611.7L1676.7 611.7L1680.3 617.3L1676.7 622.9L1669.6 622.9ZM1666.0 840.3L1669.6 834.7L1676.7 834.7L1680.3 840.3L1676.7 845.8L1669.6 845.8ZM1666.0 851.4L1669.6 845.8L1676.7 845.8L1680.3 851.4L1676.7 857.0L1669.6 857.0ZM1676.7 712.1L1680.3 706.5L1687.4 706.5L1690.9 712.1L1687.4 717.6L1680.3 717.6ZM1676.7 790.1L1680.3 784.5L1687.4 784.5L1690.9 790.1L1687.4 795.7L1680.3 795.7ZM1676.7 834.7L1680.3 829.1L1687.4 829.1L1690.9 834.7L1687.4 840.3L1680.3 840.3ZM1676.7 845.8L1680.3 840.3L1687.4 840.3L1690.9 845.8L1687.4 851.4L1680.3 851.4ZM1698.1 622.9L1701.6 617.3L1708.7 617.3L1712.3 622.9L1708.7 628.5L1701.6 628.5ZM1708.7 695.3L1712.3 689.8L1719.4 689.8L1723.0 695.3L1719.4 700.9L1712.3 700.9Z" fill="#313695" stroke="#313695" stroke-width="0.6"/>
<path d="M1602.0 617.3L1605.6 611.7M1605.6 611.7L1612.7 611.7M1602.0 617.3L1605.6 622.9M1602.0 628.5L1605.6 622.9M1602.0 628.5L1605.6 634.0M1602.0 639.6L1605.6 634.0M1602.0 639.6L1605.6 645.2M1602.0 650.8L1605.6 645.2M1602.0 650.8L1605.6 656.3M1602.0 661.9L1605.6 656.3M1602.0 661.9L1605.6 667.5M1602.0 673.0L1605.6 667.5M1602.0 673.0L1605.6 678.6M1602.0 684.2L1605.6 678.6M1602.0 684.2L1605.6 689.8M1602.0 695.3L1605.6 689.8M1602.0 695.3L1605.6 700.9M1602.0 706.5L1605.6 700.9M1602.0 706.5L1605.6 712.1M1602.0 717.6L1605.6 712.1M1602.0 717.6L1605.6 723.2M1602.0 728.8L1605.6 723.2M1602.0 728.8L1605.6 734.4M1602.0 739.9L1605.6 734.4M1602.0 739.9L1605.6 745.5M1602.0 751.1L1605.6 745.5M1602.0 751.1L1605.6 756.7M1602.0 762.2L1605.6 756.7M1602.0 762.2L1605.6 767.8M1602.0 773.4L1605.6 767.8M1602.0 773.4L1605.6 779.0M1602.0 784.5L1605.6 779.0M1602.0 784.5L1605.6 790.1M1602.0 795.7L1605.6 790.1M1602.0 795.7L1605.6 801.2M1602.0 806.8L1605.6 801.2M1602.0 806.8L1605.6 812.4M1602.0 818.0L1605.6 812.4M1602.0 818.0L1605.6 823.5M1602.0 829.1L1605.6 823.5M1602.0 829.1L1605.6 834.7M1602.0 840.3L1605.6 834.7M1602.0 840.3L1605.6 845.8M1602.0 851.4L1605.6 845.8M1612.7 857.0L1616.2 851.4M1605.6 857.0L1612.7 857.0M1602.0 851.4L1605.6 857.0M1612.7 611.7L1616.2 606.2M1616.2 606.2L1623.3 606.2M1623.3 606.2L1626.9 611.7M1616.2 851.4L1623.3 851.4M1626.9 611.7L1634.0 611.7M1634.0 857.0L1637.6 851.4M1626.9 857.0L1634.0 857.0M1623.3 851.4L1626.9 857.0M1634.0 611.7L1637.6 606.2M1637.6 606.2L1644.7 606.2M1644.7 606.2L1648.3 611.7M1637.6 851.4L1644.7 851.4M1648.3 611.7L1655.4 611.7M1655.4 857.0L1658.9 851.4M1648.3 857.0L1655.4 857.0M1644.7 851.4L1648.3 857.0M1655.4 611.7L1658.9 606.2M1658.9 606.2L1666.0 606.2M1666.0 606.2L1669.6 611.7M1658.9 851.4L1666.0 851.4M1669.6 611.7L1676.7 611.7M1676.7 857.0L1680.3 851.4M1669.6 857.0L1676.7 857.0M1666.0 851.4L1669.6 857.0M1676.7 611.7L1680.3 606.2M1680.3 606.2L1687.4 606.2M1687.4 606.2L1690.9 611.7M1680.3 851.4L1687.4 851.4M1690.9 611.7L1698.1 611.7M1698.1 857.0L1701.6 851.4M1690.9 857.0L1698.1 857.0M1687.4 851.4L1690.9 857.0M1698.1 611.7L1701.6 606.2M1701.6 606.2L1708.7 606.2M1708.7 606.2L1712.3 611.7M1701.6 851.4L1708.7 851.4M1712.3 611.7L1719.4 611.7M1719.4 857.0L1723.0 851.4M1712.3 857.0L1719.4 857.0M1708.7 851.4L1712.3 857.0M1719.4 611.7L1723.0 606.2M1723.0 606.2L1730.1 606.2M1730.1 606.2L1733.6 611.7M1723.0 851.4L1730.1 851.4M1733.6 611.7L1740.7 611.7M1740.7 857.0L1744.3 851.4M1733.6 857.0L1740.7 857.0M1730.1 851.4L1733.6 857.0M1740.7 611.7L1744.3 606.2M1744.3 606.2L1751.4 606.2M1751.4 606.2L1755.0 611.7M1751.4 617.3L1755.0 611.7M1751.4 617.3L1755.0 622.9M1751.4 628.5L1755.0 622.9M1751.4 628.5L1755.0 634.0M1751.4 639.6L1755.0 634.0M1751.4 639.6L1755.0 645.2M1751.4 650.8L1755.0 645.2M1751.4 650.8L1755.0 656.3M1751.4 661.9L1755.0 656.3M1751.4 661.9L1755.0 667.5M1751.4 673.0L1755.0 667.5M1751.4 673.0L1755.0 678.6M1751.4 684.2L1755.0 678.6M1751.4 684.2L1755.0 689.8M1751.4 695.3L1755.0 689.8M1751.4 695.3L1755.0 700.9M1751.4 706.5L1755.0 700.9M1751.4 706.5L1755.0 712.1M1751.4 717.6L1755.0 712.1M1751.4 717.6L1755.0 723.2M1751.4 728.8L1755.0 723.2M1751.4 728.8L1755.0 734.4M1751.4 739.9L1755.0 734.4M1751.4 739.9L1755.0 745.5M1751.4 751.1L1755.0 745.5M1751.4 751.1L1755.0 756.7M1751.4 762.2L1755.0 756.7M1751.4 762.2L1755.0 767.8M1751.4 773.4L1755.0 767.8M1751.4 773.4L1755.0 779.0M1751.4 784.5L1755.0 779.0M1751.4 784.5L1755.0 790.1M1751.4 795.7L1755.0 790.1M1751.4 795.7L1755.0 801.2M1751.4 806.8L1755.0 801.2M1751.4 806.8L1755.0 812.4M1751.4 818.0L1755.0 812.4M1751.4 818.0L1755.0 823.5M1751.4 829.1L1755.0 823.5M1751.4 829.1L1755.0 834.7M1751.4 840.3L1755.0 834.7M1751.4 840.3L1755.0 845.8M1751.4 851.4L1755.0 845.8M1744.3 851.4L1751.4 851.4" fill="none" stroke="#111" stroke-width="1.3" stroke-linecap="round"/>
<line x1="1583.70" y1="732.60" x2="1595.80" y2="732.60" stroke="#111" stroke-width="2.0"/>
<path d="M1590.00 728.30L1598.80 732.60L1590.00 736.90L1592.20 732.60Z" fill="#111"/>
<rect x="1773.00" y="608.00" width="16.00" height="250.30" fill="url(#gbv)" stroke="#1a1a22" stroke-width="1.4"/>
<text x="1780.00" y="602.60" font-size="16" text-anchor="middle" stroke="#1c1c1c" stroke-width="0.25" fill="#1c1c1c">1</text>
<text x="1780.00" y="878.40" font-size="16" text-anchor="middle" stroke="#1c1c1c" stroke-width="0.25" fill="#1c1c1c">0</text>
<text x="1799.90" y="733.00" font-size="17.7" text-anchor="middle" stroke="#1c1c1c" stroke-width="0.25" fill="#1c1c1c" transform="rotate(90 1799.90 733.00)">Fraction of Modules Bound</text>
<text x="1489.40" y="883.50" font-size="17.9" text-anchor="middle" stroke="#1c1c1c" stroke-width="0.25" fill="#1c1c1c">Raw Peak Counts</text>
<text x="1675.90" y="883.50" font-size="17.9" text-anchor="middle" stroke="#1c1c1c" stroke-width="0.25" fill="#1c1c1c">Matched Peak Counts</text>
<path d="M70.60 911.10h18.90v2.10h-18.90zM70.60 913.05h18.90v2.10h-18.90zM70.60 914.99h18.90v2.10h-18.90zM70.60 916.94h18.90v2.10h-18.90zM70.60 918.88h18.90v2.10h-18.90zM70.60 1010.35h18.90v2.10h-18.90zM70.60 1012.30h18.90v2.10h-18.90zM70.60 1014.24h18.90v2.10h-18.90zM70.60 1016.19h18.90v2.10h-18.90zM70.60 1018.14h18.90v2.10h-18.90zM70.60 1020.08h18.90v2.10h-18.90zM70.60 1022.03h18.90v2.10h-18.90zM70.60 1074.57h18.90v2.10h-18.90zM70.60 1076.52h18.90v2.10h-18.90zM70.60 1078.47h18.90v2.10h-18.90zM70.60 1080.41h18.90v2.10h-18.90zM70.60 1082.36h18.90v2.10h-18.90zM70.60 1084.30h18.90v2.10h-18.90z" fill="#ffffff"/>
<path d="M70.60 920.83h18.90v2.10h-18.90zM70.60 932.51h18.90v2.10h-18.90zM70.60 942.24h18.90v2.10h-18.90zM70.60 948.08h18.90v2.10h-18.90zM70.60 950.02h18.90v2.10h-18.90zM70.60 992.84h18.90v2.10h-18.90zM70.60 1004.51h18.90v2.10h-18.90zM70.60 1115.44h18.90v2.10h-18.90zM70.60 1117.39h18.90v2.10h-18.90zM70.60 1171.88h18.90v2.10h-18.90z" fill="#b3ddeb"/>
<path d="M70.60 922.78h18.90v2.10h-18.90zM70.60 1029.81h18.90v2.10h-18.90zM70.60 1035.65h18.90v2.10h-18.90zM70.60 1173.83h18.90v2.10h-18.90zM70.60 1189.39h18.90v2.10h-18.90zM70.60 1191.34h18.90v2.10h-18.90z" fill="#97c9e0"/>
<path d="M70.60 924.72h18.90v2.10h-18.90zM70.60 983.11h18.90v2.10h-18.90zM70.60 1045.38h18.90v2.10h-18.90zM70.60 1047.33h18.90v2.10h-18.90zM70.60 1249.72h18.90v2.10h-18.90zM70.60 1251.67h18.90v2.10h-18.90zM70.60 1253.62h18.90v2.10h-18.90zM70.60 1255.56h18.90v2.10h-18.90zM70.60 1257.51h18.90v2.10h-18.90z" fill="#313695"/>
<path d="M70.60 926.67h18.90v2.10h-18.90zM70.60 940.29h18.90v2.10h-18.90zM70.60 1119.33h18.90v2.10h-18.90z" fill="#cfebf3"/>
<path d="M70.60 928.62h18.90v2.10h-18.90zM70.60 930.56h18.90v2.10h-18.90zM70.60 985.05h18.90v2.10h-18.90zM70.60 1000.62h18.90v2.10h-18.90zM70.60 1027.87h18.90v2.10h-18.90zM70.60 1033.71h18.90v2.10h-18.90zM70.60 1037.60h18.90v2.10h-18.90zM70.60 1041.49h18.90v2.10h-18.90zM70.60 1049.27h18.90v2.10h-18.90zM70.60 1099.87h18.90v2.10h-18.90zM70.60 1193.29h18.90v2.10h-18.90z" fill="#4778b6"/>
<path d="M70.60 934.45h18.90v2.10h-18.90zM70.60 996.73h18.90v2.10h-18.90zM70.60 1006.46h18.90v2.10h-18.90zM70.60 1008.41h18.90v2.10h-18.90zM70.60 1025.92h18.90v2.10h-18.90zM70.60 1031.76h18.90v2.10h-18.90zM70.60 1097.93h18.90v2.10h-18.90zM70.60 1177.72h18.90v2.10h-18.90z" fill="#6095c5"/>
<path d="M70.60 936.40h18.90v2.10h-18.90zM70.60 963.64h18.90v2.10h-18.90zM70.60 969.48h18.90v2.10h-18.90zM70.60 971.43h18.90v2.10h-18.90zM70.60 1103.77h18.90v2.10h-18.90zM70.60 1105.71h18.90v2.10h-18.90zM70.60 1107.66h18.90v2.10h-18.90zM70.60 1111.55h18.90v2.10h-18.90zM70.60 1113.50h18.90v2.10h-18.90zM70.60 1150.47h18.90v2.10h-18.90zM70.60 1166.04h18.90v2.10h-18.90z" fill="#f7fcce"/>
<path d="M70.60 938.35h18.90v2.10h-18.90z" fill="#e7f6ec"/>
<path d="M70.60 944.18h18.90v2.10h-18.90zM70.60 953.91h18.90v2.10h-18.90zM70.60 1185.50h18.90v2.10h-18.90zM70.60 1210.80h18.90v2.10h-18.90zM70.60 1216.64h18.90v2.10h-18.90zM70.60 1228.32h18.90v2.10h-18.90zM70.60 1234.15h18.90v2.10h-18.90zM70.60 1239.99h18.90v2.10h-18.90zM70.60 1241.94h18.90v2.10h-18.90zM70.60 1243.89h18.90v2.10h-18.90z" fill="#d93328"/>
<path d="M70.60 946.13h18.90v2.10h-18.90zM70.60 955.86h18.90v2.10h-18.90zM70.60 1068.74h18.90v2.10h-18.90zM70.60 1134.90h18.90v2.10h-18.90zM70.60 1169.93h18.90v2.10h-18.90zM70.60 1197.18h18.90v2.10h-18.90zM70.60 1199.12h18.90v2.10h-18.90zM70.60 1203.02h18.90v2.10h-18.90zM70.60 1212.75h18.90v2.10h-18.90zM70.60 1214.69h18.90v2.10h-18.90zM70.60 1222.48h18.90v2.10h-18.90zM70.60 1224.42h18.90v2.10h-18.90zM70.60 1232.21h18.90v2.10h-18.90z" fill="#e85337"/>
<path d="M70.60 951.97h18.90v2.10h-18.90zM70.60 1051.22h18.90v2.10h-18.90zM70.60 1055.11h18.90v2.10h-18.90zM70.60 1059.00h18.90v2.10h-18.90zM70.60 1090.14h18.90v2.10h-18.90zM70.60 1095.98h18.90v2.10h-18.90zM70.60 1144.63h18.90v2.10h-18.90zM70.60 1148.53h18.90v2.10h-18.90zM70.60 1154.36h18.90v2.10h-18.90zM70.60 1156.31h18.90v2.10h-18.90zM70.60 1160.20h18.90v2.10h-18.90zM70.60 1206.91h18.90v2.10h-18.90z" fill="#fa9656"/>
<path d="M70.60 957.81h18.90v2.10h-18.90zM70.60 1070.68h18.90v2.10h-18.90zM70.60 1072.63h18.90v2.10h-18.90zM70.60 1125.17h18.90v2.10h-18.90zM70.60 1131.01h18.90v2.10h-18.90zM70.60 1158.26h18.90v2.10h-18.90zM70.60 1162.15h18.90v2.10h-18.90zM70.60 1201.07h18.90v2.10h-18.90zM70.60 1204.96h18.90v2.10h-18.90zM70.60 1208.86h18.90v2.10h-18.90zM70.60 1226.37h18.90v2.10h-18.90z" fill="#f57446"/>
<path d="M70.60 959.75h18.90v2.10h-18.90zM70.60 961.70h18.90v2.10h-18.90zM70.60 965.59h18.90v2.10h-18.90zM70.60 1101.82h18.90v2.10h-18.90zM70.60 1109.60h18.90v2.10h-18.90zM70.60 1121.28h18.90v2.10h-18.90zM70.60 1138.80h18.90v2.10h-18.90zM70.60 1146.58h18.90v2.10h-18.90zM70.60 1152.42h18.90v2.10h-18.90zM70.60 1164.09h18.90v2.10h-18.90zM70.60 1167.99h18.90v2.10h-18.90zM70.60 1181.61h18.90v2.10h-18.90z" fill="#fff7b3"/>
<path d="M70.60 967.54h18.90v2.10h-18.90zM70.60 973.38h18.90v2.10h-18.90zM70.60 975.32h18.90v2.10h-18.90zM70.60 987.00h18.90v2.10h-18.90zM70.60 988.94h18.90v2.10h-18.90zM70.60 1053.17h18.90v2.10h-18.90zM70.60 1086.25h18.90v2.10h-18.90zM70.60 1092.09h18.90v2.10h-18.90zM70.60 1123.23h18.90v2.10h-18.90zM70.60 1179.66h18.90v2.10h-18.90zM70.60 1183.56h18.90v2.10h-18.90z" fill="#fee79a"/>
<path d="M70.60 977.27h18.90v2.10h-18.90zM70.60 981.16h18.90v2.10h-18.90zM70.60 1060.95h18.90v2.10h-18.90zM70.60 1062.90h18.90v2.10h-18.90zM70.60 1064.84h18.90v2.10h-18.90zM70.60 1066.79h18.90v2.10h-18.90zM70.60 1088.20h18.90v2.10h-18.90zM70.60 1094.03h18.90v2.10h-18.90zM70.60 1132.96h18.90v2.10h-18.90zM70.60 1136.85h18.90v2.10h-18.90zM70.60 1140.74h18.90v2.10h-18.90zM70.60 1142.69h18.90v2.10h-18.90z" fill="#fdb668"/>
<path d="M70.60 979.21h18.90v2.10h-18.90zM70.60 990.89h18.90v2.10h-18.90zM70.60 1057.06h18.90v2.10h-18.90zM70.60 1236.10h18.90v2.10h-18.90zM70.60 1238.05h18.90v2.10h-18.90z" fill="#fed081"/>
<path d="M70.60 994.78h18.90v2.10h-18.90zM70.60 1002.57h18.90v2.10h-18.90zM70.60 1023.97h18.90v2.10h-18.90zM70.60 1175.77h18.90v2.10h-18.90zM70.60 1187.45h18.90v2.10h-18.90zM70.60 1195.23h18.90v2.10h-18.90z" fill="#7ab2d4"/>
<path d="M70.60 998.68h18.90v2.10h-18.90zM70.60 1039.54h18.90v2.10h-18.90zM70.60 1043.44h18.90v2.10h-18.90zM70.60 1245.83h18.90v2.10h-18.90zM70.60 1247.78h18.90v2.10h-18.90zM70.60 1259.45h18.90v2.10h-18.90z" fill="#3c57a5"/>
<path d="M70.60 1127.12h18.90v2.10h-18.90zM70.60 1218.59h18.90v2.10h-18.90zM70.60 1220.53h18.90v2.10h-18.90zM70.60 1230.26h18.90v2.10h-18.90z" fill="#bf2729"/>
<path d="M70.60 1129.06h18.90v2.10h-18.90z" fill="#a51c2c"/>
<rect x="70.60" y="911.10" width="18.90" height="350.30" fill="none" stroke="#111" stroke-width="1.7"/>
<path d="M99.5 911.1h430.7v9.9h-430.7zM99.5 922.8h430.7v23.6h-430.7zM99.5 948.1h430.7v19.7h-430.7zM99.5 973.4h430.7v19.7h-430.7zM99.5 994.8h430.7v4.1h-430.7zM99.5 1002.6h430.7v9.9h-430.7zM99.5 1014.2h430.7v19.7h-430.7zM99.5 1035.7h430.7v4.1h-430.7zM99.5 1041.5h430.7v6.0h-430.7zM99.5 1049.3h430.7v6.0h-430.7zM99.5 1059.0h430.7v8.0h-430.7zM99.5 1068.7h430.7v8.0h-430.7zM99.5 1086.2h430.7v15.8h-430.7zM99.5 1103.8h430.7v21.6h-430.7zM99.5 1129.1h430.7v6.0h-430.7zM99.5 1138.8h430.7v8.0h-430.7zM99.5 1148.5h430.7v21.6h-430.7zM99.5 1171.9h430.7v6.0h-430.7zM99.5 1179.7h430.7v4.1h-430.7zM99.5 1185.5h430.7v15.8h-430.7zM99.5 1203.0h430.7v25.5h-430.7zM99.5 1230.3h430.7v2.1h-430.7zM99.5 1234.2h430.7v4.1h-430.7zM99.5 1240.0h430.7v8.0h-430.7zM99.5 1249.7h430.7v11.9h-430.7z" fill="#b6d4ea"/>
<path d="M99.5 920.8h430.7v2.1h-430.7zM99.5 946.1h430.7v2.1h-430.7zM99.5 967.5h430.7v6.0h-430.7zM99.5 992.8h430.7v2.1h-430.7zM99.5 1012.3h430.7v2.1h-430.7zM99.5 1057.1h430.7v2.1h-430.7zM99.5 1066.8h430.7v2.1h-430.7zM99.5 1078.5h430.7v2.1h-430.7zM99.5 1084.3h430.7v2.1h-430.7zM99.5 1101.8h430.7v2.1h-430.7zM99.5 1125.2h430.7v2.1h-430.7zM99.5 1134.9h430.7v2.1h-430.7zM99.5 1201.1h430.7v2.1h-430.7zM99.5 1238.0h430.7v2.1h-430.7zM99.5 1247.8h430.7v2.1h-430.7z" fill="#a9cde7"/>
<path d="M99.5 998.7h430.7v4.1h-430.7zM99.5 1033.7h430.7v2.1h-430.7zM99.5 1039.5h430.7v2.1h-430.7zM99.5 1047.3h430.7v2.1h-430.7zM99.5 1055.1h430.7v2.1h-430.7zM99.5 1076.5h430.7v2.1h-430.7zM99.5 1080.4h430.7v4.1h-430.7zM99.5 1127.1h430.7v2.1h-430.7zM99.5 1136.8h430.7v2.1h-430.7zM99.5 1146.6h430.7v2.1h-430.7zM99.5 1169.9h430.7v2.1h-430.7zM99.5 1177.7h430.7v2.1h-430.7zM99.5 1183.6h430.7v2.1h-430.7zM99.5 1228.3h430.7v2.1h-430.7zM99.5 1232.2h430.7v2.1h-430.7z" fill="#c4dbee"/>
<path d="M112.2 916.9v2.1M112.2 990.9v2.1M112.2 1051.2v2.1M137.5 916.9v2.1M137.5 996.7v2.1M137.5 1045.4v2.1M137.5 1088.2v2.1M137.5 1117.4v2.1M137.5 1195.2v2.1M162.8 915.0v2.1M162.8 957.8v2.1M162.8 988.9v2.1M162.8 994.8v2.1M162.8 1018.1v2.1M162.8 1090.1v2.1M162.8 1111.5v2.1M162.8 1197.2v2.1M162.8 1245.8v2.1M162.8 1251.7v2.1M162.8 1259.5v2.1M188.2 928.6v2.1M188.2 961.7v2.1M188.2 973.4v2.1M188.2 994.8v4.0M188.2 1107.7v2.1M188.2 1203.0v4.0M188.2 1208.9v9.9M188.2 1226.4v2.1M188.2 1230.3v2.1M188.2 1236.1v2.1M188.2 1243.9v4.0M188.2 1251.7v2.1M188.2 1259.5v2.1M213.5 922.8v2.1M213.5 952.0v2.1M213.5 1022.0v2.1M213.5 1096.0v2.1M213.5 1111.5v2.1M213.5 1205.0v6.0M213.5 1214.7v6.0M213.5 1222.5v6.0M213.5 1230.3v2.1M213.5 1236.1v2.1M213.5 1259.5v2.1M238.8 928.6v2.1M238.8 936.4v2.1M238.8 1037.6v2.1M238.8 1101.8v2.1M238.8 1203.0v9.9M238.8 1216.6v4.0M238.8 1222.5v2.1M238.8 1226.4v2.1M238.8 1236.1v2.1M238.8 1240.0v2.1M238.8 1253.6v2.1M264.2 926.7v2.1M264.2 988.9v2.1M264.2 1020.1v2.1M264.2 1074.6v2.1M264.2 1121.3v2.1M264.2 1175.8v2.1M264.2 1179.7v2.1M264.2 1203.0v7.9M264.2 1212.7v6.0M264.2 1222.5v2.1M264.2 1226.4v2.1M264.2 1230.3v2.1M264.2 1259.5v2.1M289.5 1140.7v2.1M289.5 1173.8v2.1M289.5 1203.0v4.0M289.5 1208.9v11.8M289.5 1222.5v2.1M289.5 1259.5v2.1M314.9 952.0v2.1M314.9 1025.9v2.1M314.9 1037.6v2.1M314.9 1062.9v2.1M314.9 1099.9v2.1M314.9 1131.0v2.1M314.9 1150.5v2.1M314.9 1160.2v2.1M314.9 1203.0v6.0M314.9 1210.8v9.9M314.9 1222.5v6.0M314.9 1230.3v2.1M314.9 1234.2v4.0M314.9 1240.0v2.1M314.9 1251.7v9.9M340.2 983.1v2.1M340.2 1064.8v2.1M340.2 1152.4v2.1M340.2 1189.4v2.1M340.2 1203.0v11.8M340.2 1216.6v4.0M340.2 1224.4v4.0M340.2 1236.1v2.1M340.2 1240.0v2.1M340.2 1245.8v2.1M340.2 1249.7v2.1M340.2 1253.6v7.9M365.5 922.8v2.1M365.5 938.3v2.1M365.5 952.0v2.1M365.5 983.1v2.1M365.5 1002.6v2.1M365.5 1090.1v2.1M365.5 1129.1v2.1M365.5 1148.5v2.1M365.5 1154.4v2.1M365.5 1203.0v9.9M365.5 1214.7v2.1M365.5 1218.6v2.1M365.5 1222.5v6.0M365.5 1230.3v2.1M365.5 1238.0v4.0M365.5 1249.7v6.0M365.5 1257.5v4.0M390.9 996.7v2.1M390.9 1053.2v2.1M390.9 1121.3v2.1M390.9 1142.7v2.1M390.9 1195.2v2.1M390.9 1203.0v4.0M390.9 1210.8v9.9M390.9 1222.5v4.0M390.9 1230.3v2.1M390.9 1236.1v7.9M390.9 1245.8v2.1M390.9 1249.7v7.9M390.9 1259.5v2.1M416.2 924.7v2.1M416.2 940.3v2.1M416.2 971.4v2.1M416.2 994.8v2.1M416.2 1010.4v2.1M416.2 1107.7v2.1M416.2 1129.1v2.1M416.2 1162.1v2.1M416.2 1171.9v2.1M416.2 1203.0v17.7M416.2 1222.5v6.0M416.2 1230.3v2.1M416.2 1236.1v2.1M416.2 1240.0v2.1M416.2 1249.7v11.8M441.5 985.1v2.1M441.5 1113.5v2.1M441.5 1131.0v2.1M466.9 1053.2v2.1M492.2 940.3v2.1M492.2 961.7v2.1M492.2 965.6v2.1M492.2 1111.5v2.1M517.5 932.5v2.1" stroke="#c4dbee" stroke-width="25.49" fill="none"/>
<path d="M112.2 928.6v6.0M112.2 1031.8v2.1M112.2 1053.2v6.0M112.2 1070.7v2.1M112.2 1119.3v2.1M112.2 1134.9v2.1M137.5 938.3v2.1M137.5 1024.0v4.0M137.5 1166.0v2.1M137.5 1177.7v2.1M162.8 1119.3v6.0M162.8 1136.8v4.0M213.5 1177.7v2.1M213.5 1195.2v4.0M289.5 971.4v2.1M289.5 1027.9v4.0M441.5 1057.1v2.1M441.5 1099.9v4.0M441.5 1166.0v2.1M441.5 1232.2v7.9M441.5 1245.8v2.1M466.9 1086.2v6.0M466.9 1123.2v13.8M466.9 1255.6v4.0M492.2 911.1v4.0M492.2 1057.1v17.7M492.2 1136.8v13.8M492.2 1179.7v4.0M492.2 1187.4v11.8M492.2 1214.7v2.1M517.5 911.1v11.8M517.5 944.2v2.1M517.5 1041.5v2.1M517.5 1045.4v4.0M517.5 1059.0v4.0M517.5 1076.5v2.1M517.5 1125.2v7.9M517.5 1168.0v19.6M517.5 1222.5v6.0" stroke="#3584c2" stroke-width="25.49" fill="none"/>
<path d="M112.2 934.5v2.1M112.2 938.3v2.1M112.2 1099.9v2.1M137.5 973.4v2.1M137.5 1107.7v2.1M162.8 1125.2v11.8M162.8 1144.6v4.0M188.2 1045.4v7.9M213.5 1006.5v4.0M213.5 1181.6v6.0M238.8 953.9v2.1M314.9 985.1v2.1M441.5 1092.1v7.9M466.9 913.0v4.0M466.9 940.3v13.8M492.2 1008.4v4.0M492.2 1043.4v2.1M517.5 938.3v2.1M517.5 946.1v2.1M517.5 990.9v2.1M517.5 1022.0v2.1M517.5 1051.2v7.9M517.5 1074.6v2.1M517.5 1078.5v6.0M517.5 1094.0v2.1M517.5 1117.4v7.9M517.5 1136.8v2.1M517.5 1142.7v6.0" stroke="#2976b9" stroke-width="25.49" fill="none"/>
<path d="M112.2 936.4v2.1M112.2 1037.6v6.0M112.2 1092.1v7.9M112.2 1101.8v2.1M162.8 1117.4v2.1M162.8 1140.7v4.0M162.8 1148.5v4.0M188.2 1039.5v6.0M188.2 1053.2v9.9M213.5 1169.9v7.9M213.5 1187.4v7.9M289.5 973.4v2.1M314.9 950.0v2.1M441.5 977.3v6.0M441.5 1059.0v7.9M441.5 1070.7v6.0M441.5 1090.1v2.1M441.5 1187.4v2.1M466.9 911.1v2.1M466.9 916.9v7.9M466.9 934.5v2.1M466.9 957.8v6.0M492.2 915.0v11.8M492.2 1230.3v6.0M517.5 948.1v6.0M517.5 987.0v4.0M517.5 1043.4v2.1M517.5 1062.9v7.9M517.5 1138.8v4.0M517.5 1154.4v2.1" stroke="#2e7dbe" stroke-width="25.49" fill="none"/>
<path d="M112.2 940.3v4.0M112.2 959.8v2.1M112.2 987.0v2.1M112.2 1024.0v4.0M112.2 1086.2v2.1M112.2 1191.3v4.0M112.2 1203.0v7.9M112.2 1212.7v2.1M112.2 1218.6v4.0M112.2 1240.0v9.9M137.5 928.6v4.0M137.5 936.4v2.1M137.5 1090.1v4.0M137.5 1203.0v11.8M137.5 1220.5v11.8M137.5 1240.0v9.9M162.8 979.2v4.0M162.8 1193.3v2.1M188.2 969.5v2.1M188.2 1240.0v2.1M213.5 1210.8v2.1M213.5 1257.5v2.1M238.8 1004.5v4.0M238.8 1212.7v4.0M264.2 1195.2v2.1M264.2 1232.2v6.0M289.5 1224.4v2.1M365.5 1243.9v4.0M441.5 1031.8v2.1M441.5 1109.6v2.1M441.5 1117.4v2.1M441.5 1181.6v6.0M466.9 953.9v2.1M466.9 1101.8v2.1M466.9 1150.5v2.1M466.9 1166.0v4.0M466.9 1193.3v2.1M466.9 1206.9v7.9M466.9 1222.5v6.0M466.9 1232.2v4.0M466.9 1240.0v4.0M466.9 1249.7v6.0M492.2 934.5v4.0M492.2 1047.3v6.0M492.2 1208.9v6.0M492.2 1240.0v2.1M517.5 928.6v2.1M517.5 996.7v4.0M517.5 1216.6v6.0M517.5 1243.9v15.7" stroke="#549ccf" stroke-width="25.49" fill="none"/>
<path d="M112.2 957.8v2.1M112.2 1033.7v4.0M112.2 1072.6v2.1M112.2 1136.8v2.1M112.2 1181.6v6.0M112.2 1228.3v4.0M137.5 920.8v6.0M137.5 1158.3v7.9M137.5 1175.8v2.1M137.5 1179.7v2.1M162.8 1051.2v4.0M162.8 1164.1v2.1M162.8 1187.4v2.1M188.2 1037.6v2.1M188.2 1062.9v2.1M213.5 1199.1v2.1M238.8 955.9v7.9M264.2 946.1v2.1M264.2 1247.8v2.1M264.2 1253.6v4.0M289.5 1226.4v6.0M340.2 948.1v2.1M441.5 959.8v2.1M441.5 1053.2v4.0M441.5 1066.8v4.0M441.5 1175.8v2.1M441.5 1205.0v4.0M441.5 1222.5v6.0M441.5 1240.0v6.0M441.5 1253.6v2.1M466.9 1092.1v4.0M466.9 1121.3v2.1M466.9 1154.4v7.9M466.9 1203.0v4.0M466.9 1214.7v7.9M466.9 1236.1v4.0M492.2 952.0v2.1M492.2 1055.1v2.1M492.2 1125.2v4.0M492.2 1150.5v2.1M492.2 1162.1v6.0M492.2 1169.9v9.9M492.2 1183.6v4.0M492.2 1206.9v2.1M492.2 1220.5v6.0M492.2 1236.1v4.0M492.2 1241.9v4.0M517.5 940.3v4.0M517.5 1037.6v4.0M517.5 1133.0v4.0M517.5 1156.3v11.8M517.5 1187.4v7.9M517.5 1205.0v2.1M517.5 1214.7v2.1M517.5 1228.3v6.0" stroke="#3c8bc6" stroke-width="25.49" fill="none"/>
<path d="M112.2 992.8v2.1M162.8 1006.5v2.1M162.8 1024.0v2.1M162.8 1101.8v2.1M162.8 1216.6v2.1M188.2 1113.5v2.1M188.2 1201.1v2.1M238.8 985.1v2.1M238.8 1008.4v2.1M264.2 922.8v2.1M264.2 1168.0v2.1M289.5 936.4v2.1M289.5 1158.3v2.1M314.9 961.7v2.1M314.9 1078.5v2.1M314.9 1115.4v2.1M314.9 1191.3v2.1M340.2 973.4v2.1M340.2 1230.3v2.1M390.9 920.8v2.1M390.9 1068.7v2.1M390.9 1257.5v2.1M416.2 1057.1v2.1M441.5 1255.6v2.1M466.9 1059.0v2.1" stroke="#9bc5e3" stroke-width="25.49" fill="none"/>
<path d="M112.2 1020.1v2.1M112.2 1210.8v2.1M112.2 1251.7v7.9M137.5 1000.6v2.1M137.5 1037.6v2.1M137.5 1236.1v4.0M162.8 1185.5v2.1M162.8 1257.5v2.1M188.2 1222.5v2.1M188.2 1238.0v2.1M213.5 1212.7v2.1M213.5 1245.8v2.1M238.8 1057.1v2.1M238.8 1249.7v4.0M441.5 1138.8v6.0M441.5 1193.3v4.0M466.9 955.9v2.1M466.9 1047.3v2.1M466.9 1138.8v4.0M492.2 985.1v2.1M492.2 1053.2v2.1M517.5 922.8v2.1M517.5 1029.8v4.0M517.5 1096.0v11.8" stroke="#62a5d4" stroke-width="25.49" fill="none"/>
<path d="M112.2 1027.9v2.1M112.2 1082.4v4.0M112.2 1154.4v2.1M137.5 1136.8v2.1M162.8 1253.6v4.0M188.2 1218.6v4.0M188.2 1232.2v4.0M213.5 1238.0v4.0M213.5 1247.8v2.1M264.2 1008.4v2.1M340.2 1251.7v2.1M416.2 983.1v2.1M441.5 1014.2v2.1M441.5 1119.3v2.1M441.5 1125.2v2.1M466.9 1037.6v2.1M466.9 1043.4v2.1M466.9 1099.9v2.1M517.5 1033.7v4.0" stroke="#76b1d9" stroke-width="25.49" fill="none"/>
<path d="M112.2 1103.8v9.9M137.5 963.6v4.0M137.5 985.1v2.1M137.5 1103.8v2.1M238.8 990.9v4.0M441.5 996.7v4.0M441.5 1078.5v9.9M466.9 1004.5v2.1M492.2 1012.3v9.9M492.2 1027.9v7.9M492.2 1045.4v2.1M517.5 1012.3v7.9M517.5 1107.7v2.1M517.5 1203.0v2.1" stroke="#1e67af" stroke-width="25.49" fill="none"/>
<path d="M112.2 1113.5v2.1M137.5 967.5v6.0M137.5 1105.7v2.1M213.5 1201.1v4.0M238.8 988.9v2.1M441.5 1088.2v2.1M466.9 924.7v7.9M466.9 936.4v4.0M492.2 1006.5v2.1M492.2 1024.0v4.0M492.2 1035.7v7.9M517.5 953.9v15.7M517.5 1024.0v6.0M517.5 1070.7v4.0M517.5 1084.3v7.9M517.5 1199.1v4.0" stroke="#236eb4" stroke-width="25.49" fill="none"/>
<path d="M112.2 1115.4v4.0M137.5 977.3v7.9M162.8 1152.4v4.0M492.2 1022.0v2.1M517.5 969.5v2.1" stroke="#18529d" stroke-width="25.49" fill="none"/>
<path d="M112.2 1123.2v4.0M112.2 1189.4v2.1M112.2 1214.7v4.0M112.2 1222.5v6.0M112.2 1232.2v7.9M137.5 992.8v2.1M137.5 1168.0v7.9M137.5 1214.7v6.0M137.5 1232.2v4.0M162.8 1166.0v4.0M188.2 992.8v2.1M188.2 1224.4v2.1M213.5 1249.7v7.9M238.8 952.0v2.1M238.8 1002.6v2.1M238.8 1146.6v2.1M264.2 1238.0v4.0M264.2 1249.7v4.0M264.2 1257.5v2.1M340.2 1068.7v2.1M441.5 952.0v2.1M441.5 1154.4v11.8M441.5 1177.7v4.0M441.5 1203.0v2.1M441.5 1208.9v13.8M441.5 1228.3v4.0M466.9 932.5v2.1M466.9 996.7v4.0M466.9 1142.7v2.1M466.9 1148.5v2.1M466.9 1162.1v4.0M466.9 1169.9v6.0M466.9 1179.7v6.0M466.9 1195.2v4.0M466.9 1228.3v4.0M466.9 1243.9v6.0M492.2 930.6v4.0M492.2 953.9v6.0M492.2 996.7v4.0M492.2 1121.3v4.0M492.2 1154.4v7.9M492.2 1168.0v2.1M492.2 1203.0v4.0M492.2 1216.6v4.0M492.2 1226.4v4.0M492.2 1245.8v13.8M517.5 1049.3v2.1M517.5 1195.2v4.0M517.5 1206.9v7.9M517.5 1234.2v9.9" stroke="#4693cb" stroke-width="25.49" fill="none"/>
<path d="M112.2 1127.1v2.1M112.2 1140.7v2.1M112.2 1166.0v2.1M112.2 1199.1v2.1M137.5 915.0v2.1M137.5 1022.0v2.1M137.5 1097.9v2.1M137.5 1140.7v2.1M137.5 1181.6v2.1M137.5 1191.3v2.1M137.5 1197.2v2.1M137.5 1259.5v2.1M162.8 965.6v2.1M162.8 1031.8v2.1M162.8 1037.6v2.1M162.8 1047.3v2.1M162.8 1203.0v13.8M188.2 950.0v2.1M188.2 953.9v2.1M188.2 1090.1v2.1M188.2 1096.0v2.1M188.2 1253.6v4.0M213.5 926.7v2.1M213.5 1014.2v2.1M213.5 1027.9v2.1M213.5 1049.3v2.1M213.5 1070.7v2.1M213.5 1129.1v2.1M213.5 1140.7v2.1M213.5 1160.2v2.1M238.8 1115.4v2.1M238.8 1140.7v4.0M238.8 1255.6v4.0M264.2 938.3v2.1M264.2 1014.2v2.1M264.2 1072.6v2.1M264.2 1086.2v2.1M264.2 1096.0v2.1M264.2 1105.7v2.1M264.2 1154.4v2.1M264.2 1191.3v2.1M289.5 930.6v2.1M289.5 961.7v2.1M289.5 1097.9v2.1M289.5 1113.5v2.1M289.5 1179.7v2.1M289.5 1199.1v2.1M314.9 915.0v2.1M314.9 918.9v2.1M314.9 983.1v2.1M314.9 1031.8v2.1M314.9 1068.7v2.1M314.9 1148.5v2.1M314.9 1187.4v2.1M314.9 1195.2v2.1M314.9 1249.7v2.1M340.2 1022.0v2.1M340.2 1062.9v2.1M340.2 1162.1v2.1M365.5 916.9v2.1M365.5 926.7v2.1M365.5 990.9v2.1M365.5 1096.0v2.1M365.5 1121.3v2.1M365.5 1168.0v2.1M365.5 1185.5v2.1M390.9 952.0v2.1M390.9 990.9v2.1M390.9 1064.8v2.1M390.9 1119.3v2.1M390.9 1129.1v2.1M416.2 955.9v2.1M416.2 973.4v2.1M416.2 1097.9v2.1M416.2 1105.7v2.1M416.2 1185.5v2.1M441.5 1041.5v2.1M441.5 1049.3v2.1M441.5 1129.1v2.1M466.9 973.4v2.1M466.9 1006.5v2.1M466.9 1096.0v2.1M466.9 1185.5v2.1M492.2 1099.9v2.1" stroke="#a9cde7" stroke-width="25.49" fill="none"/>
<path d="M112.2 1156.3v2.1M137.5 911.1v4.0M238.8 1230.3v2.1M289.5 1004.5v2.1M441.5 1168.0v2.1M466.9 1064.8v2.1M466.9 1068.7v4.0M492.2 1090.1v6.0M517.5 924.7v2.1" stroke="#8bbcdf" stroke-width="25.49" fill="none"/>
<path d="M112.2 1160.2v2.1M137.5 1055.1v2.1M137.5 1249.7v9.9M162.8 990.9v2.1M162.8 1175.8v2.1M162.8 1181.6v2.1M162.8 1218.6v4.0M162.8 1230.3v4.0M188.2 1029.8v2.1M188.2 1035.7v2.1M188.2 1168.0v2.1M188.2 1206.9v2.1M188.2 1249.7v2.1M264.2 934.5v2.1M264.2 1068.7v4.0M264.2 1092.1v2.1M264.2 1136.8v2.1M264.2 1150.5v2.1M264.2 1169.9v2.1M264.2 1210.8v2.1M264.2 1218.6v2.1M264.2 1224.4v2.1M264.2 1245.8v2.1M289.5 959.8v2.1M289.5 1055.1v2.1M289.5 1206.9v2.1M289.5 1243.9v2.1M289.5 1247.8v7.9M314.9 1055.1v2.1M314.9 1164.1v2.1M314.9 1208.9v2.1M340.2 1039.5v2.1M340.2 1099.9v2.1M340.2 1222.5v2.1M340.2 1243.9v2.1M365.5 1136.8v2.1M365.5 1175.8v2.1M365.5 1216.6v2.1M365.5 1232.2v2.1M365.5 1236.1v2.1M390.9 1000.6v2.1M390.9 1146.6v2.1M390.9 1181.6v2.1M390.9 1187.4v2.1M390.9 1206.9v2.1M416.2 926.7v2.1M416.2 1146.6v2.1M441.5 983.1v2.1M441.5 1027.9v2.1M441.5 1035.7v2.1M466.9 977.3v2.1M466.9 1175.8v2.1" stroke="#ccdff1" stroke-width="25.49" fill="none"/>
<path d="M137.5 1033.7v2.1M137.5 1082.4v2.1M162.8 967.5v2.1M188.2 1125.2v2.1M213.5 1000.6v2.1M213.5 1101.8v2.1M238.8 920.8v2.1M238.8 1012.3v2.1M238.8 1127.1v2.1M238.8 1238.0v2.1M238.8 1247.8v2.1M264.2 1066.8v2.1M264.2 1078.5v2.1M289.5 1076.5v2.1M289.5 1136.8v2.1M289.5 1146.6v2.1M289.5 1169.9v2.1M314.9 1000.6v2.1M314.9 1146.6v2.1M314.9 1183.6v2.1M314.9 1238.0v2.1M314.9 1247.8v2.1M340.2 1055.1v2.1M340.2 1076.5v2.1M340.2 1238.0v2.1M340.2 1247.8v2.1M365.5 971.4v2.1M365.5 1057.1v2.1M365.5 1247.8v2.1M390.9 1055.1v2.1M390.9 1080.4v2.1M390.9 1183.6v2.1M390.9 1201.1v2.1M390.9 1247.8v2.1M416.2 998.7v2.1M416.2 1238.0v2.1M416.2 1247.8v2.1M441.5 946.1v2.1M466.9 1057.1v2.1M466.9 1076.5v2.1M466.9 1080.4v2.1M492.2 1082.4v2.1" stroke="#b6d4ea" stroke-width="25.49" fill="none"/>
<path d="M162.8 1222.5v7.9M162.8 1234.2v7.9M162.8 1247.8v4.0M264.2 1055.1v2.1" stroke="#d3e4f3" stroke-width="25.49" fill="none"/>
<path d="M289.5 1232.2v11.8" stroke="#dbe8f6" stroke-width="25.49" fill="none"/>
<path d="M416.2 1245.8v2.1" stroke="#edf4fb" stroke-width="25.49" fill="none"/>
<path d="M441.5 1000.6v4.0M441.5 1076.5v2.1M517.5 1020.1v2.1M517.5 1092.1v2.1M517.5 1109.6v6.0" stroke="#1a5da7" stroke-width="25.49" fill="none"/>
<path d="M517.5 971.4v4.0M517.5 979.2v2.1" stroke="#154792" stroke-width="25.49" fill="none"/>
<path d="M517.5 975.3v4.0" stroke="#123c88" stroke-width="25.49" fill="none"/>
<rect x="99.50" y="911.10" width="430.70" height="350.30" fill="none" stroke="#111" stroke-width="1.8"/>
<text x="57.60" y="1098.50" font-size="17.9" text-anchor="middle" stroke="#1c1c1c" stroke-width="0.25" fill="#1c1c1c" transform="rotate(-90 57.60 1098.50)">Fraction L1 (L1/L1 + L2 Modules)</text>
<line x1="544.60" y1="914.60" x2="544.60" y2="979.10" stroke="#111" stroke-width="1.5"/>
<path d="M540.50 920.00L544.60 911.60L548.70 920.00L544.60 917.65Z" fill="#111"/>
<line x1="544.60" y1="1257.90" x2="544.60" y2="1184.40" stroke="#111" stroke-width="1.5"/>
<path d="M540.50 1252.50L544.60 1260.90L548.70 1252.50L544.60 1254.85Z" fill="#111"/>
<text x="538.30" y="1081.30" font-size="17.9" text-anchor="middle" stroke="#1c1c1c" stroke-width="0.25" fill="#1c1c1c" transform="rotate(90 538.30 1081.30)">Co-association Patterns</text>
<text x="121.57" y="1272.00" font-size="17.5" text-anchor="end" stroke="#1c1c1c" stroke-width="0.25" fill="#1c1c1c" transform="rotate(-90 121.57 1272.00)">ZTF.4</text>
<text x="146.90" y="1272.00" font-size="17.5" text-anchor="end" stroke="#1c1c1c" stroke-width="0.25" fill="#1c1c1c" transform="rotate(-90 146.90 1272.00)">AMA.1</text>
<text x="172.24" y="1272.00" font-size="17.5" text-anchor="end" stroke="#1c1c1c" stroke-width="0.25" fill="#1c1c1c" transform="rotate(-90 172.24 1272.00)">SKN.1</text>
<text x="197.57" y="1272.00" font-size="17.5" text-anchor="end" stroke="#1c1c1c" stroke-width="0.25" fill="#1c1c1c" transform="rotate(-90 197.57 1272.00)">ZAG.1</text>
<text x="222.91" y="1272.00" font-size="17.5" text-anchor="end" stroke="#1c1c1c" stroke-width="0.25" fill="#1c1c1c" transform="rotate(-90 222.91 1272.00)">NHR.77</text>
<text x="248.24" y="1272.00" font-size="17.5" text-anchor="end" stroke="#1c1c1c" stroke-width="0.25" fill="#1c1c1c" transform="rotate(-90 248.24 1272.00)">LIN.39</text>
<text x="273.58" y="1272.00" font-size="17.5" text-anchor="end" stroke="#1c1c1c" stroke-width="0.25" fill="#1c1c1c" transform="rotate(-90 273.58 1272.00)">NHR.237</text>
<text x="298.91" y="1272.00" font-size="17.5" text-anchor="end" stroke="#1c1c1c" stroke-width="0.25" fill="#1c1c1c" transform="rotate(-90 298.91 1272.00)">SAX.3</text>
<text x="324.25" y="1272.00" font-size="17.5" text-anchor="end" stroke="#1c1c1c" stroke-width="0.25" fill="#1c1c1c" transform="rotate(-90 324.25 1272.00)">NHR.11</text>
<text x="349.59" y="1272.00" font-size="17.5" text-anchor="end" stroke="#1c1c1c" stroke-width="0.25" fill="#1c1c1c" transform="rotate(-90 349.59 1272.00)">UNC.62</text>
<text x="374.92" y="1272.00" font-size="17.5" text-anchor="end" stroke="#1c1c1c" stroke-width="0.25" fill="#1c1c1c" transform="rotate(-90 374.92 1272.00)">NHR.12</text>
<text x="400.26" y="1272.00" font-size="17.5" text-anchor="end" stroke="#1c1c1c" stroke-width="0.25" fill="#1c1c1c" transform="rotate(-90 400.26 1272.00)">ZTF.11</text>
<text x="425.59" y="1272.00" font-size="17.5" text-anchor="end" stroke="#1c1c1c" stroke-width="0.25" fill="#1c1c1c" transform="rotate(-90 425.59 1272.00)">ALY.2</text>
<text x="450.93" y="1272.00" font-size="17.5" text-anchor="end" stroke="#1c1c1c" stroke-width="0.25" fill="#1c1c1c" transform="rotate(-90 450.93 1272.00)">FOS.1</text>
<text x="476.26" y="1272.00" font-size="17.5" text-anchor="end" stroke="#1c1c1c" stroke-width="0.25" fill="#1c1c1c" transform="rotate(-90 476.26 1272.00)">LIN.13</text>
<text x="501.60" y="1272.00" font-size="17.5" text-anchor="end" stroke="#1c1c1c" stroke-width="0.25" fill="#1c1c1c" transform="rotate(-90 501.60 1272.00)">GEI.11</text>
<text x="526.93" y="1272.00" font-size="17.5" text-anchor="end" stroke="#1c1c1c" stroke-width="0.25" fill="#1c1c1c" transform="rotate(-90 526.93 1272.00)">LSY.2</text>
<path d="M700.70 910.10h18.70v1.88h-18.70zM700.70 1012.14h18.70v1.88h-18.70zM700.70 1072.67h18.70v1.88h-18.70zM700.70 1159.15h18.70v1.88h-18.70zM700.70 1160.88h18.70v1.88h-18.70zM700.70 1167.80h18.70v1.88h-18.70z" fill="#cfebf3"/>
<path d="M700.70 911.83h18.70v1.88h-18.70zM700.70 920.48h18.70v1.88h-18.70zM700.70 925.67h18.70v1.88h-18.70zM700.70 981.01h18.70v1.88h-18.70zM700.70 1041.54h18.70v1.88h-18.70zM700.70 1045.00h18.70v1.88h-18.70zM700.70 1060.57h18.70v1.88h-18.70zM700.70 1064.03h18.70v1.88h-18.70zM700.70 1114.18h18.70v1.88h-18.70zM700.70 1115.91h18.70v1.88h-18.70zM700.70 1119.37h18.70v1.88h-18.70zM700.70 1145.31h18.70v1.88h-18.70zM700.70 1150.50h18.70v1.88h-18.70zM700.70 1152.23h18.70v1.88h-18.70zM700.70 1155.69h18.70v1.88h-18.70zM700.70 1157.42h18.70v1.88h-18.70zM700.70 1162.61h18.70v1.88h-18.70zM700.70 1164.34h18.70v1.88h-18.70zM700.70 1166.07h18.70v1.88h-18.70zM700.70 1217.95h18.70v1.88h-18.70zM700.70 1228.33h18.70v1.88h-18.70zM700.70 1231.79h18.70v1.88h-18.70zM700.70 1233.52h18.70v1.88h-18.70zM700.70 1236.98h18.70v1.88h-18.70z" fill="#f7fcce"/>
<path d="M700.70 913.56h18.70v1.88h-18.70zM700.70 951.61h18.70v1.88h-18.70zM700.70 1067.48h18.70v1.88h-18.70zM700.70 1117.64h18.70v1.88h-18.70zM700.70 1171.25h18.70v1.88h-18.70zM700.70 1209.30h18.70v1.88h-18.70zM700.70 1211.03h18.70v1.88h-18.70zM700.70 1235.25h18.70v1.88h-18.70zM700.70 1238.70h18.70v1.88h-18.70zM700.70 1242.16h18.70v1.88h-18.70z" fill="#e7f6ec"/>
<path d="M700.70 915.29h18.70v1.88h-18.70zM700.70 942.96h18.70v1.88h-18.70zM700.70 974.09h18.70v1.88h-18.70zM700.70 1081.32h18.70v1.88h-18.70zM700.70 1091.70h18.70v1.88h-18.70zM700.70 1138.39h18.70v1.88h-18.70zM700.70 1200.66h18.70v1.88h-18.70zM700.70 1252.54h18.70v1.88h-18.70z" fill="#fa9656"/>
<path d="M700.70 917.02h18.70v1.88h-18.70zM700.70 941.23h18.70v1.88h-18.70zM700.70 982.74h18.70v1.88h-18.70zM700.70 991.39h18.70v1.88h-18.70zM700.70 993.12h18.70v1.88h-18.70zM700.70 1083.05h18.70v1.88h-18.70zM700.70 1088.24h18.70v1.88h-18.70zM700.70 1141.85h18.70v1.88h-18.70zM700.70 1183.36h18.70v1.88h-18.70z" fill="#f57446"/>
<path d="M700.70 918.75h18.70v1.88h-18.70zM700.70 972.36h18.70v1.88h-18.70zM700.70 975.82h18.70v1.88h-18.70zM700.70 979.28h18.70v1.88h-18.70zM700.70 984.47h18.70v1.88h-18.70zM700.70 1001.76h18.70v1.88h-18.70zM700.70 1010.41h18.70v1.88h-18.70zM700.70 1015.60h18.70v1.88h-18.70zM700.70 1062.30h18.70v1.88h-18.70zM700.70 1096.89h18.70v1.88h-18.70zM700.70 1100.35h18.70v1.88h-18.70zM700.70 1131.48h18.70v1.88h-18.70zM700.70 1190.28h18.70v1.88h-18.70zM700.70 1195.47h18.70v1.88h-18.70zM700.70 1197.20h18.70v1.88h-18.70zM700.70 1198.93h18.70v1.88h-18.70zM700.70 1202.39h18.70v1.88h-18.70zM700.70 1214.49h18.70v1.88h-18.70zM700.70 1223.14h18.70v1.88h-18.70zM700.70 1226.60h18.70v1.88h-18.70zM700.70 1230.06h18.70v1.88h-18.70zM700.70 1245.62h18.70v1.88h-18.70zM700.70 1247.35h18.70v1.88h-18.70zM700.70 1249.08h18.70v1.88h-18.70zM700.70 1254.27h18.70v1.88h-18.70z" fill="#fed081"/>
<path d="M700.70 922.21h18.70v1.88h-18.70zM700.70 948.15h18.70v1.88h-18.70zM700.70 970.63h18.70v1.88h-18.70zM700.70 986.20h18.70v1.88h-18.70zM700.70 998.30h18.70v1.88h-18.70zM700.70 1005.22h18.70v1.88h-18.70zM700.70 1006.95h18.70v1.88h-18.70zM700.70 1008.68h18.70v1.88h-18.70zM700.70 1051.92h18.70v1.88h-18.70zM700.70 1053.65h18.70v1.88h-18.70zM700.70 1057.11h18.70v1.88h-18.70zM700.70 1058.84h18.70v1.88h-18.70zM700.70 1065.76h18.70v1.88h-18.70zM700.70 1074.40h18.70v1.88h-18.70zM700.70 1098.62h18.70v1.88h-18.70zM700.70 1103.80h18.70v1.88h-18.70zM700.70 1105.53h18.70v1.88h-18.70zM700.70 1110.72h18.70v1.88h-18.70zM700.70 1112.45h18.70v1.88h-18.70zM700.70 1128.02h18.70v1.88h-18.70zM700.70 1134.93h18.70v1.88h-18.70zM700.70 1136.66h18.70v1.88h-18.70zM700.70 1143.58h18.70v1.88h-18.70zM700.70 1169.53h18.70v1.88h-18.70zM700.70 1176.44h18.70v1.88h-18.70zM700.70 1178.17h18.70v1.88h-18.70zM700.70 1188.55h18.70v1.88h-18.70zM700.70 1192.01h18.70v1.88h-18.70zM700.70 1204.12h18.70v1.88h-18.70z" fill="#fee79a"/>
<path d="M700.70 923.94h18.70v1.88h-18.70zM700.70 946.42h18.70v1.88h-18.70zM700.70 949.88h18.70v1.88h-18.70zM700.70 977.55h18.70v1.88h-18.70zM700.70 1017.33h18.70v1.88h-18.70zM700.70 1043.27h18.70v1.88h-18.70zM700.70 1046.73h18.70v1.88h-18.70zM700.70 1048.46h18.70v1.88h-18.70zM700.70 1050.19h18.70v1.88h-18.70zM700.70 1055.38h18.70v1.88h-18.70zM700.70 1076.13h18.70v1.88h-18.70zM700.70 1077.86h18.70v1.88h-18.70zM700.70 1079.59h18.70v1.88h-18.70zM700.70 1107.26h18.70v1.88h-18.70zM700.70 1108.99h18.70v1.88h-18.70zM700.70 1121.10h18.70v1.88h-18.70zM700.70 1122.83h18.70v1.88h-18.70zM700.70 1129.75h18.70v1.88h-18.70zM700.70 1133.21h18.70v1.88h-18.70zM700.70 1147.04h18.70v1.88h-18.70zM700.70 1148.77h18.70v1.88h-18.70zM700.70 1153.96h18.70v1.88h-18.70zM700.70 1179.90h18.70v1.88h-18.70zM700.70 1181.63h18.70v1.88h-18.70zM700.70 1216.22h18.70v1.88h-18.70zM700.70 1224.87h18.70v1.88h-18.70z" fill="#fff7b3"/>
<path d="M700.70 927.39h18.70v1.88h-18.70zM700.70 929.12h18.70v1.88h-18.70zM700.70 930.85h18.70v1.88h-18.70zM700.70 932.58h18.70v1.88h-18.70zM700.70 934.31h18.70v1.88h-18.70zM700.70 956.80h18.70v1.88h-18.70zM700.70 958.53h18.70v1.88h-18.70zM700.70 960.26h18.70v1.88h-18.70zM700.70 961.99h18.70v1.88h-18.70z" fill="#ffffff"/>
<path d="M700.70 936.04h18.70v1.88h-18.70zM700.70 1036.35h18.70v1.88h-18.70zM700.70 1038.08h18.70v1.88h-18.70zM700.70 1039.81h18.70v1.88h-18.70z" fill="#a51c2c"/>
<path d="M700.70 937.77h18.70v1.88h-18.70zM700.70 939.50h18.70v1.88h-18.70zM700.70 944.69h18.70v1.88h-18.70zM700.70 989.66h18.70v1.88h-18.70zM700.70 994.85h18.70v1.88h-18.70zM700.70 1084.78h18.70v1.88h-18.70zM700.70 1250.81h18.70v1.88h-18.70z" fill="#e85337"/>
<path d="M700.70 953.34h18.70v1.88h-18.70zM700.70 1070.94h18.70v1.88h-18.70zM700.70 1172.98h18.70v1.88h-18.70zM700.70 1185.09h18.70v1.88h-18.70zM700.70 1186.82h18.70v1.88h-18.70zM700.70 1205.84h18.70v1.88h-18.70z" fill="#b3ddeb"/>
<path d="M700.70 955.07h18.70v1.88h-18.70zM700.70 965.44h18.70v1.88h-18.70zM700.70 1022.52h18.70v1.88h-18.70zM700.70 1027.71h18.70v1.88h-18.70zM700.70 1069.21h18.70v1.88h-18.70zM700.70 1124.56h18.70v1.88h-18.70z" fill="#4778b6"/>
<path d="M700.70 963.71h18.70v1.88h-18.70zM700.70 1024.25h18.70v1.88h-18.70zM700.70 1031.16h18.70v1.88h-18.70zM700.70 1032.89h18.70v1.88h-18.70zM700.70 1095.16h18.70v1.88h-18.70z" fill="#3c57a5"/>
<path d="M700.70 967.17h18.70v1.88h-18.70zM700.70 968.90h18.70v1.88h-18.70zM700.70 987.93h18.70v1.88h-18.70zM700.70 1000.03h18.70v1.88h-18.70zM700.70 1003.49h18.70v1.88h-18.70zM700.70 1102.07h18.70v1.88h-18.70zM700.70 1126.29h18.70v1.88h-18.70zM700.70 1140.12h18.70v1.88h-18.70zM700.70 1174.71h18.70v1.88h-18.70zM700.70 1193.74h18.70v1.88h-18.70zM700.70 1219.68h18.70v1.88h-18.70zM700.70 1221.41h18.70v1.88h-18.70z" fill="#fdb668"/>
<path d="M700.70 996.58h18.70v1.88h-18.70z" fill="#bf2729"/>
<path d="M700.70 1013.87h18.70v1.88h-18.70zM700.70 1019.06h18.70v1.88h-18.70zM700.70 1025.98h18.70v1.88h-18.70zM700.70 1212.76h18.70v1.88h-18.70z" fill="#6095c5"/>
<path d="M700.70 1020.79h18.70v1.88h-18.70zM700.70 1034.62h18.70v1.88h-18.70zM700.70 1093.43h18.70v1.88h-18.70z" fill="#313695"/>
<path d="M700.70 1029.44h18.70v1.88h-18.70zM700.70 1243.89h18.70v1.88h-18.70z" fill="#7ab2d4"/>
<path d="M700.70 1086.51h18.70v1.88h-18.70z" fill="#d93328"/>
<path d="M700.70 1089.97h18.70v1.88h-18.70zM700.70 1207.57h18.70v1.88h-18.70zM700.70 1240.43h18.70v1.88h-18.70z" fill="#97c9e0"/>
<rect x="700.70" y="910.10" width="18.70" height="345.90" fill="none" stroke="#111" stroke-width="1.7"/>
<path d="M729.7 910.1h430.0v3.7h-430.0zM729.7 915.3h430.0v15.8h-430.0zM729.7 934.3h430.0v1.9h-430.0zM729.7 937.8h430.0v14.0h-430.0zM729.7 953.3h430.0v10.6h-430.0zM729.7 965.4h430.0v1.9h-430.0zM729.7 970.6h430.0v3.7h-430.0zM729.7 975.8h430.0v7.1h-430.0zM729.7 984.5h430.0v26.1h-430.0zM729.7 1013.9h430.0v3.7h-430.0zM729.7 1019.1h430.0v22.7h-430.0zM729.7 1043.3h430.0v8.8h-430.0zM729.7 1053.6h430.0v12.3h-430.0zM729.7 1067.5h430.0v1.9h-430.0zM729.7 1070.9h430.0v7.1h-430.0zM729.7 1083.0h430.0v14.0h-430.0zM729.7 1098.6h430.0v22.7h-430.0zM729.7 1122.8h430.0v46.9h-430.0zM729.7 1173.0h430.0v8.8h-430.0zM729.7 1183.4h430.0v8.8h-430.0zM729.7 1193.7h430.0v5.4h-430.0zM729.7 1200.7h430.0v12.3h-430.0zM729.7 1214.5h430.0v3.7h-430.0zM729.7 1219.7h430.0v15.8h-430.0zM729.7 1237.0h430.0v8.8h-430.0zM729.7 1247.4h430.0v1.9h-430.0zM729.7 1250.8h430.0v3.7h-430.0z" fill="#c4dbee"/>
<path d="M729.7 913.6h430.0v1.9h-430.0zM729.7 951.6h430.0v1.9h-430.0zM729.7 963.7h430.0v1.9h-430.0zM729.7 967.2h430.0v3.7h-430.0zM729.7 974.1h430.0v1.9h-430.0zM729.7 982.7h430.0v1.9h-430.0zM729.7 1010.4h430.0v3.7h-430.0zM729.7 1065.8h430.0v1.9h-430.0zM729.7 1096.9h430.0v1.9h-430.0zM729.7 1121.1h430.0v1.9h-430.0zM729.7 1181.6h430.0v1.9h-430.0zM729.7 1192.0h430.0v1.9h-430.0zM729.7 1198.9h430.0v1.9h-430.0zM729.7 1249.1h430.0v1.9h-430.0z" fill="#b6d4ea"/>
<path d="M729.7 930.9h430.0v3.7h-430.0zM729.7 936.0h430.0v1.9h-430.0zM729.7 1017.3h430.0v1.9h-430.0zM729.7 1041.5h430.0v1.9h-430.0zM729.7 1051.9h430.0v1.9h-430.0zM729.7 1069.2h430.0v1.9h-430.0zM729.7 1077.9h430.0v5.4h-430.0zM729.7 1169.5h430.0v3.7h-430.0zM729.7 1212.8h430.0v1.9h-430.0zM729.7 1218.0h430.0v1.9h-430.0zM729.7 1235.2h430.0v1.9h-430.0zM729.7 1245.6h430.0v1.9h-430.0zM729.7 1254.3h430.0v1.9h-430.0z" fill="#ccdff1"/>
<path d="M739.5 910.1v3.6M739.5 917.0v3.6M739.5 923.9v1.9M739.5 932.6v3.6M739.5 937.8v7.1M739.5 946.4v3.6M739.5 953.3v3.6M739.5 962.0v1.9M739.5 968.9v3.6M739.5 984.5v1.9M739.5 1013.9v3.6M739.5 1039.8v1.9M739.5 1043.3v7.1M739.5 1081.3v1.9M739.5 1095.2v1.9M739.5 1098.6v7.1M759.0 917.0v7.1M759.0 963.7v3.6M759.0 1062.3v1.9M759.0 1069.2v5.3M759.0 1138.4v3.6M759.0 1188.5v3.6M759.0 1218.0v1.9M759.0 1254.3v1.9M778.6 913.6v5.3M778.6 1109.0v1.9M778.6 1216.2v3.6M798.1 946.4v5.3M798.1 977.6v3.6M798.1 1007.0v8.8M798.1 1019.1v1.9M798.1 1228.3v1.9M817.7 911.8v1.9M817.7 1095.2v1.9M817.7 1231.8v3.6M817.7 1250.8v3.6M837.2 998.3v1.9M837.2 1019.1v3.6M837.2 1036.4v3.6M837.2 1062.3v1.9M837.2 1231.8v1.9M856.7 1022.5v1.9M856.7 1031.2v3.6M856.7 1067.5v7.1M856.7 1159.1v1.9M895.8 986.2v7.1M895.8 1005.2v1.9M915.4 979.3v1.9M915.4 986.2v3.6M915.4 1013.9v3.6M915.4 1026.0v1.9M934.9 937.8v1.9M934.9 987.9v5.3M934.9 996.6v1.9M974.0 1181.6v1.9M974.0 1188.5v1.9M993.6 1005.2v1.9M993.6 1036.4v1.9M1052.2 1121.1v1.9M1091.3 1133.2v1.9" stroke="#549ccf" stroke-width="19.70" fill="none"/>
<path d="M739.5 913.6v3.6M739.5 958.5v1.9M739.5 1072.7v1.9M739.5 1077.9v3.6M739.5 1086.5v3.6M739.5 1091.7v1.9M739.5 1190.3v1.9M759.0 967.2v3.6M759.0 1197.2v3.6M778.6 1074.4v1.9M798.1 951.6v1.9M798.1 970.6v7.1M798.1 1072.7v1.9M798.1 1179.9v1.9M798.1 1224.9v1.9M817.7 946.4v1.9M817.7 1003.5v1.9M817.7 1017.3v3.6M817.7 1024.2v1.9M837.2 1039.8v1.9M856.7 949.9v1.9M876.3 1240.4v1.9M915.4 1027.7v3.6M934.9 1019.1v1.9M934.9 1174.7v1.9M954.5 1008.7v1.9M954.5 1024.2v5.3M954.5 1036.4v1.9M974.0 987.9v1.9M993.6 989.7v1.9M1013.1 1036.4v1.9M1013.1 1174.7v1.9M1052.2 1017.3v1.9M1071.7 1109.0v1.9M1071.7 1114.2v1.9" stroke="#76b1d9" stroke-width="19.70" fill="none"/>
<path d="M739.5 951.6v1.9M739.5 1188.5v1.9M739.5 1198.9v1.9M759.0 1093.4v1.9M759.0 1098.6v3.6M759.0 1103.8v3.6M798.1 1119.4v1.9M817.7 981.0v1.9M817.7 1010.4v1.9M817.7 1162.6v1.9M837.2 955.1v1.9M837.2 1216.2v1.9M856.7 1096.9v1.9M876.3 1003.5v1.9M895.8 1155.7v1.9M895.8 1159.1v1.9M915.4 1098.6v1.9M915.4 1124.6v1.9M915.4 1140.1v1.9M915.4 1249.1v1.9M934.9 955.1v1.9M934.9 1148.8v1.9M934.9 1195.5v1.9M954.5 943.0v1.9M954.5 1198.9v1.9M974.0 1001.8v3.6M974.0 1043.3v1.9M974.0 1183.4v1.9M974.0 1242.2v1.9M993.6 1112.5v1.9M1013.1 1074.4v1.9M1013.1 1083.0v1.9M1013.1 1204.1v1.9M1052.2 982.7v1.9M1052.2 1065.8v1.9M1052.2 1147.0v1.9M1071.7 944.7v1.9M1071.7 1237.0v3.6M1091.3 989.7v1.9M1091.3 1096.9v1.9M1110.8 981.0v1.9M1110.8 1027.7v1.9M1130.4 1192.0v1.9M1149.9 975.8v1.9M1149.9 1124.6v1.9" stroke="#a9cde7" stroke-width="19.70" fill="none"/>
<path d="M739.5 960.3v1.9M739.5 975.8v1.9M739.5 989.7v5.3M739.5 998.3v10.5M739.5 1010.4v3.6M739.5 1019.1v1.9M739.5 1032.9v1.9M739.5 1050.2v3.6M739.5 1162.6v3.6M739.5 1173.0v1.9M739.5 1193.7v5.3M739.5 1207.6v1.9M739.5 1230.1v3.6M739.5 1238.7v3.6M759.0 911.8v3.6M759.0 993.1v1.9M759.0 1043.3v10.5M759.0 1057.1v5.3M759.0 1067.5v1.9M759.0 1074.4v3.6M759.0 1124.6v7.1M759.0 1181.6v3.6M759.0 1192.0v1.9M759.0 1211.0v3.6M778.6 910.1v1.9M778.6 982.7v3.6M778.6 987.9v5.3M778.6 1024.2v7.1M778.6 1039.8v1.9M778.6 1117.6v1.9M778.6 1136.7v3.6M778.6 1169.5v3.6M778.6 1205.8v5.3M778.6 1223.1v3.6M778.6 1228.3v1.9M798.1 981.0v3.6M798.1 987.9v5.3M798.1 1020.8v3.6M798.1 1027.7v3.6M798.1 1034.6v7.1M798.1 1090.0v1.9M798.1 1148.8v3.6M798.1 1171.3v3.6M798.1 1209.3v1.9M817.7 1096.9v1.9M837.2 1010.4v3.6M837.2 1027.7v1.9M837.2 1065.8v1.9M856.7 1024.2v1.9M876.3 991.4v1.9M895.8 1003.5v1.9M895.8 1008.7v3.6M895.8 1019.1v3.6M915.4 989.7v10.5M915.4 1005.2v3.6M934.9 1102.1v1.9M993.6 972.4v3.6M993.6 1032.9v3.6M1052.2 1090.0v1.9" stroke="#4693cb" stroke-width="19.70" fill="none"/>
<path d="M739.5 963.7v1.9M739.5 1096.9v1.9M778.6 967.2v1.9M798.1 963.7v1.9M798.1 1041.5v1.9M817.7 963.7v1.9M817.7 968.9v1.9M817.7 974.1v1.9M817.7 982.7v1.9M817.7 1012.1v1.9M817.7 1181.6v1.9M837.2 951.6v1.9M837.2 967.2v3.6M837.2 974.1v1.9M837.2 982.7v1.9M837.2 1192.0v1.9M837.2 1198.9v1.9M837.2 1249.1v1.9M856.7 932.6v1.9M856.7 951.6v1.9M856.7 963.7v1.9M856.7 967.2v3.6M856.7 974.1v1.9M856.7 1012.1v1.9M856.7 1065.8v1.9M876.3 951.6v1.9M876.3 1012.1v1.9M876.3 1051.9v1.9M876.3 1065.8v1.9M876.3 1171.3v1.9M876.3 1245.6v1.9M895.8 951.6v1.9M895.8 963.7v1.9M895.8 968.9v1.9M895.8 974.1v1.9M895.8 982.7v1.9M895.8 1077.9v1.9M895.8 1121.1v1.9M915.4 963.7v1.9M915.4 967.2v1.9M915.4 974.1v1.9M915.4 982.7v1.9M915.4 1192.0v1.9M915.4 1235.2v1.9M934.9 936.0v1.9M934.9 951.6v1.9M934.9 963.7v1.9M934.9 967.2v3.6M934.9 982.7v1.9M934.9 1012.1v1.9M954.5 951.6v1.9M954.5 963.7v1.9M954.5 967.2v3.6M954.5 974.1v1.9M954.5 982.7v1.9M954.5 1010.4v1.9M954.5 1121.1v1.9M974.0 930.9v1.9M974.0 963.7v1.9M974.0 967.2v3.6M974.0 974.1v1.9M974.0 1012.1v1.9M974.0 1235.2v1.9M993.6 951.6v1.9M993.6 963.7v1.9M993.6 968.9v1.9M993.6 982.7v1.9M993.6 1192.0v1.9M1013.1 951.6v1.9M1013.1 963.7v1.9M1013.1 967.2v3.6M1013.1 974.1v1.9M1013.1 982.7v1.9M1013.1 1012.1v1.9M1013.1 1069.2v1.9M1013.1 1218.0v1.9M1013.1 1245.6v1.9M1032.7 951.6v1.9M1032.7 963.7v1.9M1032.7 967.2v3.6M1032.7 974.1v1.9M1032.7 982.7v1.9M1032.7 1012.1v1.9M1032.7 1041.5v1.9M1032.7 1051.9v1.9M1032.7 1121.1v1.9M1052.2 951.6v1.9M1052.2 963.7v1.9M1052.2 967.2v3.6M1052.2 1041.5v1.9M1052.2 1181.6v1.9M1052.2 1245.6v1.9M1071.7 951.6v1.9M1071.7 967.2v3.6M1071.7 974.1v1.9M1071.7 982.7v1.9M1071.7 1012.1v1.9M1071.7 1041.5v1.9M1071.7 1081.3v1.9M1071.7 1171.3v1.9M1071.7 1181.6v1.9M1071.7 1235.2v1.9M1091.3 951.6v1.9M1091.3 963.7v1.9M1091.3 968.9v1.9M1091.3 974.1v1.9M1091.3 982.7v1.9M1091.3 1012.1v1.9M1091.3 1051.9v1.9M1110.8 932.6v1.9M1110.8 963.7v1.9M1110.8 967.2v3.6M1110.8 974.1v1.9M1110.8 1012.1v1.9M1110.8 1077.9v3.6M1110.8 1171.3v1.9M1130.4 951.6v1.9M1130.4 963.7v1.9M1130.4 967.2v1.9M1130.4 974.1v1.9M1130.4 982.7v1.9M1149.9 932.6v1.9M1149.9 951.6v1.9M1149.9 963.7v1.9M1149.9 967.2v3.6M1149.9 974.1v1.9M1149.9 982.7v1.9M1149.9 1010.4v3.6M1149.9 1051.9v1.9M1149.9 1245.6v1.9" stroke="#c4dbee" stroke-width="19.70" fill="none"/>
<path d="M739.5 972.4v1.9M739.5 977.6v1.9M739.5 986.2v3.6M739.5 1058.8v5.3M739.5 1126.3v5.3M739.5 1147.0v1.9M739.5 1174.7v1.9M739.5 1205.8v1.9M739.5 1209.3v1.9M759.0 910.1v1.9M759.0 934.3v7.1M759.0 949.9v7.1M759.0 970.6v1.9M759.0 987.9v3.6M759.0 1008.7v3.6M759.0 1013.9v5.3M759.0 1031.2v10.5M759.0 1055.4v1.9M759.0 1064.0v3.6M759.0 1086.5v1.9M759.0 1152.2v1.9M759.0 1166.1v1.9M759.0 1173.0v1.9M759.0 1176.4v1.9M778.6 918.7v8.8M778.6 968.9v3.6M778.6 986.2v1.9M778.6 993.1v29.6M778.6 1031.2v8.8M778.6 1160.9v1.9M778.6 1192.0v3.6M778.6 1198.9v3.6M778.6 1211.0v3.6M778.6 1240.4v1.9M798.1 910.1v5.3M798.1 918.7v5.3M798.1 934.3v5.3M798.1 1051.9v1.9M798.1 1060.6v7.1M798.1 1152.2v1.9M837.2 1005.2v1.9M876.3 993.1v1.9M895.8 1007.0v1.9M954.5 1249.1v1.9M993.6 998.3v3.6M993.6 1027.7v3.6" stroke="#3c8bc6" stroke-width="19.70" fill="none"/>
<path d="M739.5 974.1v1.9M739.5 982.7v1.9M739.5 994.8v3.6M739.5 1008.7v1.9M739.5 1017.3v1.9M739.5 1027.7v5.3M739.5 1038.1v1.9M739.5 1053.6v1.9M739.5 1155.7v1.9M739.5 1166.1v3.6M759.0 943.0v7.1M759.0 972.4v5.3M759.0 1019.1v1.9M759.0 1026.0v5.3M759.0 1186.8v1.9M759.0 1224.9v7.1M778.6 927.4v3.6M778.6 949.9v1.9M778.6 962.0v5.3M778.6 979.3v3.6M778.6 1022.5v1.9M778.6 1057.1v1.9M778.6 1079.6v1.9M778.6 1128.0v8.8M778.6 1141.9v3.6M778.6 1157.4v1.9M778.6 1162.6v3.6M778.6 1195.5v1.9M778.6 1252.5v3.6M798.1 1057.1v3.6M798.1 1143.6v1.9M798.1 1223.1v1.9M798.1 1240.4v1.9M817.7 1057.1v5.3M856.7 1202.4v3.6M856.7 1238.7v1.9M876.3 1205.8v1.9M895.8 910.1v3.6M895.8 1171.3v1.9" stroke="#3584c2" stroke-width="19.70" fill="none"/>
<path d="M739.5 979.3v3.6M739.5 1069.2v3.6M739.5 1074.4v3.6M739.5 1105.5v1.9M739.5 1185.1v1.9M739.5 1219.7v3.6M759.0 956.8v7.1M759.0 1041.5v1.9M759.0 1083.0v1.9M759.0 1131.5v7.1M759.0 1202.4v1.9M759.0 1221.4v1.9M759.0 1237.0v1.9M759.0 1240.4v5.3M778.6 1070.9v3.6M778.6 1076.1v1.9M778.6 1124.6v3.6M778.6 1219.7v1.9M798.1 923.9v1.9M798.1 941.2v5.3M798.1 967.2v3.6M798.1 1031.2v3.6M798.1 1183.4v1.9M798.1 1226.6v1.9M817.7 913.6v1.9M817.7 996.6v7.1M817.7 1026.0v3.6M817.7 1032.9v8.8M837.2 991.4v7.1M837.2 1007.0v3.6M837.2 1029.4v3.6M837.2 1060.6v1.9M837.2 1064.0v1.9M837.2 1233.5v3.6M856.7 1020.8v1.9M856.7 1026.0v5.3M876.3 920.5v1.9M876.3 994.8v8.8M895.8 993.1v10.5M895.8 1012.1v7.1M895.8 1167.8v1.9M915.4 975.8v3.6M915.4 1000.0v5.3M915.4 1008.7v5.3M915.4 1024.2v1.9M934.9 993.1v3.6M934.9 998.3v1.9M934.9 1005.2v3.6M934.9 1017.3v1.9M934.9 1070.9v7.1M993.6 1001.8v3.6M993.6 1007.0v3.6M993.6 1031.2v1.9M1013.1 1015.6v3.6M1013.1 1029.4v7.1" stroke="#62a5d4" stroke-width="19.70" fill="none"/>
<path d="M739.5 1022.5v5.3M739.5 1034.6v1.9M739.5 1057.1v1.9M739.5 1067.5v1.9M739.5 1084.8v1.9M739.5 1093.4v1.9M739.5 1141.9v1.9M739.5 1186.8v1.9M739.5 1228.3v1.9M759.0 915.3v1.9M759.0 977.6v1.9M759.0 994.8v3.6M759.0 1000.0v1.9M759.0 1007.0v1.9M759.0 1022.5v3.6M759.0 1164.3v1.9M759.0 1216.2v1.9M778.6 911.8v1.9M778.6 1140.1v1.9M778.6 1197.2v1.9M798.1 915.3v3.6M798.1 962.0v1.9M798.1 1026.0v1.9M798.1 1107.3v3.6M798.1 1186.8v1.9M798.1 1205.8v1.9M798.1 1219.7v1.9M798.1 1238.7v1.9M817.7 920.5v3.6M817.7 925.7v1.9M817.7 929.1v1.9M817.7 934.3v1.9M817.7 937.8v3.6M817.7 943.0v3.6M817.7 949.9v1.9M817.7 953.3v1.9M817.7 956.8v3.6M817.7 962.0v1.9M817.7 965.4v1.9M817.7 975.8v1.9M817.7 986.2v1.9M817.7 994.8v1.9M817.7 1005.2v5.3M817.7 1013.9v1.9M817.7 1022.5v1.9M817.7 1064.0v1.9M817.7 1070.9v3.6M817.7 1167.8v1.9M817.7 1174.7v1.9M817.7 1186.8v3.6M837.2 910.1v3.6M837.2 920.5v1.9M837.2 923.9v1.9M837.2 929.1v1.9M837.2 934.3v1.9M837.2 937.8v3.6M837.2 943.0v1.9M837.2 949.9v1.9M837.2 953.3v1.9M837.2 956.8v1.9M837.2 960.3v1.9M837.2 965.4v1.9M837.2 970.6v1.9M837.2 975.8v3.6M837.2 986.2v1.9M837.2 989.7v1.9M837.2 1000.0v1.9M837.2 1003.5v1.9M837.2 1024.2v1.9M837.2 1032.9v3.6M837.2 1074.4v3.6M837.2 1124.6v3.6M837.2 1224.9v3.6M856.7 911.8v1.9M856.7 920.5v3.6M856.7 925.7v1.9M856.7 934.3v1.9M856.7 937.8v3.6M856.7 943.0v3.6M856.7 956.8v7.1M856.7 965.4v1.9M856.7 970.6v1.9M856.7 975.8v3.6M856.7 986.2v1.9M856.7 1007.0v3.6M856.7 1013.9v1.9M856.7 1043.3v1.9M856.7 1102.1v1.9M856.7 1138.4v1.9M856.7 1160.9v1.9M856.7 1185.1v1.9M856.7 1193.7v1.9M856.7 1209.3v1.9M856.7 1214.5v1.9M856.7 1243.9v1.9M876.3 910.1v3.6M876.3 915.3v3.6M876.3 922.2v1.9M876.3 925.7v1.9M876.3 934.3v1.9M876.3 937.8v3.6M876.3 943.0v3.6M876.3 949.9v1.9M876.3 956.8v1.9M876.3 989.7v1.9M876.3 1008.7v1.9M876.3 1013.9v1.9M876.3 1022.5v1.9M876.3 1029.4v7.1M876.3 1067.5v1.9M876.3 1074.4v1.9M876.3 1107.3v1.9M876.3 1110.7v1.9M876.3 1197.2v1.9M876.3 1223.1v1.9M876.3 1231.8v1.9M895.8 925.7v1.9M895.8 929.1v1.9M895.8 934.3v1.9M895.8 937.8v3.6M895.8 943.0v3.6M895.8 953.3v1.9M895.8 956.8v1.9M895.8 960.3v3.6M895.8 965.4v3.6M895.8 970.6v1.9M895.8 975.8v3.6M895.8 1022.5v1.9M895.8 1034.6v1.9M895.8 1055.4v1.9M895.8 1228.3v1.9M895.8 1238.7v1.9M915.4 911.8v1.9M915.4 920.5v3.6M915.4 934.3v1.9M915.4 937.8v7.1M915.4 956.8v1.9M915.4 960.3v3.6M915.4 965.4v1.9M915.4 968.9v3.6M915.4 1022.5v1.9M915.4 1031.2v5.3M915.4 1043.3v1.9M915.4 1074.4v1.9M915.4 1134.9v1.9M915.4 1147.0v1.9M915.4 1193.7v1.9M915.4 1252.5v1.9M934.9 911.8v1.9M934.9 918.7v5.3M934.9 925.7v5.3M934.9 934.3v1.9M934.9 939.5v1.9M934.9 944.7v1.9M934.9 949.9v1.9M934.9 953.3v1.9M934.9 956.8v7.1M934.9 965.4v1.9M934.9 970.6v1.9M934.9 975.8v3.6M934.9 986.2v1.9M934.9 1000.0v1.9M934.9 1013.9v1.9M934.9 1022.5v1.9M934.9 1062.3v1.9M934.9 1134.9v1.9M934.9 1155.7v1.9M934.9 1209.3v1.9M954.5 911.8v1.9M954.5 920.5v3.6M954.5 925.7v1.9M954.5 929.1v1.9M954.5 934.3v1.9M954.5 939.5v1.9M954.5 949.9v1.9M954.5 953.3v5.3M954.5 960.3v3.6M954.5 970.6v3.6M954.5 975.8v3.6M954.5 986.2v1.9M954.5 989.7v1.9M954.5 1012.1v3.6M954.5 1020.8v3.6M954.5 1057.1v1.9M954.5 1204.1v1.9M954.5 1209.3v3.6M954.5 1224.9v1.9M974.0 911.8v1.9M974.0 920.5v1.9M974.0 925.7v1.9M974.0 929.1v1.9M974.0 934.3v1.9M974.0 937.8v8.8M974.0 949.9v1.9M974.0 953.3v1.9M974.0 956.8v5.3M974.0 970.6v1.9M974.0 975.8v3.6M974.0 984.5v3.6M974.0 989.7v1.9M974.0 993.1v5.3M974.0 1005.2v5.3M974.0 1050.2v1.9M974.0 1058.8v1.9M974.0 1074.4v1.9M974.0 1107.3v1.9M974.0 1150.5v1.9M974.0 1214.5v1.9M993.6 911.8v1.9M993.6 918.7v5.3M993.6 925.7v1.9M993.6 929.1v1.9M993.6 934.3v1.9M993.6 937.8v3.6M993.6 943.0v3.6M993.6 949.9v1.9M993.6 953.3v8.8M993.6 965.4v3.6M993.6 970.6v1.9M993.6 975.8v3.6M993.6 987.9v1.9M993.6 994.8v3.6M993.6 1013.9v1.9M993.6 1022.5v3.6M993.6 1055.4v1.9M993.6 1058.8v1.9M993.6 1224.9v1.9M1013.1 911.8v1.9M1013.1 920.5v3.6M1013.1 925.7v1.9M1013.1 929.1v1.9M1013.1 934.3v1.9M1013.1 937.8v1.9M1013.1 943.0v1.9M1013.1 948.1v3.6M1013.1 953.3v1.9M1013.1 956.8v7.1M1013.1 965.4v1.9M1013.1 970.6v1.9M1013.1 975.8v3.6M1013.1 986.2v1.9M1013.1 989.7v1.9M1013.1 994.8v3.6M1013.1 1003.5v7.1M1013.1 1013.9v1.9M1013.1 1134.9v1.9M1013.1 1143.6v1.9M1013.1 1195.5v1.9M1032.7 911.8v1.9M1032.7 920.5v3.6M1032.7 925.7v1.9M1032.7 934.3v1.9M1032.7 937.8v3.6M1032.7 943.0v3.6M1032.7 949.9v1.9M1032.7 956.8v3.6M1032.7 962.0v1.9M1032.7 965.4v1.9M1032.7 970.6v3.6M1032.7 977.6v1.9M1032.7 981.0v1.9M1032.7 986.2v1.9M1032.7 989.7v1.9M1032.7 994.8v7.1M1032.7 1005.2v5.3M1032.7 1013.9v1.9M1032.7 1046.7v1.9M1032.7 1057.1v5.3M1032.7 1103.8v1.9M1032.7 1128.0v1.9M1032.7 1226.6v1.9M1032.7 1230.1v1.9M1032.7 1238.7v1.9M1052.2 911.8v1.9M1052.2 920.5v3.6M1052.2 925.7v1.9M1052.2 929.1v1.9M1052.2 934.3v1.9M1052.2 937.8v3.6M1052.2 943.0v3.6M1052.2 949.9v1.9M1052.2 953.3v1.9M1052.2 956.8v1.9M1052.2 962.0v1.9M1052.2 965.4v1.9M1052.2 970.6v1.9M1052.2 974.1v5.3M1052.2 989.7v1.9M1052.2 994.8v3.6M1052.2 1000.0v1.9M1052.2 1003.5v3.6M1052.2 1013.9v1.9M1052.2 1026.0v1.9M1052.2 1029.4v7.1M1052.2 1072.7v1.9M1052.2 1083.0v1.9M1052.2 1166.1v1.9M1052.2 1209.3v3.6M1052.2 1216.2v1.9M1052.2 1224.9v1.9M1071.7 911.8v1.9M1071.7 920.5v1.9M1071.7 925.7v1.9M1071.7 929.1v1.9M1071.7 934.3v1.9M1071.7 937.8v7.1M1071.7 953.3v1.9M1071.7 956.8v7.1M1071.7 965.4v1.9M1071.7 970.6v1.9M1071.7 975.8v1.9M1071.7 986.2v1.9M1071.7 989.7v1.9M1071.7 994.8v3.6M1071.7 1000.0v1.9M1071.7 1005.2v5.3M1071.7 1013.9v1.9M1071.7 1022.5v3.6M1071.7 1029.4v5.3M1071.7 1126.3v1.9M1071.7 1160.9v1.9M1071.7 1197.2v1.9M1091.3 911.8v1.9M1091.3 918.7v5.3M1091.3 925.7v1.9M1091.3 934.3v1.9M1091.3 937.8v3.6M1091.3 944.7v1.9M1091.3 949.9v1.9M1091.3 953.3v1.9M1091.3 958.5v5.3M1091.3 965.4v3.6M1091.3 970.6v1.9M1091.3 975.8v3.6M1091.3 986.2v1.9M1091.3 996.6v1.9M1091.3 1003.5v7.1M1091.3 1013.9v1.9M1091.3 1022.5v5.3M1091.3 1034.6v1.9M1091.3 1043.3v3.6M1091.3 1072.7v1.9M1091.3 1179.9v1.9M1091.3 1188.5v1.9M1110.8 911.8v1.9M1110.8 920.5v3.6M1110.8 925.7v1.9M1110.8 929.1v1.9M1110.8 937.8v3.6M1110.8 943.0v3.6M1110.8 949.9v1.9M1110.8 956.8v7.1M1110.8 965.4v1.9M1110.8 970.6v1.9M1110.8 975.8v3.6M1110.8 986.2v1.9M1110.8 989.7v1.9M1110.8 994.8v3.6M1110.8 1000.0v1.9M1110.8 1003.5v7.1M1110.8 1013.9v1.9M1110.8 1022.5v3.6M1110.8 1029.4v3.6M1110.8 1034.6v1.9M1110.8 1045.0v1.9M1110.8 1112.5v1.9M1110.8 1138.4v1.9M1110.8 1167.8v1.9M1110.8 1176.4v1.9M1110.8 1179.9v1.9M1130.4 911.8v1.9M1130.4 920.5v1.9M1130.4 925.7v1.9M1130.4 929.1v1.9M1130.4 934.3v1.9M1130.4 939.5v1.9M1130.4 943.0v3.6M1130.4 949.9v1.9M1130.4 953.3v1.9M1130.4 956.8v7.1M1130.4 965.4v1.9M1130.4 968.9v1.9M1130.4 975.8v3.6M1130.4 986.2v1.9M1130.4 989.7v5.3M1130.4 996.6v1.9M1130.4 1000.0v1.9M1130.4 1003.5v1.9M1130.4 1007.0v1.9M1130.4 1012.1v3.6M1130.4 1024.2v1.9M1130.4 1029.4v5.3M1130.4 1036.4v1.9M1130.4 1060.6v1.9M1130.4 1216.2v1.9M1149.9 911.8v1.9M1149.9 920.5v3.6M1149.9 925.7v1.9M1149.9 929.1v1.9M1149.9 934.3v1.9M1149.9 937.8v3.6M1149.9 943.0v3.6M1149.9 949.9v1.9M1149.9 953.3v1.9M1149.9 956.8v1.9M1149.9 960.3v3.6M1149.9 965.4v1.9M1149.9 970.6v1.9M1149.9 977.6v3.6M1149.9 986.2v1.9M1149.9 994.8v3.6M1149.9 1000.0v1.9M1149.9 1003.5v7.1M1149.9 1013.9v1.9M1149.9 1022.5v3.6M1149.9 1029.4v5.3M1149.9 1086.5v1.9M1149.9 1211.0v1.9M1149.9 1219.7v1.9M1149.9 1226.6v1.9M1149.9 1230.1v1.9M1149.9 1249.1v1.9" stroke="#ccdff1" stroke-width="19.70" fill="none"/>
<path d="M739.5 1064.0v3.6M759.0 1238.7v1.9M759.0 1250.8v1.9M798.1 925.7v7.1M798.1 939.5v1.9M798.1 1121.1v1.9M817.7 989.7v1.9M817.7 1029.4v3.6M837.2 1022.5v1.9M837.2 1026.0v1.9M856.7 1038.1v3.6M895.8 1024.2v1.9M915.4 1169.5v1.9M954.5 993.1v8.8M954.5 1029.4v7.1M974.0 1015.6v7.1M1052.2 1022.5v1.9M1071.7 1034.6v3.6M1091.3 1036.4v1.9M1091.3 1124.6v1.9M1110.8 1036.4v1.9" stroke="#8bbcdf" stroke-width="19.70" fill="none"/>
<path d="M739.5 1109.0v5.3M778.6 930.9v1.9M778.6 1058.8v3.6M778.6 1069.2v1.9M778.6 1115.9v1.9M778.6 1176.4v8.8M778.6 1250.8v1.9M798.1 1079.6v1.9M817.7 1065.8v1.9M837.2 1136.7v1.9M837.2 1157.4v3.6M856.7 1224.9v1.9M915.4 944.7v1.9M915.4 949.9v1.9M934.9 1186.8v7.1M954.5 1093.4v3.6M954.5 1103.8v5.3M974.0 1243.9v7.1M993.6 1176.4v1.9" stroke="#236eb4" stroke-width="19.70" fill="none"/>
<path d="M739.5 1114.2v5.3M759.0 1167.8v5.3M798.1 1083.0v1.9M798.1 1198.9v7.1M817.7 1081.3v5.3M837.2 1173.0v1.9M954.5 1096.9v5.3" stroke="#1a5da7" stroke-width="19.70" fill="none"/>
<path d="M739.5 1121.1v3.6M759.0 923.9v7.1M778.6 1185.1v7.1M798.1 1081.3v1.9M817.7 1048.5v5.3M817.7 1086.5v5.3M954.5 1091.7v1.9M974.0 1250.8v5.3M1013.1 939.5v3.6" stroke="#1e67af" stroke-width="19.70" fill="none"/>
<path d="M739.5 1124.6v1.9M739.5 1145.3v1.9M739.5 1154.0v1.9M759.0 930.9v3.6M759.0 1077.9v3.6M759.0 1114.2v1.9M759.0 1160.9v1.9M778.6 932.6v10.5M778.6 955.1v1.9M778.6 1051.9v5.3M778.6 1100.3v7.1M778.6 1166.1v1.9M778.6 1221.4v1.9M778.6 1243.9v7.1M798.1 932.6v1.9M817.7 1043.3v5.3M817.7 1053.6v3.6M817.7 1067.5v3.6M817.7 1074.4v3.6M837.2 1141.9v7.1M837.2 1160.9v7.1M856.7 1218.0v1.9M856.7 1221.4v3.6M856.7 1230.1v8.8M876.3 968.9v8.8M876.3 979.3v1.9M876.3 1207.6v10.5M895.8 913.6v7.1M915.4 946.4v3.6M915.4 951.6v5.3M954.5 1102.1v1.9M1071.7 1121.1v1.9" stroke="#2976b9" stroke-width="19.70" fill="none"/>
<path d="M739.5 1131.5v5.3M739.5 1138.4v3.6M759.0 981.0v7.1M759.0 1001.8v5.3M759.0 1012.1v1.9M759.0 1081.3v1.9M759.0 1143.6v5.3M759.0 1154.0v7.1M778.6 943.0v3.6M778.6 948.1v1.9M778.6 951.6v3.6M778.6 972.4v7.1M778.6 1043.3v8.8M778.6 1062.3v7.1M778.6 1096.9v3.6M778.6 1110.7v5.3M778.6 1173.0v1.9M778.6 1230.1v5.3M778.6 1237.0v1.9M778.6 1242.2v1.9M798.1 1067.5v1.9M798.1 1138.4v5.3M817.7 967.2v1.9M817.7 1062.3v1.9M837.2 962.0v3.6M837.2 1138.4v3.6M837.2 1148.8v5.3M856.7 1219.7v1.9M856.7 1226.6v3.6M856.7 1240.4v1.9M876.3 958.5v10.5M876.3 977.6v1.9M876.3 981.0v8.8M895.8 920.5v3.6M895.8 1174.7v1.9M1032.7 1183.4v3.6" stroke="#2e7dbe" stroke-width="19.70" fill="none"/>
<path d="M759.0 1088.2v1.9M759.0 1219.7v1.9M798.1 953.3v3.6M798.1 958.5v3.6M798.1 1086.5v1.9M798.1 1100.3v1.9M798.1 1128.0v1.9M798.1 1131.5v1.9M798.1 1218.0v1.9M798.1 1231.8v1.9M817.7 923.9v1.9M817.7 979.3v1.9M817.7 1020.8v1.9M817.7 1124.6v1.9M837.2 944.7v1.9M837.2 979.3v1.9M837.2 1107.3v1.9M837.2 1119.4v1.9M837.2 1240.4v1.9M856.7 1083.0v1.9M856.7 1098.6v1.9M856.7 1131.5v1.9M856.7 1148.8v1.9M856.7 1154.0v1.9M856.7 1250.8v1.9M876.3 918.7v1.9M876.3 955.1v1.9M876.3 1015.6v1.9M876.3 1048.5v1.9M876.3 1053.6v1.9M876.3 1150.5v1.9M876.3 1164.3v1.9M876.3 1250.8v1.9M895.8 946.4v1.9M895.8 1046.7v1.9M895.8 1115.9v1.9M895.8 1122.8v1.9M895.8 1148.8v1.9M895.8 1226.6v1.9M915.4 1250.8v1.9M934.9 943.0v1.9M934.9 1020.8v1.9M934.9 1095.2v1.9M934.9 1119.4v1.9M934.9 1147.0v1.9M934.9 1240.4v1.9M954.5 917.0v1.9M954.5 932.6v1.9M954.5 965.4v1.9M954.5 1046.7v1.9M954.5 1126.3v1.9M954.5 1145.3v1.9M954.5 1178.2v1.9M954.5 1185.1v1.9M954.5 1223.1v1.9M974.0 1000.0v1.9M974.0 1062.3v1.9M974.0 1100.3v1.9M974.0 1112.5v1.9M974.0 1115.9v1.9M974.0 1136.7v1.9M974.0 1186.8v1.9M974.0 1211.0v1.9M974.0 1219.7v1.9M974.0 1238.7v3.6M993.6 1043.3v1.9M993.6 1053.6v1.9M993.6 1079.6v1.9M993.6 1105.5v1.9M993.6 1140.1v1.9M993.6 1173.0v1.9M993.6 1247.4v1.9M1013.1 1039.8v1.9M1013.1 1105.5v3.6M1013.1 1152.2v1.9M1032.7 918.7v1.9M1032.7 1074.4v1.9M1032.7 1102.1v1.9M1032.7 1143.6v1.9M1032.7 1173.0v1.9M1032.7 1214.5v1.9M1032.7 1228.3v1.9M1052.2 915.3v1.9M1052.2 1051.9v1.9M1052.2 1076.1v1.9M1052.2 1141.9v3.6M1052.2 1185.1v1.9M1052.2 1242.2v1.9M1071.7 998.3v1.9M1071.7 1070.9v1.9M1071.7 1091.7v1.9M1071.7 1124.6v1.9M1071.7 1188.5v1.9M1071.7 1205.8v1.9M1071.7 1224.9v1.9M1071.7 1247.4v1.9M1091.3 929.1v1.9M1091.3 1128.0v1.9M1091.3 1204.1v1.9M1091.3 1228.3v3.6M1110.8 917.0v3.6M1110.8 1043.3v1.9M1110.8 1100.3v1.9M1110.8 1107.3v1.9M1110.8 1157.4v1.9M1110.8 1190.3v1.9M1110.8 1219.7v1.9M1110.8 1231.8v1.9M1110.8 1237.0v1.9M1110.8 1250.8v1.9M1130.4 937.8v1.9M1130.4 970.6v1.9M1130.4 1084.8v3.6M1130.4 1098.6v1.9M1130.4 1112.5v1.9M1130.4 1126.3v1.9M1130.4 1141.9v1.9M1130.4 1202.4v1.9M1130.4 1214.5v1.9M1130.4 1252.5v1.9M1149.9 1050.2v1.9M1149.9 1064.0v1.9M1149.9 1112.5v1.9M1149.9 1131.5v1.9M1149.9 1136.7v1.9M1149.9 1183.4v1.9M1149.9 1231.8v1.9" stroke="#b6d4ea" stroke-width="19.70" fill="none"/>
<path d="M759.0 1095.2v3.6M759.0 1102.1v1.9M798.1 956.8v1.9M798.1 965.4v1.9M856.7 1034.6v3.6M876.3 1005.2v1.9M895.8 1026.0v8.8M915.4 1072.7v1.9M954.5 1001.8v7.1M974.0 1013.9v1.9M1013.1 1022.5v3.6M1013.1 1109.0v1.9M1013.1 1131.5v1.9M1013.1 1136.7v1.9M1013.1 1178.2v1.9M1052.2 1027.7v1.9M1052.2 1036.4v1.9M1091.3 1174.7v1.9M1149.9 1034.6v1.9" stroke="#9bc5e3" stroke-width="19.70" fill="none"/>
<path d="M759.0 1148.8v1.9M837.2 1086.5v1.9M856.7 989.7v3.6M876.3 1038.1v1.9M895.8 1038.1v1.9M915.4 1038.1v1.9M934.9 1036.4v3.6M934.9 1041.5v1.9M954.5 1038.1v1.9M974.0 1036.4v3.6M993.6 1038.1v1.9M993.6 1051.9v1.9M1013.1 1038.1v1.9M1032.7 1027.7v5.3M1032.7 1038.1v3.6M1052.2 1038.1v1.9M1052.2 1050.2v1.9M1071.7 1038.1v1.9M1091.3 1038.1v1.9M1110.8 1038.1v1.9M1130.4 1038.1v1.9M1149.9 1038.1v1.9" stroke="#dbe8f6" stroke-width="19.70" fill="none"/>
<path d="M759.0 1174.7v1.9M759.0 1231.8v1.9M778.6 1150.5v1.9M798.1 1167.8v1.9M798.1 1185.1v1.9M817.7 960.3v1.9M817.7 977.6v1.9M837.2 917.0v1.9M837.2 925.7v1.9M837.2 1171.3v1.9M837.2 1254.3v1.9M856.7 993.1v12.3M856.7 1129.7v1.9M856.7 1245.6v1.9M876.3 1183.4v1.9M876.3 1186.8v1.9M876.3 1198.9v1.9M895.8 930.9v1.9M895.8 1100.3v1.9M915.4 915.3v1.9M915.4 1157.4v1.9M934.9 1008.7v1.9M934.9 1015.6v1.9M934.9 1026.0v3.6M954.5 937.8v1.9M954.5 944.7v1.9M954.5 948.1v1.9M954.5 1174.7v1.9M974.0 962.0v1.9M974.0 1173.0v1.9M974.0 1195.5v3.6M993.6 1231.8v1.9M993.6 1243.9v1.9M1013.1 972.4v1.9M1013.1 1001.8v1.9M1032.7 960.3v1.9M1032.7 1022.5v1.9M1032.7 1036.4v1.9M1052.2 960.3v1.9M1052.2 1008.7v1.9M1071.7 949.9v1.9M1071.7 1017.3v1.9M1071.7 1212.8v1.9M1091.3 943.0v1.9M1091.3 1029.4v1.9M1091.3 1226.6v1.9M1091.3 1252.5v1.9M1110.8 1041.5v1.9M1110.8 1188.5v1.9M1130.4 922.2v1.9M1130.4 946.4v1.9M1130.4 994.8v1.9M1130.4 1008.7v1.9M1130.4 1093.4v1.9M1149.9 958.5v1.9M1149.9 1026.0v1.9M1149.9 1117.6v1.9M1149.9 1179.9v1.9M1149.9 1209.3v1.9" stroke="#d3e4f3" stroke-width="19.70" fill="none"/>
<path d="M778.6 956.8v5.3M798.1 1193.7v5.3M954.5 1109.0v1.9" stroke="#18529d" stroke-width="19.70" fill="none"/>
<path d="M856.7 987.9v1.9M856.7 1005.2v1.9M934.9 1024.2v1.9M934.9 1029.4v7.1M974.0 1024.2v1.9M974.0 1027.7v5.3M1032.7 1032.9v3.6" stroke="#e4eef8" stroke-width="19.70" fill="none"/>
<path d="M974.0 1026.0v1.9M974.0 1032.9v3.6M1032.7 1024.2v3.6" stroke="#edf4fb" stroke-width="19.70" fill="none"/>
<rect x="729.70" y="910.10" width="430.00" height="345.90" fill="none" stroke="#111" stroke-width="1.8"/>
<text x="687.10" y="1087.70" font-size="17.9" text-anchor="middle" stroke="#1c1c1c" stroke-width="0.25" fill="#1c1c1c" transform="rotate(-90 687.10 1087.70)">Fraction L2 (L2/L2 + L3 Modules)</text>
<line x1="1175.80" y1="913.60" x2="1175.80" y2="978.10" stroke="#111" stroke-width="1.5"/>
<path d="M1171.70 919.00L1175.80 910.60L1179.90 919.00L1175.80 916.65Z" fill="#111"/>
<line x1="1175.80" y1="1252.50" x2="1175.80" y2="1179.00" stroke="#111" stroke-width="1.5"/>
<path d="M1171.70 1247.10L1175.80 1255.50L1179.90 1247.10L1175.80 1249.45Z" fill="#111"/>
<text x="1169.50" y="1080.30" font-size="17.9" text-anchor="middle" stroke="#1c1c1c" stroke-width="0.25" fill="#1c1c1c" transform="rotate(90 1169.50 1080.30)">Co-association Patterns</text>
<text x="747.47" y="1265.40" font-size="17.55" text-anchor="end" stroke="#1c1c1c" stroke-width="0.25" fill="#1c1c1c" transform="rotate(-90 747.47 1265.40)">AMA.1</text>
<text x="767.02" y="1265.40" font-size="17.55" text-anchor="end" stroke="#1c1c1c" stroke-width="0.25" fill="#1c1c1c" transform="rotate(-90 767.02 1265.40)">GEI.11</text>
<text x="786.56" y="1265.40" font-size="17.55" text-anchor="end" stroke="#1c1c1c" stroke-width="0.25" fill="#1c1c1c" transform="rotate(-90 786.56 1265.40)">NHR.25</text>
<text x="806.11" y="1265.40" font-size="17.55" text-anchor="end" stroke="#1c1c1c" stroke-width="0.25" fill="#1c1c1c" transform="rotate(-90 806.11 1265.40)">SAX.3</text>
<text x="825.65" y="1265.40" font-size="17.55" text-anchor="end" stroke="#1c1c1c" stroke-width="0.25" fill="#1c1c1c" transform="rotate(-90 825.65 1265.40)">ZTF.4</text>
<text x="845.20" y="1265.40" font-size="17.55" text-anchor="end" stroke="#1c1c1c" stroke-width="0.25" fill="#1c1c1c" transform="rotate(-90 845.20 1265.40)">SKN.1</text>
<text x="864.75" y="1265.40" font-size="17.55" text-anchor="end" stroke="#1c1c1c" stroke-width="0.25" fill="#1c1c1c" transform="rotate(-90 864.75 1265.40)">FOS.1</text>
<text x="884.29" y="1265.40" font-size="17.55" text-anchor="end" stroke="#1c1c1c" stroke-width="0.25" fill="#1c1c1c" transform="rotate(-90 884.29 1265.40)">R02D3.7</text>
<text x="903.84" y="1265.40" font-size="17.55" text-anchor="end" stroke="#1c1c1c" stroke-width="0.25" fill="#1c1c1c" transform="rotate(-90 903.84 1265.40)">F45C12.2</text>
<text x="923.38" y="1265.40" font-size="17.55" text-anchor="end" stroke="#1c1c1c" stroke-width="0.25" fill="#1c1c1c" transform="rotate(-90 923.38 1265.40)">NHR.77</text>
<text x="942.93" y="1265.40" font-size="17.55" text-anchor="end" stroke="#1c1c1c" stroke-width="0.25" fill="#1c1c1c" transform="rotate(-90 942.93 1265.40)">UNC.62</text>
<text x="962.47" y="1265.40" font-size="17.55" text-anchor="end" stroke="#1c1c1c" stroke-width="0.25" fill="#1c1c1c" transform="rotate(-90 962.47 1265.40)">CEH.16</text>
<text x="982.02" y="1265.40" font-size="17.55" text-anchor="end" stroke="#1c1c1c" stroke-width="0.25" fill="#1c1c1c" transform="rotate(-90 982.02 1265.40)">ELT.1</text>
<text x="1001.56" y="1265.40" font-size="17.55" text-anchor="end" stroke="#1c1c1c" stroke-width="0.25" fill="#1c1c1c" transform="rotate(-90 1001.56 1265.40)">ZK546.5</text>
<text x="1021.11" y="1265.40" font-size="17.55" text-anchor="end" stroke="#1c1c1c" stroke-width="0.25" fill="#1c1c1c" transform="rotate(-90 1021.11 1265.40)">ZAG.1</text>
<text x="1040.65" y="1265.40" font-size="17.55" text-anchor="end" stroke="#1c1c1c" stroke-width="0.25" fill="#1c1c1c" transform="rotate(-90 1040.65 1265.40)">NHR.23</text>
<text x="1060.20" y="1265.40" font-size="17.55" text-anchor="end" stroke="#1c1c1c" stroke-width="0.25" fill="#1c1c1c" transform="rotate(-90 1060.20 1265.40)">UNC.39</text>
<text x="1079.75" y="1265.40" font-size="17.55" text-anchor="end" stroke="#1c1c1c" stroke-width="0.25" fill="#1c1c1c" transform="rotate(-90 1079.75 1265.40)">NHR.11</text>
<text x="1099.29" y="1265.40" font-size="17.55" text-anchor="end" stroke="#1c1c1c" stroke-width="0.25" fill="#1c1c1c" transform="rotate(-90 1099.29 1265.40)">ALY.2</text>
<text x="1118.84" y="1265.40" font-size="17.55" text-anchor="end" stroke="#1c1c1c" stroke-width="0.25" fill="#1c1c1c" transform="rotate(-90 1118.84 1265.40)">ZTF.11</text>
<text x="1138.38" y="1265.40" font-size="17.55" text-anchor="end" stroke="#1c1c1c" stroke-width="0.25" fill="#1c1c1c" transform="rotate(-90 1138.38 1265.40)">NHR.12</text>
<text x="1157.93" y="1265.40" font-size="17.55" text-anchor="end" stroke="#1c1c1c" stroke-width="0.25" fill="#1c1c1c" transform="rotate(-90 1157.93 1265.40)">NHR.237</text>
<path d="M1329.00 911.10h18.40v1.87h-18.40zM1329.00 912.82h18.40v1.87h-18.40zM1329.00 914.55h18.40v1.87h-18.40zM1329.00 954.21h18.40v1.87h-18.40zM1329.00 955.94h18.40v1.87h-18.40zM1329.00 985.25h18.40v1.87h-18.40zM1329.00 1004.22h18.40v1.87h-18.40zM1329.00 1007.67h18.40v1.87h-18.40zM1329.00 1009.40h18.40v1.87h-18.40zM1329.00 1073.20h18.40v1.87h-18.40zM1329.00 1097.35h18.40v1.87h-18.40zM1329.00 1104.24h18.40v1.87h-18.40zM1329.00 1126.66h18.40v1.87h-18.40zM1329.00 1128.39h18.40v1.87h-18.40zM1329.00 1130.11h18.40v1.87h-18.40zM1329.00 1137.01h18.40v1.87h-18.40zM1329.00 1140.46h18.40v1.87h-18.40zM1329.00 1142.18h18.40v1.87h-18.40zM1329.00 1183.57h18.40v1.87h-18.40zM1329.00 1185.30h18.40v1.87h-18.40zM1329.00 1190.47h18.40v1.87h-18.40zM1329.00 1195.64h18.40v1.87h-18.40zM1329.00 1221.51h18.40v1.87h-18.40zM1329.00 1224.96h18.40v1.87h-18.40zM1329.00 1238.76h18.40v1.87h-18.40zM1329.00 1240.48h18.40v1.87h-18.40z" fill="#fee79a"/>
<path d="M1329.00 916.27h18.40v1.87h-18.40zM1329.00 918.00h18.40v1.87h-18.40zM1329.00 919.72h18.40v1.87h-18.40zM1329.00 930.07h18.40v1.87h-18.40zM1329.00 942.14h18.40v1.87h-18.40zM1329.00 945.59h18.40v1.87h-18.40zM1329.00 968.01h18.40v1.87h-18.40zM1329.00 980.08h18.40v1.87h-18.40zM1329.00 981.80h18.40v1.87h-18.40zM1329.00 1005.95h18.40v1.87h-18.40zM1329.00 1038.71h18.40v1.87h-18.40zM1329.00 1055.96h18.40v1.87h-18.40zM1329.00 1076.65h18.40v1.87h-18.40zM1329.00 1078.38h18.40v1.87h-18.40zM1329.00 1080.10h18.40v1.87h-18.40zM1329.00 1081.83h18.40v1.87h-18.40zM1329.00 1083.55h18.40v1.87h-18.40zM1329.00 1093.90h18.40v1.87h-18.40zM1329.00 1124.94h18.40v1.87h-18.40zM1329.00 1133.56h18.40v1.87h-18.40zM1329.00 1135.29h18.40v1.87h-18.40zM1329.00 1176.67h18.40v1.87h-18.40zM1329.00 1181.85h18.40v1.87h-18.40zM1329.00 1193.92h18.40v1.87h-18.40z" fill="#fff7b3"/>
<path d="M1329.00 921.45h18.40v1.87h-18.40zM1329.00 952.49h18.40v1.87h-18.40zM1329.00 964.56h18.40v1.87h-18.40zM1329.00 966.28h18.40v1.87h-18.40zM1329.00 1033.54h18.40v1.87h-18.40zM1329.00 1035.26h18.40v1.87h-18.40zM1329.00 1036.99h18.40v1.87h-18.40zM1329.00 1042.16h18.40v1.87h-18.40zM1329.00 1049.06h18.40v1.87h-18.40zM1329.00 1059.41h18.40v1.87h-18.40zM1329.00 1071.48h18.40v1.87h-18.40zM1329.00 1074.93h18.40v1.87h-18.40zM1329.00 1099.07h18.40v1.87h-18.40zM1329.00 1131.84h18.40v1.87h-18.40zM1329.00 1197.37h18.40v1.87h-18.40zM1329.00 1199.09h18.40v1.87h-18.40z" fill="#f7fcce"/>
<path d="M1329.00 923.17h18.40v1.87h-18.40zM1329.00 924.90h18.40v1.87h-18.40zM1329.00 962.84h18.40v1.87h-18.40zM1329.00 1021.47h18.40v1.87h-18.40zM1329.00 1023.19h18.40v1.87h-18.40zM1329.00 1064.58h18.40v1.87h-18.40zM1329.00 1066.31h18.40v1.87h-18.40zM1329.00 1112.87h18.40v1.87h-18.40zM1329.00 1121.49h18.40v1.87h-18.40z" fill="#f57446"/>
<path d="M1329.00 926.62h18.40v1.87h-18.40zM1329.00 928.35h18.40v1.87h-18.40zM1329.00 993.88h18.40v1.87h-18.40zM1329.00 999.05h18.40v1.87h-18.40zM1329.00 1047.34h18.40v1.87h-18.40zM1329.00 1100.80h18.40v1.87h-18.40zM1329.00 1162.88h18.40v1.87h-18.40zM1329.00 1169.78h18.40v1.87h-18.40zM1329.00 1173.22h18.40v1.87h-18.40zM1329.00 1214.61h18.40v1.87h-18.40z" fill="#b3ddeb"/>
<path d="M1329.00 931.79h18.40v1.87h-18.40zM1329.00 943.87h18.40v1.87h-18.40zM1329.00 969.73h18.40v1.87h-18.40zM1329.00 978.36h18.40v1.87h-18.40zM1329.00 995.60h18.40v1.87h-18.40zM1329.00 1012.85h18.40v1.87h-18.40zM1329.00 1040.44h18.40v1.87h-18.40zM1329.00 1050.78h18.40v1.87h-18.40zM1329.00 1052.51h18.40v1.87h-18.40zM1329.00 1054.23h18.40v1.87h-18.40zM1329.00 1095.62h18.40v1.87h-18.40zM1329.00 1111.14h18.40v1.87h-18.40z" fill="#e7f6ec"/>
<path d="M1329.00 933.52h18.40v1.87h-18.40zM1329.00 935.24h18.40v1.87h-18.40zM1329.00 936.97h18.40v1.87h-18.40zM1329.00 938.69h18.40v1.87h-18.40zM1329.00 940.42h18.40v1.87h-18.40zM1329.00 986.98h18.40v1.87h-18.40zM1329.00 988.70h18.40v1.87h-18.40zM1329.00 990.43h18.40v1.87h-18.40zM1329.00 992.15h18.40v1.87h-18.40zM1329.00 1243.93h18.40v1.87h-18.40zM1329.00 1245.65h18.40v1.87h-18.40z" fill="#ffffff"/>
<path d="M1329.00 947.31h18.40v1.87h-18.40zM1329.00 949.04h18.40v1.87h-18.40zM1329.00 950.76h18.40v1.87h-18.40zM1329.00 1102.52h18.40v1.87h-18.40zM1329.00 1161.15h18.40v1.87h-18.40z" fill="#cfebf3"/>
<path d="M1329.00 957.66h18.40v1.87h-18.40zM1329.00 959.39h18.40v1.87h-18.40zM1329.00 974.91h18.40v1.87h-18.40zM1329.00 1057.68h18.40v1.87h-18.40zM1329.00 1062.86h18.40v1.87h-18.40zM1329.00 1105.97h18.40v1.87h-18.40zM1329.00 1138.73h18.40v1.87h-18.40zM1329.00 1143.91h18.40v1.87h-18.40zM1329.00 1155.98h18.40v1.87h-18.40zM1329.00 1180.12h18.40v1.87h-18.40zM1329.00 1188.74h18.40v1.87h-18.40zM1329.00 1192.19h18.40v1.87h-18.40z" fill="#fed081"/>
<path d="M1329.00 961.11h18.40v1.87h-18.40zM1329.00 1087.00h18.40v1.87h-18.40z" fill="#d93328"/>
<path d="M1329.00 971.46h18.40v1.87h-18.40zM1329.00 1109.42h18.40v1.87h-18.40zM1329.00 1171.50h18.40v1.87h-18.40zM1329.00 1174.95h18.40v1.87h-18.40zM1329.00 1212.89h18.40v1.87h-18.40zM1329.00 1216.34h18.40v1.87h-18.40zM1329.00 1231.86h18.40v1.87h-18.40zM1329.00 1233.58h18.40v1.87h-18.40zM1329.00 1235.31h18.40v1.87h-18.40zM1329.00 1237.03h18.40v1.87h-18.40z" fill="#4778b6"/>
<path d="M1329.00 973.18h18.40v1.87h-18.40zM1329.00 976.63h18.40v1.87h-18.40zM1329.00 1024.92h18.40v1.87h-18.40zM1329.00 1030.09h18.40v1.87h-18.40zM1329.00 1031.82h18.40v1.87h-18.40zM1329.00 1114.59h18.40v1.87h-18.40zM1329.00 1123.21h18.40v1.87h-18.40zM1329.00 1150.81h18.40v1.87h-18.40z" fill="#fa9656"/>
<path d="M1329.00 983.53h18.40v1.87h-18.40zM1329.00 1019.74h18.40v1.87h-18.40zM1329.00 1026.64h18.40v1.87h-18.40zM1329.00 1028.37h18.40v1.87h-18.40zM1329.00 1061.13h18.40v1.87h-18.40zM1329.00 1068.03h18.40v1.87h-18.40zM1329.00 1187.02h18.40v1.87h-18.40zM1329.00 1218.06h18.40v1.87h-18.40zM1329.00 1219.79h18.40v1.87h-18.40zM1329.00 1223.23h18.40v1.87h-18.40z" fill="#fdb668"/>
<path d="M1329.00 997.33h18.40v1.87h-18.40zM1329.00 1002.50h18.40v1.87h-18.40zM1329.00 1016.29h18.40v1.87h-18.40zM1329.00 1107.69h18.40v1.87h-18.40zM1329.00 1159.43h18.40v1.87h-18.40zM1329.00 1166.33h18.40v1.87h-18.40zM1329.00 1200.82h18.40v1.87h-18.40zM1329.00 1209.44h18.40v1.87h-18.40z" fill="#97c9e0"/>
<path d="M1329.00 1000.77h18.40v1.87h-18.40zM1329.00 1011.12h18.40v1.87h-18.40zM1329.00 1018.02h18.40v1.87h-18.40zM1329.00 1043.89h18.40v1.87h-18.40zM1329.00 1168.05h18.40v1.87h-18.40zM1329.00 1178.40h18.40v1.87h-18.40zM1329.00 1202.54h18.40v1.87h-18.40zM1329.00 1207.71h18.40v1.87h-18.40zM1329.00 1211.16h18.40v1.87h-18.40z" fill="#7ab2d4"/>
<path d="M1329.00 1014.57h18.40v1.87h-18.40zM1329.00 1092.17h18.40v1.87h-18.40zM1329.00 1164.60h18.40v1.87h-18.40zM1329.00 1226.68h18.40v1.87h-18.40zM1329.00 1242.20h18.40v1.87h-18.40z" fill="#313695"/>
<path d="M1329.00 1045.61h18.40v1.87h-18.40zM1329.00 1205.99h18.40v1.87h-18.40zM1329.00 1228.41h18.40v1.87h-18.40zM1329.00 1230.13h18.40v1.87h-18.40z" fill="#3c57a5"/>
<path d="M1329.00 1069.75h18.40v1.87h-18.40zM1329.00 1116.32h18.40v1.87h-18.40zM1329.00 1118.04h18.40v1.87h-18.40zM1329.00 1119.76h18.40v1.87h-18.40zM1329.00 1154.25h18.40v1.87h-18.40zM1329.00 1157.70h18.40v1.87h-18.40z" fill="#e85337"/>
<path d="M1329.00 1085.27h18.40v1.87h-18.40zM1329.00 1088.72h18.40v1.87h-18.40zM1329.00 1090.45h18.40v1.87h-18.40zM1329.00 1249.10h18.40v1.87h-18.40zM1329.00 1254.28h18.40v1.87h-18.40z" fill="#bf2729"/>
<path d="M1329.00 1145.63h18.40v1.87h-18.40zM1329.00 1147.36h18.40v1.87h-18.40zM1329.00 1149.08h18.40v1.87h-18.40zM1329.00 1152.53h18.40v1.87h-18.40zM1329.00 1247.38h18.40v1.87h-18.40zM1329.00 1250.83h18.40v1.87h-18.40zM1329.00 1252.55h18.40v1.87h-18.40z" fill="#a51c2c"/>
<path d="M1329.00 1204.26h18.40v1.87h-18.40z" fill="#6095c5"/>
<rect x="1329.00" y="911.10" width="18.40" height="344.90" fill="none" stroke="#111" stroke-width="1.7"/>
<path d="M1357.5 911.1h430.7v1.9h-430.7zM1357.5 914.5h430.7v1.9h-430.7zM1357.5 924.9h430.7v10.5h-430.7zM1357.5 943.9h430.7v3.6h-430.7zM1357.5 952.5h430.7v1.9h-430.7zM1357.5 955.9h430.7v1.9h-430.7zM1357.5 964.6h430.7v1.9h-430.7zM1357.5 968.0h430.7v1.9h-430.7zM1357.5 976.6h430.7v5.4h-430.7zM1357.5 983.5h430.7v7.1h-430.7zM1357.5 995.6h430.7v1.9h-430.7zM1357.5 999.0h430.7v3.6h-430.7zM1357.5 1004.2h430.7v5.4h-430.7zM1357.5 1011.1h430.7v1.9h-430.7zM1357.5 1021.5h430.7v10.5h-430.7zM1357.5 1035.3h430.7v1.9h-430.7zM1357.5 1042.2h430.7v1.9h-430.7zM1357.5 1045.6h430.7v1.9h-430.7zM1357.5 1049.1h430.7v3.6h-430.7zM1357.5 1054.2h430.7v3.6h-430.7zM1357.5 1059.4h430.7v3.6h-430.7zM1357.5 1069.8h430.7v5.4h-430.7zM1357.5 1078.4h430.7v3.6h-430.7zM1357.5 1095.6h430.7v3.6h-430.7zM1357.5 1104.2h430.7v3.6h-430.7zM1357.5 1109.4h430.7v3.6h-430.7zM1357.5 1114.6h430.7v1.9h-430.7zM1357.5 1121.5h430.7v3.6h-430.7zM1357.5 1126.7h430.7v3.6h-430.7zM1357.5 1133.6h430.7v12.3h-430.7zM1357.5 1147.4h430.7v1.9h-430.7zM1357.5 1161.2h430.7v7.1h-430.7zM1357.5 1169.8h430.7v1.9h-430.7zM1357.5 1178.4h430.7v1.9h-430.7zM1357.5 1181.8h430.7v1.9h-430.7zM1357.5 1185.3h430.7v1.9h-430.7zM1357.5 1188.7h430.7v1.9h-430.7zM1357.5 1192.2h430.7v8.8h-430.7zM1357.5 1202.5h430.7v1.9h-430.7zM1357.5 1206.0h430.7v1.9h-430.7zM1357.5 1209.4h430.7v1.9h-430.7zM1357.5 1214.6h430.7v1.9h-430.7zM1357.5 1218.1h430.7v1.9h-430.7zM1357.5 1221.5h430.7v1.9h-430.7zM1357.5 1225.0h430.7v3.6h-430.7zM1357.5 1230.1h430.7v8.8h-430.7zM1357.5 1240.5h430.7v1.9h-430.7zM1357.5 1243.9h430.7v3.6h-430.7zM1357.5 1249.1h430.7v5.4h-430.7z" fill="#c4dbee"/>
<path d="M1357.5 912.8h430.7v1.9h-430.7zM1357.5 916.3h430.7v8.8h-430.7zM1357.5 935.2h430.7v8.8h-430.7zM1357.5 947.3h430.7v5.4h-430.7zM1357.5 954.2h430.7v1.9h-430.7zM1357.5 957.7h430.7v7.1h-430.7zM1357.5 966.3h430.7v1.9h-430.7zM1357.5 969.7h430.7v7.1h-430.7zM1357.5 981.8h430.7v1.9h-430.7zM1357.5 990.4h430.7v5.4h-430.7zM1357.5 997.3h430.7v1.9h-430.7zM1357.5 1002.5h430.7v1.9h-430.7zM1357.5 1009.4h430.7v1.9h-430.7zM1357.5 1012.8h430.7v8.8h-430.7zM1357.5 1031.8h430.7v3.6h-430.7zM1357.5 1037.0h430.7v1.9h-430.7zM1357.5 1040.4h430.7v1.9h-430.7zM1357.5 1043.9h430.7v1.9h-430.7zM1357.5 1047.3h430.7v1.9h-430.7zM1357.5 1052.5h430.7v1.9h-430.7zM1357.5 1057.7h430.7v1.9h-430.7zM1357.5 1062.9h430.7v7.1h-430.7zM1357.5 1074.9h430.7v3.6h-430.7zM1357.5 1081.8h430.7v14.0h-430.7zM1357.5 1099.1h430.7v5.4h-430.7zM1357.5 1107.7h430.7v1.9h-430.7zM1357.5 1112.9h430.7v1.9h-430.7zM1357.5 1116.3h430.7v5.4h-430.7zM1357.5 1124.9h430.7v1.9h-430.7zM1357.5 1130.1h430.7v3.6h-430.7zM1357.5 1145.6h430.7v1.9h-430.7zM1357.5 1149.1h430.7v12.3h-430.7zM1357.5 1168.1h430.7v1.9h-430.7zM1357.5 1171.5h430.7v7.1h-430.7zM1357.5 1180.1h430.7v1.9h-430.7zM1357.5 1183.6h430.7v1.9h-430.7zM1357.5 1187.0h430.7v1.9h-430.7zM1357.5 1190.5h430.7v1.9h-430.7zM1357.5 1200.8h430.7v1.9h-430.7zM1357.5 1204.3h430.7v1.9h-430.7zM1357.5 1207.7h430.7v1.9h-430.7zM1357.5 1211.2h430.7v3.6h-430.7zM1357.5 1216.3h430.7v1.9h-430.7zM1357.5 1219.8h430.7v1.9h-430.7zM1357.5 1223.2h430.7v1.9h-430.7zM1357.5 1228.4h430.7v1.9h-430.7zM1357.5 1238.8h430.7v1.9h-430.7zM1357.5 1242.2h430.7v1.9h-430.7zM1357.5 1247.4h430.7v1.9h-430.7zM1357.5 1254.3h430.7v1.9h-430.7z" fill="#ccdff1"/>
<path d="M1357.5 1038.7h430.7v1.9h-430.7z" fill="#d3e4f3"/>
<path d="M1365.8 911.1v5.3M1365.8 918.0v5.3M1365.8 964.6v1.9M1365.8 1033.5v1.9M1365.8 1049.1v3.6M1365.8 1054.2v5.3M1365.8 1116.3v3.6M1382.3 928.3v5.3M1382.3 974.9v3.6M1382.3 1085.3v3.6M1415.5 1074.9v3.6M1415.5 1180.1v1.9M1415.5 1190.5v5.3M1415.5 1204.3v1.9M1415.5 1209.4v1.9M1415.5 1225.0v1.9M1432.0 940.4v5.3M1432.0 952.5v7.0M1432.0 961.1v8.8M1432.0 1059.4v1.9M1448.6 950.8v7.0M1465.2 1064.6v1.9M1465.2 1068.0v1.9M1465.2 1076.7v1.9M1481.7 1190.5v1.9M1498.3 1042.2v3.6M1514.9 1099.1v1.9M1514.9 1126.7v1.9M1531.4 1073.2v1.9M1597.7 968.0v1.9M1630.8 1050.8v3.6M1647.4 1047.3v1.9" stroke="#2e7dbe" stroke-width="16.72" fill="none"/>
<path d="M1365.8 924.9v5.3M1365.8 959.4v5.3M1365.8 997.3v1.9M1365.8 1002.5v5.3M1365.8 1019.7v5.3M1365.8 1040.4v1.9M1365.8 1073.2v1.9M1365.8 1119.8v1.9M1382.3 911.1v10.5M1382.3 971.5v1.9M1382.3 1023.2v3.6M1382.3 1030.1v7.0M1382.3 1054.2v3.6M1382.3 1081.8v3.6M1398.9 1005.9v5.3M1398.9 1018.0v5.3M1415.5 1080.1v1.9M1432.0 921.4v5.3M1432.0 931.8v3.6M1432.0 947.3v3.6M1432.0 1057.7v1.9M1448.6 943.9v7.0M1448.6 957.7v1.9M1448.6 1195.6v7.0M1465.2 966.3v1.9M1465.2 1024.9v3.6M1465.2 1062.9v1.9M1465.2 1074.9v1.9M1465.2 1119.8v3.6M1481.7 980.1v5.3M1481.7 1192.2v1.9M1498.3 1012.8v8.8M1498.3 1038.7v3.6M1498.3 1047.3v1.9M1514.9 1128.4v3.6M1597.7 1187.0v1.9" stroke="#3584c2" stroke-width="16.72" fill="none"/>
<path d="M1365.8 930.1v3.6M1365.8 943.9v1.9M1398.9 1042.2v1.9M1398.9 1062.9v1.9M1398.9 1097.3v1.9M1398.9 1149.1v10.5M1398.9 1192.2v1.9M1398.9 1209.4v1.9M1415.5 995.6v1.9M1415.5 1024.9v1.9M1432.0 935.2v1.9M1432.0 1123.2v1.9M1465.2 919.7v1.9M1465.2 930.1v1.9M1465.2 952.5v1.9M1465.2 978.4v1.9M1465.2 995.6v1.9M1465.2 1050.8v1.9M1465.2 1116.3v1.9M1465.2 1138.7v1.9M1481.7 911.1v1.9M1481.7 1002.5v1.9M1481.7 1028.4v1.9M1481.7 1061.1v1.9M1498.3 926.6v1.9M1498.3 955.9v1.9M1498.3 983.5v1.9M1498.3 1143.9v1.9M1498.3 1159.4v1.9M1498.3 1237.0v1.9M1514.9 911.1v1.9M1514.9 1024.9v1.9M1514.9 1037.0v1.9M1514.9 1195.6v1.9M1514.9 1249.1v1.9M1531.4 1150.8v1.9M1531.4 1240.5v1.9M1531.4 1250.8v1.9M1548.0 921.4v1.9M1548.0 1133.6v1.9M1548.0 1211.2v1.9M1564.6 1011.1v1.9M1564.6 1178.4v1.9M1581.1 971.5v1.9M1581.1 997.3v1.9M1581.1 1026.6v1.9M1581.1 1130.1v1.9M1597.7 999.0v1.9M1597.7 1095.6v1.9M1614.3 916.3v1.9M1614.3 962.8v1.9M1614.3 981.8v1.9M1614.3 1137.0v1.9M1630.8 911.1v1.9M1630.8 923.2v1.9M1630.8 964.6v1.9M1630.8 981.8v1.9M1630.8 1000.8v1.9M1630.8 1026.6v1.9M1630.8 1080.1v1.9M1630.8 1206.0v1.9M1647.4 1030.1v1.9M1647.4 1071.5v1.9M1647.4 1083.5v1.9M1647.4 1095.6v1.9M1647.4 1174.9v1.9M1647.4 1206.0v1.9M1664.0 935.2v1.9M1664.0 983.5v1.9M1664.0 987.0v1.9M1664.0 1114.6v3.6M1664.0 1123.2v1.9M1664.0 1161.2v1.9M1664.0 1174.9v1.9M1664.0 1225.0v1.9M1680.5 1071.5v1.9M1680.5 1111.1v1.9M1680.5 1143.9v1.9M1680.5 1181.8v1.9M1680.5 1202.5v1.9M1697.1 973.2v1.9M1697.1 976.6v1.9M1697.1 1042.2v1.9M1697.1 1045.6v1.9M1697.1 1114.6v1.9M1697.1 1130.1v1.9M1697.1 1176.7v1.9M1697.1 1197.4v1.9M1713.7 988.7v1.9M1730.2 968.0v1.9M1730.2 1021.5v1.9M1730.2 1030.1v1.9M1730.2 1056.0v1.9M1730.2 1147.4v1.9M1746.8 921.4v1.9M1746.8 1045.6v1.9M1746.8 1078.4v3.6M1746.8 1123.2v1.9M1746.8 1166.3v1.9M1763.4 919.7v1.9M1763.4 1138.7v1.9M1763.4 1174.9v1.9M1779.9 933.5v1.9M1779.9 942.1v1.9M1779.9 978.4v1.9M1779.9 1116.3v3.6M1779.9 1121.5v1.9M1779.9 1135.3v1.9M1779.9 1152.5v1.9M1779.9 1178.4v1.9M1779.9 1226.7v1.9" stroke="#b6d4ea" stroke-width="16.72" fill="none"/>
<path d="M1365.8 935.2v7.0M1382.3 961.1v3.6M1382.3 1018.0v1.9M1382.3 1092.2v1.9M1382.3 1112.9v1.9M1398.9 1145.6v1.9M1415.5 1090.4v1.9M1432.0 1068.0v1.9M1432.0 1093.9v1.9M1432.0 1112.9v1.9M1432.0 1200.8v1.9M1448.6 971.5v1.9M1448.6 974.9v1.9M1448.6 1047.3v1.9M1448.6 1062.9v1.9M1448.6 1081.8v1.9M1448.6 1131.8v1.9M1448.6 1174.9v1.9M1448.6 1212.9v1.9M1465.2 990.4v1.9M1465.2 1009.4v1.9M1465.2 1040.4v1.9M1465.2 1149.1v1.9M1465.2 1219.8v1.9M1465.2 1254.3v1.9M1481.7 954.2v1.9M1481.7 971.5v1.9M1481.7 1031.8v1.9M1481.7 1124.9v1.9M1481.7 1174.9v3.6M1498.3 957.7v1.9M1498.3 1102.5v1.9M1498.3 1200.8v1.9M1498.3 1216.3v1.9M1514.9 918.0v1.9M1514.9 938.7v1.9M1514.9 971.5v1.9M1514.9 1074.9v1.9M1514.9 1119.8v1.9M1514.9 1176.7v1.9M1514.9 1216.3v1.9M1531.4 942.1v1.9M1531.4 954.2v1.9M1531.4 993.9v1.9M1531.4 1043.9v1.9M1531.4 1154.3v1.9M1531.4 1157.7v1.9M1531.4 1200.8v1.9M1548.0 923.2v1.9M1548.0 961.1v3.6M1548.0 969.7v1.9M1548.0 973.2v1.9M1548.0 997.3v1.9M1548.0 1112.9v1.9M1548.0 1207.7v1.9M1548.0 1247.4v1.9M1564.6 912.8v1.9M1564.6 921.4v1.9M1564.6 1068.0v1.9M1564.6 1076.7v1.9M1564.6 1107.7v1.9M1564.6 1183.6v1.9M1564.6 1219.8v1.9M1581.1 916.3v1.9M1581.1 1062.9v1.9M1581.1 1074.9v1.9M1581.1 1152.5v1.9M1597.7 942.1v1.9M1597.7 949.0v1.9M1597.7 974.9v1.9M1597.7 997.3v1.9M1597.7 1009.4v1.9M1597.7 1087.0v1.9M1597.7 1092.2v1.9M1597.7 1112.9v1.9M1597.7 1119.8v1.9M1597.7 1152.5v1.9M1597.7 1176.7v1.9M1597.7 1183.6v1.9M1597.7 1200.8v1.9M1597.7 1216.3v1.9M1614.3 966.3v1.9M1614.3 997.3v1.9M1614.3 1014.6v1.9M1630.8 921.4v1.9M1630.8 938.7v1.9M1630.8 942.1v1.9M1630.8 993.9v1.9M1630.8 1119.8v1.9M1630.8 1173.2v1.9M1630.8 1212.9v1.9M1630.8 1219.8v1.9M1647.4 937.0v1.9M1647.4 1019.7v1.9M1647.4 1085.3v1.9M1647.4 1093.9v1.9M1647.4 1112.9v1.9M1664.0 1012.8v1.9M1664.0 1043.9v1.9M1664.0 1176.7v1.9M1664.0 1204.3v1.9M1664.0 1219.8v1.9M1680.5 923.2v1.9M1680.5 940.4v1.9M1680.5 971.5v1.9M1680.5 1043.9v1.9M1680.5 1052.5v1.9M1680.5 1074.9v1.9M1680.5 1088.7v3.6M1680.5 1145.6v1.9M1680.5 1152.5v1.9M1697.1 1099.1v1.9M1697.1 1131.8v1.9M1697.1 1157.7v3.6M1697.1 1180.1v1.9M1713.7 912.8v1.9M1713.7 949.0v1.9M1713.7 1016.3v1.9M1713.7 1152.5v1.9M1713.7 1171.5v1.9M1713.7 1183.6v1.9M1713.7 1242.2v1.9M1730.2 973.2v1.9M1730.2 1040.4v1.9M1730.2 1068.0v1.9M1730.2 1076.7v1.9M1730.2 1174.9v1.9M1730.2 1228.4v1.9M1746.8 954.2v1.9M1746.8 971.5v1.9M1746.8 992.2v1.9M1746.8 1047.3v1.9M1746.8 1074.9v1.9M1746.8 1112.9v1.9M1746.8 1116.3v1.9M1746.8 1154.3v1.9M1763.4 918.0v1.9M1763.4 957.7v1.9M1763.4 962.8v1.9M1763.4 973.2v1.9M1763.4 1064.6v1.9M1763.4 1131.8v1.9M1763.4 1149.1v1.9M1763.4 1216.3v1.9M1779.9 937.0v1.9M1779.9 974.9v1.9M1779.9 981.8v1.9M1779.9 1038.7v1.9M1779.9 1130.1v3.6M1779.9 1154.3v1.9M1779.9 1174.9v1.9M1779.9 1200.8v1.9M1779.9 1204.3v1.9" stroke="#c4dbee" stroke-width="16.72" fill="none"/>
<path d="M1365.8 945.6v7.0M1365.8 995.6v1.9M1365.8 1007.7v12.2M1365.8 1024.9v1.9M1365.8 1030.1v1.9M1365.8 1035.3v3.6M1365.8 1059.4v8.8M1365.8 1071.5v1.9M1365.8 1085.3v1.9M1365.8 1109.4v1.9M1365.8 1164.6v7.0M1365.8 1230.1v3.6M1382.3 950.8v3.6M1382.3 1071.5v1.9M1382.3 1074.9v1.9M1382.3 1131.8v1.9M1382.3 1140.5v1.9M1382.3 1159.4v7.0M1382.3 1237.0v1.9M1398.9 1085.3v3.6M1398.9 1199.1v1.9M1398.9 1212.9v1.9M1415.5 983.5v3.6M1415.5 1099.1v1.9M1432.0 945.6v1.9M1432.0 1038.7v1.9M1432.0 1100.8v3.6M1432.0 1142.2v3.6M1432.0 1159.4v10.5M1432.0 1173.2v5.3M1448.6 1111.1v1.9M1465.2 912.8v1.9M1465.2 1037.0v1.9M1465.2 1154.3v1.9M1465.2 1211.2v7.0M1481.7 964.6v1.9M1481.7 1023.2v3.6M1498.3 997.3v1.9M1498.3 1049.1v3.6M1581.1 1145.6v1.9M1597.7 931.8v1.9M1614.3 1049.1v1.9M1614.3 1231.9v3.6" stroke="#4693cb" stroke-width="16.72" fill="none"/>
<path d="M1365.8 952.5v1.9M1365.8 1074.9v1.9M1365.8 1124.9v3.6M1365.8 1131.8v1.9M1365.8 1142.2v3.6M1365.8 1156.0v7.0M1365.8 1192.2v1.9M1382.3 966.3v1.9M1382.3 1166.3v3.6M1382.3 1174.9v1.9M1382.3 1207.7v3.6M1382.3 1218.1v1.9M1382.3 1221.5v1.9M1398.9 940.4v1.9M1398.9 1100.8v1.9M1398.9 1104.2v1.9M1398.9 1121.5v1.9M1398.9 1126.7v3.6M1398.9 1216.3v1.9M1398.9 1242.2v1.9M1415.5 926.6v1.9M1415.5 1104.2v1.9M1415.5 1143.9v5.3M1415.5 1156.0v3.6M1415.5 1166.3v1.9M1415.5 1228.4v1.9M1415.5 1243.9v5.3M1432.0 1149.1v10.5M1432.0 1243.9v5.3M1448.6 962.8v1.9M1465.2 1104.2v3.6M1465.2 1156.0v1.9M1465.2 1164.6v1.9M1465.2 1173.2v1.9M1481.7 923.2v3.6M1481.7 985.3v1.9M1481.7 997.3v3.6M1481.7 1137.0v1.9M1498.3 1154.3v1.9M1514.9 1140.5v12.2M1531.4 1028.4v1.9M1564.6 1185.3v1.9M1564.6 1200.8v1.9M1581.1 1106.0v1.9M1581.1 1147.4v3.6M1630.8 1112.9v1.9" stroke="#549ccf" stroke-width="16.72" fill="none"/>
<path d="M1365.8 954.2v1.9M1365.8 987.0v3.6M1365.8 1042.2v7.0M1365.8 1199.1v1.9M1382.3 926.6v1.9M1382.3 933.5v5.3M1382.3 1078.4v3.6M1398.9 976.6v8.8M1415.5 1197.4v7.0M1415.5 1207.7v1.9M1415.5 1211.2v5.3M1432.0 959.4v1.9M1432.0 969.7v3.6M1448.6 1023.2v15.7M1481.7 1193.9v1.9M1498.3 1021.5v1.9M1498.3 1056.0v1.9M1514.9 1112.9v1.9M1597.7 1180.1v3.6M1664.0 1085.3v1.9" stroke="#2976b9" stroke-width="16.72" fill="none"/>
<path d="M1365.8 968.0v3.6M1365.8 999.0v3.6M1365.8 1076.7v1.9M1365.8 1081.8v3.6M1365.8 1088.7v1.9M1365.8 1093.9v8.8M1382.3 1143.9v8.8M1382.3 1185.3v3.6M1382.3 1238.8v1.9M1382.3 1247.4v8.8M1398.9 911.1v8.8M1398.9 928.3v1.9M1398.9 942.1v1.9M1398.9 954.2v1.9M1398.9 961.1v1.9M1398.9 1066.3v1.9M1398.9 1131.8v3.6M1398.9 1193.9v5.3M1398.9 1204.3v5.3M1398.9 1214.6v1.9M1398.9 1233.6v1.9M1415.5 916.3v1.9M1415.5 962.8v1.9M1415.5 990.4v1.9M1415.5 1047.3v1.9M1415.5 1111.1v3.6M1415.5 1140.5v3.6M1415.5 1230.1v1.9M1415.5 1233.6v5.3M1432.0 993.9v1.9M1432.0 1028.4v3.6M1432.0 1169.8v3.6M1432.0 1178.4v12.2M1432.0 1207.7v5.3M1432.0 1252.6v1.9M1448.6 911.1v3.6M1448.6 928.3v1.9M1448.6 959.4v3.6M1448.6 1214.6v1.9M1448.6 1249.1v3.6M1465.2 914.5v1.9M1465.2 947.3v1.9M1465.2 985.3v1.9M1465.2 1030.1v1.9M1465.2 1157.7v3.6M1465.2 1228.4v8.8M1465.2 1242.2v1.9M1481.7 926.6v1.9M1481.7 938.7v3.6M1481.7 1162.9v7.0M1481.7 1235.3v5.3M1498.3 1147.4v3.6M1498.3 1174.9v1.9M1548.0 987.0v5.3M1564.6 1240.5v1.9M1581.1 961.1v1.9M1581.1 1237.0v1.9M1614.3 961.1v1.9M1614.3 987.0v1.9M1614.3 1228.4v3.6" stroke="#76b1d9" stroke-width="16.72" fill="none"/>
<path d="M1365.8 973.2v1.9M1365.8 1104.2v3.6M1382.3 1107.7v1.9M1382.3 1233.6v3.6M1398.9 921.4v1.9M1398.9 930.1v3.6M1398.9 1221.5v1.9M1398.9 1230.1v3.6M1398.9 1235.3v1.9M1432.0 1124.9v3.6M1448.6 1147.4v3.6M1448.6 1159.4v1.9M1481.7 943.9v3.6M1481.7 1152.5v1.9M1481.7 1188.7v1.9M1481.7 1195.6v1.9M1498.3 914.5v1.9M1498.3 1228.4v1.9M1514.9 935.2v1.9M1514.9 943.9v1.9M1514.9 973.2v1.9M1514.9 1162.9v1.9M1514.9 1240.5v1.9M1514.9 1250.8v1.9M1548.0 1242.2v3.6M1564.6 1157.7v1.9M1564.6 1233.6v1.9M1564.6 1247.4v3.6M1581.1 1169.8v1.9M1581.1 1240.5v5.3M1614.3 1093.9v1.9M1614.3 1099.1v1.9M1647.4 988.7v1.9M1647.4 1028.4v1.9M1680.5 1242.2v1.9M1713.7 1206.0v1.9" stroke="#9bc5e3" stroke-width="16.72" fill="none"/>
<path d="M1365.8 992.2v3.6M1365.8 1107.7v1.9M1365.8 1111.1v3.6M1365.8 1123.2v1.9M1365.8 1130.1v1.9M1365.8 1137.0v1.9M1365.8 1171.5v7.0M1365.8 1212.9v3.6M1365.8 1225.0v1.9M1382.3 921.4v1.9M1382.3 945.6v5.3M1382.3 997.3v3.6M1382.3 1004.2v3.6M1382.3 1026.6v1.9M1382.3 1111.1v1.9M1382.3 1124.9v1.9M1382.3 1128.4v3.6M1382.3 1133.6v7.0M1382.3 1171.5v3.6M1382.3 1211.2v1.9M1398.9 1011.1v3.6M1398.9 1016.3v1.9M1398.9 1037.0v1.9M1415.5 942.1v1.9M1415.5 1081.8v3.6M1415.5 1195.6v1.9M1415.5 1218.1v7.0M1432.0 926.6v5.3M1432.0 1011.1v3.6M1432.0 1080.1v3.6M1465.2 1012.8v5.3M1465.2 1066.3v1.9M1465.2 1097.3v3.6M1481.7 928.3v1.9M1498.3 1037.0v1.9M1498.3 1092.2v1.9M1514.9 1124.9v1.9M1514.9 1131.8v7.0M1597.7 1188.7v1.9M1697.1 1076.7v1.9" stroke="#3c8bc6" stroke-width="16.72" fill="none"/>
<path d="M1365.8 1052.5v1.9M1382.3 978.4v1.9M1398.9 992.2v1.9M1398.9 995.6v1.9M1415.5 1178.4v1.9M1448.6 1000.8v12.2M1448.6 1038.7v3.6M1498.3 1059.4v1.9M1514.9 1104.2v8.8M1531.4 1068.0v5.3" stroke="#236eb4" stroke-width="16.72" fill="none"/>
<path d="M1365.8 1069.8v1.9M1365.8 1114.6v1.9M1365.8 1147.4v1.9M1365.8 1162.9v1.9M1365.8 1218.1v1.9M1365.8 1221.5v1.9M1382.3 924.9v1.9M1382.3 1050.8v1.9M1382.3 1114.6v1.9M1382.3 1123.2v1.9M1382.3 1169.8v1.9M1382.3 1197.4v1.9M1382.3 1245.7v1.9M1398.9 1054.2v3.6M1398.9 1123.2v1.9M1415.5 987.0v1.9M1415.5 1004.2v1.9M1415.5 1049.1v1.9M1415.5 1188.7v1.9M1415.5 1206.0v1.9M1415.5 1231.9v1.9M1415.5 1249.1v1.9M1432.0 1049.1v1.9M1432.0 1104.2v1.9M1432.0 1128.4v1.9M1432.0 1147.4v1.9M1432.0 1214.6v1.9M1432.0 1231.9v1.9M1448.6 924.9v1.9M1448.6 1049.1v3.6M1448.6 1206.0v1.9M1448.6 1231.9v7.0M1448.6 1240.5v1.9M1448.6 1243.9v1.9M1465.2 1004.2v1.9M1465.2 1028.4v1.9M1465.2 1161.2v1.9M1465.2 1206.0v1.9M1465.2 1245.7v1.9M1481.7 1000.8v1.9M1498.3 931.8v3.6M1498.3 952.5v1.9M1498.3 999.0v1.9M1498.3 1197.4v1.9M1498.3 1206.0v1.9M1514.9 983.5v1.9M1514.9 1073.2v1.9M1514.9 1095.6v1.9M1514.9 1192.2v1.9M1531.4 952.5v1.9M1531.4 988.7v1.9M1531.4 1026.6v1.9M1531.4 1038.7v1.9M1531.4 1042.2v1.9M1531.4 1138.7v1.9M1531.4 1147.4v1.9M1531.4 1185.3v1.9M1531.4 1226.7v1.9M1548.0 978.4v1.9M1548.0 983.5v1.9M1548.0 1000.8v1.9M1548.0 1007.7v1.9M1548.0 1042.2v1.9M1548.0 1045.6v1.9M1548.0 1097.3v1.9M1548.0 1128.4v1.9M1548.0 1161.2v1.9M1548.0 1231.9v1.9M1564.6 914.5v1.9M1564.6 976.6v1.9M1564.6 1005.9v1.9M1564.6 1035.3v1.9M1564.6 1038.7v1.9M1564.6 1114.6v1.9M1581.1 924.9v1.9M1581.1 931.8v1.9M1581.1 980.1v1.9M1581.1 1011.1v1.9M1581.1 1024.9v1.9M1581.1 1030.1v1.9M1581.1 1038.7v1.9M1581.1 1111.1v1.9M1597.7 943.9v3.6M1597.7 1114.6v1.9M1597.7 1147.4v1.9M1597.7 1199.1v1.9M1597.7 1218.1v1.9M1597.7 1230.1v3.6M1597.7 1235.3v3.6M1597.7 1240.5v1.9M1597.7 1243.9v1.9M1597.7 1250.8v3.6M1614.3 943.9v3.6M1614.3 955.9v1.9M1614.3 1030.1v1.9M1614.3 1140.5v1.9M1614.3 1162.9v1.9M1614.3 1237.0v1.9M1614.3 1240.5v1.9M1614.3 1245.7v1.9M1614.3 1249.1v5.3M1630.8 1049.1v1.9M1630.8 1069.8v1.9M1630.8 1140.5v1.9M1630.8 1202.5v1.9M1630.8 1209.4v1.9M1630.8 1231.9v7.0M1630.8 1250.8v3.6M1647.4 926.6v1.9M1647.4 995.6v1.9M1647.4 1004.2v1.9M1647.4 1128.4v1.9M1647.4 1140.5v1.9M1647.4 1231.9v3.6M1647.4 1249.1v5.3M1664.0 945.6v1.9M1664.0 1071.5v1.9M1664.0 1188.7v1.9M1664.0 1230.1v3.6M1664.0 1235.3v3.6M1664.0 1240.5v1.9M1664.0 1243.9v3.6M1664.0 1249.1v5.3M1680.5 985.3v1.9M1680.5 1028.4v1.9M1680.5 1104.2v1.9M1680.5 1197.4v1.9M1680.5 1230.1v8.8M1680.5 1240.5v1.9M1680.5 1245.7v1.9M1680.5 1249.1v5.3M1697.1 931.8v1.9M1697.1 1061.1v1.9M1697.1 1106.0v1.9M1697.1 1147.4v1.9M1697.1 1166.3v1.9M1697.1 1202.5v1.9M1697.1 1218.1v1.9M1697.1 1225.0v1.9M1697.1 1230.1v8.8M1697.1 1240.5v1.9M1697.1 1245.7v1.9M1697.1 1249.1v5.3M1713.7 943.9v1.9M1713.7 1038.7v1.9M1713.7 1121.5v3.6M1713.7 1197.4v1.9M1713.7 1225.0v1.9M1713.7 1231.9v7.0M1713.7 1240.5v1.9M1713.7 1245.7v1.9M1713.7 1252.6v1.9M1730.2 943.9v1.9M1730.2 999.0v1.9M1730.2 1026.6v1.9M1730.2 1061.1v1.9M1730.2 1121.5v1.9M1730.2 1178.4v1.9M1730.2 1230.1v3.6M1730.2 1235.3v3.6M1730.2 1240.5v1.9M1730.2 1249.1v5.3M1746.8 964.6v1.9M1746.8 1023.2v1.9M1746.8 1104.2v1.9M1746.8 1109.4v1.9M1746.8 1138.7v1.9M1746.8 1233.6v5.3M1746.8 1240.5v1.9M1746.8 1245.7v1.9M1746.8 1249.1v5.3M1763.4 1011.1v1.9M1763.4 1078.4v1.9M1763.4 1097.3v1.9M1763.4 1111.1v1.9M1763.4 1193.9v3.6M1763.4 1209.4v1.9M1763.4 1230.1v8.8M1763.4 1240.5v1.9M1763.4 1249.1v3.6M1779.9 928.3v3.6M1779.9 985.3v1.9M1779.9 1061.1v1.9M1779.9 1104.2v1.9M1779.9 1128.4v1.9M1779.9 1133.6v1.9M1779.9 1169.8v1.9M1779.9 1202.5v1.9M1779.9 1230.1v8.8M1779.9 1240.5v1.9M1779.9 1245.7v1.9M1779.9 1249.1v5.3" stroke="#ccdff1" stroke-width="16.72" fill="none"/>
<path d="M1365.8 1128.4v1.9M1432.0 1037.0v1.9M1481.7 919.7v1.9M1481.7 1012.8v1.9M1531.4 1052.5v1.9M1564.6 937.0v1.9M1581.1 1066.3v1.9M1581.1 1124.9v1.9M1597.7 1247.4v1.9M1614.3 957.7v1.9M1614.3 1033.5v1.9M1630.8 1238.8v1.9M1630.8 1249.1v1.9M1647.4 1212.9v1.9M1647.4 1237.0v3.6M1647.4 1243.9v3.6M1697.1 959.4v1.9M1697.1 1126.7v1.9M1697.1 1188.7v1.9M1697.1 1242.2v1.9M1730.2 1245.7v1.9M1746.8 1231.9v1.9M1779.9 966.3v1.9M1779.9 1004.2v1.9M1779.9 1254.3v1.9" stroke="#dbe8f6" stroke-width="16.72" fill="none"/>
<path d="M1365.8 1133.6v1.9M1365.8 1228.4v1.9M1365.8 1249.1v5.3M1382.3 1012.8v1.9M1382.3 1019.7v3.6M1382.3 1109.4v1.9M1382.3 1231.9v1.9M1382.3 1240.5v5.3M1398.9 919.7v1.9M1398.9 945.6v1.9M1398.9 949.0v5.3M1398.9 1166.3v7.0M1398.9 1211.2v1.9M1398.9 1228.4v1.9M1398.9 1237.0v5.3M1398.9 1243.9v12.2M1415.5 937.0v1.9M1415.5 945.6v3.6M1415.5 1106.0v3.6M1415.5 1118.0v1.9M1415.5 1123.2v1.9M1415.5 1174.9v3.6M1432.0 1045.6v1.9M1432.0 1107.7v3.6M1432.0 1206.0v1.9M1448.6 1021.5v1.9M1448.6 1130.1v1.9M1448.6 1154.3v5.3M1448.6 1161.2v7.0M1448.6 1245.7v3.6M1465.2 918.0v1.9M1465.2 942.1v5.3M1465.2 1085.3v1.9M1465.2 1169.8v3.6M1465.2 1243.9v1.9M1481.7 1093.9v3.6M1481.7 1138.7v1.9M1481.7 1240.5v15.7M1498.3 1185.3v1.9M1498.3 1188.7v3.6M1498.3 1245.7v5.3M1498.3 1254.3v1.9M1531.4 1181.8v1.9M1548.0 933.5v1.9M1564.6 1238.8v1.9M1564.6 1242.2v5.3M1614.3 990.4v1.9M1614.3 1169.8v1.9M1680.5 1243.9v1.9" stroke="#8bbcdf" stroke-width="16.72" fill="none"/>
<path d="M1365.8 1135.3v1.9M1365.8 1149.1v7.0M1365.8 1197.4v1.9M1365.8 1206.0v1.9M1365.8 1237.0v5.3M1365.8 1245.7v3.6M1365.8 1254.3v1.9M1382.3 992.2v3.6M1382.3 1062.9v3.6M1382.3 1088.7v1.9M1382.3 1095.6v1.9M1382.3 1142.2v1.9M1382.3 1152.5v7.0M1382.3 1176.7v1.9M1382.3 1192.2v3.6M1382.3 1206.0v1.9M1382.3 1228.4v3.6M1398.9 1064.6v1.9M1398.9 1130.1v1.9M1398.9 1161.2v5.3M1398.9 1173.2v5.3M1415.5 921.4v1.9M1415.5 955.9v1.9M1415.5 1011.1v1.9M1415.5 1035.3v1.9M1415.5 1087.0v3.6M1415.5 1135.3v3.6M1415.5 1149.1v7.0M1415.5 1159.4v7.0M1415.5 1168.1v7.0M1415.5 1238.8v5.3M1415.5 1250.8v5.3M1432.0 911.1v5.3M1432.0 980.1v3.6M1432.0 1078.4v1.9M1432.0 1190.5v1.9M1432.0 1228.4v3.6M1432.0 1233.6v10.5M1432.0 1249.1v3.6M1432.0 1254.3v1.9M1448.6 964.6v3.6M1448.6 1068.0v3.6M1448.6 1150.8v3.6M1448.6 1188.7v1.9M1448.6 1225.0v3.6M1448.6 1252.6v3.6M1465.2 937.0v1.9M1465.2 971.5v1.9M1465.2 1237.0v5.3M1481.7 1071.5v3.6M1498.3 1150.8v3.6M1498.3 1250.8v3.6M1581.1 1140.5v5.3M1614.3 1235.3v1.9" stroke="#62a5d4" stroke-width="16.72" fill="none"/>
<path d="M1365.8 1233.6v1.9M1382.3 1102.5v1.9M1398.9 1035.3v1.9M1398.9 1043.9v1.9M1398.9 1095.6v1.9M1398.9 1107.7v1.9M1415.5 1018.0v1.9M1415.5 1093.9v1.9M1432.0 950.8v1.9M1432.0 1085.3v1.9M1432.0 1106.0v1.9M1448.6 992.2v1.9M1448.6 1074.9v1.9M1448.6 1171.5v1.9M1448.6 1187.0v1.9M1448.6 1216.3v1.9M1465.2 1007.7v1.9M1465.2 1019.7v1.9M1465.2 1180.1v1.9M1481.7 949.0v1.9M1481.7 993.9v1.9M1498.3 924.9v1.9M1498.3 940.4v1.9M1498.3 961.1v1.9M1498.3 1066.3v1.9M1498.3 1093.9v1.9M1498.3 1097.3v1.9M1498.3 1133.6v1.9M1498.3 1156.0v1.9M1514.9 912.8v1.9M1514.9 980.1v1.9M1514.9 1000.8v1.9M1514.9 1083.5v1.9M1531.4 985.3v1.9M1531.4 1000.8v1.9M1531.4 1009.4v1.9M1531.4 1081.8v1.9M1531.4 1107.7v1.9M1531.4 1114.6v1.9M1531.4 1131.8v1.9M1548.0 968.0v1.9M1548.0 1080.1v1.9M1548.0 1140.5v1.9M1564.6 957.7v1.9M1564.6 974.9v1.9M1564.6 1016.3v1.9M1564.6 1111.1v1.9M1564.6 1223.2v1.9M1581.1 1019.7v1.9M1581.1 1076.7v1.9M1581.1 1116.3v1.9M1597.7 959.4v1.9M1597.7 980.1v1.9M1597.7 1190.5v1.9M1597.7 1233.6v1.9M1597.7 1238.8v1.9M1597.7 1242.2v1.9M1597.7 1245.7v1.9M1597.7 1254.3v1.9M1614.3 1037.0v1.9M1614.3 1081.8v1.9M1614.3 1238.8v1.9M1614.3 1243.9v1.9M1614.3 1247.4v1.9M1614.3 1254.3v1.9M1630.8 918.0v1.9M1630.8 1081.8v1.9M1630.8 1128.4v1.9M1630.8 1156.0v1.9M1630.8 1218.1v1.9M1630.8 1228.4v3.6M1630.8 1247.4v1.9M1630.8 1254.3v1.9M1647.4 942.1v1.9M1647.4 1052.5v1.9M1647.4 1088.7v1.9M1647.4 1164.6v1.9M1647.4 1228.4v3.6M1647.4 1235.3v1.9M1647.4 1247.4v1.9M1647.4 1254.3v1.9M1664.0 1031.8v1.9M1664.0 1088.7v1.9M1664.0 1157.7v1.9M1664.0 1180.1v1.9M1664.0 1183.6v1.9M1664.0 1187.0v1.9M1664.0 1228.4v1.9M1664.0 1233.6v1.9M1664.0 1238.8v1.9M1664.0 1242.2v1.9M1664.0 1247.4v1.9M1664.0 1254.3v1.9M1680.5 933.5v3.6M1680.5 1009.4v1.9M1680.5 1014.6v1.9M1680.5 1037.0v1.9M1680.5 1228.4v1.9M1680.5 1238.8v1.9M1680.5 1247.4v1.9M1680.5 1254.3v1.9M1697.1 949.0v1.9M1697.1 1054.2v1.9M1697.1 1064.6v1.9M1697.1 1228.4v1.9M1697.1 1238.8v1.9M1697.1 1243.9v1.9M1697.1 1247.4v1.9M1697.1 1254.3v1.9M1713.7 935.2v1.9M1713.7 957.7v1.9M1713.7 993.9v1.9M1713.7 1118.0v1.9M1713.7 1207.7v1.9M1713.7 1219.8v1.9M1713.7 1228.4v1.9M1713.7 1243.9v1.9M1713.7 1247.4v1.9M1713.7 1254.3v1.9M1730.2 957.7v1.9M1730.2 990.4v1.9M1730.2 1031.8v1.9M1730.2 1069.8v1.9M1730.2 1157.7v1.9M1730.2 1180.1v1.9M1730.2 1233.6v1.9M1730.2 1238.8v1.9M1730.2 1242.2v3.6M1730.2 1247.4v1.9M1730.2 1254.3v1.9M1746.8 1002.5v1.9M1746.8 1016.3v1.9M1746.8 1130.1v1.9M1746.8 1145.6v1.9M1746.8 1181.8v1.9M1746.8 1187.0v1.9M1746.8 1226.7v5.3M1746.8 1238.8v1.9M1746.8 1242.2v3.6M1746.8 1247.4v1.9M1746.8 1254.3v1.9M1763.4 947.3v1.9M1763.4 954.2v1.9M1763.4 1102.5v1.9M1763.4 1118.0v1.9M1763.4 1211.2v1.9M1763.4 1238.8v1.9M1763.4 1242.2v5.3M1763.4 1252.6v1.9M1779.9 983.5v1.9M1779.9 1188.7v1.9M1779.9 1209.4v1.9M1779.9 1212.9v1.9M1779.9 1228.4v1.9M1779.9 1238.8v1.9M1779.9 1242.2v3.6M1779.9 1247.4v1.9" stroke="#d3e4f3" stroke-width="16.72" fill="none"/>
<path d="M1382.3 938.7v3.6M1398.9 974.9v1.9M1415.5 1181.8v3.6M1481.7 1116.3v5.3" stroke="#1a5da7" stroke-width="16.72" fill="none"/>
<path d="M1382.3 942.1v1.9M1398.9 985.3v7.0M1548.0 1088.7v7.0" stroke="#18529d" stroke-width="16.72" fill="none"/>
<path d="M1398.9 923.2v3.6M1415.5 923.2v1.9M1432.0 1073.2v1.9M1448.6 983.5v1.9M1465.2 1193.9v1.9M1481.7 1045.6v1.9M1481.7 1078.4v1.9M1498.3 911.1v1.9M1498.3 1162.9v1.9M1514.9 1252.6v1.9M1531.4 1228.4v10.5M1548.0 930.1v1.9M1548.0 966.3v1.9M1548.0 1237.0v1.9M1564.6 1047.3v1.9M1564.6 1145.6v1.9M1564.6 1235.3v3.6M1564.6 1250.8v5.3M1581.1 942.1v1.9M1581.1 1035.3v1.9M1581.1 1097.3v1.9M1581.1 1228.4v3.6M1581.1 1235.3v1.9M1581.1 1238.8v1.9M1597.7 1197.4v1.9M1614.3 988.7v1.9M1614.3 1242.2v1.9M1630.8 987.0v1.9M1630.8 1014.6v3.6M1647.4 1202.5v1.9M1713.7 1238.8v1.9M1713.7 1249.1v1.9M1730.2 1202.5v1.9M1746.8 1202.5v1.9M1779.9 987.0v1.9" stroke="#a9cde7" stroke-width="16.72" fill="none"/>
<path d="M1398.9 971.5v3.6M1398.9 993.9v1.9M1398.9 997.3v3.6M1415.5 1185.3v3.6M1448.6 999.0v1.9M1481.7 1121.5v3.6M1498.3 1054.2v1.9M1498.3 1057.7v1.9M1514.9 1100.8v3.6M1548.0 1095.6v1.9" stroke="#1e67af" stroke-width="16.72" fill="none"/>
<path d="M1548.0 1043.9v1.9M1630.8 1240.5v7.0M1647.4 1240.5v3.6M1763.4 1247.4v1.9" stroke="#e4eef8" stroke-width="16.72" fill="none"/>
<path d="M1581.1 974.9v1.9" stroke="#edf4fb" stroke-width="16.72" fill="none"/>
<rect x="1357.50" y="911.10" width="430.70" height="344.90" fill="none" stroke="#111" stroke-width="1.8"/>
<text x="1317.90" y="1087.70" font-size="17.9" text-anchor="middle" stroke="#1c1c1c" stroke-width="0.25" fill="#1c1c1c" transform="rotate(-90 1317.90 1087.70)">Fraction L2 (L3/L3 + L4 Modules)</text>
<line x1="1804.20" y1="914.60" x2="1804.20" y2="979.10" stroke="#111" stroke-width="1.5"/>
<path d="M1800.10 920.00L1804.20 911.60L1808.30 920.00L1804.20 917.65Z" fill="#111"/>
<line x1="1804.20" y1="1252.50" x2="1804.20" y2="1179.00" stroke="#111" stroke-width="1.5"/>
<path d="M1800.10 1247.10L1804.20 1255.50L1808.30 1247.10L1804.20 1249.45Z" fill="#111"/>
<text x="1797.90" y="1081.30" font-size="17.9" text-anchor="middle" stroke="#1c1c1c" stroke-width="0.25" fill="#1c1c1c" transform="rotate(90 1797.90 1081.30)">Co-association Patterns</text>
<text x="1373.28" y="1264.70" font-size="17.65" text-anchor="end" stroke="#1c1c1c" stroke-width="0.25" fill="#1c1c1c" transform="rotate(-90 1373.28 1264.70)">PQM.1</text>
<text x="1389.85" y="1264.70" font-size="17.65" text-anchor="end" stroke="#1c1c1c" stroke-width="0.25" fill="#1c1c1c" transform="rotate(-90 1389.85 1264.70)">AMA.1</text>
<text x="1406.41" y="1264.70" font-size="17.65" text-anchor="end" stroke="#1c1c1c" stroke-width="0.25" fill="#1c1c1c" transform="rotate(-90 1406.41 1264.70)">PHA.4</text>
<text x="1422.98" y="1264.70" font-size="17.65" text-anchor="end" stroke="#1c1c1c" stroke-width="0.25" fill="#1c1c1c" transform="rotate(-90 1422.98 1264.70)">FKH.10</text>
<text x="1439.54" y="1264.70" font-size="17.65" text-anchor="end" stroke="#1c1c1c" stroke-width="0.25" fill="#1c1c1c" transform="rotate(-90 1439.54 1264.70)">NHR.11</text>
<text x="1456.11" y="1264.70" font-size="17.65" text-anchor="end" stroke="#1c1c1c" stroke-width="0.25" fill="#1c1c1c" transform="rotate(-90 1456.11 1264.70)">SAX.3</text>
<text x="1472.67" y="1264.70" font-size="17.65" text-anchor="end" stroke="#1c1c1c" stroke-width="0.25" fill="#1c1c1c" transform="rotate(-90 1472.67 1264.70)">JUN.1</text>
<text x="1489.24" y="1264.70" font-size="17.65" text-anchor="end" stroke="#1c1c1c" stroke-width="0.25" fill="#1c1c1c" transform="rotate(-90 1489.24 1264.70)">CEH.38</text>
<text x="1505.81" y="1264.70" font-size="17.65" text-anchor="end" stroke="#1c1c1c" stroke-width="0.25" fill="#1c1c1c" transform="rotate(-90 1505.81 1264.70)">UNC.62</text>
<text x="1522.37" y="1264.70" font-size="17.65" text-anchor="end" stroke="#1c1c1c" stroke-width="0.25" fill="#1c1c1c" transform="rotate(-90 1522.37 1264.70)">NHR.77</text>
<text x="1538.94" y="1264.70" font-size="17.65" text-anchor="end" stroke="#1c1c1c" stroke-width="0.25" fill="#1c1c1c" transform="rotate(-90 1538.94 1264.70)">GEI.11</text>
<text x="1555.50" y="1264.70" font-size="17.65" text-anchor="end" stroke="#1c1c1c" stroke-width="0.25" fill="#1c1c1c" transform="rotate(-90 1555.50 1264.70)">R02D3.7</text>
<text x="1572.07" y="1264.70" font-size="17.65" text-anchor="end" stroke="#1c1c1c" stroke-width="0.25" fill="#1c1c1c" transform="rotate(-90 1572.07 1264.70)">ZAG.1</text>
<text x="1588.63" y="1264.70" font-size="17.65" text-anchor="end" stroke="#1c1c1c" stroke-width="0.25" fill="#1c1c1c" transform="rotate(-90 1588.63 1264.70)">ZK546.5</text>
<text x="1605.20" y="1264.70" font-size="17.65" text-anchor="end" stroke="#1c1c1c" stroke-width="0.25" fill="#1c1c1c" transform="rotate(-90 1605.20 1264.70)">CES.1</text>
<text x="1621.76" y="1264.70" font-size="17.65" text-anchor="end" stroke="#1c1c1c" stroke-width="0.25" fill="#1c1c1c" transform="rotate(-90 1621.76 1264.70)">LIN.15B</text>
<text x="1638.33" y="1264.70" font-size="17.65" text-anchor="end" stroke="#1c1c1c" stroke-width="0.25" fill="#1c1c1c" transform="rotate(-90 1638.33 1264.70)">FOS.1</text>
<text x="1654.89" y="1264.70" font-size="17.65" text-anchor="end" stroke="#1c1c1c" stroke-width="0.25" fill="#1c1c1c" transform="rotate(-90 1654.89 1264.70)">NHR.28</text>
<text x="1671.46" y="1264.70" font-size="17.65" text-anchor="end" stroke="#1c1c1c" stroke-width="0.25" fill="#1c1c1c" transform="rotate(-90 1671.46 1264.70)">ALY.2</text>
<text x="1688.03" y="1264.70" font-size="17.65" text-anchor="end" stroke="#1c1c1c" stroke-width="0.25" fill="#1c1c1c" transform="rotate(-90 1688.03 1264.70)">F45C12.2</text>
<text x="1704.59" y="1264.70" font-size="17.65" text-anchor="end" stroke="#1c1c1c" stroke-width="0.25" fill="#1c1c1c" transform="rotate(-90 1704.59 1264.70)">NHR.76</text>
<text x="1721.16" y="1264.70" font-size="17.65" text-anchor="end" stroke="#1c1c1c" stroke-width="0.25" fill="#1c1c1c" transform="rotate(-90 1721.16 1264.70)">SKN.1</text>
<text x="1737.72" y="1264.70" font-size="17.65" text-anchor="end" stroke="#1c1c1c" stroke-width="0.25" fill="#1c1c1c" transform="rotate(-90 1737.72 1264.70)">ZTF.11</text>
<text x="1754.29" y="1264.70" font-size="17.65" text-anchor="end" stroke="#1c1c1c" stroke-width="0.25" fill="#1c1c1c" transform="rotate(-90 1754.29 1264.70)">UNC.39</text>
<text x="1770.85" y="1264.70" font-size="17.65" text-anchor="end" stroke="#1c1c1c" stroke-width="0.25" fill="#1c1c1c" transform="rotate(-90 1770.85 1264.70)">NHR.12</text>
<text x="1787.42" y="1264.70" font-size="17.65" text-anchor="end" stroke="#1c1c1c" stroke-width="0.25" fill="#1c1c1c" transform="rotate(-90 1787.42 1264.70)">NHR.237</text>
<text x="4.90" y="1400.80" font-size="29.5" text-anchor="start" font-weight="bold" fill="#1c1c1c">h</text>
<text x="335.60" y="1414.20" font-size="17.9" text-anchor="middle" stroke="#1c1c1c" stroke-width="0.25" fill="#1c1c1c">Larval L1 vs. Larval L2</text>
<line x1="123.30" y1="1431.30" x2="123.30" y2="1786.60" stroke="#111" stroke-width="1.95"/>
<line x1="123.30" y1="1786.60" x2="111.60" y2="1786.60" stroke="#111" stroke-width="1.95"/>
<text x="95.50" y="1786.60" font-size="17.4" text-anchor="middle" stroke="#1c1c1c" stroke-width="0.25" fill="#1c1c1c" transform="rotate(-90 95.50 1786.60)">0</text>
<line x1="123.30" y1="1715.54" x2="111.60" y2="1715.54" stroke="#111" stroke-width="1.95"/>
<text x="95.50" y="1715.54" font-size="17.4" text-anchor="middle" stroke="#1c1c1c" stroke-width="0.25" fill="#1c1c1c" transform="rotate(-90 95.50 1715.54)">20</text>
<line x1="123.30" y1="1644.48" x2="111.60" y2="1644.48" stroke="#111" stroke-width="1.95"/>
<text x="95.50" y="1644.48" font-size="17.4" text-anchor="middle" stroke="#1c1c1c" stroke-width="0.25" fill="#1c1c1c" transform="rotate(-90 95.50 1644.48)">40</text>
<line x1="123.30" y1="1573.42" x2="111.60" y2="1573.42" stroke="#111" stroke-width="1.95"/>
<text x="95.50" y="1573.42" font-size="17.4" text-anchor="middle" stroke="#1c1c1c" stroke-width="0.25" fill="#1c1c1c" transform="rotate(-90 95.50 1573.42)">60</text>
<line x1="123.30" y1="1502.36" x2="111.60" y2="1502.36" stroke="#111" stroke-width="1.95"/>
<text x="95.50" y="1502.36" font-size="17.4" text-anchor="middle" stroke="#1c1c1c" stroke-width="0.25" fill="#1c1c1c" transform="rotate(-90 95.50 1502.36)">80</text>
<line x1="123.30" y1="1431.30" x2="111.60" y2="1431.30" stroke="#111" stroke-width="1.95"/>
<text x="95.50" y="1431.30" font-size="17.4" text-anchor="middle" stroke="#1c1c1c" stroke-width="0.25" fill="#1c1c1c" transform="rotate(-90 95.50 1431.30)">100</text>
<text x="64.40" y="1605.30" font-size="17.9" text-anchor="middle" stroke="#1c1c1c" stroke-width="0.25" fill="#1c1c1c" transform="rotate(-90 64.40 1605.30)">Stage-specific Co-association Patterns (%)</text>
<line x1="199.80" y1="1801.70" x2="526.20" y2="1801.70" stroke="#111" stroke-width="1.95"/>
<line x1="199.80" y1="1801.70" x2="199.80" y2="1813.40" stroke="#111" stroke-width="1.95"/>
<text x="199.80" y="1844.90" font-size="18" text-anchor="middle" stroke="#1c1c1c" stroke-width="0.25" fill="#1c1c1c">2</text>
<line x1="281.40" y1="1801.70" x2="281.40" y2="1813.40" stroke="#111" stroke-width="1.95"/>
<text x="281.40" y="1844.90" font-size="18" text-anchor="middle" stroke="#1c1c1c" stroke-width="0.25" fill="#1c1c1c">4</text>
<line x1="363.00" y1="1801.70" x2="363.00" y2="1813.40" stroke="#111" stroke-width="1.95"/>
<text x="363.00" y="1844.90" font-size="18" text-anchor="middle" stroke="#1c1c1c" stroke-width="0.25" fill="#1c1c1c">6</text>
<line x1="444.60" y1="1801.70" x2="444.60" y2="1813.40" stroke="#111" stroke-width="1.95"/>
<text x="444.60" y="1844.90" font-size="18" text-anchor="middle" stroke="#1c1c1c" stroke-width="0.25" fill="#1c1c1c">8</text>
<line x1="526.20" y1="1801.70" x2="526.20" y2="1813.40" stroke="#111" stroke-width="1.95"/>
<text x="526.20" y="1844.90" font-size="18" text-anchor="middle" stroke="#1c1c1c" stroke-width="0.25" fill="#1c1c1c">10</text>
<text x="355.30" y="1878.80" font-size="17.9" text-anchor="middle" stroke="#1c1c1c" stroke-width="0.25" fill="#1c1c1c">Factor Index (Difference Rank)</text>
<line x1="123.30" y1="1538.60" x2="539.60" y2="1538.60" stroke="#b4b5b7" stroke-width="1.8" stroke-dasharray="9.8 11.5"/>
<ellipse cx="158.87" cy="1566.74" rx="5.0" ry="5.5" fill="#3e7ec4"/>
<ellipse cx="199.76" cy="1551.99" rx="5.0" ry="5.5" fill="#3e7ec4"/>
<ellipse cx="240.65" cy="1553.34" rx="5.0" ry="5.5" fill="#3e7ec4"/>
<ellipse cx="281.54" cy="1559.03" rx="5.0" ry="5.5" fill="#3e7ec4"/>
<ellipse cx="322.09" cy="1558.03" rx="5.0" ry="5.5" fill="#3e7ec4"/>
<ellipse cx="362.98" cy="1555.01" rx="5.0" ry="5.5" fill="#3e7ec4"/>
<ellipse cx="403.87" cy="1550.99" rx="5.0" ry="5.5" fill="#3e7ec4"/>
<ellipse cx="444.76" cy="1547.64" rx="5.0" ry="5.5" fill="#3e7ec4"/>
<ellipse cx="485.65" cy="1540.60" rx="5.0" ry="5.5" fill="#3e7ec4"/>
<ellipse cx="526.21" cy="1539.93" rx="5.0" ry="5.5" fill="#3e7ec4"/>
<ellipse cx="199.76" cy="1583.84" rx="5.0" ry="5.5" fill="#e8262c"/>
<ellipse cx="240.65" cy="1579.81" rx="5.0" ry="5.5" fill="#e8262c"/>
<ellipse cx="281.54" cy="1637.46" rx="5.0" ry="5.5" fill="#e8262c"/>
<ellipse cx="322.09" cy="1640.48" rx="5.0" ry="5.5" fill="#e8262c"/>
<ellipse cx="362.98" cy="1681.37" rx="5.0" ry="5.5" fill="#e8262c"/>
<ellipse cx="403.87" cy="1658.91" rx="5.0" ry="5.5" fill="#e8262c"/>
<ellipse cx="444.76" cy="1718.91" rx="5.0" ry="5.5" fill="#e8262c"/>
<ellipse cx="485.65" cy="1754.43" rx="5.0" ry="5.5" fill="#e8262c"/>
<ellipse cx="526.21" cy="1759.13" rx="5.0" ry="5.5" fill="#e8262c"/>
<text x="138.09" y="1564.40" font-size="16.6" text-anchor="start" stroke="#1c1c1c" stroke-width="0.25" fill="#1c1c1c" transform="rotate(-45 138.09 1564.40)">SAX-3</text>
<text x="180.99" y="1548.64" font-size="16.6" text-anchor="start" stroke="#1c1c1c" stroke-width="0.25" fill="#1c1c1c" transform="rotate(-45 180.99 1548.64)">ALY-2</text>
<text x="217.86" y="1555.35" font-size="16.6" text-anchor="start" stroke="#1c1c1c" stroke-width="0.25" fill="#1c1c1c" transform="rotate(-45 217.86 1555.35)">NHR-11</text>
<text x="260.42" y="1556.35" font-size="16.6" text-anchor="start" stroke="#1c1c1c" stroke-width="0.25" fill="#1c1c1c" transform="rotate(-45 260.42 1556.35)">SKN-1</text>
<text x="299.30" y="1559.70" font-size="16.6" text-anchor="start" stroke="#1c1c1c" stroke-width="0.25" fill="#1c1c1c" transform="rotate(-45 299.30 1559.70)">NHR-77</text>
<text x="342.54" y="1553.00" font-size="16.6" text-anchor="start" stroke="#1c1c1c" stroke-width="0.25" fill="#1c1c1c" transform="rotate(-45 342.54 1553.00)">ZAG-1</text>
<text x="382.76" y="1549.31" font-size="16.6" text-anchor="start" stroke="#1c1c1c" stroke-width="0.25" fill="#1c1c1c" transform="rotate(-45 382.76 1549.31)">FOS-1</text>
<text x="422.98" y="1545.96" font-size="16.6" text-anchor="start" stroke="#1c1c1c" stroke-width="0.25" fill="#1c1c1c" transform="rotate(-45 422.98 1545.96)">LIN-39</text>
<text x="459.85" y="1544.29" font-size="16.6" text-anchor="start" stroke="#1c1c1c" stroke-width="0.25" fill="#1c1c1c" transform="rotate(-45 459.85 1544.29)">NHR-237</text>
<text x="503.42" y="1539.26" font-size="16.6" text-anchor="start" stroke="#1c1c1c" stroke-width="0.25" fill="#1c1c1c" transform="rotate(-45 503.42 1539.26)">ZTF-11</text>
<ellipse cx="151.83" cy="1735.33" rx="7.9" ry="8.7" fill="#3f74c0"/>
<text x="170.93" y="1740.93" font-size="17.9" text-anchor="start" stroke="#1c1c1c" stroke-width="0.25" fill="#1c1c1c">Removed Individually</text>
<ellipse cx="151.83" cy="1769.52" rx="7.9" ry="8.7" fill="#e8262c"/>
<text x="170.93" y="1775.12" font-size="17.9" text-anchor="start" stroke="#1c1c1c" stroke-width="0.25" fill="#1c1c1c">Removed Sequentially</text>
<text x="618.50" y="1400.80" font-size="29.5" text-anchor="start" font-weight="bold" fill="#1c1c1c">i</text>
<text x="945.50" y="1413.60" font-size="17.9" text-anchor="middle" stroke="#1c1c1c" stroke-width="0.25" fill="#1c1c1c">Larval L2 vs. Larval L3</text>
<line x1="734.00" y1="1431.30" x2="734.00" y2="1786.60" stroke="#111" stroke-width="1.95"/>
<line x1="734.00" y1="1786.60" x2="722.30" y2="1786.60" stroke="#111" stroke-width="1.95"/>
<text x="707.20" y="1786.60" font-size="17.4" text-anchor="middle" stroke="#1c1c1c" stroke-width="0.25" fill="#1c1c1c" transform="rotate(-90 707.20 1786.60)">0</text>
<line x1="734.00" y1="1715.54" x2="722.30" y2="1715.54" stroke="#111" stroke-width="1.95"/>
<text x="707.20" y="1715.54" font-size="17.4" text-anchor="middle" stroke="#1c1c1c" stroke-width="0.25" fill="#1c1c1c" transform="rotate(-90 707.20 1715.54)">20</text>
<line x1="734.00" y1="1644.48" x2="722.30" y2="1644.48" stroke="#111" stroke-width="1.95"/>
<text x="707.20" y="1644.48" font-size="17.4" text-anchor="middle" stroke="#1c1c1c" stroke-width="0.25" fill="#1c1c1c" transform="rotate(-90 707.20 1644.48)">40</text>
<line x1="734.00" y1="1573.42" x2="722.30" y2="1573.42" stroke="#111" stroke-width="1.95"/>
<text x="707.20" y="1573.42" font-size="17.4" text-anchor="middle" stroke="#1c1c1c" stroke-width="0.25" fill="#1c1c1c" transform="rotate(-90 707.20 1573.42)">60</text>
<line x1="734.00" y1="1502.36" x2="722.30" y2="1502.36" stroke="#111" stroke-width="1.95"/>
<text x="707.20" y="1502.36" font-size="17.4" text-anchor="middle" stroke="#1c1c1c" stroke-width="0.25" fill="#1c1c1c" transform="rotate(-90 707.20 1502.36)">80</text>
<line x1="734.00" y1="1431.30" x2="722.30" y2="1431.30" stroke="#111" stroke-width="1.95"/>
<text x="707.20" y="1431.30" font-size="17.4" text-anchor="middle" stroke="#1c1c1c" stroke-width="0.25" fill="#1c1c1c" transform="rotate(-90 707.20 1431.30)">100</text>
<text x="676.40" y="1605.30" font-size="17.9" text-anchor="middle" stroke="#1c1c1c" stroke-width="0.25" fill="#1c1c1c" transform="rotate(-90 676.40 1605.30)">Stage-specific Co-association Patterns (%)</text>
<line x1="810.10" y1="1801.70" x2="1133.90" y2="1801.70" stroke="#111" stroke-width="1.95"/>
<line x1="810.10" y1="1801.70" x2="810.10" y2="1813.40" stroke="#111" stroke-width="1.95"/>
<text x="810.10" y="1844.90" font-size="18" text-anchor="middle" stroke="#1c1c1c" stroke-width="0.25" fill="#1c1c1c">2</text>
<line x1="891.05" y1="1801.70" x2="891.05" y2="1813.40" stroke="#111" stroke-width="1.95"/>
<text x="891.05" y="1844.90" font-size="18" text-anchor="middle" stroke="#1c1c1c" stroke-width="0.25" fill="#1c1c1c">4</text>
<line x1="972.00" y1="1801.70" x2="972.00" y2="1813.40" stroke="#111" stroke-width="1.95"/>
<text x="972.00" y="1844.90" font-size="18" text-anchor="middle" stroke="#1c1c1c" stroke-width="0.25" fill="#1c1c1c">6</text>
<line x1="1052.95" y1="1801.70" x2="1052.95" y2="1813.40" stroke="#111" stroke-width="1.95"/>
<text x="1052.95" y="1844.90" font-size="18" text-anchor="middle" stroke="#1c1c1c" stroke-width="0.25" fill="#1c1c1c">8</text>
<line x1="1133.90" y1="1801.70" x2="1133.90" y2="1813.40" stroke="#111" stroke-width="1.95"/>
<text x="1133.90" y="1844.90" font-size="18" text-anchor="middle" stroke="#1c1c1c" stroke-width="0.25" fill="#1c1c1c">10</text>
<text x="965.30" y="1878.80" font-size="17.9" text-anchor="middle" stroke="#1c1c1c" stroke-width="0.25" fill="#1c1c1c">Factor Index (Difference Rank)</text>
<line x1="734.00" y1="1498.00" x2="1149.60" y2="1498.00" stroke="#b4b5b7" stroke-width="1.8" stroke-dasharray="9.8 11.5"/>
<ellipse cx="769.54" cy="1516.13" rx="5.0" ry="5.5" fill="#3e7ec4"/>
<ellipse cx="810.09" cy="1514.46" rx="5.0" ry="5.5" fill="#3e7ec4"/>
<ellipse cx="850.65" cy="1489.65" rx="5.0" ry="5.5" fill="#3e7ec4"/>
<ellipse cx="890.87" cy="1492.67" rx="5.0" ry="5.5" fill="#3e7ec4"/>
<ellipse cx="931.42" cy="1495.69" rx="5.0" ry="5.5" fill="#3e7ec4"/>
<ellipse cx="971.98" cy="1496.36" rx="5.0" ry="5.5" fill="#3e7ec4"/>
<ellipse cx="1012.53" cy="1488.98" rx="5.0" ry="5.5" fill="#3e7ec4"/>
<ellipse cx="1053.09" cy="1487.98" rx="5.0" ry="5.5" fill="#3e7ec4"/>
<ellipse cx="1093.64" cy="1499.37" rx="5.0" ry="5.5" fill="#3e7ec4"/>
<ellipse cx="1133.86" cy="1506.08" rx="5.0" ry="5.5" fill="#3e7ec4"/>
<ellipse cx="810.09" cy="1561.71" rx="5.0" ry="5.5" fill="#e8262c"/>
<ellipse cx="850.65" cy="1587.52" rx="5.0" ry="5.5" fill="#e8262c"/>
<ellipse cx="890.87" cy="1604.62" rx="5.0" ry="5.5" fill="#e8262c"/>
<ellipse cx="931.42" cy="1647.52" rx="5.0" ry="5.5" fill="#e8262c"/>
<ellipse cx="971.98" cy="1654.89" rx="5.0" ry="5.5" fill="#e8262c"/>
<ellipse cx="1012.53" cy="1665.62" rx="5.0" ry="5.5" fill="#e8262c"/>
<ellipse cx="1053.09" cy="1686.40" rx="5.0" ry="5.5" fill="#e8262c"/>
<ellipse cx="1093.64" cy="1685.39" rx="5.0" ry="5.5" fill="#e8262c"/>
<ellipse cx="1133.86" cy="1712.87" rx="5.0" ry="5.5" fill="#e8262c"/>
<text x="748.09" y="1517.47" font-size="16.6" text-anchor="start" stroke="#1c1c1c" stroke-width="0.25" fill="#1c1c1c" transform="rotate(-45 748.09 1517.47)">NHR-23</text>
<text x="789.98" y="1512.45" font-size="16.6" text-anchor="start" stroke="#1c1c1c" stroke-width="0.25" fill="#1c1c1c" transform="rotate(-45 789.98 1512.45)">FOS-1</text>
<text x="828.53" y="1490.66" font-size="16.6" text-anchor="start" stroke="#1c1c1c" stroke-width="0.25" fill="#1c1c1c" transform="rotate(-45 828.53 1490.66)">NHR-11</text>
<text x="872.10" y="1487.31" font-size="16.6" text-anchor="start" stroke="#1c1c1c" stroke-width="0.25" fill="#1c1c1c" transform="rotate(-45 872.10 1487.31)">ELT-1</text>
<text x="910.64" y="1492.34" font-size="16.6" text-anchor="start" stroke="#1c1c1c" stroke-width="0.25" fill="#1c1c1c" transform="rotate(-45 910.64 1492.34)">ZAG-1</text>
<text x="949.19" y="1495.69" font-size="16.6" text-anchor="start" stroke="#1c1c1c" stroke-width="0.25" fill="#1c1c1c" transform="rotate(-45 949.19 1495.69)">CEH-16</text>
<text x="986.06" y="1492.34" font-size="16.6" text-anchor="start" stroke="#1c1c1c" stroke-width="0.25" fill="#1c1c1c" transform="rotate(-45 986.06 1492.34)">NHR-237</text>
<text x="1036.33" y="1488.98" font-size="16.6" text-anchor="start" stroke="#1c1c1c" stroke-width="0.25" fill="#1c1c1c" transform="rotate(-45 1036.33 1488.98)">R02D3.7</text>
<text x="1071.52" y="1500.71" font-size="16.6" text-anchor="start" stroke="#1c1c1c" stroke-width="0.25" fill="#1c1c1c" transform="rotate(-45 1071.52 1500.71)">NHR-12</text>
<text x="1111.74" y="1505.74" font-size="16.6" text-anchor="start" stroke="#1c1c1c" stroke-width="0.25" fill="#1c1c1c" transform="rotate(-45 1111.74 1505.74)">UNC-62</text>
<ellipse cx="763.17" cy="1735.33" rx="7.9" ry="8.7" fill="#3f74c0"/>
<text x="781.60" y="1740.93" font-size="17.9" text-anchor="start" stroke="#1c1c1c" stroke-width="0.25" fill="#1c1c1c">Removed Individually</text>
<ellipse cx="763.17" cy="1769.52" rx="7.9" ry="8.7" fill="#e8262c"/>
<text x="781.60" y="1775.12" font-size="17.9" text-anchor="start" stroke="#1c1c1c" stroke-width="0.25" fill="#1c1c1c">Removed Sequentially</text>
<text x="1246.30" y="1398.30" font-size="29.5" text-anchor="start" font-weight="bold" fill="#1c1c1c">j</text>
<text x="1584.90" y="1410.90" font-size="17.9" text-anchor="middle" stroke="#1c1c1c" stroke-width="0.25" fill="#1c1c1c">Larval L3 vs. Larval L4</text>
<line x1="1372.60" y1="1428.00" x2="1372.60" y2="1783.90" stroke="#111" stroke-width="1.95"/>
<line x1="1372.60" y1="1783.90" x2="1360.80" y2="1783.90" stroke="#111" stroke-width="1.95"/>
<text x="1345.70" y="1783.90" font-size="17.4" text-anchor="middle" stroke="#1c1c1c" stroke-width="0.25" fill="#1c1c1c" transform="rotate(-90 1345.70 1783.90)">0</text>
<line x1="1372.60" y1="1712.72" x2="1360.80" y2="1712.72" stroke="#111" stroke-width="1.95"/>
<text x="1345.70" y="1712.72" font-size="17.4" text-anchor="middle" stroke="#1c1c1c" stroke-width="0.25" fill="#1c1c1c" transform="rotate(-90 1345.70 1712.72)">20</text>
<line x1="1372.60" y1="1641.54" x2="1360.80" y2="1641.54" stroke="#111" stroke-width="1.95"/>
<text x="1345.70" y="1641.54" font-size="17.4" text-anchor="middle" stroke="#1c1c1c" stroke-width="0.25" fill="#1c1c1c" transform="rotate(-90 1345.70 1641.54)">40</text>
<line x1="1372.60" y1="1570.36" x2="1360.80" y2="1570.36" stroke="#111" stroke-width="1.95"/>
<text x="1345.70" y="1570.36" font-size="17.4" text-anchor="middle" stroke="#1c1c1c" stroke-width="0.25" fill="#1c1c1c" transform="rotate(-90 1345.70 1570.36)">60</text>
<line x1="1372.60" y1="1499.18" x2="1360.80" y2="1499.18" stroke="#111" stroke-width="1.95"/>
<text x="1345.70" y="1499.18" font-size="17.4" text-anchor="middle" stroke="#1c1c1c" stroke-width="0.25" fill="#1c1c1c" transform="rotate(-90 1345.70 1499.18)">80</text>
<line x1="1372.60" y1="1428.00" x2="1360.80" y2="1428.00" stroke="#111" stroke-width="1.95"/>
<text x="1345.70" y="1428.00" font-size="17.4" text-anchor="middle" stroke="#1c1c1c" stroke-width="0.25" fill="#1c1c1c" transform="rotate(-90 1345.70 1428.00)">100</text>
<text x="1314.90" y="1602.00" font-size="17.9" text-anchor="middle" stroke="#1c1c1c" stroke-width="0.25" fill="#1c1c1c" transform="rotate(-90 1314.90 1602.00)">Stage-specific Co-association Patterns (%)</text>
<line x1="1449.00" y1="1798.30" x2="1776.40" y2="1798.30" stroke="#111" stroke-width="1.95"/>
<line x1="1449.00" y1="1798.30" x2="1449.00" y2="1810.00" stroke="#111" stroke-width="1.95"/>
<text x="1449.00" y="1841.50" font-size="18" text-anchor="middle" stroke="#1c1c1c" stroke-width="0.25" fill="#1c1c1c">2</text>
<line x1="1530.85" y1="1798.30" x2="1530.85" y2="1810.00" stroke="#111" stroke-width="1.95"/>
<text x="1530.85" y="1841.50" font-size="18" text-anchor="middle" stroke="#1c1c1c" stroke-width="0.25" fill="#1c1c1c">4</text>
<line x1="1612.70" y1="1798.30" x2="1612.70" y2="1810.00" stroke="#111" stroke-width="1.95"/>
<text x="1612.70" y="1841.50" font-size="18" text-anchor="middle" stroke="#1c1c1c" stroke-width="0.25" fill="#1c1c1c">6</text>
<line x1="1694.55" y1="1798.30" x2="1694.55" y2="1810.00" stroke="#111" stroke-width="1.95"/>
<text x="1694.55" y="1841.50" font-size="18" text-anchor="middle" stroke="#1c1c1c" stroke-width="0.25" fill="#1c1c1c">8</text>
<line x1="1776.40" y1="1798.30" x2="1776.40" y2="1810.00" stroke="#111" stroke-width="1.95"/>
<text x="1776.40" y="1841.50" font-size="18" text-anchor="middle" stroke="#1c1c1c" stroke-width="0.25" fill="#1c1c1c">10</text>
<text x="1604.80" y="1875.40" font-size="17.9" text-anchor="middle" stroke="#1c1c1c" stroke-width="0.25" fill="#1c1c1c">Factor Index (Difference Rank)</text>
<line x1="1372.60" y1="1488.30" x2="1788.20" y2="1488.30" stroke="#b4b5b7" stroke-width="1.8" stroke-dasharray="9.8 11.5"/>
<ellipse cx="1408.08" cy="1519.15" rx="5.0" ry="5.5" fill="#3e7ec4"/>
<ellipse cx="1448.97" cy="1491.33" rx="5.0" ry="5.5" fill="#3e7ec4"/>
<ellipse cx="1489.86" cy="1498.37" rx="5.0" ry="5.5" fill="#3e7ec4"/>
<ellipse cx="1531.09" cy="1485.97" rx="5.0" ry="5.5" fill="#3e7ec4"/>
<ellipse cx="1571.98" cy="1486.30" rx="5.0" ry="5.5" fill="#3e7ec4"/>
<ellipse cx="1612.87" cy="1488.31" rx="5.0" ry="5.5" fill="#3e7ec4"/>
<ellipse cx="1653.76" cy="1478.59" rx="5.0" ry="5.5" fill="#3e7ec4"/>
<ellipse cx="1694.65" cy="1486.97" rx="5.0" ry="5.5" fill="#3e7ec4"/>
<ellipse cx="1735.54" cy="1484.29" rx="5.0" ry="5.5" fill="#3e7ec4"/>
<ellipse cx="1776.43" cy="1488.65" rx="5.0" ry="5.5" fill="#3e7ec4"/>
<ellipse cx="1448.97" cy="1519.15" rx="5.0" ry="5.5" fill="#e8262c"/>
<ellipse cx="1489.86" cy="1535.91" rx="5.0" ry="5.5" fill="#e8262c"/>
<ellipse cx="1531.09" cy="1544.62" rx="5.0" ry="5.5" fill="#e8262c"/>
<ellipse cx="1571.98" cy="1569.42" rx="5.0" ry="5.5" fill="#e8262c"/>
<ellipse cx="1612.87" cy="1576.80" rx="5.0" ry="5.5" fill="#e8262c"/>
<ellipse cx="1653.76" cy="1610.65" rx="5.0" ry="5.5" fill="#e8262c"/>
<ellipse cx="1694.65" cy="1614.67" rx="5.0" ry="5.5" fill="#e8262c"/>
<ellipse cx="1735.54" cy="1617.69" rx="5.0" ry="5.5" fill="#e8262c"/>
<ellipse cx="1776.43" cy="1626.40" rx="5.0" ry="5.5" fill="#e8262c"/>
<text x="1386.63" y="1520.82" font-size="16.6" text-anchor="start" stroke="#1c1c1c" stroke-width="0.25" fill="#1c1c1c" transform="rotate(-45 1386.63 1520.82)">NHR-28</text>
<text x="1430.20" y="1490.66" font-size="16.6" text-anchor="start" stroke="#1c1c1c" stroke-width="0.25" fill="#1c1c1c" transform="rotate(-45 1430.20 1490.66)">SKN-1</text>
<text x="1468.75" y="1500.71" font-size="16.6" text-anchor="start" stroke="#1c1c1c" stroke-width="0.25" fill="#1c1c1c" transform="rotate(-45 1468.75 1500.71)">LIN-15B</text>
<text x="1510.64" y="1483.96" font-size="16.6" text-anchor="start" stroke="#1c1c1c" stroke-width="0.25" fill="#1c1c1c" transform="rotate(-45 1510.64 1483.96)">GEI-11</text>
<text x="1549.19" y="1487.31" font-size="16.6" text-anchor="start" stroke="#1c1c1c" stroke-width="0.25" fill="#1c1c1c" transform="rotate(-45 1549.19 1487.31)">NHR-77</text>
<text x="1592.76" y="1490.66" font-size="16.6" text-anchor="start" stroke="#1c1c1c" stroke-width="0.25" fill="#1c1c1c" transform="rotate(-45 1592.76 1490.66)">F45C12.2</text>
<text x="1632.98" y="1477.25" font-size="16.6" text-anchor="start" stroke="#1c1c1c" stroke-width="0.25" fill="#1c1c1c" transform="rotate(-45 1632.98 1477.25)">PHA-4</text>
<text x="1674.87" y="1482.28" font-size="16.6" text-anchor="start" stroke="#1c1c1c" stroke-width="0.25" fill="#1c1c1c" transform="rotate(-45 1674.87 1482.28)">R02D3.7</text>
<text x="1716.77" y="1482.28" font-size="16.6" text-anchor="start" stroke="#1c1c1c" stroke-width="0.25" fill="#1c1c1c" transform="rotate(-45 1716.77 1482.28)">CES-1</text>
<text x="1753.64" y="1490.66" font-size="16.6" text-anchor="start" stroke="#1c1c1c" stroke-width="0.25" fill="#1c1c1c" transform="rotate(-45 1753.64 1490.66)">NHR-76</text>
<ellipse cx="1401.71" cy="1732.65" rx="7.9" ry="8.7" fill="#3f74c0"/>
<text x="1420.15" y="1738.25" font-size="17.9" text-anchor="start" stroke="#1c1c1c" stroke-width="0.25" fill="#1c1c1c">Removed Individually</text>
<ellipse cx="1401.71" cy="1766.50" rx="7.9" ry="8.7" fill="#e8262c"/>
<text x="1420.15" y="1772.10" font-size="17.9" text-anchor="start" stroke="#1c1c1c" stroke-width="0.25" fill="#1c1c1c">Removed Sequentially</text>
</svg>
</body></html>
